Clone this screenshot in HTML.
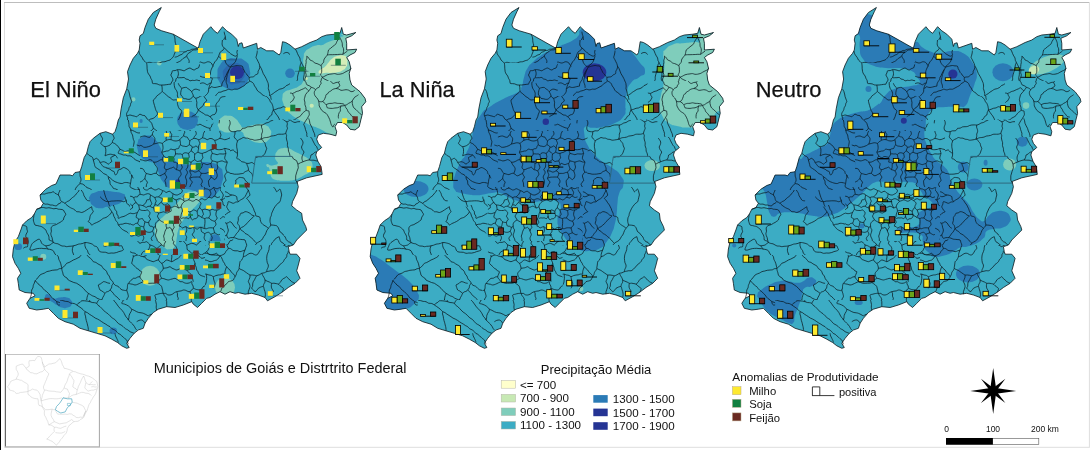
<!DOCTYPE html>
<html lang="pt">
<head>
<meta charset="utf-8">
<title>Anomalias de Produtividade - Goiás</title>
<style>
html,body{margin:0;padding:0;background:#fff;}
body{width:1092px;height:450px;overflow:hidden;position:relative;font-family:"Liberation Sans",sans-serif;}
svg{position:absolute;left:0;top:0;display:block;}
text{font-family:"Liberation Sans",sans-serif;fill:#111;}
</style>
</head>
<body>
<svg width="1092" height="450" viewBox="0 0 1092 450">
<defs>
<path id="st" d="M161.3,7.5 L159.2,11.7 L155.8,19.2 L154.2,25.0 L155.8,28.3 L161.7,30.8 L173.3,34.2 L198.3,48.3 L200.0,41.7 L203.3,34.2 L210.8,26.7 L214.2,30.8 L217.5,33.3 L222.5,26.7 L226.7,30.8 L231.7,34.2 L236.7,39.2 L238.3,46.5 L239.3,43.5 L242.0,42.8 L243.3,48.0 L256.7,43.3 L257.5,49.2 L260.8,47.5 L266.7,50.8 L273.3,50.8 L279.2,55.0 L280.8,52.5 L282.5,41.7 L285.8,42.5 L290.0,45.0 L295.0,49.2 L301.7,46.7 L310.0,42.5 L316.7,40.0 L321.7,36.7 L326.7,35.0 L335.0,34.2 L340.0,33.3 L341.7,27.5 L343.3,34.2 L346.7,35.0 L355.8,32.5 L351.7,35.8 L345.8,38.3 L346.7,43.3 L346.7,50.0 L356.7,49.2 L355.0,52.5 L350.0,55.0 L346.7,57.5 L349.2,61.7 L350.8,68.3 L349.2,73.3 L350.0,80.0 L351.7,85.0 L360.0,91.7 L365.0,98.3 L365.8,101.7 L361.7,106.7 L362.5,113.3 L360.8,120.0 L359.2,126.7 L355.0,130.0 L350.0,129.2 L346.7,125.0 L342.5,122.5 L337.5,122.5 L335.0,126.7 L336.7,131.7 L335.8,135.8 L330.0,134.2 L323.3,133.3 L318.3,135.0 L316.7,139.2 L318.3,143.3 L321.7,147.5 L316.7,151.7 L315.8,155.0 L317.8,161.1 L321.1,166.7 L322.2,174.4 L306.7,177.8 L297.0,181.5 L298.3,186.7 L296.7,193.3 L292.5,201.7 L291.7,205.8 L296.7,210.0 L301.7,213.3 L302.5,220.0 L305.8,226.7 L306.7,230.0 L301.7,235.0 L296.7,240.0 L293.3,245.0 L288.3,246.7 L289.2,251.7 L290.0,254.2 L296.7,254.2 L300.0,258.3 L298.3,265.0 L296.7,270.8 L300.0,278.3 L295.0,283.3 L288.3,287.5 L281.7,292.5 L275.0,296.7 L267.5,300.8 L265.0,297.5 L258.3,295.0 L251.7,293.3 L245.0,294.2 L238.3,292.5 L235.0,293.3 L230.0,291.7 L225.0,294.2 L220.0,291.7 L215.0,294.2 L210.0,297.5 L206.7,298.3 L201.7,303.3 L197.5,307.5 L193.3,304.2 L191.7,301.7 L183.3,305.0 L175.0,307.5 L166.7,306.7 L158.3,309.2 L153.3,312.5 L148.3,318.3 L145.0,323.3 L143.3,328.3 L138.3,330.0 L134.2,333.3 L130.0,338.3 L126.7,343.3 L129.2,347.5 L126.7,348.3 L121.7,345.8 L117.5,342.5 L111.7,339.2 L105.0,335.8 L96.7,333.3 L88.3,330.8 L80.0,328.3 L73.3,324.2 L65.0,321.7 L58.3,318.3 L53.3,313.3 L48.3,308.3 L43.3,309.2 L36.7,310.0 L29.2,308.3 L26.7,303.3 L30.0,298.3 L35.0,295.8 L33.3,293.3 L25.0,292.5 L19.2,290.0 L18.3,283.3 L17.5,278.3 L20.8,273.3 L18.3,268.3 L15.0,263.3 L12.5,256.7 L13.3,249.0 L15.0,241.7 L18.3,236.7 L20.8,230.0 L22.5,225.0 L26.7,220.8 L31.7,217.5 L34.2,214.2 L36.7,209.2 L40.8,207.5 L43.3,203.3 L40.8,200.0 L40.0,195.0 L45.8,189.2 L51.7,185.5 L56.0,184.0 L60.0,175.0 L70.0,175.0 L72.5,175.8 L75.0,172.5 L80.0,171.7 L81.7,166.7 L84.2,157.5 L86.7,153.3 L88.3,146.7 L90.0,141.7 L93.3,138.3 L100.0,133.3 L105.8,131.7 L112.5,134.2 L115.0,131.7 L116.7,126.7 L118.3,120.0 L120.0,117.0 L121.1,108.9 L123.3,97.8 L126.7,88.9 L128.5,79.0 L127.5,71.7 L130.0,65.0 L133.3,58.3 L137.5,53.3 L139.2,50.0 L140.0,43.3 L139.2,40.0 L140.0,35.8 L143.3,33.5 L145.0,27.5 L148.3,19.2 L153.3,12.5Z"/>
<clipPath id="cp"><use href="#st"/></clipPath>
<clipPath id="cA"><rect x="100" y="0" width="100" height="63"/><rect x="200" y="0" width="40" height="40"/></clipPath>
<clipPath id="cB"><rect x="100" y="63" width="100" height="57"/><rect x="200" y="96" width="40" height="24"/></clipPath>
<clipPath id="cC"><rect x="240" y="0" width="50" height="40"/><rect x="290" y="0" width="85" height="25"/></clipPath>
<clipPath id="cD"><rect x="240" y="96" width="50" height="24"/><rect x="300" y="137" width="70" height="18"/></clipPath>
<clipPath id="cE"><rect x="60" y="120" width="80" height="70"/><rect x="140" y="120" width="45" height="11"/></clipPath>
<clipPath id="cF"><rect x="185" y="120" width="115" height="11"/><rect x="230" y="131" width="70" height="56"/></clipPath>
<clipPath id="cG"><rect x="0" y="190" width="130" height="65"/></clipPath>
<clipPath id="cH"><rect x="130" y="241" width="95" height="14"/><rect x="220" y="187" width="5" height="54"/></clipPath>
<clipPath id="cI"><rect x="225" y="187" width="115" height="58"/><rect x="300" y="155" width="40" height="32"/></clipPath>
<clipPath id="cJ"><rect x="0" y="255" width="125" height="45"/><rect x="0" y="300" width="60" height="35"/></clipPath>
<clipPath id="cK"><rect x="125" y="255" width="80" height="45"/><rect x="180" y="300" width="25" height="30"/></clipPath>
<clipPath id="cL"><rect x="205" y="245" width="125" height="70"/></clipPath>
<clipPath id="cM"><rect x="60" y="300" width="120" height="55"/></clipPath>
<clipPath id="cN"><rect x="130" y="187" width="90" height="54"/></clipPath>
<clipPath id="cO"><rect x="140" y="131" width="90" height="56"/></clipPath>
<clipPath id="cP"><rect x="200" y="40" width="90" height="56"/></clipPath>
<clipPath id="cQ"><rect x="290" y="25" width="85" height="56"/></clipPath>
<clipPath id="cR"><rect x="290" y="81" width="85" height="39"/><rect x="300" y="120" width="75" height="17"/></clipPath>
<clipPath id="cS"><rect x="297" y="137" width="33" height="53"/></clipPath>
<g id="muni" fill="none" stroke="#0a161c" stroke-width="0.74" stroke-linejoin="round">
<g clip-path="url(#cA)">
<path d="M173.3,34.2 C173.5,34.6 174.2,35.7 174.5,36.6 C174.8,37.4 174.9,38.2 175.0,39.2 C175.1,40.1 175.0,41.2 175.2,42.1 C175.3,43.1 175.9,44.2 176.0,45.0 C176.1,45.8 175.5,46.5 175.5,47.2 C175.5,47.9 175.8,48.7 175.8,49.5 C175.8,50.2 175.6,50.9 175.3,51.7 C175.1,52.4 174.7,53.3 174.3,54.2 C174.0,55.0 173.8,56.0 173.3,56.7 C172.9,57.4 172.3,57.8 171.7,58.4 C171.1,58.9 170.7,59.6 170.0,60.0 C169.3,60.4 168.3,60.4 167.5,60.7 C166.6,61.0 165.8,61.5 165.0,61.7 C164.2,61.9 163.3,61.7 162.4,61.9 C161.6,62.1 160.8,62.4 160.0,62.7 C159.2,62.9 158.4,63.2 157.5,63.2 C156.7,63.3 155.8,63.0 155.0,63.0 C154.2,63.0 153.6,63.3 152.9,63.2 C152.2,63.1 151.5,62.6 150.8,62.5 C150.1,62.4 149.4,62.3 148.7,62.4 C148.0,62.5 147.3,63.1 146.7,63.0 C146.0,62.9 145.5,62.0 145.0,61.5 C144.4,61.0 143.8,60.6 143.3,60.0 C142.9,59.4 142.7,58.5 142.3,57.8 C141.9,57.1 141.3,56.5 140.8,55.8 C140.4,55.2 139.8,54.5 139.5,53.8 C139.3,53.0 139.2,51.7 139.2,51.3"/>
<path d="M174.7,57.2 C175.1,57.1 176.6,56.9 177.5,56.5 C178.4,56.1 179.2,55.4 180.0,55.0 C180.8,54.6 181.6,54.7 182.2,54.3 C182.8,53.8 183.1,52.8 183.7,52.4 C184.3,52.0 185.2,52.0 185.8,51.7 C186.5,51.4 187.0,50.7 187.6,50.5 C188.3,50.3 189.2,50.6 189.8,50.4 C190.5,50.2 191.0,49.6 191.7,49.3 C192.3,49.1 193.2,49.2 193.9,49.1 C194.7,49.0 195.4,48.8 196.1,48.6 C196.9,48.4 198.0,48.1 198.3,48.0"/>
<path d="M198.3,49.3 C197.9,49.4 196.7,49.8 195.9,49.9 C195.0,50.0 194.0,49.8 193.3,50.0 C192.6,50.2 192.2,50.7 191.6,51.1 C191.1,51.5 190.6,52.0 190.1,52.3 C189.5,52.7 188.8,53.0 188.3,53.3 C187.9,53.7 187.7,54.1 187.4,54.5 C187.1,54.9 186.7,55.3 186.7,55.8 C186.7,56.4 187.0,57.2 187.4,57.8 C187.7,58.4 188.4,58.9 188.7,59.6 C189.0,60.2 189.2,60.9 189.2,61.7 C189.1,62.5 188.8,63.6 188.4,64.4 C187.9,65.2 187.2,65.9 186.7,66.7 C186.1,67.4 185.5,68.2 185.1,69.0 C184.7,69.8 184.4,70.9 184.2,71.7 C184.0,72.4 184.1,72.8 184.0,73.4 C183.8,73.9 183.4,74.7 183.3,75.0"/>
<path d="M157.0,63.3 C157.3,63.6 158.2,64.1 158.7,64.6 C159.2,65.1 159.4,66.1 160.0,66.3 C160.6,66.5 161.5,65.8 162.2,65.8 C162.9,65.7 163.7,65.9 164.4,65.9 C165.2,65.9 165.9,65.9 166.7,65.8 C167.4,65.7 168.1,65.4 168.8,65.2 C169.6,65.0 170.3,64.9 171.1,64.8 C171.8,64.8 172.5,65.2 173.3,65.0 C174.1,64.8 174.9,63.9 175.8,63.4 C176.6,62.9 177.6,62.4 178.3,62.0 C179.1,61.6 179.7,61.5 180.2,61.1 C180.8,60.7 181.3,60.3 181.8,59.8 C182.4,59.3 182.8,58.8 183.3,58.3 C183.9,57.9 184.6,57.7 185.2,57.3 C185.7,56.9 186.4,56.1 186.7,55.8"/>
<path d="M224.2,31.7 C224.2,32.1 224.4,33.4 224.6,34.2 C224.8,35.0 225.4,35.9 225.3,36.7 C225.3,37.4 224.5,38.1 224.2,38.8 C223.8,39.5 223.5,40.2 223.2,41.0 C222.9,41.8 222.8,42.6 222.5,43.3 C222.2,44.1 221.5,44.9 221.2,45.7 C221.0,46.5 221.0,47.5 220.8,48.3 C220.7,49.2 220.3,50.0 220.2,50.8 C220.0,51.6 220.4,52.7 220.0,53.3 C219.6,54.0 218.6,54.1 218.0,54.7 C217.5,55.3 217.3,56.1 216.7,56.7 C216.0,57.2 215.1,57.7 214.3,57.9 C213.5,58.2 212.5,58.3 211.7,58.3 C210.8,58.3 210.0,58.1 209.2,58.0 C208.3,57.8 207.5,57.6 206.7,57.5 C205.8,57.4 204.9,57.3 204.1,57.5 C203.3,57.6 202.2,57.8 201.7,58.3 C201.1,58.9 201.0,60.0 200.7,60.8 C200.4,61.6 200.0,62.5 200.0,63.3 C200.0,64.2 200.2,65.1 200.5,66.0 C200.7,66.8 201.6,67.6 201.7,68.3 C201.7,69.0 201.2,69.7 200.9,70.2 C200.5,70.8 199.9,71.2 199.5,71.7 C199.0,72.2 198.9,72.9 198.3,73.3 C197.7,73.8 196.7,74.1 195.9,74.4 C195.1,74.7 193.8,74.9 193.3,75.0"/>
<path d="M225.3,36.7 C225.4,37.0 225.5,38.2 225.6,39.0 C225.7,39.7 225.9,40.5 226.1,41.2 C226.4,41.9 226.6,42.6 227.0,43.3 C227.4,44.1 228.0,45.0 228.5,45.8 C229.0,46.7 230.0,47.6 230.0,48.3 C230.0,49.1 229.1,49.6 228.5,50.2 C227.9,50.7 227.1,51.2 226.7,51.7 C226.2,52.1 226.1,52.6 225.7,52.9 C225.3,53.2 224.7,53.3 224.2,53.3 C223.6,53.4 223.0,53.3 222.5,53.3 C221.9,53.4 221.1,53.6 220.8,53.7"/>
<path d="M230.0,48.3 C230.4,48.4 231.5,48.6 232.3,48.7 C233.0,48.8 233.8,48.9 234.5,49.1 C235.3,49.3 236.0,50.0 236.7,50.0 C237.3,50.0 237.8,49.6 238.4,49.3 C239.0,49.0 239.7,48.5 240.0,48.3"/>
<path d="M226.7,51.7 C226.9,52.1 227.6,53.2 227.9,54.1 C228.3,54.9 228.8,55.8 228.7,56.7 C228.6,57.5 227.6,58.2 227.2,59.0 C226.9,59.8 226.5,61.0 226.7,61.7 C226.8,62.4 227.7,62.6 228.1,63.1 C228.4,63.7 228.4,64.5 228.7,65.1 C229.0,65.7 229.9,66.0 230.0,66.7 C230.1,67.4 229.8,68.5 229.6,69.3 C229.3,70.1 228.4,71.0 228.3,71.7 C228.3,72.3 229.1,72.7 229.4,73.2 C229.7,73.8 229.9,74.7 230.0,75.0"/>
<path d="M211.7,58.3 C211.8,58.7 212.1,59.8 212.3,60.5 C212.5,61.3 212.7,62.0 212.9,62.7 C213.1,63.5 213.4,64.3 213.3,65.0 C213.3,65.7 212.9,66.3 212.5,66.9 C212.1,67.4 211.2,67.6 210.8,68.1 C210.4,68.7 210.0,69.3 210.0,70.0 C210.0,70.7 210.8,71.6 210.9,72.4 C211.0,73.3 210.8,74.6 210.8,75.0"/>
</g>
<g clip-path="url(#cB)">
<path d="M146.7,63.0 C146.7,63.5 146.9,64.9 147.0,65.9 C147.0,66.9 147.0,67.8 147.1,68.8 C147.2,69.8 147.3,70.8 147.5,71.7 C147.7,72.5 148.0,73.2 148.5,74.0 C148.9,74.7 149.6,75.2 150.0,76.0 C150.4,76.7 150.5,77.5 150.8,78.3 C151.2,79.1 151.9,79.8 152.1,80.7 C152.4,81.5 152.1,82.8 152.5,83.3 C152.9,83.8 154.0,83.5 154.8,83.6 C155.6,83.7 156.4,83.7 157.1,83.9 C157.9,84.2 158.6,84.7 159.3,84.9 C160.1,85.1 160.9,85.0 161.7,85.0 C162.4,85.0 163.2,85.0 164.0,85.0 C164.7,84.9 165.5,84.8 166.3,84.7 C167.0,84.6 167.8,84.5 168.5,84.4 C169.3,84.3 170.5,84.2 170.8,84.2"/>
<path d="M170.8,84.2 C171.0,83.8 171.3,82.7 171.7,82.0 C172.1,81.3 172.9,80.8 173.0,80.0 C173.1,79.2 172.4,78.3 172.1,77.4 C171.7,76.6 170.9,75.7 170.8,75.0 C170.8,74.3 171.6,73.7 171.8,73.0 C172.1,72.3 172.0,71.2 172.5,70.8 C173.0,70.4 174.2,70.8 175.1,70.6 C175.9,70.4 176.7,69.8 177.5,69.7 C178.3,69.5 179.0,69.7 179.8,69.7 C180.5,69.8 181.3,70.0 182.0,70.2 C182.7,70.4 183.5,70.9 184.2,70.8 C184.8,70.7 185.3,69.9 186.0,69.6 C186.6,69.2 187.3,69.0 187.9,68.7 C188.6,68.4 189.3,67.9 190.0,68.0 C190.7,68.1 191.3,68.9 192.0,69.2 C192.7,69.5 193.5,70.1 194.2,70.0 C194.9,69.9 195.4,69.0 196.1,68.7 C196.8,68.3 197.8,68.4 198.3,68.0 C198.9,67.6 198.9,66.7 199.2,66.1 C199.5,65.5 199.5,64.6 200.0,64.2 C200.5,63.7 201.4,63.7 202.2,63.5 C202.9,63.3 203.7,63.3 204.4,63.2 C205.2,63.1 205.9,62.9 206.7,63.0 C207.5,63.1 208.4,63.6 209.2,63.9 C210.0,64.3 211.4,64.4 211.7,65.0 C211.9,65.6 210.8,66.6 210.5,67.4 C210.2,68.2 209.8,69.3 210.0,70.0 C210.2,70.7 211.1,71.2 211.8,71.7 C212.4,72.3 213.4,72.7 213.7,73.3 C213.9,74.0 213.6,74.9 213.3,75.6 C213.0,76.3 212.0,76.9 212.0,77.5 C212.0,78.1 212.9,78.8 213.3,79.5 C213.6,80.2 214.3,80.9 214.2,81.7 C214.0,82.4 213.0,83.3 212.3,84.0 C211.6,84.7 210.7,85.1 210.0,85.8 C209.3,86.5 208.8,87.3 208.4,88.2 C208.0,89.0 208.0,90.1 207.5,90.8 C207.0,91.6 205.9,92.0 205.2,92.7 C204.5,93.4 204.1,94.5 203.3,95.0 C202.6,95.5 201.5,95.6 200.7,96.0 C199.9,96.4 199.1,97.1 198.3,97.5 C197.5,97.9 196.2,98.2 195.8,98.3"/>
<path d="M177.5,69.7 C177.6,70.1 178.2,71.4 178.3,72.3 C178.4,73.2 178.5,74.1 178.3,75.0 C178.2,75.9 177.3,77.0 177.5,77.5 C177.7,78.0 179.0,77.7 179.7,77.7 C180.5,77.7 181.2,77.7 181.9,77.7 C182.7,77.6 183.5,77.3 184.2,77.5 C184.8,77.7 185.2,78.7 185.9,79.0 C186.6,79.3 187.5,79.2 188.2,79.5 C188.9,79.8 189.3,80.7 190.0,80.8 C190.7,81.0 191.4,80.4 192.2,80.3 C192.9,80.3 193.7,80.6 194.5,80.5 C195.2,80.5 195.9,80.0 196.7,80.0 C197.4,80.0 198.1,80.5 198.9,80.6 C199.6,80.7 200.4,80.6 201.1,80.7 C201.9,80.8 202.8,81.5 203.3,81.3 C203.9,81.1 204.2,80.1 204.5,79.5 C204.8,78.9 204.8,77.9 205.3,77.5 C205.9,77.1 206.9,77.1 207.6,77.0 C208.4,76.8 209.3,76.6 210.0,76.7 C210.7,76.8 211.7,77.4 212.0,77.5"/>
<path d="M177.5,77.5 C177.3,77.7 176.3,78.3 176.0,78.9 C175.7,79.5 176.0,80.5 175.7,81.1 C175.4,81.7 174.4,81.8 174.2,82.5 C173.9,83.2 174.2,84.5 174.3,85.5 C174.5,86.4 174.6,87.5 175.0,88.3 C175.4,89.2 176.1,89.8 176.6,90.7 C177.0,91.5 177.4,92.5 177.5,93.3 C177.6,94.2 177.3,95.1 177.4,95.9 C177.6,96.7 178.2,97.9 178.3,98.3"/>
<path d="M161.7,85.0 C161.7,85.4 162.0,86.5 162.1,87.2 C162.2,87.9 162.2,88.7 162.2,89.4 C162.3,90.2 162.1,91.0 162.5,91.7 C162.9,92.3 163.8,92.7 164.5,93.3 C165.2,93.8 165.8,94.4 166.4,95.0 C167.1,95.5 167.7,96.2 168.3,96.7 C168.9,97.1 169.5,97.3 170.1,97.7 C170.6,98.1 171.0,98.6 171.6,99.0 C172.1,99.4 172.7,99.9 173.3,100.0 C174.0,100.1 174.7,99.8 175.4,99.8 C176.1,99.8 177.2,100.0 177.5,100.0"/>
<path d="M162.0,91.7 C161.7,91.9 160.9,92.8 160.3,93.3 C159.6,93.8 158.9,94.3 158.3,94.8 C157.7,95.3 157.0,95.7 156.5,96.3 C156.0,97.0 155.7,97.9 155.2,98.5 C154.7,99.1 153.6,99.3 153.3,100.0 C153.1,100.7 153.6,101.9 153.7,102.8 C153.9,103.8 154.2,104.7 154.5,105.6 C154.7,106.5 155.1,107.5 155.3,108.3 C155.6,109.1 155.6,109.7 155.9,110.3 C156.2,111.0 156.9,111.4 157.1,112.1 C157.4,112.7 157.4,113.8 157.5,114.2"/>
<path d="M157.5,114.2 C157.2,114.6 156.3,115.8 155.6,116.5 C154.9,117.2 154.1,117.9 153.3,118.3 C152.5,118.8 151.6,118.7 150.8,119.0 C149.9,119.3 149.0,120.2 148.3,120.0 C147.6,119.8 147.1,118.7 146.5,118.0 C146.0,117.3 145.7,116.3 145.0,115.8 C144.3,115.4 143.2,115.6 142.4,115.3 C141.6,115.0 140.7,114.1 140.0,114.2 C139.3,114.2 138.9,115.0 138.3,115.4 C137.8,115.8 137.3,116.6 136.7,116.7 C136.0,116.8 135.2,116.3 134.4,116.1 C133.7,115.9 133.0,115.8 132.2,115.6 C131.5,115.4 130.6,115.0 130.0,115.0 C129.4,115.0 128.9,115.3 128.3,115.5 C127.8,115.6 126.9,115.8 126.7,115.8"/>
<path d="M148.3,120.0 C148.4,120.4 148.4,121.7 148.6,122.5 C148.7,123.4 149.1,124.6 149.2,125.0"/>
<path d="M178.3,83.3 C178.5,83.6 178.8,84.7 179.1,85.2 C179.5,85.8 180.0,86.3 180.4,86.8 C180.8,87.3 181.5,87.7 181.7,88.3 C181.8,89.0 181.3,89.8 181.1,90.5 C181.0,91.3 180.8,92.0 180.7,92.7 C180.7,93.5 180.6,94.4 180.8,95.0 C181.1,95.6 181.9,96.0 182.3,96.5 C182.7,97.1 182.8,98.0 183.3,98.3 C183.9,98.7 184.8,98.6 185.5,98.7 C186.3,98.9 187.0,99.2 187.7,99.3 C188.5,99.4 189.3,99.4 190.0,99.2 C190.7,98.9 191.4,98.3 191.9,97.8 C192.5,97.2 193.2,96.5 193.3,95.8 C193.4,95.2 192.8,94.4 192.6,93.7 C192.3,93.0 191.6,92.3 191.7,91.7 C191.8,91.1 192.6,90.6 193.1,90.2 C193.7,89.7 194.3,89.3 195.0,89.2 C195.7,89.0 196.5,89.2 197.2,89.4 C198.0,89.5 198.6,90.1 199.4,90.2 C200.1,90.3 201.1,89.7 201.7,90.0 C202.2,90.3 202.6,91.2 202.9,91.9 C203.1,92.6 203.3,93.8 203.3,94.2"/>
<path d="M181.7,88.3 C182.1,88.2 183.3,87.7 184.1,87.6 C184.9,87.4 186.0,87.3 186.7,87.5 C187.4,87.7 187.7,88.5 188.2,88.9 C188.8,89.3 189.4,89.5 190.0,90.0 C190.6,90.5 191.4,91.4 191.7,91.7"/>
<path d="M193.3,95.8 C193.5,96.1 193.8,97.0 194.3,97.4 C194.7,97.8 195.5,97.8 195.8,98.3 C196.2,98.9 196.3,99.8 196.5,100.5 C196.6,101.2 196.8,102.0 196.9,102.7 C196.9,103.5 196.6,104.2 196.7,105.0 C196.7,105.8 196.7,106.8 197.0,107.7 C197.3,108.5 198.3,109.3 198.3,110.0 C198.4,110.7 197.8,111.3 197.5,111.8 C197.2,112.4 196.8,113.0 196.4,113.5 C196.0,114.1 195.5,114.6 195.0,115.0 C194.5,115.4 193.8,115.4 193.3,115.7 C192.7,116.0 191.9,116.5 191.7,116.7"/>
<path d="M177.5,100.0 C177.5,100.4 177.3,101.5 177.4,102.3 C177.4,103.0 177.4,103.8 177.6,104.5 C177.8,105.2 178.1,106.0 178.3,106.7 C178.6,107.3 178.7,108.0 179.1,108.6 C179.5,109.1 180.5,109.2 180.9,109.8 C181.3,110.3 181.7,110.9 181.7,111.7 C181.6,112.4 181.0,113.3 180.7,114.1 C180.5,115.0 180.3,115.8 180.0,116.7 C179.7,117.5 179.2,118.4 178.8,119.2 C178.4,120.0 177.7,121.3 177.5,121.7"/>
<path d="M203.3,95.0 C203.5,95.3 203.9,96.2 204.3,96.8 C204.6,97.4 204.9,98.0 205.3,98.5 C205.7,99.1 206.6,99.4 206.7,100.0 C206.8,100.6 206.3,101.3 205.8,101.8 C205.4,102.4 204.4,102.5 204.0,103.1 C203.6,103.6 203.7,104.4 203.3,105.0 C203.0,105.6 202.5,106.3 201.9,106.9 C201.3,107.4 200.5,107.7 199.9,108.2 C199.3,108.7 198.6,109.7 198.3,110.0"/>
<path d="M214.2,81.7 C214.5,81.7 215.5,81.9 216.1,82.1 C216.8,82.4 217.3,83.0 217.9,83.2 C218.6,83.4 219.3,83.3 220.0,83.3 C220.7,83.4 221.5,83.5 222.3,83.4 C223.0,83.3 223.7,82.6 224.4,82.5 C225.1,82.3 225.9,82.3 226.7,82.5 C227.4,82.7 228.0,83.4 228.8,83.7 C229.5,84.0 230.3,84.1 231.1,84.3 C231.8,84.5 232.6,84.9 233.3,85.0 C234.1,85.1 234.9,84.7 235.6,84.8 C236.3,85.0 237.0,85.8 237.7,86.0 C238.5,86.2 239.6,85.9 240.0,85.8"/>
<path d="M207.5,90.8 C208.0,90.8 209.5,90.8 210.5,90.7 C211.4,90.5 212.5,90.1 213.3,90.0 C214.2,89.9 214.9,90.1 215.6,90.3 C216.4,90.4 217.1,90.6 217.8,90.8 C218.6,91.1 219.3,91.6 220.0,91.7 C220.7,91.7 221.5,91.5 222.2,91.2 C223.0,91.0 223.6,90.3 224.3,90.1 C225.1,89.9 225.9,90.0 226.7,90.0 C227.4,90.0 228.2,90.0 228.9,90.0 C229.7,89.9 230.4,89.8 231.1,89.7 C231.9,89.6 232.6,89.3 233.3,89.2 C234.1,89.0 234.9,88.9 235.6,89.0 C236.3,89.1 237.0,89.7 237.8,89.9 C238.5,90.1 239.6,90.0 240.0,90.0"/>
<path d="M198.3,110.0 C198.6,110.2 199.4,110.8 199.9,111.2 C200.5,111.6 201.0,112.0 201.6,112.4 C202.1,112.7 202.7,112.9 203.3,113.3 C204.0,113.7 204.6,114.5 205.4,114.9 C206.1,115.2 207.1,115.0 207.9,115.3 C208.7,115.6 209.3,116.7 210.0,116.7 C210.7,116.6 211.5,115.4 212.3,115.0 C213.1,114.6 214.4,114.6 215.0,114.2 C215.6,113.7 215.9,112.9 216.1,112.2 C216.4,111.5 216.7,110.8 216.7,110.0 C216.7,109.2 216.2,108.4 216.1,107.5 C215.9,106.7 215.7,105.8 215.8,105.0 C216.0,104.2 216.6,103.4 217.1,102.7 C217.6,102.0 218.4,101.5 218.9,100.7 C219.4,100.0 219.5,99.0 220.0,98.3 C220.5,97.7 221.3,97.2 222.1,96.9 C222.9,96.6 223.9,96.8 224.6,96.5 C225.4,96.2 226.0,95.3 226.7,95.0 C227.4,94.7 228.2,94.9 228.9,94.7 C229.6,94.5 230.3,94.1 231.1,94.0 C231.8,93.9 232.6,94.0 233.3,94.2 C234.1,94.3 234.8,94.8 235.5,94.9 C236.2,95.0 237.0,94.8 237.8,94.8 C238.5,94.8 239.6,95.0 240.0,95.0"/>
<path d="M210.0,116.7 C210.2,116.9 211.0,117.6 211.4,118.1 C211.9,118.6 212.2,119.2 212.5,119.8 C212.8,120.4 212.9,121.2 213.3,121.7 C213.7,122.2 214.4,122.5 214.9,122.9 C215.5,123.2 216.3,123.3 216.8,123.6 C217.4,124.0 218.1,124.8 218.3,125.0"/>
<path d="M216.7,50.0 C216.8,50.3 217.3,51.2 217.7,51.7 C218.1,52.2 218.6,52.7 219.0,53.2 C219.4,53.8 220.1,54.3 220.0,55.0 C219.9,55.7 218.9,56.5 218.4,57.3 C218.0,58.2 217.5,59.2 217.5,60.0 C217.5,60.8 218.3,61.2 218.5,61.9 C218.8,62.5 218.9,63.2 219.2,63.9 C219.4,64.6 219.9,65.2 220.0,65.8 C220.1,66.5 219.8,67.2 219.6,67.8 C219.4,68.5 219.2,69.1 219.0,69.7 C218.8,70.4 218.4,71.0 218.3,71.7 C218.2,72.4 218.2,73.3 218.4,74.0 C218.7,74.7 219.6,75.3 219.8,76.0 C220.1,76.7 219.7,77.7 220.0,78.3 C220.3,78.9 221.1,79.3 221.7,79.7 C222.3,80.1 223.0,80.4 223.5,80.9 C224.1,81.4 224.8,82.2 225.0,82.5"/>
<path d="M220.0,65.8 C220.4,65.7 221.5,65.3 222.2,65.0 C223.0,64.7 223.6,64.3 224.4,64.0 C225.1,63.7 226.0,63.6 226.7,63.3 C227.4,63.1 228.0,62.6 228.7,62.5 C229.4,62.3 230.2,62.3 230.8,62.5 C231.5,62.7 232.0,63.4 232.7,63.7 C233.4,64.1 234.2,64.1 234.9,64.5 C235.5,64.8 236.1,65.6 236.7,65.8 C237.3,66.1 237.8,65.9 238.4,66.0 C238.9,66.2 239.7,66.6 240.0,66.7"/>
<path d="M127.5,89.2 C127.7,89.6 128.5,90.7 128.8,91.5 C129.1,92.3 129.3,93.2 129.5,94.0 C129.7,94.9 129.8,95.8 130.0,96.7 C130.2,97.5 130.7,98.3 130.9,99.1 C131.2,100.0 131.7,100.9 131.7,101.7 C131.6,102.4 130.9,102.9 130.7,103.5 C130.4,104.2 130.6,105.0 130.3,105.7 C130.1,106.4 129.4,106.9 129.2,107.5 C128.9,108.1 128.9,108.9 128.7,109.6 C128.5,110.3 128.1,110.9 127.7,111.5 C127.4,112.1 126.8,112.7 126.7,113.3 C126.5,114.0 126.5,114.9 126.7,115.6 C126.8,116.3 127.4,117.0 127.6,117.7 C127.7,118.5 127.6,119.2 127.5,120.0 C127.4,120.8 127.0,121.6 126.8,122.5 C126.7,123.3 126.7,124.6 126.7,125.0"/>
</g>
<g clip-path="url(#cC)">
<path d="M256.7,43.3 C256.7,43.7 256.7,44.8 256.6,45.6 C256.6,46.3 256.6,47.0 256.6,47.8 C256.6,48.5 256.8,49.2 256.7,50.0 C256.6,50.8 256.2,51.8 256.0,52.7 C255.9,53.7 255.8,54.6 255.7,55.5 C255.7,56.4 255.7,57.4 255.8,58.3 C256.0,59.3 256.2,60.3 256.6,61.3 C257.0,62.2 257.8,62.9 258.2,63.8 C258.6,64.7 258.9,65.8 259.2,66.7 C259.4,67.5 259.4,68.3 259.8,69.0 C260.2,69.6 260.9,70.2 261.3,70.8 C261.8,71.4 262.1,72.1 262.5,72.8 C262.8,73.5 262.9,74.2 263.3,75.0 C263.7,75.8 264.5,76.7 264.8,77.6 C265.2,78.6 265.2,79.6 265.5,80.6 C265.9,81.5 266.3,82.5 266.7,83.3 C267.0,84.1 267.5,84.7 267.8,85.4 C268.1,86.2 268.3,86.9 268.5,87.7 C268.8,88.5 269.0,89.2 269.2,90.0 C269.3,90.8 269.3,91.7 269.5,92.5 C269.6,93.4 269.9,94.6 270.0,95.0"/>
<path d="M240.0,65.0 C240.3,65.3 241.1,66.1 241.6,66.7 C242.2,67.3 242.9,67.8 243.3,68.3 C243.8,68.9 243.9,69.6 244.2,70.1 C244.6,70.7 244.9,71.3 245.3,71.8 C245.8,72.3 246.2,72.7 246.7,73.3 C247.1,74.0 247.5,75.0 248.0,75.6 C248.6,76.3 249.4,77.3 250.0,77.5 C250.6,77.7 251.2,76.8 251.9,76.7 C252.6,76.6 253.4,77.0 254.0,76.8 C254.7,76.7 255.3,76.4 255.8,75.8 C256.3,75.3 256.6,74.2 257.0,73.4 C257.4,72.5 257.9,71.8 258.3,70.9 C258.6,70.1 259.0,68.8 259.2,68.3"/>
<path d="M250.0,77.5 C250.2,77.8 251.0,78.6 251.4,79.3 C251.7,79.9 251.8,80.8 252.1,81.5 C252.4,82.2 252.9,82.8 253.4,83.4 C253.9,84.0 254.5,84.4 255.0,85.0 C255.5,85.6 255.8,86.4 256.4,87.0 C256.9,87.6 257.5,88.0 258.1,88.5 C258.7,89.0 259.5,89.4 260.0,90.0 C260.5,90.6 260.8,91.4 261.4,91.9 C262.0,92.4 263.1,92.5 263.7,93.0 C264.3,93.5 264.8,94.7 265.0,95.0"/>
<path d="M295.0,49.2 C295.1,49.5 295.3,50.6 295.7,51.2 C296.0,51.8 296.7,52.3 297.0,52.9 C297.3,53.5 297.2,54.3 297.5,55.0 C297.8,55.7 298.4,56.5 298.8,57.3 C299.2,58.1 299.5,58.9 300.0,59.6 C300.5,60.4 301.3,60.9 301.7,61.7 C302.0,62.4 301.9,63.3 302.2,64.0 C302.5,64.7 303.0,65.4 303.3,66.1 C303.6,66.8 304.2,67.6 304.2,68.3 C304.1,69.1 303.5,69.8 303.2,70.5 C303.0,71.3 302.9,72.1 302.6,72.8 C302.4,73.6 301.7,74.2 301.7,75.0 C301.6,75.8 302.2,76.7 302.5,77.5 C302.8,78.3 303.5,79.3 303.3,80.0 C303.2,80.7 302.2,81.4 301.5,82.0 C300.8,82.5 299.9,83.1 299.2,83.3 C298.4,83.6 297.6,83.4 296.8,83.6 C296.1,83.7 295.3,83.9 294.6,84.1 C293.8,84.3 293.1,84.6 292.3,84.8 C291.6,85.0 290.7,84.8 290.0,85.0 C289.3,85.2 288.6,85.9 287.8,86.2 C287.1,86.6 286.2,86.7 285.4,87.0 C284.7,87.4 284.1,87.9 283.3,88.3 C282.6,88.7 281.9,89.2 281.1,89.5 C280.4,89.8 279.4,89.8 278.7,90.1 C277.9,90.5 277.4,91.4 276.7,91.7 C275.9,91.9 275.1,91.6 274.3,91.8 C273.6,91.9 272.9,92.2 272.1,92.4 C271.4,92.7 270.4,93.2 270.0,93.3"/>
<path d="M306.7,58.3 C306.9,58.5 307.7,59.0 308.3,59.3 C308.8,59.6 309.4,59.7 310.0,60.0 C310.6,60.3 311.2,60.7 311.7,61.1 C312.2,61.5 312.7,62.0 313.2,62.4 C313.8,62.8 314.3,63.1 315.0,63.3 C315.7,63.6 316.8,63.5 317.6,63.8 C318.5,64.0 319.3,64.9 320.0,65.0 C320.7,65.1 321.2,64.6 321.8,64.3 C322.3,64.1 323.0,63.9 323.3,63.3 C323.7,62.8 323.6,61.8 323.8,61.1 C324.0,60.3 324.3,59.7 324.5,58.9 C324.8,58.2 324.8,57.3 325.0,56.7 C325.2,56.0 325.5,55.4 325.8,54.8 C326.2,54.2 326.7,53.8 327.1,53.2 C327.5,52.7 328.0,52.3 328.3,51.7 C328.6,51.0 328.7,50.1 328.9,49.4 C329.2,48.6 329.5,47.9 329.8,47.2 C330.2,46.4 330.4,45.6 330.8,45.0 C331.3,44.4 331.9,44.0 332.4,43.5 C332.9,42.9 333.2,42.2 333.6,41.6 C334.0,41.1 334.4,40.6 335.0,40.0 C335.6,39.4 336.5,38.9 337.0,38.2 C337.6,37.5 338.1,36.2 338.3,35.8"/>
<path d="M306.7,58.3 C306.7,58.7 306.8,59.8 306.7,60.6 C306.6,61.3 306.4,62.1 306.2,62.8 C306.1,63.5 305.8,64.3 305.8,65.0 C305.9,65.7 306.3,66.4 306.4,67.2 C306.5,67.9 306.5,68.7 306.5,69.4 C306.5,70.2 306.8,70.9 306.7,71.7 C306.5,72.5 306.1,73.3 305.8,74.1 C305.5,75.0 305.0,75.8 305.0,76.7 C305.0,77.5 305.4,78.4 305.7,79.2 C306.0,80.0 306.3,81.0 306.7,81.7 C307.0,82.3 307.6,82.7 308.0,83.2 C308.4,83.7 308.7,84.3 309.0,84.9 C309.3,85.5 309.9,86.1 310.0,86.7 C310.1,87.3 309.7,87.9 309.5,88.5 C309.2,89.0 308.5,89.7 308.3,90.0"/>
<path d="M320.0,65.0 C320.1,65.4 320.5,66.5 320.6,67.2 C320.7,68.0 320.6,68.8 320.7,69.5 C320.9,70.3 321.5,70.8 321.7,71.7 C321.8,72.5 321.9,73.7 321.7,74.6 C321.6,75.6 321.0,76.5 320.8,77.5 C320.7,78.5 320.8,79.5 320.6,80.4 C320.5,81.4 320.0,82.5 320.0,83.3 C320.0,84.2 320.1,84.9 320.4,85.6 C320.7,86.3 321.8,87.0 321.7,87.5 C321.6,88.0 320.5,88.2 319.9,88.6 C319.3,89.0 318.9,89.9 318.3,90.0 C317.8,90.1 317.0,89.5 316.5,89.2 C315.9,88.8 315.4,88.3 314.9,87.9 C314.4,87.5 313.9,86.8 313.3,86.7 C312.8,86.5 312.1,86.9 311.5,87.2 C310.9,87.4 310.4,87.9 310.0,88.3 C309.6,88.8 309.2,89.4 308.9,90.0 C308.6,90.6 308.5,91.4 308.2,91.9 C307.8,92.5 307.2,93.0 306.7,93.3 C306.1,93.6 305.4,93.5 304.8,93.8 C304.3,94.1 303.6,94.8 303.3,95.0"/>
<path d="M328.3,51.7 C328.8,51.7 330.0,51.8 330.9,52.0 C331.7,52.1 332.6,52.5 333.3,52.5 C334.1,52.5 334.8,52.1 335.5,52.0 C336.3,51.8 337.0,51.7 337.7,51.6 C338.5,51.6 339.4,51.5 340.0,51.7 C340.6,51.8 341.0,52.3 341.6,52.5 C342.1,52.6 342.8,52.7 343.3,52.5 C343.9,52.3 344.5,51.7 345.0,51.3 C345.6,50.9 346.4,50.2 346.7,50.0"/>
<path d="M343.3,52.5 C343.3,52.1 343.2,50.8 342.9,50.0 C342.7,49.2 342.0,48.4 341.8,47.6 C341.6,46.8 341.8,45.8 341.7,45.0 C341.5,44.2 341.1,43.6 340.9,42.8 C340.7,42.1 340.4,41.4 340.3,40.6 C340.1,39.9 340.1,39.0 340.0,38.3 C339.9,37.7 340.0,37.2 339.8,36.6 C339.7,36.1 339.3,35.3 339.2,35.0"/>
<path d="M321.7,75.8 C322.1,75.9 323.5,76.0 324.3,76.2 C325.1,76.5 325.8,77.5 326.7,77.5 C327.5,77.5 328.4,76.8 329.3,76.4 C330.1,76.0 330.9,75.4 331.7,75.0 C332.4,74.6 333.1,74.3 333.8,74.1 C334.5,73.9 335.3,74.0 336.1,73.9 C336.9,73.7 337.7,73.6 338.3,73.3 C339.0,73.1 339.5,72.7 340.1,72.4 C340.7,72.0 341.3,71.7 341.8,71.4 C342.4,71.0 342.8,70.3 343.3,70.0 C343.9,69.7 344.6,69.6 345.3,69.4 C345.9,69.2 346.6,69.1 347.2,68.9 C347.9,68.7 348.8,68.4 349.2,68.3"/>
<path d="M326.7,77.5 C327.0,77.8 328.1,78.8 328.8,79.5 C329.5,80.2 330.2,81.0 330.8,81.7 C331.5,82.3 332.2,82.8 332.9,83.4 C333.6,83.9 334.2,84.8 335.0,85.0 C335.8,85.2 336.8,84.8 337.6,84.5 C338.4,84.2 339.2,83.7 340.0,83.3 C340.8,83.0 341.4,82.7 342.1,82.5 C342.9,82.2 343.6,82.1 344.4,82.0 C345.1,81.8 346.0,81.9 346.7,81.7 C347.3,81.4 347.6,80.7 348.1,80.4 C348.7,80.1 349.7,80.1 350.0,80.0"/>
<path d="M335.0,85.0 C334.9,85.4 334.7,86.7 334.4,87.6 C334.1,88.4 333.3,89.3 333.3,90.0 C333.3,90.7 334.0,91.1 334.5,91.7 C334.9,92.2 335.5,92.5 335.9,93.1 C336.3,93.7 336.5,94.7 336.7,95.0"/>
<path d="M321.7,87.5 C322.1,87.8 323.2,88.7 324.0,89.1 C324.8,89.5 325.8,90.0 326.7,90.0 C327.5,90.0 328.3,89.3 329.1,89.1 C330.0,88.8 330.8,88.6 331.7,88.3 C332.5,88.1 333.4,87.9 334.2,87.6 C335.0,87.3 336.3,86.8 336.7,86.7"/>
<path d="M291.7,91.7 C292.1,91.6 293.3,91.2 294.1,91.1 C295.0,91.0 295.9,90.9 296.7,90.8 C297.5,90.7 298.1,90.6 298.9,90.5 C299.6,90.4 300.4,90.3 301.1,90.2 C301.8,90.2 302.7,89.8 303.3,90.0 C304.0,90.2 304.6,91.0 305.1,91.6 C305.7,92.1 306.4,93.0 306.7,93.3"/>
</g>
<g clip-path="url(#cD)">
<path d="M250.0,80.0 C250.3,80.4 251.1,81.5 251.7,82.2 C252.3,82.9 253.0,83.6 253.5,84.3 C254.1,85.0 254.5,86.0 255.0,86.7 C255.5,87.4 256.0,87.9 256.6,88.4 C257.2,89.0 257.9,89.3 258.5,89.8 C259.1,90.4 259.5,91.1 260.0,91.6 C260.5,92.2 261.1,92.7 261.7,93.3 C262.3,94.0 262.8,94.9 263.6,95.4 C264.4,95.9 265.6,95.8 266.4,96.3 C267.1,96.8 267.8,97.7 268.3,98.3 C268.9,98.9 269.3,99.3 269.6,99.9 C269.9,100.5 270.1,101.2 270.4,101.8 C270.8,102.3 271.3,102.7 271.7,103.3 C272.0,103.9 272.4,104.7 272.6,105.5 C272.9,106.2 273.0,106.9 273.1,107.7 C273.2,108.5 273.5,109.2 273.3,110.0 C273.2,110.8 272.5,111.6 272.2,112.4 C271.9,113.2 272.1,114.3 271.7,115.0 C271.2,115.7 270.2,115.8 269.7,116.3 C269.1,116.9 269.0,117.8 268.5,118.5 C268.0,119.1 267.3,119.5 266.7,120.0 C266.0,120.5 265.4,121.1 264.6,121.4 C263.8,121.7 262.8,121.5 262.0,121.8 C261.2,122.1 260.7,123.0 260.0,123.3 C259.3,123.7 258.5,123.7 257.8,123.8 C257.1,123.9 256.3,123.7 255.5,123.8 C254.8,123.9 254.0,124.1 253.3,124.2 C252.7,124.3 252.2,124.3 251.6,124.5 C251.1,124.6 250.3,124.9 250.0,125.0"/>
<path d="M266.7,80.0 C266.8,80.4 267.5,81.4 267.7,82.1 C268.0,82.9 268.1,83.7 268.3,84.4 C268.6,85.2 268.9,85.9 269.2,86.7 C269.4,87.4 269.7,88.1 269.8,88.8 C269.8,89.6 269.4,90.4 269.4,91.2 C269.4,91.9 269.8,92.6 270.0,93.3 C270.2,94.0 270.6,94.7 270.7,95.4 C270.8,96.1 270.7,96.9 270.8,97.6 C270.9,98.3 271.3,99.3 271.3,99.7"/>
<path d="M270.0,93.3 C270.4,93.3 271.6,93.5 272.3,93.2 C273.1,93.0 273.6,92.1 274.3,91.8 C275.1,91.5 275.9,91.8 276.7,91.7 C277.4,91.5 278.2,91.3 279.0,91.0 C279.7,90.8 280.4,90.3 281.1,90.0 C281.8,89.7 282.5,89.4 283.3,89.2 C284.2,89.0 285.3,89.0 286.2,88.8 C287.2,88.5 288.0,87.8 288.9,87.4 C289.8,87.1 290.8,86.9 291.7,86.7 C292.5,86.4 293.4,86.4 294.1,85.9 C294.8,85.5 295.2,84.6 296.0,84.1 C296.7,83.7 297.6,83.7 298.3,83.3 C299.1,83.0 299.8,82.6 300.3,82.0 C300.9,81.5 301.4,80.3 301.7,80.0"/>
<path d="M273.3,110.0 C273.8,109.9 275.0,109.6 275.9,109.3 C276.7,109.0 277.5,108.6 278.3,108.3 C279.2,108.1 280.1,108.1 281.0,107.9 C281.8,107.6 282.5,106.7 283.3,106.7 C284.1,106.6 285.4,107.4 285.8,107.5"/>
<path d="M295.0,105.0 C294.8,104.7 294.5,103.6 294.1,103.1 C293.7,102.5 292.7,102.3 292.5,101.7 C292.3,101.0 292.7,99.9 293.0,99.1 C293.3,98.2 294.2,97.4 294.2,96.7 C294.2,95.9 293.4,95.2 293.0,94.6 C292.5,93.9 291.5,93.0 291.7,92.5 C291.8,92.0 293.1,91.9 293.9,91.7 C294.7,91.4 295.5,91.5 296.3,91.3 C297.0,91.0 297.6,90.3 298.3,90.0 C299.0,89.7 299.8,89.7 300.5,89.6 C301.3,89.5 302.0,89.5 302.8,89.4 C303.5,89.3 304.3,89.4 305.0,89.2 C305.7,88.9 306.2,88.4 306.7,88.0 C307.3,87.6 307.8,86.8 308.3,86.7 C308.9,86.6 309.5,87.1 310.1,87.4 C310.6,87.7 311.4,88.2 311.7,88.3"/>
<path d="M308.3,86.7 C308.3,87.1 308.2,88.5 307.9,89.3 C307.6,90.1 307.1,90.9 306.7,91.7 C306.3,92.5 305.7,93.2 305.4,94.0 C305.1,94.9 305.1,95.8 305.0,96.7 C304.9,97.5 305.1,98.4 304.9,99.2 C304.8,100.1 304.2,100.9 304.2,101.7 C304.1,102.5 304.6,103.2 304.8,104.0 C305.0,104.7 305.2,105.5 305.5,106.2 C305.8,107.0 306.7,107.6 306.7,108.3 C306.7,109.1 305.9,109.9 305.6,110.8 C305.3,111.6 305.4,112.5 305.0,113.3 C304.6,114.1 304.0,114.8 303.5,115.5 C302.9,116.2 302.2,116.9 301.7,117.5 C301.1,118.1 300.6,118.5 300.1,118.9 C299.5,119.3 298.9,119.7 298.3,120.0 C297.7,120.3 297.1,120.4 296.6,120.6 C296.0,120.9 295.6,121.4 295.0,121.7 C294.4,121.9 293.7,121.8 293.1,122.1 C292.6,122.4 292.1,123.4 291.7,123.3 C291.2,123.2 291.0,122.1 290.5,121.6 C290.1,121.0 289.6,120.1 289.2,120.0 C288.7,119.9 288.3,120.5 287.9,120.8 C287.5,121.1 287.2,121.6 286.7,121.7 C286.2,121.7 285.5,121.2 284.9,120.9 C284.4,120.7 283.9,120.1 283.3,120.0 C282.8,119.9 282.2,120.4 281.7,120.5 C281.1,120.6 280.5,121.2 280.0,120.8 C279.5,120.5 279.4,119.1 278.9,118.2 C278.5,117.4 278.0,116.5 277.5,115.8 C277.0,115.2 276.6,114.8 276.2,114.2 C275.8,113.7 275.3,113.0 275.0,112.5 C274.7,112.0 274.5,111.6 274.2,111.2 C273.9,110.8 273.5,110.2 273.3,110.0"/>
<path d="M311.7,88.3 C311.8,88.7 312.0,89.7 312.4,90.3 C312.8,90.8 313.4,91.2 313.8,91.7 C314.3,92.2 314.7,92.6 315.0,93.3 C315.3,94.0 315.6,95.0 315.9,95.8 C316.1,96.7 316.3,97.6 316.7,98.3 C317.1,99.0 317.8,99.5 318.3,100.0 C318.9,100.6 319.3,101.4 320.0,101.7 C320.7,101.9 321.7,101.7 322.5,101.5 C323.4,101.4 324.4,100.7 325.0,100.8 C325.6,101.0 325.8,102.1 326.4,102.5 C326.9,102.9 327.6,103.3 328.3,103.3 C329.1,103.4 330.0,103.0 330.8,102.8 C331.7,102.7 332.9,102.6 333.3,102.5"/>
<path d="M311.7,88.3 C312.1,88.1 313.2,87.3 314.0,87.1 C314.9,86.8 315.8,86.9 316.7,86.7 C317.5,86.5 318.4,86.2 319.2,85.9 C320.0,85.6 321.5,85.5 321.7,85.0 C321.9,84.5 320.7,83.5 320.4,82.7 C320.1,81.8 320.1,80.4 320.0,80.0"/>
<path d="M320.0,101.7 C320.1,102.0 320.2,103.2 320.5,103.9 C320.7,104.6 321.2,105.3 321.4,106.0 C321.6,106.8 321.4,107.7 321.7,108.3 C322.0,109.0 322.7,109.5 323.2,110.1 C323.7,110.7 324.1,111.4 324.7,112.0 C325.3,112.5 326.1,112.9 326.7,113.3 C327.2,113.8 327.8,114.2 328.2,114.7 C328.5,115.3 328.6,116.0 328.9,116.6 C329.2,117.2 329.7,117.6 330.0,118.3 C330.3,119.0 330.7,120.0 331.0,120.8 C331.3,121.6 331.4,122.5 331.7,123.3 C332.0,124.2 332.4,124.9 332.7,125.8 C333.0,126.6 333.2,127.5 333.3,128.3 C333.5,129.1 333.4,129.9 333.5,130.6 C333.6,131.4 333.7,132.2 334.0,132.9 C334.2,133.6 334.8,134.6 335.0,135.0"/>
<path d="M301.7,117.5 C301.8,117.2 302.1,116.2 302.5,115.7 C303.0,115.2 303.8,114.9 304.2,114.4 C304.7,113.9 304.6,112.9 305.0,112.5 C305.4,112.1 306.3,112.3 306.9,112.1 C307.4,111.8 307.9,110.7 308.3,110.8 C308.7,111.0 309.1,112.1 309.2,112.8 C309.4,113.5 309.4,114.2 309.2,115.0 C308.9,115.8 308.0,116.5 307.6,117.3 C307.2,118.2 307.1,119.2 306.7,120.0 C306.2,120.8 305.4,121.3 304.8,121.9 C304.3,122.6 303.5,123.5 303.3,124.2 C303.1,124.9 303.5,125.5 303.7,126.2 C304.0,126.8 304.7,127.3 304.9,127.9 C305.1,128.6 304.7,129.3 305.0,130.0 C305.3,130.7 305.9,131.3 306.4,131.9 C307.0,132.5 307.8,132.8 308.3,133.3 C308.9,133.8 309.2,134.3 309.5,134.9 C309.9,135.5 309.9,136.3 310.3,136.8 C310.7,137.4 311.2,137.7 311.7,138.3 C312.1,139.0 312.5,140.0 312.9,140.8 C313.3,141.7 313.8,142.6 314.2,143.3 C314.6,144.1 314.8,144.6 315.2,145.2 C315.6,145.7 316.3,146.1 316.7,146.7 C317.0,147.2 317.0,147.9 317.3,148.4 C317.6,149.0 318.2,149.7 318.3,150.0"/>
<path d="M289.2,124.2 C289.1,124.5 288.8,125.5 288.5,126.2 C288.2,126.8 287.7,127.4 287.4,128.0 C287.1,128.7 286.8,129.3 286.7,130.0 C286.5,130.7 286.8,131.5 286.6,132.3 C286.5,133.0 285.9,133.7 285.8,134.4 C285.7,135.1 285.7,135.9 285.8,136.7 C285.9,137.4 286.2,138.1 286.4,138.9 C286.6,139.6 286.9,140.3 287.1,141.1 C287.3,141.8 287.4,142.6 287.5,143.3 C287.6,144.1 287.5,144.9 287.7,145.7 C287.8,146.4 288.1,147.1 288.3,147.8 C288.6,148.6 289.0,149.2 289.2,150.0 C289.3,150.8 289.1,151.7 289.2,152.6 C289.4,153.4 289.9,154.6 290.0,155.0"/>
<path d="M285.8,130.0 C285.4,130.2 284.2,130.8 283.3,131.1 C282.5,131.5 281.6,131.8 280.8,132.2 C280.0,132.5 279.1,133.1 278.3,133.3 C277.5,133.6 276.8,133.4 276.0,133.6 C275.3,133.8 274.7,134.4 273.9,134.6 C273.2,134.9 272.3,134.7 271.7,135.0 C271.0,135.3 270.7,135.9 270.1,136.3 C269.5,136.6 268.8,136.7 268.2,137.1 C267.7,137.4 267.3,138.0 266.7,138.3 C266.0,138.6 265.0,138.6 264.2,138.8 C263.3,138.9 262.1,139.1 261.7,139.2"/>
<path d="M261.7,125.0 C261.6,125.4 261.4,126.5 261.5,127.3 C261.7,128.0 262.4,128.7 262.5,129.4 C262.7,130.1 262.7,130.9 262.5,131.7 C262.3,132.4 261.6,133.0 261.5,133.8 C261.3,134.5 261.8,135.4 261.6,136.2 C261.5,136.9 260.7,137.6 260.8,138.3 C260.9,139.1 261.8,139.8 262.3,140.5 C262.7,141.3 262.8,142.2 263.3,143.0 C263.7,143.7 264.6,144.3 265.0,145.0 C265.4,145.7 265.5,146.4 265.7,147.2 C265.9,147.9 265.9,148.7 266.1,149.4 C266.3,150.2 266.4,151.0 266.7,151.7 C266.9,152.3 267.3,152.7 267.4,153.3 C267.6,153.8 267.5,154.7 267.5,155.0"/>
<path d="M250.0,137.5 C250.4,137.6 251.5,137.9 252.2,138.0 C253.0,138.2 253.8,138.2 254.5,138.4 C255.2,138.6 255.9,139.0 256.7,139.2 C257.4,139.4 258.3,139.6 259.2,139.6 C260.0,139.6 261.2,139.2 261.7,139.2"/>
<path d="M325.0,100.8 C325.1,100.5 325.3,99.5 325.5,98.9 C325.7,98.2 326.0,97.6 326.2,97.0 C326.4,96.3 326.3,95.5 326.7,95.0 C327.0,94.5 327.7,94.1 328.3,93.8 C328.9,93.5 329.7,93.5 330.2,93.1 C330.8,92.8 331.0,92.1 331.7,91.7 C332.3,91.3 333.3,90.9 334.1,90.8 C334.9,90.6 335.9,91.1 336.7,90.8 C337.4,90.5 338.2,89.7 338.7,89.1 C339.3,88.4 340.0,87.4 340.0,86.7 C340.0,86.0 339.0,85.4 338.5,84.9 C337.9,84.3 337.2,83.9 336.7,83.3 C336.1,82.8 335.8,82.0 335.2,81.5 C334.7,80.9 333.6,80.2 333.3,80.0"/>
<path d="M333.3,102.5 C333.7,102.4 334.8,102.3 335.5,102.1 C336.3,102.0 337.0,101.8 337.8,101.7 C338.5,101.7 339.2,101.7 340.0,101.7 C340.8,101.6 341.6,101.6 342.3,101.4 C343.0,101.3 343.7,100.7 344.4,100.5 C345.2,100.3 346.0,100.3 346.7,100.0 C347.3,99.7 347.8,99.3 348.3,98.9 C348.9,98.5 349.5,98.2 350.0,97.8 C350.6,97.4 351.0,96.9 351.7,96.7 C352.4,96.4 353.3,96.5 354.2,96.5 C355.0,96.5 356.2,96.6 356.7,96.7"/>
<path d="M328.3,103.3 C328.3,103.8 328.5,105.1 328.3,105.9 C328.2,106.7 327.3,107.8 327.5,108.3 C327.7,108.9 328.8,109.1 329.5,109.4 C330.1,109.7 330.9,110.0 331.5,110.3 C332.2,110.7 332.7,111.4 333.3,111.7 C334.0,112.0 334.8,112.0 335.6,112.2 C336.3,112.3 337.1,112.3 337.8,112.5 C338.6,112.7 339.3,113.3 340.0,113.3 C340.7,113.3 341.3,112.9 341.9,112.5 C342.4,112.2 342.8,111.6 343.4,111.2 C343.9,110.7 344.6,110.6 345.0,110.0 C345.4,109.4 345.8,108.4 346.1,107.6 C346.3,106.7 346.2,105.7 346.7,105.0 C347.1,104.3 348.1,104.2 348.6,103.6 C349.2,103.1 349.8,102.0 350.0,101.7"/>
<path d="M340.0,86.7 C340.4,86.5 341.6,86.0 342.4,85.8 C343.3,85.7 344.2,85.7 345.0,85.8 C345.8,85.9 346.6,86.4 347.5,86.5 C348.3,86.7 349.6,86.6 350.0,86.7"/>
<path d="M336.7,90.8 C337.0,91.0 338.1,91.5 338.8,91.9 C339.5,92.2 340.2,92.7 341.0,92.9 C341.7,93.2 342.6,93.1 343.3,93.3 C344.1,93.5 344.8,93.9 345.5,94.1 C346.2,94.4 346.9,94.7 347.7,94.8 C348.4,95.0 349.2,94.9 350.0,95.0 C350.8,95.1 351.6,95.0 352.3,95.2 C353.1,95.4 353.7,95.9 354.4,96.2 C355.2,96.4 356.0,96.9 356.7,96.7 C357.4,96.5 358.0,95.5 358.7,94.9 C359.4,94.4 360.5,93.6 360.8,93.3"/>
<path d="M351.7,96.7 C351.7,97.0 351.8,98.2 352.0,98.9 C352.3,99.7 353.0,100.3 353.2,101.0 C353.4,101.7 353.1,102.7 353.3,103.3 C353.6,104.0 354.4,104.2 354.7,104.8 C355.1,105.4 355.1,106.1 355.5,106.7 C355.8,107.3 356.3,107.8 356.7,108.3 C357.1,108.9 357.6,109.3 357.9,109.9 C358.2,110.5 358.2,111.3 358.5,111.9 C358.9,112.5 359.3,113.1 360.0,113.3 C360.7,113.6 362.1,113.3 362.5,113.3"/>
<path d="M346.7,105.0 C346.8,105.3 347.0,106.4 347.4,106.9 C347.8,107.4 348.6,107.7 349.1,108.2 C349.5,108.7 349.6,109.4 350.0,110.0 C350.4,110.6 351.1,111.1 351.7,111.6 C352.3,112.2 353.0,112.5 353.6,113.1 C354.1,113.6 354.6,114.5 355.0,115.0 C355.4,115.5 355.6,116.0 356.0,116.2 C356.4,116.5 357.2,116.6 357.5,116.7"/>
<path d="M345.0,110.0 C345.2,110.4 345.7,111.6 346.0,112.4 C346.3,113.3 346.4,114.3 346.7,115.0 C346.9,115.7 347.2,116.2 347.7,116.7 C348.1,117.2 348.9,117.5 349.3,118.1 C349.7,118.6 350.1,119.3 350.0,120.0 C349.9,120.7 349.0,121.5 348.7,122.3 C348.4,123.2 348.4,124.6 348.3,125.0"/>
<path d="M340.0,113.3 C339.9,113.8 339.8,115.1 339.6,116.0 C339.3,116.8 338.6,117.6 338.3,118.3 C338.0,119.1 338.0,119.7 337.8,120.4 C337.7,121.1 337.6,122.1 337.5,122.5"/>
</g>
<g clip-path="url(#cE)">
<path d="M128.3,120.0 C128.4,120.4 128.6,121.5 128.7,122.2 C128.8,123.0 128.9,123.7 129.0,124.4 C129.0,125.2 128.9,125.9 129.2,126.7 C129.5,127.5 130.4,128.3 130.7,129.3 C131.0,130.2 130.8,131.4 131.1,132.3 C131.4,133.3 132.2,134.2 132.5,135.0 C132.8,135.8 132.7,136.5 132.9,137.3 C133.0,138.0 133.2,138.8 133.4,139.5 C133.7,140.2 134.1,140.9 134.2,141.7 C134.2,142.4 133.9,143.3 133.8,144.2 C133.6,145.0 133.4,146.3 133.3,146.7"/>
<path d="M112.5,134.2 C112.7,134.5 113.2,135.5 113.5,136.2 C113.7,136.9 114.3,137.7 114.2,138.3 C114.1,139.0 113.2,139.6 112.9,140.2 C112.6,140.9 112.2,142.0 112.5,142.5 C112.8,143.0 114.0,143.1 114.7,143.5 C115.4,143.9 116.0,144.4 116.7,145.0 C117.3,145.6 117.9,146.3 118.5,147.0 C119.0,147.7 119.3,148.6 120.0,149.2 C120.7,149.7 121.7,149.9 122.5,150.3 C123.4,150.8 124.3,151.6 125.0,151.7 C125.7,151.8 126.3,151.1 127.0,151.0 C127.7,150.9 128.8,150.9 129.2,150.8"/>
<path d="M120.0,149.2 C119.8,149.5 119.2,150.4 118.9,151.1 C118.6,151.8 118.0,152.9 118.3,153.3 C118.7,153.8 120.1,153.7 120.9,154.0 C121.7,154.3 122.6,154.8 123.3,155.0 C124.1,155.2 124.9,154.9 125.6,155.0 C126.3,155.2 127.0,155.7 127.7,155.9 C128.5,156.0 129.3,155.7 130.0,155.8 C130.7,156.0 131.5,156.4 132.2,156.9 C132.8,157.4 133.3,158.1 133.9,158.6 C134.5,159.1 135.2,159.6 135.8,160.0 C136.5,160.4 137.2,160.6 137.9,160.9 C138.6,161.2 139.6,161.5 140.0,161.7"/>
<path d="M100.0,133.3 C100.2,133.8 100.6,135.1 101.0,136.0 C101.4,136.8 102.3,137.5 102.5,138.3 C102.7,139.2 102.3,140.1 102.0,141.0 C101.8,141.8 100.7,142.6 100.8,143.3 C100.9,144.1 102.0,144.8 102.7,145.3 C103.3,145.9 104.2,146.5 105.0,146.7 C105.8,146.8 106.7,146.3 107.6,146.1 C108.4,145.8 109.4,145.4 110.0,145.0 C110.6,144.6 110.7,144.0 111.1,143.6 C111.5,143.2 112.3,142.7 112.5,142.5"/>
<path d="M105.0,146.7 C105.1,147.1 105.6,148.3 105.8,149.1 C105.9,149.9 105.9,150.9 105.8,151.7 C105.8,152.4 105.7,153.1 105.6,153.8 C105.4,154.5 104.8,155.6 105.0,155.8 C105.2,156.0 106.2,155.2 106.9,155.0 C107.5,154.7 108.2,154.6 108.8,154.5 C109.5,154.3 110.2,154.1 110.8,154.2 C111.5,154.2 112.2,154.6 112.9,154.8 C113.6,154.9 114.4,154.7 115.0,155.0 C115.6,155.3 116.1,155.9 116.5,156.5 C116.9,157.0 117.3,158.0 117.5,158.3"/>
<path d="M115.0,155.0 C114.7,155.2 113.7,156.0 113.0,156.4 C112.3,156.9 111.1,157.0 110.8,157.5 C110.5,158.0 111.1,158.9 111.2,159.6 C111.3,160.3 111.9,161.1 111.7,161.7 C111.4,162.2 110.4,162.3 109.9,162.8 C109.3,163.2 109.0,164.2 108.3,164.2 C107.7,164.1 106.9,162.9 106.0,162.5 C105.2,162.1 104.1,161.7 103.3,161.7 C102.6,161.6 102.3,162.1 101.7,162.2 C101.1,162.3 100.0,162.1 100.0,162.5 C100.0,162.9 101.1,163.9 101.6,164.6 C102.2,165.3 102.7,166.2 103.3,166.7 C104.0,167.1 104.9,167.1 105.6,167.4 C106.3,167.7 107.0,168.1 107.8,168.4 C108.5,168.7 109.3,168.8 110.0,169.2 C110.7,169.6 111.2,170.3 111.9,170.7 C112.6,171.1 113.7,171.2 114.2,171.7 C114.6,172.1 114.3,173.0 114.6,173.6 C114.8,174.1 115.3,175.1 115.8,175.0 C116.3,174.9 117.0,173.5 117.5,172.7 C117.9,171.9 117.7,170.6 118.3,170.0 C118.9,169.4 120.2,169.6 121.0,169.1 C121.9,168.7 122.5,167.6 123.3,167.5 C124.2,167.4 125.2,167.9 126.0,168.4 C126.9,168.8 127.7,169.5 128.3,170.0 C128.9,170.5 129.4,170.9 129.7,171.5 C130.0,172.1 129.8,173.0 130.2,173.6 C130.5,174.2 131.3,174.5 131.7,175.0 C132.0,175.5 132.2,176.1 132.4,176.7 C132.7,177.3 133.2,178.1 133.3,178.3"/>
<path d="M93.3,160.0 C93.4,160.4 93.7,161.5 93.9,162.2 C94.1,163.0 94.3,163.7 94.5,164.4 C94.7,165.2 94.6,166.0 95.0,166.7 C95.4,167.3 96.4,167.8 97.2,168.4 C97.9,168.9 98.8,169.4 99.5,169.9 C100.3,170.5 101.0,171.1 101.7,171.7 C102.4,172.3 102.9,173.1 103.7,173.6 C104.5,174.1 105.5,174.2 106.3,174.7 C107.1,175.2 107.6,176.1 108.3,176.7 C109.0,177.3 109.9,177.7 110.6,178.3 C111.3,178.9 111.9,179.6 112.6,180.2 C113.4,180.8 114.2,181.3 115.0,181.7 C115.8,182.1 116.6,182.3 117.5,182.6 C118.3,182.9 119.2,183.2 120.0,183.3 C120.8,183.5 121.5,183.6 122.3,183.5 C123.0,183.3 123.7,182.7 124.4,182.6 C125.2,182.4 126.0,182.5 126.7,182.5 C127.3,182.5 127.8,182.6 128.4,182.8 C128.9,182.9 129.7,183.2 130.0,183.3"/>
<path d="M131.7,175.0 C131.7,175.4 131.8,176.5 131.7,177.3 C131.7,178.0 131.3,178.7 131.1,179.4 C131.0,180.2 131.0,180.9 130.8,181.7 C130.7,182.5 130.6,183.3 130.4,184.2 C130.3,185.0 129.7,186.0 130.0,186.7 C130.3,187.3 131.3,187.8 132.0,188.2 C132.7,188.6 133.5,188.9 134.3,189.2 C135.1,189.5 135.8,190.0 136.7,190.0 C137.5,190.0 138.4,189.7 139.3,189.4 C140.1,189.2 141.1,188.2 141.7,188.3 C142.2,188.4 142.2,189.6 142.6,190.1 C143.0,190.6 143.8,190.9 144.2,191.5 C144.6,192.0 144.9,193.0 145.0,193.3"/>
<path d="M86.7,153.3 C86.9,153.5 87.8,154.0 88.3,154.4 C88.9,154.9 89.2,155.5 89.8,155.9 C90.4,156.2 91.2,156.3 91.7,156.7 C92.2,157.0 92.6,157.6 92.9,158.1 C93.1,158.7 93.0,159.8 93.3,160.0 C93.7,160.2 94.4,159.3 94.9,159.1 C95.5,158.8 96.0,158.2 96.7,158.3 C97.3,158.5 98.1,159.4 98.7,160.1 C99.2,160.8 99.8,162.1 100.0,162.5"/>
<path d="M80.0,171.7 C80.0,172.0 80.0,173.2 80.0,173.9 C80.1,174.7 80.0,175.4 80.1,176.2 C80.3,176.9 80.7,177.5 80.8,178.3 C81.0,179.1 81.0,180.1 80.9,180.9 C80.7,181.7 79.7,182.8 80.0,183.3 C80.3,183.9 81.9,183.7 82.7,184.1 C83.6,184.6 84.3,185.2 85.0,185.8 C85.7,186.4 86.2,187.2 87.0,187.6 C87.7,188.1 88.8,188.1 89.5,188.5 C90.3,188.9 91.1,189.5 91.7,190.0 C92.2,190.5 92.7,190.9 93.0,191.5 C93.4,192.1 93.6,192.7 93.9,193.3 C94.2,193.9 94.8,194.7 95.0,195.0"/>
<path d="M80.0,183.3 C79.8,183.6 79.1,184.7 78.5,185.2 C78.0,185.8 77.2,186.1 76.7,186.7 C76.2,187.3 75.8,188.1 75.5,188.8 C75.1,189.6 75.1,190.5 74.8,191.3 C74.4,192.0 73.6,193.0 73.3,193.3"/>
<path d="M108.3,176.7 C108.4,177.0 108.3,178.2 108.6,179.0 C108.9,179.7 109.7,180.3 109.9,181.0 C110.1,181.7 109.8,182.6 110.0,183.3 C110.2,184.0 110.4,184.6 110.8,185.2 C111.2,185.7 112.0,186.0 112.4,186.6 C112.8,187.1 112.8,187.9 113.3,188.3 C113.9,188.7 115.0,188.7 115.8,189.0 C116.5,189.3 117.3,189.7 118.0,190.2 C118.7,190.6 119.4,191.2 120.0,191.7 C120.6,192.1 121.1,192.4 121.7,192.8 C122.2,193.2 122.7,193.6 123.3,194.0 C123.8,194.4 124.7,194.8 125.0,195.0"/>
<path d="M140.0,161.7 C140.1,162.0 140.7,163.1 140.9,163.8 C141.1,164.5 141.3,165.3 141.4,166.0 C141.5,166.8 141.5,167.6 141.7,168.3 C141.8,169.0 142.1,169.6 142.5,170.2 C142.9,170.7 143.4,171.2 143.9,171.7 C144.3,172.2 144.9,172.6 145.0,173.3 C145.1,174.0 144.7,175.1 144.4,175.9 C144.1,176.7 143.3,177.5 143.3,178.3 C143.4,179.1 144.3,179.9 144.7,180.8 C145.1,181.6 145.9,182.5 145.8,183.3 C145.8,184.2 145.0,185.0 144.5,185.8 C144.1,186.6 143.5,187.9 143.3,188.3"/>
<path d="M136.7,145.0 C137.0,145.1 138.2,145.5 138.9,145.7 C139.7,146.0 140.5,146.1 141.2,146.4 C142.0,146.7 142.6,147.2 143.3,147.5 C144.0,147.8 144.8,148.1 145.5,148.2 C146.2,148.3 147.0,148.2 147.8,148.2 C148.5,148.2 149.3,148.5 150.0,148.3 C150.7,148.2 151.1,147.6 151.7,147.2 C152.3,146.9 152.9,146.6 153.4,146.3 C154.0,145.9 154.3,145.3 155.0,145.0 C155.7,144.7 156.8,144.8 157.6,144.5 C158.4,144.2 159.6,143.5 160.0,143.3"/>
<path d="M150.0,148.3 C150.0,148.7 150.1,149.9 149.9,150.7 C149.6,151.4 149.0,152.0 148.8,152.8 C148.5,153.5 148.3,154.2 148.3,155.0 C148.3,155.8 148.4,156.8 148.7,157.7 C149.0,158.5 149.8,159.6 150.0,160.0"/>
<path d="M129.2,150.8 C129.5,150.9 130.5,151.0 131.2,151.1 C131.9,151.2 132.5,151.3 133.2,151.6 C133.8,151.8 134.3,152.1 135.0,152.5 C135.7,152.9 136.4,153.5 137.1,154.0 C137.9,154.5 138.6,154.9 139.4,155.4 C140.2,155.8 141.0,156.2 141.7,156.7 C142.3,157.2 143.1,158.1 143.3,158.3"/>
<path d="M130.0,130.0 C130.4,130.1 131.6,130.2 132.4,130.4 C133.1,130.7 133.8,131.0 134.6,131.4 C135.3,131.7 135.9,132.2 136.7,132.5 C137.4,132.8 138.1,132.9 138.9,133.0 C139.6,133.0 140.4,132.7 141.2,132.7 C141.9,132.8 142.6,133.3 143.3,133.3 C144.1,133.4 144.9,133.3 145.7,133.2 C146.4,133.1 147.1,132.8 147.9,132.6 C148.6,132.3 149.3,132.1 150.0,131.7 C150.7,131.3 151.3,130.7 151.8,130.2 C152.4,129.6 153.2,129.1 153.3,128.3 C153.4,127.6 152.7,126.7 152.5,125.8 C152.2,125.0 152.0,124.1 151.7,123.3 C151.3,122.6 150.8,122.0 150.2,121.4 C149.7,120.9 148.6,120.2 148.3,120.0"/>
<path d="M153.3,128.3 C153.7,128.6 154.9,129.4 155.6,129.9 C156.3,130.5 157.0,131.2 157.7,131.7 C158.5,132.3 159.4,132.8 160.0,133.3 C160.6,133.9 161.1,134.5 161.6,135.0 C162.2,135.6 162.8,136.5 163.3,136.7 C163.9,136.8 164.5,136.2 165.0,135.9 C165.6,135.6 166.0,135.3 166.7,135.0 C167.3,134.7 168.2,134.5 169.0,134.2 C169.8,133.9 170.6,133.6 171.3,133.2 C172.0,132.8 172.6,131.9 173.3,131.7 C174.0,131.4 174.8,131.6 175.6,131.6 C176.3,131.5 177.1,131.5 177.8,131.4 C178.6,131.3 179.3,130.8 180.0,130.8 C180.7,130.9 181.5,131.5 182.2,131.7 C182.9,132.0 183.7,132.2 184.5,132.5 C185.2,132.7 186.0,133.2 186.7,133.3 C187.3,133.5 187.9,133.4 188.4,133.2 C189.0,133.1 189.7,132.6 190.0,132.5"/>
<path d="M163.3,136.7 C163.4,137.1 163.5,138.5 163.8,139.3 C164.1,140.1 164.9,140.9 165.0,141.7 C165.1,142.5 164.4,143.3 164.2,144.2 C163.9,145.0 163.7,146.0 163.3,146.7 C163.0,147.4 162.5,147.7 162.2,148.3 C161.8,148.9 161.6,149.5 161.2,150.1 C160.9,150.6 160.0,151.2 160.0,151.7 C160.0,152.2 161.0,152.6 161.4,153.1 C161.8,153.7 162.0,154.3 162.3,154.9 C162.7,155.5 163.0,156.1 163.3,156.7 C163.7,157.2 164.2,157.6 164.5,158.2 C164.7,158.7 164.9,159.7 165.0,160.0"/>
<path d="M163.3,146.7 C163.7,146.8 164.8,147.1 165.5,147.3 C166.3,147.4 167.1,147.2 167.9,147.4 C168.6,147.6 169.3,148.3 170.0,148.3 C170.7,148.4 171.4,147.8 172.2,147.6 C172.9,147.4 173.7,147.3 174.4,147.2 C175.2,147.0 175.9,146.7 176.7,146.7 C177.4,146.6 178.3,146.6 179.0,146.8 C179.7,146.9 180.4,147.5 181.1,147.8 C181.8,148.0 182.6,148.2 183.3,148.3 C184.1,148.5 184.9,148.6 185.6,148.5 C186.4,148.4 187.0,147.9 187.8,147.7 C188.5,147.5 189.6,147.5 190.0,147.5"/>
<path d="M170.0,148.3 C170.1,148.7 170.1,149.9 170.3,150.6 C170.5,151.4 170.9,152.1 171.1,152.8 C171.3,153.5 171.8,154.2 171.7,155.0 C171.5,155.8 170.6,156.5 170.4,157.3 C170.1,158.2 170.1,159.6 170.0,160.0"/>
<path d="M176.7,146.7 C176.8,147.0 177.2,148.1 177.3,148.9 C177.5,149.6 177.2,150.5 177.4,151.2 C177.5,152.0 178.3,152.6 178.3,153.3 C178.4,154.1 177.9,155.0 177.6,155.9 C177.3,156.7 176.8,157.9 176.7,158.3"/>
<path d="M165.0,160.0 C165.0,160.4 165.0,161.6 164.7,162.3 C164.5,163.0 163.8,163.6 163.6,164.4 C163.4,165.1 163.1,166.1 163.3,166.7 C163.6,167.2 164.5,167.3 165.1,167.7 C165.6,168.1 165.9,168.8 166.5,169.2 C167.0,169.6 167.6,169.7 168.3,170.0 C169.1,170.3 170.1,170.6 171.1,170.8 C172.0,171.0 172.9,171.0 173.9,171.2 C174.8,171.3 175.8,171.7 176.7,171.7 C177.5,171.7 178.2,171.4 178.9,171.2 C179.6,170.9 180.3,170.3 181.0,170.1 C181.7,169.9 182.6,169.9 183.3,170.0 C184.1,170.1 184.7,170.7 185.5,170.9 C186.2,171.2 186.9,171.3 187.7,171.4 C188.5,171.5 189.6,171.6 190.0,171.7"/>
<path d="M163.3,166.7 C163.1,167.0 162.3,167.9 161.8,168.4 C161.2,169.0 160.3,169.3 160.0,170.0 C159.7,170.7 160.0,171.7 160.1,172.6 C160.2,173.4 160.4,174.4 160.8,175.0 C161.3,175.6 162.2,175.7 162.9,176.0 C163.5,176.3 164.3,176.4 164.9,176.8 C165.6,177.2 166.1,177.8 166.7,178.3 C167.2,178.9 167.8,179.4 168.4,180.0 C168.9,180.5 169.7,181.4 170.0,181.7"/>
<path d="M183.3,148.3 C183.4,148.8 183.7,150.2 184.0,151.1 C184.2,152.0 184.6,152.9 184.7,153.8 C184.9,154.8 185.0,155.8 185.0,156.7 C185.0,157.5 184.9,158.2 184.8,159.0 C184.6,159.7 184.4,160.4 184.1,161.2 C183.9,161.9 183.5,162.6 183.3,163.3 C183.2,164.1 183.2,164.9 183.4,165.6 C183.5,166.3 184.0,167.0 184.1,167.7 C184.3,168.5 184.2,169.6 184.2,170.0"/>
<path d="M145.8,183.3 C146.3,183.4 147.6,183.4 148.4,183.5 C149.2,183.7 150.0,184.2 150.8,184.4 C151.7,184.6 152.6,184.8 153.3,185.0 C154.1,185.2 154.8,185.6 155.5,185.8 C156.2,186.0 157.0,186.2 157.7,186.3 C158.5,186.5 159.3,186.4 160.0,186.7 C160.7,186.9 161.4,187.6 162.1,188.0 C162.9,188.3 163.7,188.5 164.5,188.8 C165.2,189.2 166.2,189.5 166.7,190.0 C167.2,190.5 167.2,191.3 167.5,191.8 C167.9,192.4 168.4,192.8 168.9,193.4 C169.3,193.9 169.8,194.7 170.0,195.0"/>
<path d="M153.3,185.0 C153.4,185.4 153.6,186.5 153.8,187.2 C154.0,188.0 154.5,188.6 154.7,189.4 C154.9,190.1 155.2,191.0 155.0,191.7 C154.8,192.3 154.0,192.6 153.8,193.1 C153.5,193.7 153.4,194.7 153.3,195.0"/>
</g>
<g clip-path="url(#cF)">
<path d="M215.8,110.0 C215.8,110.4 215.7,111.7 215.8,112.6 C215.9,113.4 216.3,114.3 216.7,115.0 C217.0,115.7 217.5,116.4 218.1,116.9 C218.6,117.5 219.8,117.7 220.0,118.3 C220.2,119.0 219.5,120.0 219.4,120.8 C219.2,121.6 219.2,122.9 219.2,123.3"/>
<path d="M215.0,113.3 C214.8,113.6 213.9,114.2 213.6,114.8 C213.2,115.4 213.2,116.2 212.9,116.8 C212.6,117.3 212.3,118.0 211.7,118.3 C211.0,118.7 209.9,118.6 209.1,118.9 C208.2,119.2 207.5,120.0 206.7,120.0 C205.9,120.0 205.1,119.0 204.3,118.7 C203.5,118.5 202.5,118.5 201.7,118.3 C200.8,118.2 199.9,118.0 199.1,117.7 C198.3,117.4 197.1,116.8 196.7,116.7"/>
<path d="M228.3,115.8 C228.4,116.2 228.6,117.2 228.7,117.8 C228.8,118.5 228.8,119.2 229.1,119.8 C229.3,120.5 229.8,120.9 230.0,121.7 C230.2,122.4 230.2,123.4 230.1,124.2 C229.9,125.1 229.3,125.9 229.2,126.7 C229.0,127.4 229.0,128.1 229.1,128.8 C229.3,129.5 229.5,130.4 230.0,130.8 C230.5,131.3 231.6,131.4 232.4,131.6 C233.3,131.7 234.2,131.8 235.0,131.7 C235.8,131.5 236.6,131.0 237.4,130.8 C238.3,130.7 239.3,131.0 240.0,130.8 C240.7,130.7 241.0,130.2 241.5,129.8 C241.9,129.4 242.3,128.6 242.5,128.3"/>
<path d="M230.0,130.8 C229.7,131.1 229.1,132.0 228.5,132.4 C227.9,132.9 227.2,133.1 226.6,133.5 C226.0,134.0 225.5,134.5 225.0,135.0 C224.5,135.5 223.9,135.9 223.5,136.4 C223.1,136.9 223.0,137.6 222.6,138.2 C222.3,138.8 221.9,139.4 221.7,140.0 C221.4,140.6 221.4,141.1 221.3,141.7 C221.1,142.2 221.2,142.8 220.8,143.3 C220.4,143.8 219.5,144.3 218.8,144.7 C218.2,145.2 217.0,145.7 216.7,145.8"/>
<path d="M235.0,131.7 C235.0,132.1 235.1,133.4 234.9,134.2 C234.8,135.1 234.1,135.9 234.2,136.7 C234.3,137.5 235.0,138.3 235.6,138.9 C236.1,139.6 237.3,140.0 237.5,140.8 C237.7,141.6 236.8,142.7 236.7,143.7 C236.6,144.7 236.6,145.8 236.7,146.7 C236.7,147.5 236.9,148.1 237.1,148.9 C237.2,149.6 237.4,150.3 237.4,151.1 C237.5,151.8 237.5,152.5 237.5,153.3 C237.5,154.1 237.5,155.0 237.4,155.9 C237.2,156.7 236.5,157.8 236.7,158.3 C236.9,158.9 238.0,158.8 238.6,159.1 C239.1,159.4 239.6,159.9 240.2,160.3 C240.7,160.7 241.0,161.4 241.7,161.7 C242.4,162.0 243.4,161.9 244.3,162.2 C245.1,162.5 245.8,163.2 246.7,163.3 C247.5,163.5 248.4,163.4 249.2,163.3 C250.1,163.1 251.0,162.5 251.7,162.5 C252.4,162.5 253.0,163.1 253.5,163.5 C254.1,163.9 254.8,164.8 255.0,165.0"/>
<path d="M237.5,140.8 C237.8,140.6 238.7,139.9 239.3,139.5 C240.0,139.2 240.7,138.9 241.4,138.6 C242.0,138.2 242.6,137.6 243.3,137.5 C244.0,137.4 244.8,138.0 245.5,138.1 C246.3,138.2 247.1,138.0 247.9,138.2 C248.6,138.4 249.3,139.0 250.0,139.2 C250.7,139.4 251.5,139.3 252.2,139.4 C253.0,139.6 253.6,140.1 254.4,140.2 C255.1,140.3 255.9,140.1 256.7,140.0 C257.5,139.9 258.3,139.8 259.2,139.6 C260.0,139.5 261.0,138.9 261.7,139.2 C262.4,139.4 262.8,140.6 263.3,141.3 C263.9,142.0 264.6,142.6 265.0,143.3 C265.4,144.1 265.3,145.1 265.6,145.9 C265.8,146.8 266.6,147.5 266.7,148.3 C266.7,149.2 266.2,150.0 265.9,150.8 C265.6,151.7 265.4,152.6 265.0,153.3 C264.6,154.1 264.0,154.6 263.5,155.2 C262.9,155.7 262.5,156.4 261.7,156.7 C260.9,156.9 259.7,156.6 258.7,156.7 C257.7,156.9 256.3,157.4 255.8,157.5"/>
<path d="M261.7,125.0 C261.6,125.4 261.4,126.5 261.5,127.3 C261.6,128.0 262.2,128.7 262.3,129.4 C262.5,130.2 262.6,130.9 262.5,131.7 C262.4,132.4 261.8,133.3 261.6,134.1 C261.5,134.9 261.8,135.9 261.6,136.7 C261.5,137.6 261.0,138.8 260.8,139.2"/>
<path d="M242.5,128.3 C242.9,128.3 244.2,128.3 245.1,128.1 C245.9,127.9 246.6,127.2 247.4,126.9 C248.3,126.7 249.2,126.7 250.0,126.7 C250.8,126.6 251.6,126.7 252.3,126.5 C253.1,126.4 253.7,125.8 254.4,125.5 C255.2,125.3 255.9,125.1 256.7,125.0 C257.5,124.9 258.3,124.9 259.2,124.9 C260.0,124.9 260.9,125.1 261.7,125.0 C262.5,124.9 263.2,124.6 263.9,124.3 C264.7,123.9 265.3,123.3 266.0,123.0 C266.7,122.7 267.5,122.8 268.3,122.5 C269.1,122.2 269.9,121.4 270.7,121.0 C271.5,120.6 272.7,120.4 273.3,120.0 C273.9,119.6 274.0,118.9 274.4,118.3 C274.7,117.7 274.9,117.1 275.3,116.5 C275.7,116.0 276.5,115.7 276.7,115.0 C276.8,114.3 276.6,113.3 276.4,112.5 C276.3,111.6 275.9,110.4 275.8,110.0"/>
<path d="M276.7,115.0 C276.9,115.2 277.8,115.7 278.3,116.1 C278.9,116.5 279.4,117.0 279.9,117.4 C280.5,117.7 281.1,118.0 281.7,118.3 C282.2,118.7 282.7,119.1 283.3,119.5 C283.8,119.9 284.3,120.4 284.9,120.7 C285.5,121.1 286.1,121.6 286.7,121.7 C287.3,121.7 288.0,121.5 288.5,121.2 C289.1,120.9 289.4,120.0 290.0,120.0 C290.6,120.0 291.6,121.1 292.4,121.5 C293.2,121.9 294.2,122.5 295.0,122.5 C295.8,122.5 296.6,121.9 297.4,121.8 C298.3,121.6 299.6,121.7 300.0,121.7"/>
<path d="M286.7,121.7 C286.8,122.0 287.4,123.1 287.4,123.8 C287.4,124.6 286.8,125.4 286.9,126.2 C286.9,126.9 287.6,127.6 287.5,128.3 C287.4,129.1 286.7,129.9 286.5,130.8 C286.2,131.6 285.8,132.5 285.8,133.3 C285.9,134.1 286.5,134.8 286.6,135.5 C286.7,136.2 286.3,137.0 286.3,137.8 C286.4,138.5 286.5,139.2 286.7,140.0 C286.9,140.8 287.4,141.8 287.5,142.7 C287.6,143.7 287.3,144.7 287.4,145.6 C287.5,146.6 288.1,147.4 288.3,148.3 C288.5,149.3 288.3,150.3 288.5,151.2 C288.8,152.1 289.4,152.9 289.6,153.8 C289.9,154.8 289.9,156.2 290.0,156.7"/>
<path d="M260.8,139.2 C261.1,139.0 262.1,138.6 262.7,138.4 C263.3,138.1 264.0,137.8 264.6,137.7 C265.3,137.5 265.9,137.6 266.7,137.5 C267.4,137.4 268.2,137.3 268.9,137.1 C269.7,136.9 270.3,136.4 271.0,136.1 C271.8,135.9 272.6,136.0 273.3,135.8 C274.1,135.7 274.9,135.6 275.6,135.4 C276.3,135.2 277.0,134.6 277.7,134.4 C278.4,134.2 279.1,134.2 280.0,134.2 C280.9,134.1 282.0,134.4 283.0,134.2 C284.0,134.1 285.4,133.5 285.8,133.3"/>
<path d="M213.3,123.3 C213.1,123.6 212.2,124.2 211.9,124.8 C211.6,125.4 211.7,126.2 211.4,126.8 C211.0,127.4 210.2,127.7 210.0,128.3 C209.8,129.0 210.1,129.9 210.1,130.6 C210.1,131.4 210.0,132.1 209.8,132.8 C209.7,133.6 209.1,134.2 209.2,135.0 C209.2,135.8 209.8,136.8 210.2,137.6 C210.6,138.4 211.1,139.4 211.7,140.0 C212.2,140.6 212.9,140.9 213.6,141.2 C214.3,141.4 215.1,141.4 215.8,141.7 C216.6,142.0 217.3,142.7 218.2,143.0 C219.0,143.2 220.4,143.3 220.8,143.3"/>
<path d="M196.7,125.0 C197.0,125.0 197.9,125.0 198.4,124.9 C199.0,124.8 199.3,124.1 200.0,124.2 C200.7,124.3 201.6,125.1 202.5,125.5 C203.3,125.9 204.2,126.3 205.0,126.7 C205.8,127.0 206.6,127.4 207.4,127.7 C208.3,128.0 209.6,128.2 210.0,128.3"/>
<path d="M197.5,133.3 C198.0,133.2 199.4,132.8 200.4,132.7 C201.4,132.5 202.5,132.4 203.3,132.5 C204.2,132.6 204.8,132.8 205.4,133.0 C206.1,133.3 206.6,133.7 207.3,134.1 C207.9,134.4 208.8,134.8 209.2,135.0"/>
<path d="M197.5,133.3 C197.4,133.7 197.1,134.8 197.0,135.5 C197.0,136.3 197.3,137.1 197.3,137.8 C197.2,138.6 196.6,139.3 196.7,140.0 C196.7,140.7 197.4,141.4 197.6,142.1 C197.8,142.9 197.8,143.7 197.9,144.4 C198.0,145.2 198.0,146.0 198.3,146.7 C198.6,147.4 199.3,148.0 199.8,148.5 C200.4,149.1 201.1,149.9 201.7,150.0 C202.2,150.1 202.7,149.5 203.3,149.4 C203.8,149.3 204.7,149.2 205.0,149.2"/>
<path d="M205.0,149.2 C205.2,149.6 205.8,150.8 206.3,151.5 C206.9,152.2 207.8,152.6 208.3,153.3 C208.9,154.0 209.2,154.9 209.5,155.7 C209.7,156.6 209.7,157.7 210.0,158.3 C210.3,158.9 211.0,159.1 211.5,159.4 C212.1,159.7 212.9,160.2 213.3,160.0 C213.8,159.8 213.9,158.9 214.2,158.4 C214.5,157.8 214.5,156.8 215.0,156.7 C215.5,156.6 216.4,157.5 217.1,157.7 C217.8,157.9 218.7,157.7 219.4,157.8 C220.2,157.9 221.0,158.4 221.7,158.3 C222.3,158.3 222.7,157.7 223.3,157.4 C223.9,157.2 224.7,156.8 225.0,156.7"/>
<path d="M216.7,145.8 C216.4,146.2 215.5,147.2 215.0,147.9 C214.4,148.6 213.6,149.2 213.3,150.0 C213.0,150.8 213.4,151.7 213.2,152.6 C213.1,153.4 212.5,154.4 212.5,155.0 C212.5,155.6 213.1,155.9 213.5,156.2 C213.9,156.5 214.7,156.6 215.0,156.7"/>
<path d="M225.0,156.7 C225.1,156.2 225.2,154.9 225.4,154.0 C225.7,153.2 226.1,152.1 226.7,151.7 C227.2,151.2 228.2,151.4 228.9,151.2 C229.6,151.0 230.3,150.7 231.1,150.5 C231.8,150.3 232.7,149.7 233.3,150.0 C234.0,150.3 234.5,151.4 235.2,152.0 C235.9,152.5 237.1,153.1 237.5,153.3"/>
<path d="M225.0,156.7 C225.0,157.0 224.8,158.1 224.7,158.9 C224.6,159.6 224.4,160.4 224.3,161.1 C224.3,161.8 224.1,162.6 224.2,163.3 C224.2,164.1 224.6,164.8 224.6,165.5 C224.7,166.3 224.2,167.1 224.3,167.8 C224.4,168.6 224.6,169.4 225.0,170.0 C225.4,170.6 226.0,170.9 226.5,171.3 C227.1,171.7 227.6,172.1 228.2,172.4 C228.8,172.8 229.3,173.1 230.0,173.3 C230.7,173.5 231.5,173.4 232.2,173.6 C233.0,173.7 233.7,174.1 234.4,174.2 C235.1,174.3 235.9,174.2 236.7,174.2 C237.4,174.1 238.2,174.2 238.9,174.1 C239.7,174.0 240.4,173.8 241.1,173.7 C241.9,173.6 242.7,173.6 243.3,173.3 C243.9,173.0 244.2,172.3 244.8,171.9 C245.3,171.5 246.0,171.4 246.6,171.1 C247.2,170.8 248.1,170.6 248.3,170.0 C248.6,169.4 248.4,168.4 248.2,167.7 C248.1,166.9 247.5,166.3 247.3,165.5 C247.0,164.8 246.8,163.7 246.7,163.3"/>
<path d="M225.0,170.0 C224.9,170.3 224.5,171.4 224.1,171.9 C223.7,172.5 222.8,173.1 222.5,173.3"/>
<path d="M235.0,185.0 C235.1,184.6 235.7,183.4 235.9,182.6 C236.0,181.7 235.6,180.6 235.8,180.0 C236.1,179.4 237.0,179.2 237.5,178.8 C238.1,178.4 238.5,177.7 239.2,177.5 C239.9,177.3 240.9,177.5 241.7,177.6 C242.6,177.7 243.6,177.9 244.2,178.3 C244.7,178.8 244.6,179.7 245.0,180.3 C245.5,180.8 246.1,181.2 246.7,181.7 C247.2,182.2 247.8,182.7 248.4,183.3 C248.9,183.8 249.7,184.7 250.0,185.0"/>
<path d="M248.3,170.0 C248.6,170.3 249.2,171.4 249.7,171.9 C250.3,172.5 251.2,172.8 251.7,173.3 C252.1,173.8 252.2,174.4 252.4,174.9 C252.5,175.5 252.5,176.4 252.5,176.7"/>
<path d="M190.0,130.0 C190.1,130.4 190.3,131.5 190.5,132.2 C190.7,133.0 190.8,133.7 191.0,134.5 C191.2,135.2 191.6,135.9 191.7,136.7 C191.7,137.4 191.4,138.2 191.2,138.9 C190.9,139.6 190.6,140.3 190.4,141.1 C190.2,141.8 189.9,142.6 190.0,143.3 C190.1,144.1 190.6,144.8 190.9,145.5 C191.1,146.3 191.4,147.0 191.7,147.8 C192.0,148.5 192.4,149.2 192.5,150.0 C192.6,150.8 192.4,151.5 192.3,152.3 C192.2,153.1 192.0,153.8 191.7,154.5 C191.5,155.3 191.3,156.2 190.8,156.7 C190.3,157.1 189.4,157.1 188.7,157.4 C188.0,157.7 187.4,158.2 186.7,158.3 C185.9,158.5 184.9,158.5 184.1,158.3 C183.3,158.2 182.1,157.6 181.7,157.5"/>
<path d="M180.0,136.7 C180.4,136.5 181.5,135.7 182.4,135.4 C183.2,135.1 184.2,135.0 185.0,135.0 C185.8,135.0 186.5,135.5 187.2,135.7 C187.9,135.9 188.7,136.0 189.4,136.2 C190.2,136.3 191.3,136.6 191.7,136.7"/>
<path d="M180.0,145.0 C180.4,145.1 181.6,145.7 182.4,145.9 C183.3,146.0 184.2,146.1 185.0,145.8 C185.8,145.6 186.5,144.8 187.4,144.3 C188.2,143.9 189.6,143.5 190.0,143.3"/>
<path d="M192.5,150.0 C192.8,150.2 193.9,150.6 194.6,150.9 C195.2,151.2 195.9,151.6 196.7,151.7 C197.5,151.7 198.4,151.4 199.3,151.1 C200.1,150.8 201.3,150.2 201.7,150.0"/>
<path d="M190.8,156.7 C191.2,156.9 192.2,157.8 192.9,158.3 C193.6,158.9 194.2,159.6 195.0,160.0 C195.8,160.4 196.7,160.3 197.6,160.6 C198.4,160.9 199.6,161.5 200.0,161.7"/>
<path d="M180.0,151.7 C180.4,151.7 181.7,151.8 182.5,151.9 C183.4,152.0 184.3,152.1 185.0,152.5 C185.7,152.9 186.1,153.7 186.8,154.1 C187.5,154.5 188.5,154.5 189.1,154.9 C189.8,155.4 190.5,156.4 190.8,156.7"/>
<path d="M201.7,163.3 C201.8,163.7 202.1,164.8 202.3,165.5 C202.5,166.3 202.7,167.0 202.9,167.8 C203.0,168.5 203.5,169.3 203.3,170.0 C203.2,170.7 202.5,171.4 202.1,172.1 C201.8,172.8 201.5,173.5 201.3,174.3 C201.1,175.1 200.7,175.9 200.8,176.7 C201.0,177.5 201.8,178.2 202.3,179.1 C202.7,179.9 202.9,181.0 203.3,181.7 C203.8,182.3 204.3,182.6 204.8,183.1 C205.3,183.5 205.8,183.9 206.4,184.3 C207.0,184.6 208.0,184.9 208.3,185.0"/>
<path d="M190.0,163.3 C190.1,163.7 190.4,164.8 190.6,165.6 C190.7,166.3 190.9,167.0 191.1,167.8 C191.3,168.5 191.7,169.3 191.7,170.0 C191.6,170.7 191.1,171.4 190.9,172.2 C190.6,172.9 190.4,173.6 190.3,174.4 C190.1,175.1 189.8,176.1 190.0,176.7 C190.2,177.2 191.2,177.3 191.8,177.6 C192.3,178.0 192.8,178.5 193.3,178.9 C193.8,179.3 194.4,180.0 195.0,180.0 C195.6,180.0 196.3,179.3 197.0,179.0 C197.7,178.7 198.4,178.3 199.0,178.0 C199.6,177.6 200.5,176.9 200.8,176.7"/>
<path d="M180.0,173.3 C180.4,173.2 181.7,172.8 182.5,172.5 C183.3,172.2 184.3,171.6 185.0,171.7 C185.7,171.8 186.4,172.5 186.9,173.1 C187.4,173.7 187.5,174.8 188.0,175.3 C188.5,175.9 189.7,176.4 190.0,176.7"/>
<path d="M195.0,180.0 C194.8,180.4 194.3,181.6 194.0,182.4 C193.7,183.3 193.4,184.6 193.3,185.0"/>
</g>
<g clip-path="url(#cG)">
<path d="M56.7,185.0 C56.9,185.2 57.7,185.9 58.0,186.5 C58.4,187.0 58.6,187.7 58.9,188.3 C59.3,188.9 60.0,189.3 60.0,190.0 C60.0,190.7 59.3,191.6 59.0,192.4 C58.7,193.3 58.2,194.2 58.3,195.0 C58.5,195.8 59.4,196.3 59.7,197.1 C60.0,197.9 59.9,198.8 60.2,199.6 C60.6,200.4 61.1,201.2 61.7,201.7 C62.2,202.1 62.9,202.0 63.4,202.3 C64.0,202.6 64.5,203.4 65.0,203.3 C65.5,203.3 65.9,202.3 66.5,201.9 C67.0,201.5 67.7,201.4 68.3,201.1 C68.9,200.7 69.5,200.5 70.0,200.0 C70.5,199.5 71.0,198.8 71.6,198.2 C72.1,197.7 72.9,197.3 73.5,196.8 C74.1,196.3 74.8,195.9 75.3,195.3 C75.8,194.7 76.2,193.9 76.7,193.3 C77.1,192.8 77.8,192.5 78.2,191.9 C78.6,191.4 78.7,190.7 79.1,190.1 C79.4,189.5 80.0,188.9 80.0,188.3 C80.0,187.8 79.4,187.2 79.2,186.7 C78.9,186.1 78.5,185.3 78.3,185.0"/>
<path d="M40.0,195.0 C40.4,194.8 41.4,194.1 42.1,194.0 C42.8,193.8 43.7,194.2 44.5,194.1 C45.3,194.0 45.9,193.5 46.7,193.3 C47.4,193.1 48.1,192.9 48.9,192.8 C49.7,192.7 50.5,192.8 51.2,192.6 C51.9,192.4 52.7,191.6 53.3,191.7 C53.9,191.8 54.2,192.8 54.8,193.1 C55.3,193.5 56.0,193.7 56.6,194.0 C57.2,194.3 58.0,194.8 58.3,195.0"/>
<path d="M43.3,203.3 C43.7,203.5 44.7,204.0 45.5,204.2 C46.2,204.3 47.1,203.9 47.9,204.1 C48.6,204.2 49.3,204.8 50.0,205.0 C50.7,205.2 51.5,204.9 52.3,205.0 C53.0,205.1 53.7,205.5 54.4,205.6 C55.2,205.7 56.1,206.1 56.7,205.8 C57.3,205.6 57.5,204.5 58.0,204.1 C58.6,203.7 59.5,203.6 60.1,203.2 C60.7,202.8 61.4,201.9 61.7,201.7"/>
<path d="M36.7,209.2 C37.0,209.1 38.2,208.9 38.9,208.6 C39.6,208.4 40.3,207.8 41.0,207.6 C41.7,207.4 42.5,207.4 43.3,207.5 C44.2,207.6 45.2,208.0 46.1,208.1 C47.0,208.1 48.0,207.7 48.9,207.7 C49.9,207.8 50.8,208.2 51.7,208.3 C52.5,208.5 53.1,208.8 53.9,208.8 C54.6,208.8 55.4,208.3 56.2,208.4 C56.9,208.5 57.6,209.0 58.3,209.2 C59.1,209.3 60.0,209.2 60.9,209.4 C61.7,209.5 62.7,209.5 63.3,210.0 C63.9,210.5 64.1,211.4 64.5,212.1 C64.9,212.8 65.8,213.5 65.8,214.2 C65.9,214.8 65.2,215.4 64.8,216.0 C64.5,216.7 64.0,217.2 63.8,217.9 C63.5,218.6 63.7,219.5 63.3,220.0 C63.0,220.5 62.3,220.8 61.7,221.2 C61.2,221.6 60.7,222.1 60.1,222.4 C59.6,222.8 59.0,223.0 58.3,223.3 C57.7,223.7 56.9,224.2 56.2,224.6 C55.4,224.9 54.5,225.0 53.8,225.3 C53.0,225.7 52.1,226.1 51.7,226.7 C51.2,227.3 51.1,228.1 51.1,228.9 C51.0,229.6 51.5,230.4 51.4,231.2 C51.4,231.9 50.9,232.6 50.8,233.3 C50.8,234.1 51.0,234.9 51.2,235.6 C51.4,236.3 51.9,237.0 52.1,237.7 C52.3,238.5 52.3,239.2 52.5,240.0 C52.7,240.8 53.2,242.1 53.3,242.5"/>
<path d="M34.2,214.2 C34.1,214.7 33.8,216.1 33.7,217.1 C33.5,218.0 33.3,219.1 33.3,220.0 C33.4,220.9 33.7,221.7 34.0,222.6 C34.3,223.4 34.5,224.5 35.0,225.0 C35.5,225.5 36.5,225.4 37.2,225.5 C38.0,225.7 38.7,225.9 39.4,226.1 C40.2,226.3 40.9,226.3 41.7,226.7 C42.4,227.0 43.2,227.7 43.8,228.2 C44.5,228.8 45.3,229.3 45.8,230.0 C46.3,230.7 46.4,231.8 46.8,232.6 C47.2,233.5 48.0,234.2 48.3,235.0 C48.7,235.8 48.8,236.6 49.0,237.5 C49.1,238.3 48.8,239.4 49.2,240.0 C49.6,240.6 50.8,240.5 51.5,240.9 C52.2,241.3 53.0,242.2 53.3,242.5"/>
<path d="M65.0,203.3 C65.3,203.7 66.3,204.7 67.0,205.3 C67.7,205.9 68.5,206.4 69.2,206.9 C70.0,207.4 70.9,208.0 71.7,208.3 C72.4,208.7 73.0,208.7 73.6,209.1 C74.2,209.4 74.6,209.9 75.2,210.3 C75.7,210.8 76.0,211.4 76.7,211.7 C77.3,211.9 78.4,211.7 79.2,211.8 C80.0,212.0 80.8,212.6 81.7,212.5 C82.5,212.4 83.4,211.9 84.3,211.5 C85.1,211.0 86.0,210.4 86.7,210.0 C87.3,209.6 87.8,209.2 88.3,208.9 C88.9,208.5 89.5,208.2 90.0,207.8 C90.6,207.5 91.4,206.9 91.7,206.7"/>
<path d="M80.0,188.3 C80.2,188.6 80.8,189.4 81.2,190.0 C81.5,190.5 81.9,191.1 82.3,191.6 C82.6,192.2 83.0,192.6 83.3,193.3 C83.6,194.0 83.7,195.0 84.0,195.8 C84.4,196.5 84.9,197.2 85.4,197.9 C85.8,198.6 86.2,199.5 86.7,200.0 C87.2,200.5 87.7,200.6 88.3,200.7 C88.8,200.9 89.7,200.8 90.0,200.8"/>
<path d="M91.7,206.7 C91.7,207.1 91.9,208.5 92.1,209.3 C92.4,210.1 93.4,211.0 93.3,211.7 C93.3,212.3 92.4,212.6 92.0,213.2 C91.5,213.7 91.1,214.2 90.8,214.8 C90.4,215.4 90.2,215.9 90.0,216.7 C89.8,217.4 89.9,218.5 89.6,219.3 C89.4,220.2 88.2,221.1 88.3,221.7 C88.4,222.3 89.8,222.4 90.3,223.0 C90.9,223.6 91.0,224.9 91.7,225.0 C92.3,225.1 93.3,224.0 94.1,223.6 C94.9,223.2 95.8,222.9 96.7,222.5 C97.5,222.1 98.3,221.8 99.0,221.4 C99.8,220.9 100.5,220.4 101.2,219.9 C101.9,219.4 102.5,218.7 103.3,218.3 C104.1,217.9 105.2,217.9 106.0,217.5 C106.9,217.0 107.6,216.4 108.3,215.8 C109.0,215.3 109.8,214.7 110.3,214.0 C110.9,213.3 111.6,212.3 111.7,211.7 C111.7,211.0 110.9,210.6 110.5,210.0 C110.2,209.5 109.8,208.9 109.5,208.3 C109.1,207.8 108.5,206.9 108.3,206.7"/>
<path d="M111.7,211.7 C111.9,212.0 112.8,213.0 113.1,213.7 C113.5,214.5 113.5,215.4 113.8,216.2 C114.1,216.9 114.7,217.6 115.0,218.3 C115.3,219.1 115.4,220.0 115.9,220.7 C116.3,221.4 117.2,221.9 117.6,222.6 C118.0,223.3 117.9,224.3 118.3,225.0 C118.7,225.7 119.4,226.1 120.0,226.7 C120.5,227.3 120.8,228.1 121.4,228.6 C121.9,229.2 122.7,229.6 123.3,230.0 C123.9,230.4 124.5,230.7 125.1,231.0 C125.7,231.3 126.4,231.4 126.9,231.8 C127.5,232.2 128.1,233.1 128.3,233.3"/>
<path d="M53.3,242.5 C53.7,242.7 54.8,243.2 55.5,243.4 C56.3,243.7 57.2,243.6 57.9,243.8 C58.6,244.1 59.3,244.6 60.0,245.0 C60.7,245.4 61.4,245.8 62.1,246.0 C62.9,246.2 63.7,245.9 64.5,246.1 C65.2,246.2 65.9,246.6 66.7,246.7 C67.4,246.7 68.1,246.4 68.9,246.3 C69.6,246.3 70.4,246.3 71.1,246.2 C71.9,246.2 72.5,246.0 73.3,245.8 C74.1,245.7 75.1,245.5 75.9,245.2 C76.7,244.9 77.5,244.4 78.3,244.2 C79.1,243.9 79.9,244.0 80.6,243.9 C81.4,243.8 82.1,243.6 82.9,243.4 C83.6,243.2 84.2,242.6 85.0,242.5 C85.8,242.4 86.7,242.6 87.5,242.7 C88.4,242.9 89.6,243.2 90.0,243.3"/>
<path d="M22.5,225.0 C22.9,225.1 23.9,225.5 24.6,225.7 C25.3,226.0 26.3,226.1 26.7,226.7 C27.1,227.2 26.8,228.4 26.9,229.2 C27.1,230.0 27.6,230.9 27.5,231.7 C27.4,232.5 26.5,233.2 26.2,234.0 C25.9,234.9 25.6,235.8 25.8,236.7 C26.0,237.5 27.1,238.1 27.5,239.0 C27.9,239.8 28.3,240.8 28.3,241.7 C28.4,242.5 27.9,243.3 27.7,244.1 C27.6,245.0 27.9,246.2 27.5,246.7 C27.1,247.2 25.9,246.8 25.2,247.1 C24.5,247.3 23.7,248.1 23.3,248.3"/>
<path d="M30.8,246.7 C31.0,246.3 31.3,245.1 31.7,244.4 C32.1,243.7 32.8,243.0 33.3,242.5 C33.9,242.0 34.5,241.6 35.2,241.2 C35.8,240.8 36.4,240.3 37.0,240.0 C37.7,239.6 38.5,239.0 39.2,239.2 C39.8,239.3 40.4,240.3 40.8,241.0 C41.2,241.7 41.2,242.7 41.7,243.3 C42.1,244.0 42.9,244.4 43.6,244.8 C44.3,245.3 45.1,245.7 45.8,245.8 C46.6,245.9 47.2,245.6 47.9,245.5 C48.6,245.4 49.4,245.3 50.0,245.0 C50.6,244.7 51.1,244.1 51.6,243.7 C52.2,243.3 53.0,242.7 53.3,242.5"/>
<path d="M30.8,246.7 C30.7,246.9 30.2,247.7 30.1,248.3 C30.0,248.8 29.6,249.7 30.0,250.0 C30.4,250.3 31.7,250.1 32.6,250.0 C33.4,249.8 34.2,249.4 35.0,249.2 C35.8,248.9 36.4,248.7 37.2,248.6 C37.9,248.5 38.7,248.5 39.4,248.4 C40.2,248.4 40.9,248.3 41.7,248.3 C42.4,248.4 43.1,248.6 43.9,248.6 C44.6,248.6 45.4,248.5 46.2,248.6 C46.9,248.7 47.5,249.0 48.3,249.2 C49.1,249.3 50.1,249.3 51.0,249.6 C51.8,249.9 52.8,250.3 53.3,250.8 C53.9,251.4 54.0,252.3 54.4,253.0 C54.8,253.7 55.4,254.3 55.8,255.0 C56.3,255.7 56.8,256.6 57.2,257.4 C57.6,258.3 58.1,259.6 58.3,260.0"/>
<path d="M45.8,245.8 C46.0,246.1 46.5,247.1 46.9,247.6 C47.3,248.2 48.1,248.9 48.3,249.2"/>
<path d="M73.3,245.8 C73.2,246.3 72.6,247.7 72.4,248.7 C72.3,249.7 72.3,250.8 72.5,251.7 C72.7,252.6 73.2,253.3 73.4,254.1 C73.7,255.0 74.1,256.0 74.2,256.7 C74.3,257.4 74.2,257.9 74.1,258.4 C74.0,259.0 73.5,259.7 73.3,260.0"/>
<path d="M85.0,242.5 C85.0,243.0 84.8,244.5 84.9,245.5 C85.1,246.5 85.4,247.5 85.8,248.3 C86.3,249.2 87.0,249.8 87.5,250.6 C87.9,251.5 87.9,252.6 88.3,253.3 C88.8,254.0 89.6,254.3 90.2,254.8 C90.7,255.4 91.3,256.1 91.7,256.7 C92.0,257.3 91.9,257.9 92.2,258.5 C92.5,259.0 93.1,259.7 93.3,260.0"/>
<path d="M90.0,243.3 C90.4,243.5 91.6,243.7 92.4,244.2 C93.1,244.6 93.5,245.5 94.3,245.9 C95.0,246.3 96.1,246.3 96.7,246.7 C97.3,247.1 97.6,247.7 97.9,248.3 C98.2,248.9 98.3,249.6 98.6,250.2 C99.0,250.8 99.3,251.3 100.0,251.7 C100.7,252.0 101.8,252.1 102.8,252.2 C103.7,252.3 104.7,252.1 105.7,252.3 C106.6,252.5 107.4,253.2 108.3,253.3 C109.2,253.5 110.2,253.1 111.1,253.0 C112.0,253.0 113.0,253.1 113.9,253.1 C114.8,253.0 115.8,252.7 116.7,252.5 C117.5,252.3 118.1,251.9 118.9,251.6 C119.6,251.3 120.4,251.2 121.2,251.0 C121.9,250.7 123.1,250.5 123.3,250.0 C123.6,249.5 122.9,248.6 122.6,247.9 C122.3,247.2 122.2,246.2 121.7,245.8 C121.1,245.5 119.9,246.0 119.1,245.9 C118.3,245.7 117.4,245.1 116.7,245.0 C115.9,244.9 115.2,244.9 114.4,245.0 C113.7,245.1 113.0,245.5 112.2,245.6 C111.5,245.7 110.7,245.8 110.0,245.8 C109.3,245.8 108.5,245.5 107.8,245.5 C107.0,245.6 106.3,246.2 105.6,246.3 C104.8,246.3 103.7,245.9 103.3,245.8"/>
<path d="M103.3,188.3 C103.4,188.7 103.6,189.8 103.8,190.6 C104.0,191.3 104.2,192.0 104.4,192.8 C104.6,193.5 104.8,194.2 105.0,195.0 C105.2,195.8 105.5,196.6 105.8,197.4 C106.1,198.2 106.4,198.9 106.8,199.7 C107.2,200.4 108.0,200.9 108.3,201.7 C108.7,202.4 108.6,203.4 108.9,204.3 C109.2,205.1 109.8,206.3 110.0,206.7"/>
<path d="M100.0,196.7 C100.3,196.9 101.1,197.8 101.7,198.3 C102.2,198.9 102.7,199.5 103.3,200.0 C104.0,200.5 104.9,200.9 105.7,201.2 C106.5,201.5 107.4,201.7 108.3,201.7 C109.2,201.7 110.2,201.3 111.1,201.1 C112.0,201.0 112.9,201.0 113.9,201.0 C114.8,200.9 115.8,200.9 116.7,200.8 C117.5,200.8 118.2,200.8 118.9,200.8 C119.7,200.9 120.4,200.9 121.2,201.0 C121.9,201.2 122.7,201.6 123.3,201.7 C124.0,201.7 124.6,201.5 125.2,201.2 C125.7,200.9 126.4,200.2 126.7,200.0"/>
<path d="M125.0,196.7 C125.1,197.0 125.2,198.2 125.4,198.9 C125.7,199.6 126.2,200.3 126.4,201.0 C126.6,201.8 126.3,202.7 126.7,203.3 C127.0,203.9 128.1,204.1 128.7,204.7 C129.2,205.2 129.8,206.3 130.0,206.7"/>
<path d="M113.3,205.0 C113.5,205.4 114.0,206.5 114.3,207.3 C114.6,208.1 114.7,208.9 115.1,209.7 C115.5,210.4 116.4,210.9 116.7,211.7 C116.9,212.4 116.6,213.3 116.8,214.0 C117.1,214.7 117.9,215.3 118.2,216.0 C118.4,216.7 117.8,218.1 118.3,218.3 C118.8,218.5 120.1,217.5 121.1,217.1 C122.0,216.8 123.1,216.7 124.0,216.4 C124.9,216.0 126.0,215.4 126.7,215.0 C127.4,214.6 127.7,214.3 128.3,214.0 C128.8,213.7 129.7,213.4 130.0,213.3"/>
<path d="M118.3,225.0 C118.7,224.9 119.8,224.5 120.5,224.3 C121.3,224.2 122.1,224.2 122.8,224.1 C123.6,223.9 124.2,223.4 125.0,223.3 C125.8,223.2 126.7,223.4 127.5,223.5 C128.4,223.6 129.6,224.1 130.0,224.2"/>
</g>
<g clip-path="url(#cH)">
<path d="M130.0,196.7 C130.4,196.7 131.8,196.8 132.6,197.1 C133.5,197.4 134.3,198.3 135.0,198.3 C135.7,198.4 136.4,198.0 136.9,197.6 C137.4,197.1 137.7,196.3 138.2,195.9 C138.7,195.4 139.3,195.0 140.0,195.0 C140.7,195.0 141.8,195.6 142.6,196.0 C143.5,196.4 144.2,197.5 145.0,197.5 C145.8,197.5 146.7,196.7 147.5,196.2 C148.3,195.8 149.2,195.1 150.0,195.0 C150.8,194.9 151.6,195.7 152.5,195.9 C153.3,196.2 154.2,196.8 155.0,196.7 C155.8,196.6 156.5,195.9 157.0,195.3 C157.6,194.8 157.7,193.8 158.3,193.3 C159.0,192.8 159.9,192.6 160.8,192.3 C161.6,192.0 162.5,191.9 163.3,191.7 C164.2,191.4 165.0,191.1 165.8,190.8 C166.7,190.5 167.9,190.1 168.3,190.0"/>
<path d="M140.0,185.0 C140.1,185.4 140.5,186.7 140.8,187.5 C141.1,188.3 141.7,189.2 141.7,190.0 C141.7,190.8 141.2,191.7 140.9,192.5 C140.6,193.3 140.1,194.6 140.0,195.0"/>
<path d="M150.0,185.0 C150.2,185.4 150.9,186.5 151.2,187.4 C151.5,188.2 151.7,189.1 151.7,190.0 C151.6,190.9 151.3,191.7 151.0,192.6 C150.7,193.4 150.2,194.6 150.0,195.0"/>
<path d="M158.3,193.3 C158.5,193.7 159.3,194.8 159.6,195.7 C159.9,196.5 160.1,197.5 160.0,198.3 C159.9,199.2 159.0,199.9 158.7,200.7 C158.5,201.5 158.2,202.6 158.3,203.3 C158.5,204.1 159.2,204.7 159.7,205.3 C160.3,205.8 161.4,206.0 161.7,206.7 C161.9,207.3 161.5,208.5 161.2,209.3 C161.0,210.1 160.6,211.0 160.0,211.7 C159.4,212.3 158.5,212.7 157.6,213.2 C156.8,213.6 155.9,214.0 155.0,214.2 C154.1,214.3 153.3,214.2 152.4,214.1 C151.6,213.9 150.4,213.5 150.0,213.3"/>
<path d="M145.0,197.5 C145.1,197.8 145.7,198.7 145.9,199.4 C146.0,200.0 145.9,200.8 146.0,201.4 C146.1,202.1 146.7,202.6 146.7,203.3 C146.6,204.1 146.2,205.0 145.9,205.9 C145.6,206.7 144.9,207.7 145.0,208.3 C145.1,209.0 146.2,209.4 146.8,209.9 C147.4,210.4 148.1,210.8 148.7,211.3 C149.2,211.9 150.0,212.6 150.0,213.3 C150.0,214.1 149.2,214.9 148.9,215.8 C148.7,216.6 148.3,217.6 148.3,218.3 C148.4,219.1 148.7,219.7 149.1,220.2 C149.5,220.8 150.3,221.0 150.7,221.6 C151.2,222.1 151.7,222.6 151.7,223.3 C151.6,224.0 150.8,224.9 150.5,225.7 C150.3,226.6 150.1,227.9 150.0,228.3"/>
<path d="M130.0,208.3 C130.4,208.4 131.8,208.6 132.6,208.9 C133.4,209.2 134.2,210.0 135.0,210.0 C135.8,210.0 136.5,209.1 137.4,208.8 C138.2,208.5 139.1,208.4 140.0,208.3 C140.9,208.2 141.7,208.3 142.5,208.3 C143.3,208.3 144.6,208.3 145.0,208.3"/>
<path d="M135.0,198.3 C135.1,198.8 135.3,200.1 135.6,200.9 C135.9,201.7 136.6,202.6 136.7,203.3 C136.7,204.1 136.3,204.8 136.1,205.6 C135.9,206.3 135.9,207.1 135.7,207.8 C135.5,208.5 135.1,209.6 135.0,210.0"/>
<path d="M130.0,218.3 C130.4,218.4 131.5,218.4 132.3,218.7 C133.0,218.9 133.7,219.3 134.4,219.6 C135.1,219.8 135.9,220.0 136.7,220.0 C137.4,220.0 138.2,219.7 138.9,219.5 C139.6,219.3 140.3,218.7 141.0,218.5 C141.8,218.3 142.5,218.3 143.3,218.3 C144.1,218.4 145.0,218.6 145.8,218.6 C146.7,218.6 147.9,218.4 148.3,218.3"/>
<path d="M163.3,191.7 C163.5,192.0 163.9,192.9 164.2,193.5 C164.5,194.1 164.8,194.7 165.2,195.2 C165.6,195.8 166.1,196.3 166.7,196.7 C167.3,197.0 168.1,197.2 168.9,197.3 C169.6,197.5 170.4,197.4 171.2,197.6 C171.9,197.8 172.5,198.0 173.3,198.3 C174.1,198.6 175.1,198.9 175.9,199.4 C176.8,199.8 177.7,200.8 178.3,200.8 C179.0,200.8 179.3,199.8 179.9,199.4 C180.4,199.0 181.0,198.4 181.7,198.3 C182.3,198.3 183.0,198.9 183.6,199.3 C184.1,199.7 184.8,200.6 185.0,200.8"/>
<path d="M170.0,204.2 C170.4,204.4 171.5,205.3 172.4,205.7 C173.2,206.1 174.1,206.6 175.0,206.7 C175.9,206.7 176.7,206.2 177.5,205.9 C178.4,205.6 179.4,204.9 180.0,205.0 C180.6,205.1 180.8,206.2 181.4,206.6 C181.9,207.1 183.0,207.4 183.3,207.5"/>
<path d="M161.7,206.7 C162.1,206.8 163.4,207.1 164.2,207.4 C165.0,207.6 166.0,208.5 166.7,208.3 C167.3,208.1 167.6,206.8 168.1,206.1 C168.7,205.4 169.4,204.8 170.0,204.2 C170.6,203.6 171.0,203.0 171.4,202.4 C171.8,201.8 172.1,201.1 172.4,200.4 C172.8,199.7 173.2,198.7 173.3,198.3"/>
<path d="M170.0,211.7 C170.4,211.6 171.6,211.2 172.5,211.1 C173.3,210.9 174.2,210.7 175.0,210.8 C175.8,211.0 176.6,211.5 177.4,211.8 C178.3,212.1 179.3,212.6 180.0,212.5 C180.7,212.4 181.3,211.9 181.8,211.5 C182.4,211.1 183.1,210.2 183.3,210.0"/>
<path d="M165.0,225.0 C165.4,225.2 166.6,225.8 167.4,226.1 C168.2,226.4 169.2,226.7 170.0,226.7 C170.8,226.6 171.6,226.1 172.5,225.8 C173.3,225.5 174.1,225.1 175.0,225.0 C175.9,224.9 176.8,225.1 177.7,225.4 C178.5,225.7 179.6,226.5 180.0,226.7"/>
<path d="M165.8,226.7 C165.7,227.0 165.4,228.1 165.3,228.9 C165.2,229.7 165.4,230.5 165.2,231.2 C165.0,232.0 164.3,232.6 164.2,233.3 C164.1,234.1 164.5,234.8 164.7,235.6 C164.8,236.3 164.8,237.1 165.0,237.9 C165.2,238.6 165.8,239.3 165.8,240.0 C165.9,240.7 165.5,241.5 165.3,242.2 C165.0,242.9 164.4,243.6 164.2,244.3 C164.1,245.1 164.2,246.3 164.2,246.7"/>
<path d="M175.0,225.0 C175.0,225.4 175.3,226.5 175.2,227.3 C175.1,228.0 174.3,228.7 174.2,229.4 C174.0,230.1 174.0,230.9 174.2,231.7 C174.3,232.4 174.7,233.1 175.0,233.8 C175.2,234.5 175.5,235.3 175.7,236.0 C175.8,236.8 176.1,237.6 175.8,238.3 C175.6,239.1 174.6,239.8 174.2,240.7 C173.8,241.5 173.5,242.9 173.3,243.3"/>
<path d="M164.2,233.3 C164.5,233.5 165.3,234.2 166.0,234.3 C166.6,234.5 167.4,234.3 168.1,234.4 C168.7,234.6 169.3,235.2 170.0,235.0 C170.7,234.8 171.4,234.0 172.1,233.4 C172.8,232.8 173.8,232.0 174.2,231.7"/>
<path d="M165.8,240.0 C166.3,240.0 167.6,240.2 168.4,240.0 C169.2,239.9 170.0,239.3 170.8,239.2 C171.7,239.0 172.6,239.3 173.4,239.2 C174.2,239.1 175.4,238.5 175.8,238.3"/>
<path d="M180.0,226.7 C180.3,226.4 181.4,225.8 182.0,225.3 C182.5,224.7 183.0,224.0 183.3,223.3 C183.7,222.7 183.8,222.0 184.2,221.5 C184.6,221.0 185.4,220.7 185.8,220.2 C186.2,219.7 186.1,218.8 186.7,218.3 C187.2,217.8 188.2,217.4 189.0,217.1 C189.9,216.8 190.8,216.6 191.7,216.7 C192.5,216.7 193.3,217.2 194.2,217.5 C195.0,217.8 195.8,218.3 196.7,218.3 C197.5,218.3 198.3,217.7 199.1,217.4 C200.0,217.2 200.9,216.6 201.7,216.7 C202.4,216.8 203.1,217.5 203.7,218.0 C204.2,218.6 204.8,219.7 205.0,220.0"/>
<path d="M183.3,207.5 C183.8,207.5 185.1,207.4 185.9,207.6 C186.7,207.7 187.5,208.3 188.3,208.3 C189.2,208.3 190.1,207.9 190.9,207.7 C191.7,207.4 192.5,206.7 193.3,206.7 C194.2,206.7 195.0,207.3 195.8,207.6 C196.6,207.9 197.5,208.4 198.3,208.3 C199.2,208.3 199.9,207.4 200.7,207.1 C201.5,206.9 202.8,207.2 203.3,206.7 C203.9,206.2 203.9,205.0 204.2,204.2 C204.5,203.3 205.0,202.5 205.0,201.7 C205.0,200.8 204.2,200.1 203.9,199.2 C203.6,198.4 203.8,197.3 203.3,196.7 C202.9,196.0 201.9,195.9 201.3,195.3 C200.8,194.8 200.2,193.7 200.0,193.3"/>
<path d="M185.0,200.8 C185.4,200.7 186.7,200.4 187.5,200.1 C188.4,199.8 189.2,199.2 190.0,199.2 C190.8,199.1 191.8,199.3 192.6,199.6 C193.5,199.9 194.3,200.9 195.0,200.8 C195.7,200.8 196.0,199.9 196.6,199.5 C197.1,199.0 198.0,198.5 198.3,198.3"/>
<path d="M190.0,199.2 C190.1,199.5 190.3,200.5 190.5,201.2 C190.6,201.9 190.9,202.5 190.8,203.3 C190.7,204.1 190.2,205.1 189.8,206.0 C189.4,206.8 188.6,207.9 188.3,208.3"/>
<path d="M198.3,208.3 C198.5,208.7 199.3,209.9 199.5,210.7 C199.8,211.5 200.1,212.6 200.0,213.3 C199.9,214.0 199.0,214.3 198.7,214.9 C198.4,215.5 198.5,216.4 198.2,216.9 C197.9,217.5 196.9,218.1 196.7,218.3"/>
<path d="M205.0,220.0 C205.4,219.8 206.6,219.2 207.4,219.0 C208.3,218.7 209.3,218.2 210.0,218.3 C210.7,218.5 211.3,219.3 211.9,219.8 C212.4,220.4 212.6,221.4 213.3,221.7 C214.0,221.9 215.1,221.5 216.0,221.2 C216.8,221.0 217.6,220.4 218.3,220.0 C219.0,219.6 219.6,219.4 220.1,219.1 C220.7,218.7 221.0,218.0 221.6,217.6 C222.1,217.2 222.6,216.6 223.3,216.7 C224.0,216.7 224.9,217.5 225.7,217.8 C226.6,218.1 227.7,218.6 228.3,218.3 C229.0,218.0 229.3,216.8 229.5,216.0 C229.8,215.1 230.0,214.2 230.0,213.3 C230.0,212.5 229.9,211.5 229.6,210.7 C229.3,209.9 228.8,208.9 228.3,208.3 C227.9,207.7 227.2,207.6 226.7,207.1 C226.2,206.7 225.8,206.1 225.2,205.8 C224.7,205.4 223.7,205.6 223.3,205.0 C222.9,204.4 223.1,203.2 222.8,202.4 C222.5,201.6 221.9,200.4 221.7,200.0"/>
<path d="M205.0,201.7 C205.4,201.6 206.8,201.5 207.6,201.2 C208.5,200.9 209.2,200.0 210.0,200.0 C210.8,200.0 211.6,200.8 212.4,201.1 C213.2,201.4 214.5,201.9 215.0,201.7 C215.5,201.5 215.2,200.4 215.5,199.8 C215.8,199.3 216.0,198.5 216.7,198.3 C217.3,198.2 218.4,198.7 219.2,199.0 C220.1,199.3 221.0,200.0 221.7,200.0 C222.4,200.0 222.8,199.3 223.4,199.0 C223.9,198.6 224.4,198.1 225.0,197.8 C225.5,197.4 226.0,197.0 226.7,196.7 C227.4,196.3 228.3,196.0 229.1,195.7 C230.0,195.5 230.8,195.1 231.7,195.0 C232.5,194.9 233.5,195.1 234.3,195.4 C235.2,195.6 236.0,196.7 236.7,196.7 C237.3,196.6 237.8,195.6 238.4,195.1 C238.9,194.5 239.3,193.4 240.0,193.3 C240.7,193.2 241.5,194.3 242.4,194.6 C243.2,194.8 244.1,195.0 245.0,195.0 C245.9,195.0 246.8,194.8 247.6,194.5 C248.4,194.2 249.6,193.5 250.0,193.3"/>
<path d="M203.3,206.7 C203.6,206.9 204.6,207.7 205.1,208.2 C205.7,208.8 206.0,209.6 206.7,210.0 C207.3,210.4 208.4,210.5 209.2,210.8 C210.0,211.0 211.1,211.1 211.7,211.7 C212.2,212.2 212.2,213.3 212.5,214.2 C212.7,215.0 213.2,215.8 213.3,216.7 C213.5,217.5 213.4,218.3 213.4,219.2 C213.4,220.0 213.3,221.2 213.3,221.7"/>
<path d="M230.0,213.3 C230.4,213.4 231.5,213.6 232.3,213.7 C233.0,213.9 233.7,214.2 234.5,214.4 C235.2,214.6 236.0,215.2 236.7,215.0 C237.3,214.8 237.8,214.0 238.4,213.4 C239.0,212.8 239.3,211.8 240.0,211.7 C240.7,211.5 241.6,212.3 242.5,212.6 C243.3,212.9 244.2,213.4 245.0,213.3 C245.8,213.2 246.5,212.3 247.3,212.0 C248.2,211.8 249.6,211.7 250.0,211.7"/>
<path d="M228.3,218.3 C228.6,218.6 229.3,219.3 229.8,219.7 C230.4,220.1 230.9,220.5 231.5,220.8 C232.1,221.2 232.8,221.3 233.3,221.7 C233.9,222.1 234.4,222.6 234.7,223.2 C235.0,223.8 234.9,224.6 235.2,225.2 C235.5,225.8 236.0,226.3 236.7,226.7 C237.3,227.0 238.4,227.0 239.2,227.3 C240.1,227.5 240.8,228.3 241.7,228.3 C242.5,228.4 243.4,228.0 244.2,227.7 C245.1,227.4 246.0,226.7 246.7,226.7 C247.4,226.6 247.8,227.1 248.4,227.4 C248.9,227.7 249.7,228.2 250.0,228.3"/>
<path d="M236.7,215.0 C236.7,215.5 236.7,216.9 236.7,217.9 C236.6,218.9 236.4,219.9 236.4,220.8 C236.5,221.8 237.0,222.8 237.0,223.8 C237.1,224.7 236.7,226.2 236.7,226.7"/>
<path d="M205.0,220.0 C205.2,220.4 205.8,221.4 206.0,222.1 C206.1,222.9 205.8,223.7 205.9,224.5 C206.0,225.3 206.8,226.1 206.7,226.7 C206.6,227.3 205.6,227.5 205.2,228.1 C204.9,228.7 205.0,229.6 204.7,230.2 C204.4,230.8 203.4,231.0 203.3,231.7 C203.3,232.3 203.9,233.3 204.2,234.2 C204.5,235.0 204.6,235.9 205.0,236.7 C205.4,237.4 205.8,238.1 206.3,238.7 C206.9,239.2 208.0,239.8 208.3,240.0"/>
<path d="M213.3,221.7 C213.6,222.0 214.3,222.9 214.8,223.5 C215.3,224.1 215.9,224.7 216.5,225.2 C217.0,225.7 217.8,226.2 218.3,226.7 C218.9,227.1 219.2,227.7 219.8,228.1 C220.3,228.5 221.1,228.6 221.7,228.9 C222.2,229.2 222.8,229.6 223.3,230.0 C223.8,230.4 224.4,230.9 224.7,231.5 C225.1,232.0 225.3,232.7 225.6,233.3 C226.0,233.9 226.7,234.3 226.7,235.0 C226.7,235.7 226.0,236.6 225.7,237.5 C225.4,238.3 224.8,239.3 225.0,240.0 C225.2,240.7 226.1,241.1 226.7,241.7 C227.2,242.2 227.6,243.2 228.3,243.3 C229.0,243.5 230.0,242.9 230.9,242.6 C231.7,242.3 232.6,241.7 233.3,241.7 C234.1,241.6 234.8,242.3 235.5,242.3 C236.2,242.4 237.0,242.1 237.8,242.1 C238.5,242.2 239.2,242.7 240.0,242.5 C240.8,242.3 241.6,241.5 242.4,241.1 C243.3,240.7 244.4,239.9 245.0,240.0 C245.6,240.1 245.7,241.1 246.0,241.6 C246.2,242.2 246.7,242.6 246.7,243.3 C246.6,244.0 245.9,244.9 245.6,245.8 C245.3,246.6 245.5,247.8 245.0,248.3 C244.5,248.9 243.5,248.8 242.7,249.0 C242.0,249.3 241.2,249.4 240.4,249.7 C239.7,250.0 239.1,250.6 238.3,250.8 C237.6,251.1 236.8,251.1 236.1,251.0 C235.3,250.9 234.6,250.4 233.9,250.3 C233.2,250.1 232.3,250.4 231.7,250.0 C231.1,249.6 230.8,248.7 230.2,248.1 C229.7,247.6 228.6,246.9 228.3,246.7"/>
<path d="M180.0,226.7 C180.3,226.8 181.2,227.3 181.7,227.7 C182.3,228.0 182.9,228.3 183.4,228.7 C184.0,229.1 184.3,229.9 185.0,230.0 C185.7,230.1 186.7,229.4 187.5,229.1 C188.3,228.9 189.2,228.3 190.0,228.3 C190.8,228.4 191.5,229.3 192.4,229.6 C193.2,229.9 194.2,230.1 195.0,230.0 C195.8,229.9 196.6,229.3 197.4,229.0 C198.3,228.7 199.3,228.2 200.0,228.3 C200.7,228.5 201.2,229.4 201.7,229.9 C202.3,230.5 203.1,231.4 203.3,231.7"/>
<path d="M185.0,230.0 C185.1,230.4 185.5,231.7 185.8,232.5 C186.1,233.4 186.8,234.3 186.7,235.0 C186.6,235.7 185.6,235.9 185.2,236.5 C184.8,237.0 184.5,237.6 184.2,238.2 C183.9,238.8 183.4,239.4 183.3,240.0 C183.3,240.6 183.7,241.4 184.1,241.9 C184.4,242.5 185.1,242.9 185.5,243.4 C185.9,243.9 186.1,244.9 186.7,245.0 C187.3,245.1 188.3,244.5 189.2,244.2 C190.0,243.9 190.8,243.4 191.7,243.3 C192.5,243.3 193.4,243.6 194.3,243.9 C195.1,244.2 196.0,245.1 196.7,245.0 C197.3,244.9 197.6,243.8 198.2,243.2 C198.8,242.6 199.4,242.2 200.0,241.7 C200.6,241.2 201.4,240.8 202.0,240.3 C202.5,239.7 202.9,239.0 203.4,238.4 C203.9,237.8 204.7,236.9 205.0,236.7"/>
<path d="M195.0,230.0 C195.0,230.4 195.0,231.7 195.1,232.6 C195.2,233.4 195.3,234.5 195.8,235.0 C196.3,235.5 197.4,235.2 198.1,235.4 C198.8,235.7 199.6,236.0 200.0,236.7 C200.4,237.3 200.3,238.3 200.3,239.2 C200.3,240.0 200.1,241.2 200.0,241.7"/>
<path d="M186.7,245.0 C186.7,245.4 186.9,246.7 187.0,247.5 C187.1,248.3 187.0,249.4 187.5,250.0 C188.0,250.6 189.2,250.8 189.9,251.3 C190.6,251.9 191.0,253.2 191.7,253.3 C192.4,253.5 193.2,252.5 194.1,252.2 C194.9,251.9 196.0,251.5 196.7,251.7 C197.4,251.8 197.7,252.5 198.2,252.9 C198.8,253.3 199.2,253.8 199.8,254.2 C200.4,254.5 201.1,255.1 201.7,255.0 C202.2,254.9 202.7,254.2 203.3,253.8 C203.8,253.5 204.5,253.3 205.1,252.9 C205.6,252.5 206.1,251.6 206.7,251.7 C207.2,251.8 207.6,252.9 208.2,253.5 C208.7,254.0 209.3,254.8 210.0,255.0 C210.7,255.2 211.5,254.7 212.3,254.6 C213.0,254.4 213.8,254.3 214.5,254.1 C215.2,253.9 216.0,253.1 216.7,253.3 C217.3,253.5 217.8,254.7 218.5,255.3 C219.2,255.8 220.1,256.6 220.8,256.7 C221.5,256.8 222.1,256.0 222.7,255.9 C223.4,255.7 224.1,255.7 224.7,255.6 C225.4,255.5 226.1,254.8 226.7,255.0 C227.2,255.2 227.5,256.4 228.0,257.0 C228.6,257.5 229.3,258.2 230.0,258.3 C230.7,258.5 231.6,258.3 232.3,258.0 C233.0,257.8 233.6,257.1 234.4,256.9 C235.1,256.6 235.9,256.5 236.7,256.7 C237.4,256.8 238.0,257.5 238.8,257.6 C239.5,257.8 240.4,257.4 241.2,257.5 C241.9,257.6 242.6,258.4 243.3,258.3 C244.0,258.3 244.7,257.5 245.5,257.4 C246.2,257.3 247.1,257.7 247.9,257.6 C248.6,257.5 249.6,256.8 250.0,256.7"/>
<path d="M176.7,238.3 C176.9,238.6 177.7,239.6 178.2,240.1 C178.8,240.7 179.4,241.5 180.0,241.7 C180.6,241.8 181.2,241.3 181.8,241.0 C182.3,240.7 183.1,240.2 183.3,240.0"/>
<path d="M173.3,243.3 C173.5,243.6 174.0,244.5 174.4,245.0 C174.8,245.5 175.5,245.9 175.9,246.5 C176.2,247.0 176.6,247.6 176.7,248.3 C176.7,249.1 176.6,250.2 176.3,251.0 C176.0,251.8 175.0,252.7 175.0,253.3 C175.0,254.0 175.9,254.3 176.4,254.8 C176.8,255.3 177.2,255.9 177.5,256.5 C177.9,257.0 178.2,258.0 178.3,258.3"/>
<path d="M150.0,228.3 C150.3,228.6 151.5,229.1 152.0,229.7 C152.5,230.3 152.7,231.2 153.2,231.8 C153.7,232.4 154.5,232.7 155.0,233.3 C155.5,233.9 155.8,234.7 155.9,235.5 C156.1,236.2 155.8,237.1 155.9,237.8 C156.0,238.6 156.3,239.4 156.7,240.0 C157.1,240.6 157.7,241.1 158.3,241.7 C159.0,242.2 159.8,242.5 160.3,243.0 C160.9,243.6 161.2,244.6 161.7,245.0 C162.1,245.4 162.6,245.4 163.0,245.7 C163.4,245.9 164.0,246.5 164.2,246.7"/>
<path d="M130.0,235.0 C130.3,235.2 131.2,235.6 131.8,236.0 C132.3,236.3 132.9,236.7 133.4,237.1 C133.9,237.5 134.4,237.9 135.0,238.3 C135.6,238.8 136.3,239.3 136.8,239.8 C137.4,240.4 137.7,241.2 138.2,241.8 C138.7,242.4 139.3,243.3 140.0,243.3 C140.7,243.4 141.4,242.5 142.1,242.3 C142.9,242.2 143.7,242.5 144.5,242.4 C145.3,242.3 146.0,241.5 146.7,241.7 C147.3,241.8 147.9,242.7 148.4,243.2 C149.0,243.8 149.8,244.3 150.0,245.0 C150.2,245.7 149.7,246.7 149.4,247.6 C149.1,248.4 148.9,249.5 148.3,250.0 C147.7,250.5 146.6,250.5 145.8,250.8 C145.0,251.0 144.0,251.3 143.3,251.7 C142.7,252.1 142.4,252.6 142.0,253.2 C141.6,253.8 141.5,254.5 141.2,255.1 C140.9,255.6 140.1,256.1 140.0,256.7 C139.9,257.2 140.5,257.8 140.8,258.3 C141.1,258.9 141.5,259.7 141.7,260.0"/>
<path d="M150.0,245.0 C150.4,245.1 151.7,245.4 152.4,245.7 C153.2,246.0 153.9,246.5 154.6,247.0 C155.3,247.4 156.0,248.3 156.7,248.3 C157.3,248.4 157.9,247.8 158.4,247.4 C159.0,247.0 159.3,246.2 159.8,245.8 C160.3,245.4 161.4,245.1 161.7,245.0"/>
<path d="M156.7,248.3 C156.8,248.7 157.4,249.7 157.6,250.5 C157.9,251.2 157.8,252.0 157.9,252.7 C158.1,253.5 157.9,254.5 158.3,255.0 C158.7,255.5 159.7,255.4 160.3,255.7 C160.9,256.0 161.3,256.6 161.8,257.0 C162.3,257.5 162.7,258.2 163.3,258.3 C164.0,258.5 164.9,258.2 165.6,258.0 C166.4,257.9 167.1,257.6 167.8,257.4 C168.6,257.2 169.4,257.0 170.0,256.7 C170.6,256.4 171.1,255.9 171.6,255.5 C172.2,255.2 172.9,255.0 173.5,254.7 C174.0,254.3 174.7,253.6 175.0,253.3"/>
<path d="M130.0,251.7 C130.4,251.8 131.6,252.5 132.4,252.8 C133.2,253.0 134.3,253.0 135.0,253.3 C135.7,253.6 136.0,254.2 136.6,254.6 C137.2,254.9 137.8,255.1 138.4,255.5 C139.0,255.8 139.7,256.5 140.0,256.7"/>
<path d="M208.3,240.0 C208.5,240.4 209.2,241.4 209.3,242.1 C209.4,242.9 209.0,243.8 209.1,244.5 C209.2,245.3 210.1,246.0 210.0,246.7 C209.9,247.3 209.1,247.7 208.8,248.3 C208.5,248.9 208.4,249.6 208.0,250.2 C207.7,250.7 206.9,251.4 206.7,251.7"/>
<path d="M220.8,256.7 C220.9,256.9 221.2,257.8 221.4,258.3 C221.5,258.9 221.6,259.7 221.7,260.0"/>
<path d="M230.0,185.0 C230.1,185.4 230.6,186.6 230.9,187.5 C231.2,188.3 231.6,189.2 231.7,190.0 C231.8,190.8 231.4,191.7 231.4,192.5 C231.4,193.3 231.6,194.6 231.7,195.0"/>
<path d="M240.0,193.3 C240.2,193.8 240.8,195.1 241.0,196.0 C241.3,196.9 241.2,197.9 241.3,198.9 C241.4,199.8 241.5,200.9 241.7,201.7 C241.9,202.4 242.3,202.9 242.6,203.5 C242.9,204.1 243.2,204.7 243.6,205.2 C244.0,205.7 244.4,206.2 245.0,206.7 C245.6,207.1 246.5,207.6 247.4,207.9 C248.2,208.2 249.6,208.3 250.0,208.3"/>
<path d="M221.7,200.0 C221.8,199.6 222.2,198.3 222.5,197.5 C222.8,196.7 223.4,195.7 223.3,195.0 C223.3,194.3 222.7,193.8 222.4,193.2 C222.0,192.7 221.8,192.0 221.4,191.5 C221.0,190.9 220.1,190.7 220.0,190.0 C219.9,189.3 220.3,188.2 220.6,187.4 C220.8,186.6 221.5,185.4 221.7,185.0"/>
<path d="M210.0,185.0 C210.1,185.4 210.6,186.4 210.8,187.2 C210.9,187.9 210.7,188.8 210.8,189.5 C211.0,190.3 211.5,190.8 211.7,191.7 C211.8,192.5 211.8,193.6 211.5,194.5 C211.3,195.4 210.5,196.3 210.3,197.2 C210.0,198.1 210.0,199.5 210.0,200.0"/>
<path d="M168.3,190.0 C168.6,189.7 169.5,188.9 170.0,188.4 C170.6,187.8 171.0,186.9 171.7,186.7 C172.4,186.4 173.5,186.8 174.3,187.0 C175.2,187.3 175.9,188.3 176.7,188.3 C177.4,188.3 178.1,187.6 178.7,187.0 C179.2,186.4 179.8,185.3 180.0,185.0"/>
<path d="M151.7,223.3 C152.1,223.5 153.4,223.8 154.2,224.1 C155.0,224.3 156.4,224.6 156.7,225.0 C156.9,225.4 156.0,226.4 155.8,226.7"/>
</g>
<g clip-path="url(#cI)">
<path d="M251.7,182.5 C252.0,182.5 253.2,182.4 253.9,182.4 C254.7,182.5 255.4,182.6 256.1,182.8 C256.9,182.9 257.5,183.2 258.3,183.3 C259.1,183.5 260.2,183.4 261.0,183.7 C261.8,184.0 262.5,184.9 263.3,185.0 C264.1,185.1 265.0,184.6 265.8,184.5 C266.7,184.4 267.5,184.0 268.3,184.2 C269.2,184.3 270.0,185.0 270.8,185.4 C271.7,185.8 272.7,186.2 273.3,186.7 C274.0,187.1 274.2,187.7 274.6,188.2 C275.0,188.8 275.3,189.3 275.7,189.9 C276.0,190.5 276.2,191.6 276.7,191.7 C277.1,191.8 277.8,190.9 278.3,190.4 C278.9,190.0 279.6,189.1 280.0,189.2 C280.4,189.3 280.6,190.4 280.8,191.0 C281.0,191.7 281.1,192.3 281.3,193.0 C281.4,193.7 281.7,194.3 281.7,195.0 C281.6,195.7 281.2,196.5 281.1,197.2 C280.9,198.0 280.8,198.7 280.6,199.5 C280.4,200.2 280.4,201.1 280.0,201.7 C279.6,202.3 278.7,202.6 278.1,203.1 C277.5,203.6 277.0,204.2 276.5,204.8 C275.9,205.4 275.5,206.0 275.0,206.7 C274.5,207.3 274.1,208.1 273.7,208.8 C273.3,209.5 273.1,210.3 272.7,211.1 C272.4,211.8 271.9,212.6 271.7,213.3 C271.4,214.1 271.5,214.9 271.3,215.6 C271.1,216.3 270.5,217.0 270.3,217.7 C270.1,218.4 270.0,219.2 270.0,220.0 C270.0,220.8 270.0,221.7 270.2,222.5 C270.3,223.4 270.9,224.3 270.8,225.0 C270.8,225.7 270.1,226.2 269.7,226.8 C269.3,227.3 268.6,228.1 268.3,228.3"/>
<path d="M248.3,190.0 C248.5,190.4 248.9,191.7 249.2,192.5 C249.4,193.3 250.1,194.3 250.0,195.0 C249.9,195.7 249.0,196.2 248.4,196.8 C247.9,197.3 246.7,197.7 246.7,198.3 C246.7,198.9 247.9,199.7 248.5,200.4 C249.0,201.2 249.4,202.0 250.0,202.8 C250.5,203.6 251.2,204.3 251.7,205.0 C252.1,205.7 252.2,206.3 252.6,206.9 C252.9,207.6 253.3,208.1 253.6,208.8 C253.9,209.4 253.9,210.1 254.2,210.8 C254.5,211.6 255.2,212.4 255.4,213.2 C255.7,214.0 255.4,215.3 255.8,215.8 C256.3,216.4 257.3,216.1 258.0,216.4 C258.7,216.7 259.6,217.0 260.0,217.5 C260.4,218.0 260.0,218.9 260.2,219.6 C260.3,220.2 260.5,220.9 260.7,221.5 C261.0,222.1 261.2,222.7 261.7,223.3 C262.2,223.9 263.0,224.6 263.8,225.1 C264.5,225.7 265.5,226.0 266.2,226.5 C267.0,227.0 268.0,228.0 268.3,228.3"/>
<path d="M254.2,215.8 C253.8,215.7 252.5,215.4 251.8,215.0 C251.2,214.6 250.7,213.8 250.0,213.3 C249.3,212.9 248.5,212.4 247.6,212.1 C246.8,211.8 245.8,211.5 245.0,211.7 C244.2,211.8 243.8,212.6 243.1,212.9 C242.4,213.1 241.4,212.9 240.8,213.3 C240.3,213.8 240.2,214.8 239.8,215.5 C239.3,216.2 238.6,216.7 238.3,217.5 C238.1,218.3 238.5,219.5 238.3,220.5 C238.2,221.4 237.4,222.5 237.5,223.3 C237.6,224.2 238.7,224.8 239.2,225.6 C239.6,226.5 239.6,228.0 240.0,228.3 C240.4,228.6 241.1,227.7 241.6,227.4 C242.2,227.1 242.7,227.0 243.3,226.7 C243.9,226.3 244.5,225.6 245.1,225.1 C245.7,224.6 246.4,224.1 246.9,223.6 C247.4,223.0 247.8,222.2 248.3,221.7 C248.9,221.1 249.5,220.6 250.1,220.1 C250.6,219.5 251.2,218.8 251.7,218.3 C252.2,217.9 252.7,217.7 253.1,217.3 C253.6,216.9 254.0,216.1 254.2,215.8"/>
<path d="M268.3,228.3 C268.1,228.7 267.3,229.7 266.9,230.4 C266.5,231.1 266.3,231.9 266.0,232.7 C265.7,233.5 265.4,234.4 265.0,235.0 C264.6,235.6 264.1,236.0 263.7,236.6 C263.3,237.1 263.1,237.8 262.8,238.3 C262.5,238.9 262.1,239.5 261.7,240.0 C261.2,240.5 260.6,240.9 260.1,241.2 C259.5,241.6 258.9,241.8 258.3,242.2 C257.7,242.5 257.2,242.8 256.7,243.3 C256.1,243.8 255.7,244.6 255.2,245.2 C254.6,245.7 253.9,246.2 253.3,246.7 C252.8,247.2 252.3,247.6 251.9,248.1 C251.5,248.7 251.4,249.4 251.1,250.0 C250.8,250.6 250.4,251.1 250.0,251.7 C249.6,252.2 249.2,252.6 248.9,253.2 C248.6,253.7 248.4,254.7 248.3,255.0"/>
<path d="M240.0,228.3 C240.2,228.7 240.8,229.8 241.3,230.3 C241.9,230.8 242.9,231.0 243.5,231.5 C244.1,232.0 244.5,232.9 245.0,233.3 C245.5,233.8 246.2,233.9 246.8,234.2 C247.4,234.6 247.9,234.9 248.5,235.3 C249.0,235.8 249.4,236.2 250.0,236.7 C250.6,237.1 251.2,237.7 251.8,238.2 C252.4,238.7 253.0,239.3 253.5,239.8 C254.0,240.4 254.5,241.1 255.0,241.7 C255.5,242.2 256.4,243.1 256.7,243.3"/>
<path d="M270.8,225.0 C271.3,225.0 272.8,225.1 273.8,225.2 C274.8,225.4 275.9,225.4 276.7,225.8 C277.4,226.2 277.8,227.0 278.3,227.7 C278.7,228.4 278.8,229.3 279.2,230.0 C279.5,230.7 279.7,231.4 280.2,232.0 C280.7,232.5 281.5,232.7 282.1,233.2 C282.6,233.7 282.8,234.4 283.3,235.0 C283.9,235.6 284.7,236.3 285.2,237.0 C285.7,237.8 285.8,238.9 286.3,239.7 C286.9,240.5 287.7,241.2 288.3,241.7 C289.0,242.1 289.7,242.0 290.3,242.4 C290.8,242.8 291.0,243.7 291.5,244.1 C292.0,244.5 293.0,244.8 293.3,245.0"/>
<path d="M279.2,236.7 C278.8,236.8 277.7,237.3 277.0,237.7 C276.3,238.2 275.6,238.6 275.0,239.2 C274.4,239.8 274.0,240.7 273.5,241.3 C272.9,242.0 272.0,242.6 271.7,243.3 C271.3,244.1 271.5,245.1 271.3,246.0 C271.0,246.8 270.3,247.6 270.0,248.3 C269.7,249.1 269.4,249.7 269.2,250.5 C269.1,251.3 269.4,252.1 269.3,252.9 C269.1,253.6 268.5,254.6 268.3,255.0"/>
<path d="M279.2,236.7 C279.3,237.1 279.5,238.4 279.8,239.2 C280.0,240.1 280.3,241.0 280.8,241.7 C281.4,242.3 282.4,242.6 283.1,243.1 C283.8,243.7 284.4,244.6 285.0,245.0 C285.6,245.4 286.2,245.3 286.8,245.6 C287.3,245.9 288.1,246.5 288.3,246.7"/>
<path d="M240.0,228.3 C239.9,228.6 239.4,229.5 239.1,230.1 C238.8,230.7 238.5,231.4 238.1,231.9 C237.7,232.4 237.2,232.7 236.7,233.3 C236.2,233.9 235.7,234.9 235.2,235.6 C234.6,236.2 234.1,237.2 233.3,237.5 C232.6,237.8 231.6,237.5 230.8,237.6 C229.9,237.7 228.9,238.5 228.3,238.3 C227.7,238.2 227.5,237.3 227.3,236.8 C227.0,236.2 226.6,235.7 226.7,235.0 C226.7,234.3 227.5,233.4 227.7,232.6 C228.0,231.7 228.4,230.8 228.3,230.0 C228.3,229.2 227.8,228.6 227.6,227.8 C227.4,227.1 227.3,226.3 227.2,225.6 C227.0,224.8 226.5,223.8 226.7,223.3 C226.9,222.9 227.9,223.0 228.4,222.7 C229.0,222.4 229.4,221.6 230.0,221.7 C230.6,221.7 231.4,222.5 232.0,223.0 C232.5,223.6 232.9,224.4 233.3,225.0 C233.8,225.6 234.2,226.4 234.7,226.9 C235.3,227.5 236.3,228.1 236.7,228.3"/>
<path d="M220.0,213.3 C220.4,213.5 221.6,214.2 222.4,214.4 C223.2,214.7 224.3,215.1 225.0,215.0 C225.7,214.9 226.0,214.1 226.5,213.7 C227.1,213.3 227.6,213.0 228.2,212.6 C228.8,212.3 230.0,212.1 230.0,211.7 C230.0,211.3 228.9,210.8 228.5,210.3 C228.1,209.7 227.9,209.1 227.5,208.5 C227.2,207.9 226.6,207.4 226.7,206.7 C226.7,206.0 227.5,205.1 227.7,204.2 C228.0,203.4 227.8,202.0 228.3,201.7 C228.9,201.4 230.0,202.2 230.9,202.4 C231.7,202.7 232.5,203.4 233.3,203.3 C234.1,203.3 234.9,202.4 235.7,202.1 C236.5,201.8 238.1,202.1 238.3,201.7 C238.6,201.2 237.3,200.2 237.0,199.3 C236.8,198.5 237.1,197.3 236.7,196.7 C236.2,196.0 235.1,195.7 234.3,195.4 C233.5,195.1 232.5,194.9 231.7,195.0 C230.8,195.1 230.1,196.0 229.3,196.2 C228.5,196.5 227.5,196.7 226.7,196.7 C225.8,196.6 225.0,196.1 224.2,195.8 C223.3,195.6 222.1,195.1 221.7,195.0"/>
<path d="M233.3,237.5 C233.8,237.6 235.1,237.9 235.9,238.2 C236.7,238.5 237.6,239.0 238.3,239.2 C239.1,239.4 239.8,239.3 240.6,239.4 C241.3,239.5 242.1,239.5 242.8,239.6 C243.5,239.7 244.5,239.5 245.0,240.0 C245.5,240.5 245.5,241.7 245.8,242.5 C246.1,243.3 246.7,244.2 246.7,245.0 C246.7,245.8 246.1,246.7 245.8,247.5 C245.6,248.3 245.6,249.4 245.0,250.0 C244.4,250.6 243.3,250.7 242.4,251.1 C241.6,251.5 240.8,252.4 240.0,252.5 C239.2,252.6 238.6,252.0 237.8,251.9 C237.1,251.9 236.3,252.0 235.6,251.9 C234.8,251.9 234.1,251.9 233.3,251.7 C232.6,251.5 231.7,251.0 230.9,250.7 C230.1,250.4 228.8,250.5 228.3,250.0 C227.9,249.5 228.3,248.3 228.2,247.5 C228.1,246.6 227.4,245.7 227.5,245.0 C227.6,244.3 228.4,243.7 228.9,243.0 C229.3,242.3 229.5,241.3 230.0,240.8 C230.5,240.4 231.3,240.7 231.9,240.4 C232.4,240.1 233.1,239.4 233.3,239.2"/>
<path d="M253.3,246.7 C253.8,246.7 255.1,246.8 256.0,247.1 C256.8,247.4 257.7,247.9 258.3,248.3 C259.0,248.8 259.3,249.3 259.7,249.8 C260.1,250.3 260.6,250.8 260.9,251.4 C261.2,252.0 261.8,252.7 261.7,253.3 C261.5,253.9 260.3,254.7 260.0,255.0"/>
<path d="M220.0,190.0 C220.4,190.2 221.6,190.7 222.4,191.0 C223.3,191.3 224.2,191.4 225.0,191.7 C225.8,191.9 226.6,192.1 227.3,192.5 C228.1,192.9 228.6,193.7 229.3,194.1 C230.1,194.5 231.3,194.8 231.7,195.0"/>
<path d="M238.3,201.7 C238.7,201.4 239.8,200.5 240.5,200.0 C241.3,199.5 242.2,199.2 243.0,198.6 C243.7,198.1 244.5,197.4 245.0,196.7 C245.5,196.0 245.8,195.2 246.2,194.5 C246.5,193.7 246.9,193.0 247.3,192.3 C247.7,191.5 248.4,190.6 248.3,190.0 C248.3,189.4 247.2,189.1 246.8,188.6 C246.5,188.0 246.3,187.3 246.0,186.7 C245.7,186.1 245.4,185.5 245.0,185.0 C244.6,184.5 244.1,183.9 243.6,183.5 C243.0,183.2 242.2,183.2 241.6,182.9 C241.0,182.6 240.5,182.1 240.0,181.7 C239.5,181.3 239.1,180.7 238.5,180.4 C238.0,180.1 237.0,180.1 236.7,180.0"/>
<path d="M226.7,235.0 C226.4,235.2 225.6,235.6 225.0,235.9 C224.5,236.2 223.9,236.7 223.3,236.7 C222.8,236.6 222.4,235.8 221.8,235.6 C221.3,235.3 220.3,235.1 220.0,235.0"/>
<path d="M227.5,245.0 C227.1,245.1 226.0,245.2 225.3,245.4 C224.6,245.7 223.9,246.6 223.3,246.7 C222.7,246.8 222.3,246.2 221.7,246.1 C221.2,245.9 220.3,245.9 220.0,245.8"/>
<path d="M258.3,183.3 C258.5,183.1 258.9,182.2 259.2,181.7 C259.5,181.1 259.9,180.3 260.0,180.0"/>
<path d="M220.0,221.7 C220.3,221.8 221.1,222.1 221.6,222.3 C222.2,222.4 222.8,222.4 223.3,222.5 C223.9,222.6 224.5,222.6 225.0,222.7 C225.6,222.9 226.4,223.2 226.7,223.3"/>
</g>
<g clip-path="url(#cJ)">
<path d="M35.0,280.8 C35.3,280.5 36.2,279.6 36.8,279.0 C37.4,278.4 37.9,277.7 38.4,277.0 C39.0,276.4 39.4,275.5 40.0,275.0 C40.6,274.5 41.5,274.2 42.2,273.9 C43.0,273.6 43.8,273.4 44.6,273.0 C45.3,272.7 45.9,272.0 46.7,271.7 C47.5,271.3 48.5,271.3 49.4,271.1 C50.4,270.9 51.2,270.4 52.2,270.3 C53.1,270.1 54.1,270.1 55.0,270.0 C55.9,269.9 56.6,270.0 57.3,269.8 C58.0,269.5 58.7,268.9 59.4,268.7 C60.1,268.4 61.3,268.8 61.7,268.3 C62.0,267.9 61.4,266.8 61.3,266.1 C61.1,265.3 61.0,264.6 60.8,263.8 C60.5,263.1 60.3,262.4 60.0,261.7 C59.7,260.9 59.0,260.1 58.8,259.3 C58.5,258.5 58.7,257.4 58.3,256.7 C58.0,255.9 57.3,255.4 56.8,254.9 C56.2,254.3 55.4,253.9 55.0,253.3 C54.6,252.8 54.9,252.0 54.6,251.5 C54.3,250.9 53.5,250.2 53.3,250.0"/>
<path d="M35.0,280.8 C35.4,281.1 36.6,282.0 37.3,282.7 C38.0,283.4 38.5,284.3 39.2,285.0 C39.9,285.7 41.0,286.1 41.7,286.7 C42.3,287.3 42.6,288.0 43.1,288.6 C43.6,289.2 44.1,289.8 44.7,290.3 C45.3,290.8 46.1,291.2 46.7,291.7 C47.3,292.2 47.8,292.8 48.3,293.3 C48.9,293.9 49.5,294.4 50.0,295.0 C50.5,295.6 50.9,296.3 51.4,297.0 C51.9,297.6 52.4,298.1 53.0,298.7 C53.6,299.2 54.4,299.5 55.0,300.0 C55.6,300.5 56.1,301.3 56.8,301.7 C57.6,302.0 58.5,302.0 59.2,302.4 C60.0,302.7 60.6,303.3 61.3,303.7 C61.9,304.2 62.7,304.5 63.3,305.0 C64.0,305.5 64.5,306.2 65.2,306.6 C65.9,307.0 66.9,307.0 67.6,307.3 C68.4,307.6 69.0,308.2 69.6,308.7 C70.3,309.1 71.0,309.5 71.7,310.0 C72.3,310.5 73.0,311.0 73.7,311.4 C74.4,311.8 75.2,312.0 75.9,312.4 C76.6,312.8 77.3,313.2 78.0,313.7 C78.7,314.1 79.3,314.6 80.0,315.0 C80.7,315.4 81.5,315.7 82.2,316.1 C82.9,316.4 83.6,316.9 84.3,317.3 C85.0,317.7 85.8,317.9 86.5,318.3 C87.2,318.8 87.7,319.5 88.3,320.0 C89.0,320.5 89.8,320.8 90.5,321.1 C91.2,321.5 92.0,321.7 92.7,322.2 C93.4,322.6 93.8,323.4 94.5,323.9 C95.1,324.4 96.3,324.8 96.7,325.0"/>
<path d="M35.0,280.8 C34.9,281.2 34.6,282.4 34.3,283.2 C34.0,283.9 33.5,284.6 33.3,285.4 C33.1,286.2 33.2,287.1 32.9,287.9 C32.7,288.6 31.9,289.2 31.7,290.0 C31.4,290.8 31.6,291.9 31.5,292.9 C31.4,293.8 31.3,294.7 31.0,295.6 C30.8,296.6 30.2,297.9 30.0,298.3"/>
<path d="M61.7,268.3 C61.7,268.7 61.9,269.9 62.1,270.6 C62.2,271.3 62.6,272.0 62.8,272.8 C63.0,273.5 63.0,274.3 63.3,275.0 C63.7,275.7 64.2,276.3 64.8,276.8 C65.4,277.3 66.4,277.5 67.0,278.0 C67.5,278.6 67.7,279.5 68.3,280.0 C69.0,280.5 70.1,280.9 71.0,281.3 C71.9,281.7 72.9,282.1 73.8,282.5 C74.7,282.8 75.8,282.9 76.7,283.3 C77.5,283.7 78.2,284.3 79.0,284.8 C79.8,285.4 80.6,285.8 81.3,286.4 C82.0,287.0 82.7,287.7 83.3,288.3 C83.9,289.0 84.3,289.5 84.9,290.1 C85.4,290.7 85.9,291.3 86.5,291.9 C87.0,292.4 88.2,292.7 88.3,293.3 C88.5,293.9 87.8,294.8 87.6,295.5 C87.3,296.2 87.1,297.0 87.0,297.7 C86.8,298.5 87.0,299.4 86.7,300.0 C86.3,300.6 85.6,300.8 85.1,301.2 C84.6,301.7 84.1,302.2 83.5,302.5 C83.0,302.9 82.4,303.0 81.7,303.3 C81.0,303.7 80.1,304.2 79.3,304.4 C78.4,304.7 77.5,304.9 76.7,305.0 C75.8,305.1 74.9,305.1 74.1,304.9 C73.3,304.8 72.1,304.3 71.7,304.2"/>
<path d="M88.3,293.3 C88.7,293.5 89.8,294.1 90.5,294.6 C91.2,295.0 91.8,295.6 92.6,295.9 C93.3,296.3 94.3,296.3 95.0,296.7 C95.7,297.0 96.3,297.8 97.0,298.2 C97.7,298.6 98.5,298.9 99.3,299.2 C100.1,299.5 101.3,299.9 101.7,300.0"/>
<path d="M76.7,305.0 C77.0,305.2 78.0,306.1 78.8,306.4 C79.5,306.7 80.5,306.5 81.3,306.9 C82.1,307.2 82.6,307.8 83.3,308.3 C84.0,308.9 84.6,309.7 85.4,310.2 C86.2,310.7 87.3,310.8 88.0,311.3 C88.8,311.8 89.2,312.9 90.0,313.3 C90.8,313.8 91.8,313.5 92.6,313.8 C93.4,314.2 94.1,315.1 94.9,315.3 C95.7,315.6 96.8,315.3 97.6,315.5 C98.5,315.7 99.2,316.3 100.0,316.7 C100.8,317.1 101.7,317.5 102.5,317.9 C103.3,318.4 104.1,318.9 105.0,319.2 C105.8,319.6 106.9,319.6 107.7,320.0 C108.5,320.4 109.2,321.3 110.0,321.7 C110.8,322.1 111.6,322.1 112.4,322.5 C113.1,322.8 113.8,323.3 114.5,323.7 C115.3,324.1 116.3,324.8 116.7,325.0"/>
<path d="M85.0,250.0 C85.2,250.3 86.1,251.3 86.5,252.1 C86.8,252.8 86.6,253.8 86.9,254.6 C87.2,255.4 87.8,256.1 88.3,256.7 C88.9,257.2 89.6,257.6 90.2,258.1 C90.8,258.6 91.4,259.1 91.9,259.7 C92.5,260.3 92.7,261.2 93.3,261.7 C94.0,262.1 95.0,262.0 95.8,262.4 C96.5,262.7 97.1,263.3 97.8,263.8 C98.5,264.2 99.3,264.6 100.0,265.0 C100.7,265.4 101.5,265.7 102.0,266.3 C102.5,266.9 102.6,267.9 103.2,268.5 C103.7,269.1 104.6,269.3 105.2,269.8 C105.8,270.4 106.3,271.0 106.7,271.7 C107.1,272.4 107.1,273.3 107.5,274.0 C107.9,274.8 108.8,275.2 109.2,276.0 C109.6,276.7 109.7,277.7 110.0,278.3 C110.3,279.0 110.6,279.5 111.1,280.0 C111.5,280.5 112.2,280.9 112.6,281.4 C113.0,282.0 113.5,282.7 113.3,283.3 C113.2,284.0 112.2,284.6 111.9,285.4 C111.6,286.2 111.8,287.2 111.5,287.9 C111.1,288.7 110.5,289.4 110.0,290.0 C109.5,290.6 109.1,291.0 108.5,291.3 C107.9,291.7 107.1,291.6 106.5,291.9 C105.9,292.3 105.4,292.7 105.0,293.3 C104.6,293.9 104.3,294.8 103.9,295.6 C103.5,296.3 103.1,297.0 102.7,297.7 C102.3,298.5 102.2,299.4 101.7,300.0 C101.2,300.6 100.3,300.8 99.7,301.3 C99.0,301.8 98.5,302.4 98.0,303.0 C97.5,303.6 97.2,304.3 96.7,305.0 C96.1,305.7 95.4,306.4 94.8,307.1 C94.2,307.8 93.6,308.5 93.1,309.3 C92.6,310.1 91.9,311.3 91.7,311.7"/>
<path d="M113.3,283.3 C113.7,283.7 114.6,284.8 115.3,285.3 C116.1,285.8 117.3,285.8 118.0,286.3 C118.8,286.8 119.3,287.7 120.0,288.3 C120.7,288.9 121.3,289.5 122.0,289.9 C122.8,290.2 123.8,290.1 124.5,290.4 C125.3,290.7 126.0,291.4 126.7,291.7 C127.3,292.0 127.7,292.1 128.3,292.2 C128.9,292.3 129.7,292.4 130.0,292.5"/>
<path d="M105.0,293.3 C104.7,293.1 104.0,292.5 103.4,292.1 C102.9,291.7 102.4,291.2 101.8,290.9 C101.2,290.6 100.5,290.6 100.0,290.0 C99.5,289.4 99.3,288.4 99.0,287.5 C98.8,286.7 98.2,285.6 98.3,285.0 C98.5,284.4 99.5,284.4 100.1,284.1 C100.7,283.7 101.2,283.4 101.8,283.0 C102.3,282.6 102.7,281.8 103.3,281.7 C104.0,281.5 104.9,281.8 105.6,282.0 C106.4,282.2 107.0,282.7 107.7,282.9 C108.5,283.2 109.6,283.3 110.0,283.3"/>
<path d="M110.0,290.0 C110.3,290.3 111.2,291.0 111.8,291.6 C112.3,292.1 112.9,292.7 113.3,293.3 C113.8,294.0 114.1,294.8 114.7,295.3 C115.2,295.9 116.1,296.2 116.7,296.7 C117.3,297.2 117.7,297.9 118.2,298.4 C118.8,299.0 119.5,299.4 120.0,300.0 C120.5,300.6 120.9,301.3 121.5,301.9 C122.0,302.4 122.6,302.9 123.3,303.3 C124.1,303.8 125.1,304.1 125.9,304.6 C126.6,305.1 127.2,305.8 127.9,306.5 C128.6,307.1 129.7,308.0 130.0,308.3"/>
<path d="M101.7,300.0 C102.0,300.3 102.8,301.5 103.5,302.0 C104.1,302.6 105.1,302.9 105.8,303.4 C106.6,303.8 107.3,304.4 108.0,304.9 C108.7,305.5 109.3,306.1 110.0,306.7 C110.7,307.2 111.4,307.8 112.1,308.3 C112.8,308.8 113.6,309.3 114.3,309.8 C115.0,310.4 115.7,310.9 116.4,311.5 C117.1,312.1 117.6,312.8 118.3,313.3 C119.1,313.9 120.0,314.1 120.7,314.6 C121.4,315.2 121.9,316.0 122.6,316.6 C123.2,317.2 124.0,317.6 124.7,318.2 C125.4,318.8 126.1,319.4 126.7,320.0 C127.3,320.6 127.7,321.2 128.2,321.8 C128.8,322.3 129.7,323.1 130.0,323.3"/>
<path d="M56.7,301.7 C56.7,302.0 56.8,303.0 57.1,303.5 C57.4,304.1 57.7,304.8 58.3,305.0 C59.0,305.2 60.2,304.9 61.2,304.7 C62.1,304.6 63.0,304.3 63.9,304.1 C64.8,303.8 65.8,303.4 66.7,303.3 C67.5,303.3 68.4,303.5 69.2,303.6 C70.0,303.8 71.3,304.1 71.7,304.2"/>
<path d="M85.0,320.0 C85.1,319.6 85.2,318.2 85.5,317.4 C85.8,316.5 86.2,315.5 86.7,315.0 C87.1,314.5 87.8,314.4 88.3,314.1 C88.9,313.9 89.7,313.5 90.0,313.3"/>
<path d="M100.0,250.0 C100.3,250.2 101.3,251.1 102.0,251.5 C102.8,251.9 103.7,251.9 104.4,252.2 C105.2,252.5 105.8,253.1 106.7,253.3 C107.5,253.6 108.5,253.8 109.4,253.8 C110.4,253.9 111.3,253.4 112.3,253.5 C113.2,253.5 114.2,254.2 115.0,254.2 C115.8,254.1 116.5,253.5 117.2,253.3 C117.9,253.0 118.7,252.8 119.5,252.6 C120.2,252.3 121.0,252.1 121.7,251.7 C122.3,251.2 123.1,250.3 123.3,250.0"/>
<path d="M126.7,300.0 C126.4,300.1 125.6,300.6 125.0,300.9 C124.5,301.1 123.4,301.3 123.3,301.7 C123.3,302.0 124.3,302.6 124.6,303.1 C124.9,303.7 124.5,304.5 125.0,305.0 C125.5,305.5 126.6,305.9 127.4,306.2 C128.2,306.5 129.6,306.6 130.0,306.7"/>
<path d="M61.7,268.3 C62.0,268.1 63.0,267.4 63.6,266.9 C64.2,266.4 64.6,265.8 65.2,265.2 C65.7,264.6 66.0,263.8 66.7,263.3 C67.3,262.9 68.3,262.8 69.0,262.5 C69.8,262.2 70.5,261.7 71.2,261.3 C71.9,260.9 72.6,260.4 73.3,260.0 C74.1,259.6 74.9,259.4 75.6,259.1 C76.4,258.7 77.1,258.3 77.9,257.9 C78.6,257.5 79.4,257.3 80.0,256.7 C80.6,256.1 80.9,255.0 81.5,254.3 C82.1,253.6 83.0,253.2 83.6,252.4 C84.2,251.7 84.8,250.4 85.0,250.0"/>
</g>
<g clip-path="url(#cK)">
<path d="M131.7,250.0 C131.8,250.4 132.1,251.5 132.3,252.2 C132.5,252.9 132.7,253.7 132.9,254.4 C133.1,255.2 133.4,255.9 133.3,256.7 C133.3,257.4 132.9,258.1 132.7,258.9 C132.5,259.6 132.4,260.4 132.3,261.1 C132.1,261.9 131.5,262.7 131.7,263.3 C131.9,264.0 132.8,264.4 133.4,264.9 C134.0,265.5 134.5,266.1 135.0,266.7 C135.6,267.2 136.1,267.9 136.7,268.3 C137.2,268.8 137.9,268.8 138.5,269.2 C139.0,269.7 139.2,270.5 139.8,270.9 C140.3,271.3 141.5,271.1 141.7,271.7 C141.9,272.2 141.2,273.4 140.9,274.2 C140.6,275.0 140.0,275.9 140.0,276.7 C140.0,277.4 140.3,278.0 140.7,278.6 C141.1,279.2 141.8,279.5 142.2,280.0 C142.6,280.5 142.8,281.3 143.3,281.7 C143.9,282.1 144.8,282.2 145.5,282.5 C146.2,282.7 146.9,283.1 147.7,283.3 C148.4,283.4 149.2,283.4 150.0,283.3 C150.8,283.3 151.5,283.2 152.2,283.2 C153.0,283.1 153.8,283.3 154.5,283.2 C155.2,283.1 156.0,282.9 156.7,282.5 C157.3,282.1 157.8,281.6 158.3,281.1 C158.8,280.6 159.2,279.9 159.8,279.5 C160.3,279.0 161.6,278.9 161.7,278.3 C161.8,277.8 160.6,276.8 160.4,276.0 C160.1,275.2 159.9,274.1 160.0,273.3 C160.1,272.6 160.7,272.2 161.1,271.7 C161.5,271.1 162.1,270.7 162.5,270.2 C162.8,269.6 163.3,269.1 163.3,268.3 C163.4,267.6 163.1,266.6 162.8,265.7 C162.6,264.9 162.2,264.0 161.7,263.3 C161.2,262.7 160.3,262.4 159.8,261.9 C159.2,261.3 159.0,260.2 158.3,260.0 C157.7,259.8 156.6,260.5 155.8,260.7 C155.0,261.0 154.2,261.6 153.3,261.7 C152.5,261.7 151.6,261.2 150.8,260.9 C150.0,260.6 149.1,260.3 148.3,260.0 C147.6,259.7 147.0,259.6 146.5,259.2 C146.0,258.7 145.8,257.8 145.3,257.4 C144.7,257.0 144.1,256.9 143.3,256.7 C142.6,256.5 141.6,256.4 140.7,256.1 C139.9,255.8 139.2,255.1 138.3,255.0 C137.5,254.9 136.6,255.3 135.7,255.5 C134.9,255.8 133.7,256.5 133.3,256.7"/>
<path d="M140.0,276.7 C139.6,276.7 138.4,276.7 137.7,277.0 C137.0,277.2 136.4,278.0 135.7,278.2 C134.9,278.5 134.0,278.1 133.3,278.3 C132.6,278.6 132.1,279.3 131.5,279.9 C131.0,280.4 130.5,281.1 130.0,281.6 C129.4,282.2 128.7,282.7 128.3,283.3 C127.9,284.0 127.6,284.7 127.5,285.5 C127.3,286.2 127.5,287.1 127.4,287.8 C127.2,288.6 127.2,289.5 126.7,290.0 C126.1,290.5 125.0,290.6 124.2,290.9 C123.3,291.2 122.4,291.7 121.7,291.7 C121.0,291.7 120.3,291.0 120.0,290.8"/>
<path d="M128.3,283.3 C128.7,283.4 129.8,283.8 130.5,283.9 C131.3,284.1 132.1,284.2 132.8,284.3 C133.5,284.5 134.1,285.0 135.0,285.0 C135.9,285.0 137.0,284.6 137.9,284.2 C138.8,283.9 139.7,283.3 140.6,282.9 C141.5,282.5 142.9,281.9 143.3,281.7"/>
<path d="M126.7,290.0 C126.8,290.4 127.1,291.5 127.3,292.2 C127.6,292.9 127.9,293.6 128.0,294.4 C128.2,295.1 128.5,295.9 128.3,296.7 C128.2,297.4 127.4,298.1 127.1,298.8 C126.7,299.6 126.7,300.5 126.4,301.2 C126.0,302.0 125.1,302.6 125.0,303.3 C124.9,304.1 125.6,304.9 125.9,305.7 C126.3,306.4 126.6,307.1 127.0,307.9 C127.4,308.6 127.7,309.5 128.3,310.0 C128.9,310.5 129.9,310.6 130.6,311.0 C131.4,311.3 132.1,311.8 132.8,312.2 C133.5,312.6 134.3,313.3 135.0,313.3 C135.7,313.3 136.5,312.7 137.3,312.3 C138.0,311.9 138.6,311.2 139.3,310.8 C140.0,310.4 141.0,310.4 141.7,310.0 C142.3,309.6 142.6,308.9 143.1,308.5 C143.6,308.1 144.2,307.7 144.8,307.4 C145.4,307.1 146.0,306.4 146.7,306.7 C147.3,306.9 147.9,308.2 148.7,308.9 C149.4,309.6 150.1,310.2 150.9,310.8 C151.7,311.4 152.9,312.2 153.3,312.5"/>
<path d="M128.3,310.0 C128.5,310.4 129.2,311.4 129.3,312.1 C129.5,312.9 129.2,313.7 129.3,314.5 C129.4,315.2 129.6,315.9 130.0,316.7 C130.4,317.4 130.8,318.4 131.4,319.1 C132.0,319.8 133.1,320.1 133.7,320.8 C134.3,321.6 134.3,323.0 135.0,323.3 C135.7,323.7 136.8,323.2 137.7,323.0 C138.5,322.7 139.2,321.7 140.0,321.7 C140.8,321.6 141.6,322.3 142.5,322.6 C143.3,322.9 144.6,323.2 145.0,323.3"/>
<path d="M120.0,310.0 C120.3,310.4 121.1,311.5 121.7,312.2 C122.2,312.9 122.8,313.7 123.4,314.4 C123.9,315.1 124.4,315.9 125.0,316.7 C125.6,317.4 126.1,318.1 126.8,318.8 C127.4,319.5 128.2,320.1 128.7,320.8 C129.2,321.6 129.5,322.7 130.0,323.3 C130.5,323.9 131.0,324.1 131.5,324.4 C132.1,324.7 133.0,324.9 133.3,325.0"/>
<path d="M156.7,282.5 C157.0,282.7 157.9,283.3 158.5,283.7 C159.0,284.2 159.7,284.5 160.3,285.0 C160.8,285.5 161.3,286.0 161.7,286.7 C162.0,287.3 162.0,288.2 162.2,288.9 C162.4,289.6 162.6,290.4 162.8,291.1 C162.9,291.9 162.8,293.0 163.3,293.3 C163.8,293.7 164.9,293.2 165.7,293.4 C166.4,293.7 167.0,294.5 167.7,294.8 C168.4,295.0 169.2,295.1 170.0,295.0 C170.8,294.9 171.6,294.6 172.4,294.2 C173.1,293.8 173.7,293.2 174.4,292.7 C175.1,292.3 175.9,291.9 176.7,291.7 C177.4,291.4 178.2,291.4 178.9,291.2 C179.7,291.1 180.5,291.1 181.2,290.9 C181.9,290.7 182.6,290.1 183.3,290.0 C184.1,289.9 184.9,290.1 185.6,290.3 C186.4,290.5 187.0,291.1 187.7,291.3 C188.5,291.6 189.3,291.9 190.0,291.7 C190.7,291.4 191.1,290.5 191.7,290.0 C192.2,289.4 192.7,288.5 193.3,288.3 C194.0,288.2 194.7,289.0 195.5,289.2 C196.2,289.5 197.0,289.6 197.7,289.7 C198.5,289.8 199.3,290.1 200.0,290.0 C200.7,289.9 201.4,289.4 201.9,288.9 C202.4,288.3 202.5,287.4 203.0,286.9 C203.6,286.4 204.2,286.1 205.0,285.8 C205.8,285.5 206.9,285.4 207.7,285.0 C208.5,284.6 209.4,283.9 210.0,283.3 C210.6,282.7 210.9,282.0 211.4,281.4 C212.0,280.9 213.0,280.2 213.3,280.0"/>
<path d="M163.3,293.3 C163.5,293.7 163.9,294.9 164.3,295.6 C164.7,296.3 165.5,296.9 165.9,297.6 C166.3,298.3 166.6,299.2 166.7,300.0 C166.7,300.8 166.2,301.5 166.2,302.2 C166.2,303.0 166.7,303.7 166.7,304.4 C166.8,305.2 166.7,306.3 166.7,306.7"/>
<path d="M158.3,309.2 C158.1,309.2 157.2,309.6 156.7,309.6 C156.1,309.6 155.2,309.7 155.0,309.2 C154.8,308.7 155.2,307.5 155.3,306.7 C155.4,305.8 155.4,305.0 155.5,304.2 C155.6,303.3 155.8,302.5 155.8,301.7 C155.9,300.9 156.0,300.1 156.0,299.4 C155.9,298.6 155.6,297.9 155.4,297.2 C155.3,296.5 154.6,295.5 155.0,295.0 C155.4,294.5 156.8,294.4 157.7,294.2 C158.6,293.9 159.5,293.6 160.5,293.5 C161.4,293.3 162.9,293.4 163.3,293.3"/>
<path d="M176.7,291.7 C176.8,292.0 177.4,293.1 177.5,293.8 C177.6,294.6 177.2,295.5 177.4,296.2 C177.5,297.0 178.3,297.6 178.3,298.3 C178.3,299.1 177.7,300.0 177.4,300.8 C177.2,301.6 176.9,302.6 176.7,303.3 C176.4,304.1 176.1,304.7 175.8,305.4 C175.6,306.1 175.1,307.2 175.0,307.5"/>
<path d="M190.0,291.7 C190.1,292.1 190.6,293.3 190.9,294.1 C191.2,295.0 191.6,295.8 191.7,296.7 C191.7,297.5 191.2,298.3 191.2,299.2 C191.2,300.0 191.6,301.2 191.7,301.7"/>
<path d="M161.7,278.3 C162.0,278.4 163.2,278.5 163.9,278.7 C164.7,278.9 165.4,279.3 166.1,279.5 C166.8,279.7 167.6,280.0 168.3,280.0 C169.1,280.0 169.8,279.6 170.5,279.4 C171.3,279.2 172.0,278.9 172.7,278.8 C173.5,278.6 174.3,278.2 175.0,278.3 C175.7,278.4 176.2,279.0 176.8,279.3 C177.3,279.6 177.9,279.9 178.5,280.3 C179.0,280.7 179.4,281.4 180.0,281.7 C180.6,281.9 181.6,281.5 182.3,281.7 C183.1,281.9 183.7,282.6 184.4,282.8 C185.1,283.1 185.9,283.3 186.7,283.3 C187.5,283.3 188.5,283.2 189.3,282.9 C190.1,282.6 191.2,281.5 191.7,281.7 C192.1,281.8 191.7,283.2 191.9,284.0 C192.2,284.7 192.9,285.3 193.1,286.0 C193.3,286.8 193.3,287.9 193.3,288.3"/>
<path d="M163.3,268.3 C163.7,268.3 164.9,268.1 165.6,268.0 C166.4,267.9 167.1,267.8 167.9,267.5 C168.6,267.3 169.3,266.6 170.0,266.7 C170.7,266.8 171.3,267.8 172.0,268.2 C172.7,268.6 173.5,268.9 174.3,269.2 C175.0,269.5 175.9,270.0 176.7,270.0 C177.5,270.0 178.3,269.4 179.1,269.1 C180.0,268.8 180.8,268.3 181.7,268.3 C182.5,268.4 183.3,269.0 184.1,269.3 C185.0,269.5 185.9,269.9 186.7,270.0 C187.5,270.1 188.2,269.9 189.0,269.7 C189.7,269.6 190.4,269.3 191.2,269.1 C191.9,268.9 192.9,268.9 193.3,268.3 C193.8,267.8 193.5,266.6 193.8,265.7 C194.1,264.9 195.0,264.1 195.0,263.3 C195.0,262.5 194.4,261.7 194.1,260.9 C193.8,260.0 193.2,259.0 193.3,258.3 C193.4,257.7 194.3,257.4 194.6,256.8 C194.9,256.2 194.8,255.3 195.1,254.7 C195.5,254.1 196.3,253.8 196.7,253.3 C197.1,252.8 197.2,252.2 197.5,251.7 C197.8,251.1 198.2,250.3 198.3,250.0"/>
<path d="M186.7,270.0 C186.9,270.3 187.7,271.2 188.2,271.8 C188.8,272.3 189.3,272.9 189.9,273.5 C190.4,274.0 191.3,274.4 191.7,275.0 C192.0,275.6 192.0,276.5 192.2,277.2 C192.4,278.0 192.6,278.7 192.8,279.4 C193.0,280.2 193.2,281.3 193.3,281.7"/>
<path d="M161.7,263.3 C162.0,263.2 163.0,262.9 163.5,262.5 C164.1,262.1 164.5,261.5 165.0,261.1 C165.5,260.7 166.0,260.1 166.7,260.0 C167.4,259.9 168.4,260.4 169.2,260.7 C170.1,260.9 170.9,261.7 171.7,261.7 C172.4,261.7 173.2,261.0 173.9,260.6 C174.6,260.2 175.3,259.7 176.0,259.3 C176.8,258.9 177.7,258.7 178.3,258.3 C178.9,257.9 179.2,257.3 179.6,256.8 C180.1,256.3 180.6,255.9 181.0,255.3 C181.3,254.7 181.7,253.9 181.7,253.3 C181.6,252.7 180.9,252.3 180.6,251.8 C180.4,251.2 180.1,250.3 180.0,250.0"/>
<path d="M196.7,253.3 C196.9,253.7 197.5,254.8 198.0,255.3 C198.6,255.9 199.4,256.2 200.0,256.7 C200.6,257.2 201.0,258.2 201.7,258.3 C202.4,258.5 203.4,257.9 204.2,257.7 C205.1,257.4 205.9,256.9 206.7,256.7 C207.4,256.4 208.1,256.3 208.9,256.1 C209.6,255.8 210.3,255.4 211.0,255.3 C211.8,255.1 212.6,254.9 213.3,255.0 C214.1,255.1 214.9,255.4 215.6,255.7 C216.3,256.0 217.0,256.5 217.7,256.8 C218.5,257.0 219.4,257.1 220.0,257.5 C220.6,257.9 221.2,258.5 221.5,259.2 C221.8,259.9 221.5,260.9 221.8,261.6 C222.1,262.3 222.9,262.7 223.3,263.3 C223.8,264.0 224.3,264.9 224.6,265.7 C224.8,266.5 225.1,267.5 225.0,268.3 C224.9,269.2 224.2,269.9 223.9,270.7 C223.6,271.6 223.6,272.6 223.3,273.3 C223.1,274.0 222.5,274.4 222.2,275.0 C221.9,275.6 221.9,276.4 221.5,276.9 C221.1,277.5 220.6,278.0 220.0,278.3 C219.4,278.6 218.5,278.6 217.8,278.8 C217.0,279.0 216.3,279.4 215.6,279.6 C214.9,279.8 214.1,280.0 213.3,280.0 C212.6,280.0 211.8,279.9 211.0,279.7 C210.3,279.6 209.5,279.5 208.8,279.3 C208.1,279.0 207.4,278.7 206.7,278.3 C206.0,277.9 205.4,277.2 204.6,276.8 C203.9,276.4 203.1,276.3 202.3,276.0 C201.5,275.7 200.6,275.4 200.0,275.0 C199.4,274.6 199.0,274.1 198.6,273.5 C198.3,273.0 198.2,272.2 197.9,271.6 C197.5,271.0 196.9,270.6 196.7,270.0 C196.4,269.4 196.4,268.5 196.3,267.7 C196.1,267.0 195.7,266.3 195.5,265.6 C195.3,264.8 195.1,263.7 195.0,263.3"/>
<path d="M220.0,257.5 C220.4,257.3 221.4,256.7 222.1,256.4 C222.9,256.1 223.7,256.0 224.4,255.8 C225.2,255.6 225.9,255.0 226.7,255.0 C227.4,255.0 228.2,255.7 229.0,256.0 C229.7,256.3 230.6,256.5 231.3,256.9 C232.0,257.3 232.7,258.4 233.3,258.3 C234.0,258.3 234.5,257.3 235.0,256.7 C235.6,256.1 236.1,255.2 236.7,255.0 C237.3,254.8 238.0,255.1 238.5,255.4 C239.1,255.7 239.8,256.5 240.0,256.7"/>
<path d="M225.0,268.3 C225.3,268.6 226.0,269.3 226.5,269.7 C227.1,270.0 227.7,270.2 228.3,270.6 C228.9,270.9 229.4,271.3 230.0,271.7 C230.6,272.0 231.2,272.2 231.8,272.6 C232.3,273.0 232.6,273.7 233.2,274.1 C233.7,274.5 234.8,274.5 235.0,275.0 C235.2,275.5 234.3,276.4 234.1,277.1 C233.9,277.9 233.8,278.6 233.7,279.4 C233.5,280.1 233.7,281.0 233.3,281.7 C233.0,282.3 232.1,282.6 231.5,283.1 C230.9,283.6 230.3,284.2 229.8,284.8 C229.2,285.4 228.8,286.1 228.3,286.7 C227.8,287.2 227.4,287.6 226.8,288.0 C226.2,288.3 225.4,288.2 224.8,288.6 C224.2,288.9 224.0,289.6 223.3,290.0 C222.7,290.4 221.6,290.6 220.7,291.1 C219.9,291.5 218.7,292.3 218.3,292.5"/>
<path d="M235.0,275.0 C235.4,275.1 236.8,275.1 237.6,275.4 C238.5,275.7 239.6,276.5 240.0,276.7"/>
<path d="M145.0,250.0 C145.1,250.4 145.2,251.8 145.5,252.6 C145.8,253.4 146.7,254.4 146.7,255.0 C146.6,255.6 145.6,255.7 145.1,256.0 C144.5,256.2 143.6,256.5 143.3,256.7"/>
<path d="M158.3,260.0 C158.5,259.6 158.9,258.3 159.2,257.5 C159.4,256.7 160.0,255.8 160.0,255.0 C160.0,254.2 159.3,253.4 159.0,252.5 C158.8,251.7 158.4,250.4 158.3,250.0"/>
<path d="M170.0,250.0 C170.1,250.4 170.1,251.8 170.4,252.7 C170.7,253.5 171.4,254.2 171.7,255.0 C171.9,255.8 171.8,256.5 171.8,257.2 C171.8,258.0 171.5,258.7 171.5,259.4 C171.5,260.2 171.6,261.3 171.7,261.7"/>
<path d="M213.3,280.0 C213.5,280.4 214.2,281.6 214.5,282.4 C214.7,283.2 214.7,284.1 215.0,285.0 C215.3,285.9 215.6,286.7 216.0,287.6 C216.4,288.4 217.1,289.1 217.5,289.9 C217.9,290.7 218.2,292.1 218.3,292.5"/>
</g>
<g clip-path="url(#cL)">
<path d="M200.0,255.0 C200.4,254.9 201.5,254.6 202.2,254.3 C202.9,254.1 203.6,253.8 204.4,253.6 C205.1,253.4 205.9,253.2 206.7,253.3 C207.4,253.4 208.1,253.9 208.8,254.1 C209.5,254.4 210.3,254.7 211.0,254.9 C211.8,255.0 212.6,255.0 213.3,255.0 C214.1,255.0 214.8,255.0 215.6,255.1 C216.3,255.2 217.1,255.2 217.8,255.3 C218.5,255.5 219.2,255.9 220.0,255.8 C220.8,255.7 221.8,255.2 222.6,254.8 C223.5,254.4 224.5,253.9 225.0,253.3 C225.5,252.8 225.4,252.0 225.8,251.5 C226.2,250.9 226.8,250.5 227.2,250.0 C227.6,249.5 228.3,249.0 228.3,248.3 C228.3,247.7 227.5,246.8 227.2,245.9 C226.9,245.1 226.5,244.1 226.7,243.3 C226.8,242.6 227.7,242.1 228.2,241.6 C228.8,241.0 229.4,240.4 230.0,240.0 C230.6,239.6 231.4,239.1 232.1,239.0 C232.9,238.8 233.7,239.2 234.5,239.1 C235.3,239.0 235.9,238.5 236.7,238.3 C237.4,238.2 238.2,238.2 238.9,238.3 C239.7,238.4 240.4,238.7 241.1,238.8 C241.9,239.0 242.7,238.7 243.3,239.2 C243.9,239.6 244.2,240.8 244.7,241.5 C245.3,242.2 246.4,242.6 246.7,243.3 C247.0,244.0 246.7,244.9 246.6,245.7 C246.4,246.4 245.9,247.1 245.7,247.8 C245.4,248.5 245.5,249.5 245.0,250.0 C244.5,250.5 243.4,250.6 242.5,250.9 C241.7,251.2 240.8,251.7 240.0,251.7 C239.2,251.7 238.4,250.9 237.6,250.8 C236.7,250.7 235.8,250.9 235.0,250.8 C234.2,250.7 233.4,250.6 232.7,250.2 C232.0,249.9 231.4,249.0 230.7,248.7 C230.0,248.4 228.7,248.4 228.3,248.3"/>
<path d="M245.0,250.0 C244.8,250.4 244.3,251.4 244.1,252.1 C243.8,252.8 243.6,253.6 243.5,254.3 C243.4,255.1 243.5,256.0 243.3,256.7 C243.2,257.4 242.8,257.9 242.5,258.5 C242.2,259.1 241.9,259.7 241.5,260.3 C241.1,260.8 240.3,261.1 240.0,261.7 C239.7,262.3 239.9,263.2 239.7,263.9 C239.6,264.6 239.5,265.4 239.4,266.1 C239.3,266.8 238.9,267.8 239.2,268.3 C239.4,268.9 240.4,269.2 241.1,269.5 C241.7,269.9 242.5,270.0 243.2,270.4 C243.8,270.7 244.4,271.3 245.0,271.7 C245.6,272.1 246.1,272.5 246.6,272.8 C247.2,273.2 247.7,273.6 248.3,274.0 C248.9,274.3 249.3,274.8 250.0,275.0 C250.7,275.2 251.5,274.9 252.3,275.0 C253.0,275.0 253.7,275.2 254.5,275.3 C255.2,275.4 255.9,275.9 256.7,275.8 C257.5,275.7 258.4,275.2 259.3,274.8 C260.1,274.4 260.8,273.7 261.7,273.3 C262.5,273.0 263.4,273.1 264.3,272.8 C265.1,272.5 265.9,271.9 266.7,271.7 C267.4,271.4 268.1,271.4 268.9,271.2 C269.6,271.0 270.3,270.8 271.1,270.7 C271.8,270.6 272.6,271.0 273.3,270.8 C274.0,270.7 274.7,270.2 275.2,269.7 C275.8,269.2 276.1,268.5 276.6,268.0 C277.2,267.5 277.8,267.2 278.3,266.7 C278.8,266.1 279.2,265.3 279.7,264.7 C280.3,264.2 281.0,263.8 281.6,263.3 C282.2,262.8 282.9,262.2 283.3,261.7 C283.8,261.1 283.8,260.4 284.2,259.8 C284.5,259.3 285.1,258.9 285.6,258.3 C286.0,257.8 286.4,257.3 286.7,256.7 C286.9,256.1 286.7,255.3 286.9,254.6 C287.1,254.0 287.7,253.5 288.0,252.8 C288.2,252.2 288.3,251.2 288.3,250.8"/>
<path d="M243.3,256.7 C243.7,256.5 245.0,256.3 245.7,255.9 C246.5,255.5 247.1,254.9 247.8,254.4 C248.5,254.0 249.2,253.5 250.0,253.3 C250.8,253.2 251.6,253.2 252.3,253.4 C253.1,253.7 253.7,254.3 254.4,254.6 C255.1,254.8 256.0,255.3 256.7,255.0 C257.3,254.7 257.9,253.6 258.5,252.9 C259.0,252.1 259.4,251.2 259.9,250.5 C260.4,249.7 261.5,249.1 261.7,248.3 C261.9,247.6 261.3,246.9 261.1,246.1 C260.8,245.4 260.5,244.7 260.3,244.0 C260.1,243.2 260.3,242.3 260.0,241.7 C259.7,241.0 258.8,240.7 258.2,240.1 C257.7,239.5 257.3,238.5 256.7,238.3 C256.0,238.2 255.0,239.0 254.2,239.3 C253.4,239.6 252.4,240.1 251.7,240.0 C251.0,239.9 250.5,239.0 249.9,238.4 C249.4,237.9 248.9,237.2 248.3,236.7 C247.8,236.1 246.9,235.3 246.7,235.0"/>
<path d="M266.7,271.7 C266.7,271.3 266.9,270.2 267.1,269.4 C267.4,268.7 267.9,268.0 268.1,267.3 C268.3,266.6 268.5,265.7 268.3,265.0 C268.2,264.3 267.6,263.6 267.3,262.9 C267.1,262.2 267.0,261.4 266.9,260.6 C266.8,259.9 266.7,259.1 266.7,258.3 C266.7,257.6 266.8,256.8 266.9,256.0 C267.0,255.3 267.1,254.5 267.4,253.8 C267.6,253.1 268.1,252.4 268.3,251.7 C268.6,250.9 268.8,250.2 269.0,249.5 C269.1,248.7 269.0,247.9 269.2,247.2 C269.3,246.4 269.6,245.6 270.0,245.0 C270.4,244.4 271.1,244.1 271.5,243.6 C271.9,243.1 272.2,242.4 272.5,241.8 C272.8,241.2 272.8,240.4 273.3,240.0 C273.9,239.6 275.1,239.6 275.9,239.4 C276.7,239.1 277.8,238.8 278.3,238.3 C278.9,237.9 278.8,237.2 279.1,236.6 C279.4,236.1 279.8,235.3 280.0,235.0"/>
<path d="M278.3,238.3 C278.5,238.6 279.3,239.3 279.6,239.9 C280.0,240.5 280.1,241.2 280.4,241.8 C280.8,242.3 281.2,242.8 281.7,243.3 C282.1,243.8 282.6,244.4 283.1,244.8 C283.7,245.2 284.3,245.3 284.9,245.7 C285.5,246.0 286.1,246.7 286.7,246.7 C287.2,246.7 287.7,245.9 288.2,245.6 C288.8,245.3 289.7,245.1 290.0,245.0"/>
<path d="M220.0,255.8 C220.3,256.1 221.1,256.9 221.5,257.5 C221.9,258.2 222.1,258.9 222.4,259.6 C222.7,260.3 223.0,261.0 223.3,261.7 C223.7,262.3 224.2,262.7 224.5,263.3 C224.8,263.9 224.8,264.7 225.2,265.3 C225.5,265.8 226.2,266.1 226.7,266.7 C227.2,267.2 227.6,268.0 228.1,268.5 C228.7,269.1 229.4,269.4 230.0,270.0 C230.6,270.6 230.8,271.7 231.5,272.4 C232.1,273.1 233.1,273.5 233.7,274.2 C234.3,274.9 234.9,276.0 235.0,276.7 C235.1,277.4 234.4,277.8 234.1,278.3 C233.8,278.9 233.9,279.5 233.3,280.0 C232.8,280.5 231.7,280.8 230.9,281.0 C230.1,281.3 229.0,281.2 228.3,281.7 C227.7,282.1 227.5,283.0 226.9,283.6 C226.4,284.1 225.5,284.4 225.0,285.0 C224.5,285.6 224.2,286.4 223.6,287.0 C223.1,287.5 222.1,287.8 221.7,288.3 C221.3,288.9 221.5,289.7 221.3,290.2 C221.0,290.8 220.2,291.4 220.0,291.7"/>
<path d="M226.7,266.7 C226.5,267.1 225.9,268.3 225.7,269.1 C225.4,269.9 225.1,270.8 225.0,271.7 C224.9,272.5 225.0,273.8 225.0,274.2"/>
<path d="M235.0,276.7 C235.2,276.3 235.9,275.4 236.2,274.7 C236.5,274.0 236.4,273.0 236.8,272.3 C237.1,271.6 237.7,271.1 238.2,270.4 C238.6,269.8 239.0,268.7 239.2,268.3"/>
<path d="M250.0,275.0 C250.0,275.4 250.0,276.6 249.9,277.3 C249.7,278.1 249.4,278.8 249.1,279.5 C248.8,280.2 248.3,280.9 248.3,281.7 C248.4,282.4 249.3,283.2 249.5,284.0 C249.8,284.9 250.1,285.8 250.0,286.7 C249.9,287.5 249.5,288.3 249.2,289.2 C248.9,290.0 248.5,290.8 248.3,291.7 C248.2,292.5 248.3,293.8 248.3,294.2"/>
<path d="M256.7,275.8 C256.5,276.2 255.8,277.1 255.5,277.7 C255.1,278.4 254.9,279.1 254.5,279.8 C254.2,280.4 253.6,281.0 253.3,281.7 C253.0,282.3 252.8,283.1 252.7,283.9 C252.6,284.6 252.8,285.5 252.6,286.2 C252.4,287.0 251.5,287.7 251.7,288.3 C251.8,288.9 252.9,289.3 253.4,289.9 C254.0,290.4 254.4,291.6 255.0,291.7 C255.6,291.7 256.4,290.8 256.9,290.3 C257.5,289.7 257.7,288.9 258.3,288.3 C259.0,287.8 259.9,287.4 260.7,287.1 C261.5,286.8 262.8,286.3 263.3,286.7 C263.9,287.0 263.9,288.3 264.2,289.2 C264.5,290.0 264.8,290.8 265.0,291.7 C265.2,292.6 265.4,293.6 265.4,294.6 C265.4,295.6 265.1,297.0 265.0,297.5"/>
<path d="M261.7,273.3 C261.9,273.7 262.4,274.8 262.8,275.6 C263.2,276.3 263.7,277.0 264.1,277.7 C264.4,278.4 264.9,279.2 265.0,280.0 C265.1,280.8 265.1,281.6 264.9,282.3 C264.6,283.1 263.9,283.7 263.7,284.4 C263.4,285.1 263.4,286.3 263.3,286.7"/>
<path d="M265.0,280.0 C265.4,280.2 266.4,280.8 267.2,281.2 C268.0,281.5 268.8,281.7 269.5,282.1 C270.3,282.4 270.9,283.1 271.7,283.3 C272.4,283.5 273.2,283.2 273.9,283.2 C274.7,283.3 275.4,283.4 276.2,283.6 C276.9,283.7 277.7,283.8 278.3,284.2 C279.0,284.5 279.4,285.2 279.9,285.6 C280.5,286.1 281.1,286.5 281.7,287.0 C282.2,287.4 283.1,287.7 283.3,288.3 C283.5,288.9 283.2,289.9 282.9,290.6 C282.7,291.3 281.9,292.2 281.7,292.5"/>
<path d="M278.3,284.2 C278.7,283.9 279.8,283.0 280.3,282.4 C280.9,281.7 281.2,280.6 281.7,280.0 C282.1,279.4 282.7,279.1 283.2,278.7 C283.8,278.3 284.4,278.1 285.0,277.8 C285.6,277.4 286.1,276.5 286.7,276.7 C287.2,276.8 287.6,277.9 288.2,278.5 C288.7,279.1 289.4,279.5 290.0,280.0 C290.6,280.5 291.1,281.2 291.7,281.7 C292.2,282.1 292.8,282.2 293.3,282.5 C293.9,282.8 294.7,283.2 295.0,283.3"/>
<path d="M271.7,283.3 C271.6,283.8 271.3,285.0 271.3,285.8 C271.3,286.7 271.4,287.7 271.7,288.3 C271.9,289.0 272.4,289.3 272.7,289.9 C273.0,290.5 273.5,291.3 273.3,291.7 C273.1,292.1 272.1,292.1 271.6,292.3 C271.0,292.6 270.3,293.2 270.0,293.3"/>
<path d="M200.0,275.0 C200.4,275.0 201.5,274.9 202.2,274.8 C203.0,274.6 203.7,274.4 204.4,274.3 C205.2,274.2 205.9,274.0 206.7,274.2 C207.4,274.3 208.1,274.8 208.9,275.0 C209.7,275.2 210.5,275.1 211.3,275.4 C212.0,275.6 212.6,276.6 213.3,276.7 C214.1,276.7 214.9,275.9 215.8,275.6 C216.6,275.3 217.5,275.1 218.3,275.0 C219.1,274.9 219.8,275.0 220.6,274.8 C221.3,274.6 222.0,274.2 222.7,274.1 C223.5,274.0 224.6,274.1 225.0,274.2"/>
<path d="M200.0,290.0 C200.3,289.7 201.2,289.0 201.8,288.4 C202.4,287.9 203.0,287.4 203.5,286.8 C204.0,286.3 204.6,285.7 205.0,285.0 C205.4,284.3 205.8,283.6 206.0,282.9 C206.3,282.2 206.3,281.4 206.4,280.6 C206.5,279.9 206.6,279.1 206.7,278.3 C206.7,277.6 206.6,276.9 206.6,276.2 C206.6,275.6 206.6,274.5 206.7,274.2"/>
<path d="M213.3,276.7 C213.4,277.0 213.5,278.2 213.6,279.0 C213.8,279.7 214.0,280.4 214.2,281.2 C214.4,281.9 214.9,282.5 215.0,283.3 C215.1,284.1 214.8,285.1 214.5,285.9 C214.2,286.8 213.5,287.9 213.3,288.3"/>
<path d="M200.0,243.3 C200.4,243.5 201.7,243.9 202.5,244.1 C203.3,244.4 204.2,245.1 205.0,245.0 C205.8,244.9 206.5,244.1 207.4,243.8 C208.2,243.5 209.6,243.4 210.0,243.3"/>
<path d="M220.0,255.8 C219.8,256.2 219.1,257.4 218.6,258.1 C218.0,258.8 217.4,259.6 216.7,260.0 C216.0,260.4 215.2,260.3 214.4,260.6 C213.7,260.8 213.0,261.2 212.3,261.4 C211.6,261.6 210.8,261.8 210.0,261.7 C209.2,261.5 208.4,260.9 207.6,260.6 C206.7,260.3 205.8,260.0 205.0,260.0 C204.2,260.0 203.4,260.6 202.5,260.9 C201.7,261.2 200.4,261.5 200.0,261.7"/>
</g>
<g clip-path="url(#cM)">
<path d="M60.0,300.0 C60.5,300.1 61.9,300.4 62.8,300.6 C63.7,300.8 64.6,301.2 65.5,301.4 C66.4,301.5 67.4,301.4 68.3,301.7 C69.2,302.0 70.0,302.9 70.9,303.2 C71.9,303.5 73.1,303.2 74.1,303.5 C75.0,303.8 75.9,304.5 76.7,305.0 C77.5,305.5 78.1,306.0 78.9,306.5 C79.6,307.0 80.4,307.5 81.1,308.0 C81.8,308.6 82.5,309.1 83.1,309.7 C83.8,310.3 84.3,311.2 85.0,311.7 C85.7,312.1 86.5,312.2 87.3,312.6 C88.0,313.0 88.6,313.6 89.2,314.1 C89.9,314.5 90.6,314.9 91.3,315.4 C92.0,315.8 92.7,316.2 93.3,316.7 C94.0,317.1 94.6,317.7 95.3,318.1 C96.0,318.5 96.8,318.7 97.6,319.1 C98.3,319.4 99.0,319.8 99.7,320.3 C100.4,320.7 101.0,321.2 101.7,321.7 C102.3,322.1 103.0,322.5 103.7,323.0 C104.4,323.4 105.1,323.8 105.8,324.2 C106.5,324.7 107.1,325.2 107.8,325.6 C108.5,326.0 109.3,326.2 110.0,326.7 C110.7,327.2 111.2,328.2 111.9,328.7 C112.7,329.3 113.7,329.4 114.5,329.9 C115.3,330.4 116.1,331.1 116.7,331.7 C117.3,332.2 117.5,332.9 118.1,333.4 C118.7,333.8 119.5,333.9 120.1,334.3 C120.7,334.7 121.1,335.4 121.7,335.8 C122.2,336.3 122.8,336.7 123.4,337.2 C123.9,337.6 124.3,338.3 124.9,338.7 C125.4,339.2 126.2,339.4 126.7,340.0 C127.1,340.6 127.2,341.4 127.5,342.1 C127.7,342.8 128.2,343.8 128.3,344.2"/>
<path d="M76.7,305.0 C76.9,304.7 77.6,303.8 78.1,303.4 C78.7,302.9 79.5,302.8 80.1,302.3 C80.7,301.9 80.9,301.1 81.7,300.8 C82.4,300.6 83.5,300.8 84.5,300.8 C85.4,300.8 86.3,300.9 87.3,301.1 C88.2,301.2 89.2,301.4 90.0,301.7 C90.8,301.9 91.4,302.3 92.2,302.5 C92.9,302.6 93.7,302.6 94.5,302.7 C95.2,302.9 96.1,302.9 96.7,303.3 C97.3,303.8 97.5,304.7 98.1,305.3 C98.6,305.8 99.4,306.1 100.0,306.6 C100.6,307.2 101.1,307.8 101.7,308.3 C102.2,308.9 102.7,309.4 103.3,310.0 C104.0,310.6 104.6,311.5 105.4,312.1 C106.2,312.7 107.2,313.1 107.9,313.7 C108.7,314.3 109.3,315.1 110.0,315.8 C110.7,316.5 111.4,317.2 112.2,317.9 C112.9,318.5 113.9,318.8 114.7,319.4 C115.4,320.1 116.0,321.0 116.7,321.7 C117.3,322.4 117.9,323.1 118.6,323.7 C119.4,324.3 120.3,324.5 121.1,325.0 C121.9,325.5 122.6,326.1 123.3,326.7 C124.0,327.3 124.6,328.1 125.3,328.6 C126.1,329.2 127.0,329.4 127.8,329.9 C128.6,330.4 129.3,331.2 130.0,331.7 C130.7,332.1 131.4,332.2 132.1,332.5 C132.8,332.8 133.8,333.2 134.2,333.3"/>
<path d="M96.7,303.3 C96.9,303.0 97.4,301.9 97.8,301.2 C98.2,300.5 99.0,300.0 99.4,299.3 C99.7,298.6 99.6,297.5 100.0,296.8 C100.4,296.1 101.1,295.5 101.7,295.0 C102.3,294.5 103.1,294.2 103.6,293.6 C104.2,293.1 104.5,291.8 105.0,291.7 C105.5,291.6 106.0,292.6 106.5,293.0 C107.1,293.4 107.7,293.7 108.2,294.0 C108.8,294.4 109.4,294.5 110.0,295.0 C110.6,295.5 111.1,296.5 111.6,297.3 C112.1,298.1 112.4,299.0 113.0,299.7 C113.5,300.4 114.4,301.0 115.0,301.7 C115.6,302.4 116.1,303.2 116.6,303.9 C117.1,304.7 117.7,305.5 118.2,306.2 C118.8,306.9 119.4,307.7 120.0,308.3 C120.6,309.0 121.4,309.6 122.0,310.3 C122.6,311.0 123.2,311.7 123.7,312.5 C124.2,313.3 124.6,314.3 125.0,315.0 C125.4,315.7 125.5,316.3 125.9,316.8 C126.3,317.3 127.0,317.7 127.4,318.2 C127.8,318.8 127.9,319.4 128.3,320.0 C128.8,320.6 129.5,321.0 130.1,321.6 C130.7,322.1 131.2,322.7 131.7,323.3 C132.3,323.8 132.9,324.4 133.3,325.0 C133.8,325.6 134.2,326.0 134.5,326.6 C134.9,327.2 135.1,327.9 135.4,328.4 C135.8,329.0 136.5,329.7 136.7,330.0"/>
<path d="M110.0,295.0 C110.4,294.9 111.5,294.7 112.2,294.5 C113.0,294.3 113.7,293.9 114.4,293.7 C115.1,293.5 115.9,293.6 116.7,293.3 C117.4,293.1 118.0,292.5 118.8,292.3 C119.5,292.1 120.3,292.2 121.1,292.1 C121.8,292.0 122.6,291.5 123.3,291.7 C124.1,291.8 124.9,292.5 125.7,292.8 C126.6,293.1 127.7,293.0 128.3,293.3 C128.9,293.7 129.0,294.4 129.2,295.0 C129.5,295.5 130.2,296.2 130.0,296.7 C129.8,297.1 128.5,297.3 127.7,297.7 C127.0,298.1 126.4,298.8 125.7,299.2 C125.0,299.6 123.9,299.6 123.3,300.0 C122.8,300.4 122.8,301.1 122.6,301.7 C122.3,302.3 121.4,302.9 121.7,303.3 C121.9,303.7 123.4,303.8 124.2,304.0 C125.0,304.3 125.9,304.7 126.7,305.0 C127.4,305.3 128.0,305.7 128.6,306.1 C129.1,306.5 129.6,307.1 130.2,307.6 C130.7,308.1 131.5,308.5 131.7,309.2 C131.8,309.8 131.5,310.7 131.2,311.4 C130.9,312.1 130.4,312.7 130.0,313.3 C129.6,314.0 129.3,314.7 129.1,315.5 C128.9,316.2 129.0,317.0 128.9,317.8 C128.8,318.5 128.4,319.6 128.3,320.0"/>
<path d="M131.7,309.2 C132.1,309.4 133.4,309.9 134.2,310.3 C135.0,310.7 135.9,311.3 136.7,311.7 C137.4,312.0 138.1,312.3 138.8,312.5 C139.6,312.7 140.4,312.6 141.1,312.8 C141.9,312.9 142.5,313.0 143.3,313.3 C144.1,313.6 145.0,314.1 145.9,314.5 C146.7,315.0 147.7,315.8 148.3,315.8 C149.0,315.9 149.3,315.0 149.9,314.8 C150.4,314.5 151.4,314.3 151.7,314.2"/>
<path d="M85.0,311.7 C85.0,312.0 84.7,313.2 84.8,313.9 C84.9,314.7 85.3,315.4 85.5,316.1 C85.7,316.8 85.7,317.6 85.8,318.3 C86.0,319.1 86.1,319.8 86.3,320.6 C86.5,321.3 86.8,322.0 87.0,322.8 C87.2,323.5 87.3,324.1 87.5,325.0 C87.7,325.9 88.1,326.9 88.2,327.9 C88.4,328.8 88.3,330.3 88.3,330.8"/>
<path d="M70.0,280.0 C70.3,280.2 71.5,280.7 72.0,281.3 C72.5,281.9 72.5,283.1 73.0,283.7 C73.5,284.3 74.3,284.6 75.0,285.0 C75.7,285.4 76.7,285.4 77.4,285.8 C78.1,286.3 78.5,287.2 79.2,287.7 C79.9,288.1 81.0,287.9 81.7,288.3 C82.3,288.8 82.4,289.8 83.0,290.3 C83.6,290.8 84.6,291.0 85.2,291.5 C85.8,292.0 86.2,292.6 86.7,293.3 C87.1,294.1 87.4,295.2 87.8,296.1 C88.1,297.0 88.6,297.9 89.0,298.9 C89.4,299.8 89.8,301.2 90.0,301.7"/>
<path d="M101.7,295.0 C101.5,294.7 100.8,294.1 100.5,293.5 C100.2,292.9 100.2,292.4 100.0,291.7 C99.8,290.9 99.4,290.0 99.1,289.2 C98.8,288.4 98.0,287.2 98.3,286.7 C98.6,286.2 100.1,286.4 100.9,286.2 C101.8,285.9 102.7,285.4 103.3,285.0 C104.0,284.6 104.4,284.3 105.0,283.8 C105.5,283.4 106.0,282.9 106.5,282.6 C107.1,282.2 107.8,281.7 108.3,281.7 C108.9,281.7 109.4,282.4 109.9,282.7 C110.5,282.9 111.2,282.8 111.7,283.3 C112.1,283.9 112.4,284.9 112.7,285.8 C113.0,286.6 113.4,287.5 113.3,288.3 C113.2,289.1 112.5,289.8 112.1,290.5 C111.8,291.3 111.7,292.2 111.4,292.9 C111.0,293.6 110.2,294.6 110.0,295.0"/>
<path d="M128.3,293.3 C128.4,292.9 128.6,291.6 128.9,290.7 C129.1,289.9 129.5,289.0 130.0,288.3 C130.5,287.7 131.2,287.3 131.7,286.7 C132.3,286.2 132.7,285.3 133.3,285.0 C134.0,284.7 134.8,285.2 135.6,285.1 C136.3,285.1 137.0,284.8 137.8,284.8 C138.5,284.8 139.3,284.7 140.0,285.0 C140.7,285.3 141.3,285.9 141.9,286.4 C142.5,287.0 142.7,288.1 143.3,288.3 C144.0,288.6 145.1,288.0 145.9,287.8 C146.8,287.5 147.5,286.7 148.3,286.7 C149.1,286.6 150.0,287.3 150.8,287.6 C151.6,287.9 152.6,288.4 153.3,288.3 C154.1,288.2 154.7,287.3 155.4,286.9 C156.2,286.6 157.0,286.5 157.8,286.2 C158.6,285.8 159.5,285.6 160.0,285.0 C160.5,284.4 160.7,283.4 161.0,282.6 C161.3,281.7 161.6,280.4 161.7,280.0"/>
<path d="M153.3,288.3 C153.4,288.7 153.8,289.8 154.0,290.5 C154.1,291.3 154.2,292.0 154.4,292.8 C154.6,293.5 154.8,294.3 155.0,295.0 C155.2,295.7 155.5,296.4 155.6,297.2 C155.6,297.9 155.3,298.7 155.3,299.5 C155.3,300.2 155.6,300.8 155.8,301.7 C156.0,302.5 156.3,303.5 156.4,304.4 C156.5,305.3 156.1,306.3 156.2,307.2 C156.2,308.2 156.6,309.5 156.7,310.0"/>
<path d="M155.0,295.0 C155.4,295.0 156.5,295.0 157.2,294.9 C158.0,294.7 158.7,294.4 159.4,294.2 C160.2,294.1 161.0,293.9 161.7,294.2 C162.3,294.4 162.7,295.2 163.2,295.6 C163.8,296.0 164.6,296.1 165.0,296.7 C165.4,297.3 165.5,298.3 165.8,299.2 C166.1,300.0 166.5,300.8 166.7,301.7 C166.8,302.5 166.7,303.3 166.7,304.2 C166.7,305.0 166.7,306.2 166.7,306.7"/>
<path d="M160.0,285.0 C160.2,285.2 161.1,285.9 161.4,286.5 C161.7,287.1 161.5,288.0 161.8,288.6 C162.2,289.2 163.0,289.4 163.3,290.0 C163.7,290.6 163.9,291.4 164.0,292.2 C164.2,292.9 164.0,293.8 164.2,294.5 C164.3,295.3 164.9,296.3 165.0,296.7"/>
<path d="M136.7,321.7 C137.1,321.5 138.2,320.7 139.0,320.4 C139.9,320.1 140.9,319.9 141.7,320.0 C142.4,320.1 143.1,320.8 143.7,321.3 C144.2,321.9 144.8,323.0 145.0,323.3"/>
<path d="M163.3,290.0 C163.7,290.1 164.8,290.5 165.5,290.6 C166.3,290.7 167.1,290.6 167.9,290.8 C168.6,291.0 169.3,291.7 170.0,291.7 C170.7,291.6 171.4,290.7 172.1,290.3 C172.8,289.9 173.6,289.6 174.3,289.3 C175.1,288.9 176.0,288.6 176.7,288.3 C177.3,288.1 177.8,287.9 178.4,287.6 C178.9,287.3 179.7,286.8 180.0,286.7"/>
<path d="M115.0,333.3 C115.1,333.8 115.3,335.1 115.5,335.9 C115.8,336.8 116.3,337.6 116.7,338.3 C117.0,339.1 117.4,339.6 117.7,340.3 C118.0,341.0 118.2,342.1 118.3,342.5"/>
</g>
<g clip-path="url(#cN)">
<path d="M130.0,196.2 C130.3,196.3 131.3,196.3 132.0,196.5 C132.6,196.8 133.1,197.4 133.7,197.5 C134.3,197.5 134.9,196.9 135.5,196.8 C136.2,196.7 137.0,197.1 137.5,196.8 C137.9,196.6 138.0,195.6 138.4,195.2 C138.8,194.8 139.7,194.9 140.0,194.3 C140.2,193.8 139.9,192.9 139.8,192.1 C139.7,191.4 139.6,190.6 139.3,190.0 C139.1,189.3 138.5,188.9 138.2,188.2 C137.9,187.6 137.8,186.8 137.5,186.2 C137.1,185.7 136.4,185.2 136.2,185.0"/>
<path d="M140.0,194.3 C140.3,194.4 141.2,194.5 141.8,194.6 C142.5,194.7 143.1,195.0 143.7,195.0 C144.3,194.9 144.9,194.5 145.5,194.3 C146.2,194.1 146.8,193.8 147.4,193.7 C148.0,193.7 148.7,193.7 149.2,193.9 C149.7,194.1 150.4,194.5 150.5,195.0 C150.7,195.5 150.3,196.2 150.2,196.8 C150.0,197.4 150.2,198.2 149.9,198.7 C149.7,199.2 149.1,199.5 148.5,199.7 C148.0,199.9 147.2,199.6 146.8,199.9 C146.4,200.3 146.5,201.3 146.2,202.0 C145.9,202.6 145.3,203.2 144.9,203.7 C144.6,204.2 144.3,204.5 143.8,204.8 C143.4,205.1 143.0,205.5 142.5,205.5 C141.9,205.6 141.2,205.2 140.6,205.1 C140.0,205.0 139.3,205.1 138.7,204.9 C138.1,204.7 137.6,204.4 137.2,204.0 C136.8,203.6 136.7,203.1 136.2,202.4 C135.8,201.8 135.0,201.0 134.6,200.2 C134.1,199.3 133.9,197.9 133.7,197.5"/>
<path d="M142.5,185.0 C142.6,185.3 143.3,186.1 143.5,186.7 C143.7,187.3 143.4,188.2 143.7,188.7 C144.0,189.2 144.8,189.6 145.4,189.8 C146.0,190.0 146.8,190.2 147.4,190.0 C148.0,189.8 148.5,188.9 149.1,188.6 C149.7,188.3 150.9,188.4 151.2,188.1 C151.4,187.8 150.8,187.1 150.7,186.6 C150.6,186.1 150.6,185.3 150.5,185.0"/>
<path d="M151.2,188.1 C151.5,188.3 152.4,188.7 153.1,189.0 C153.7,189.3 154.3,189.9 154.9,190.0 C155.5,190.1 156.2,189.8 156.8,189.6 C157.5,189.3 158.0,188.7 158.6,188.7 C159.3,188.7 159.9,189.3 160.6,189.6 C161.2,189.9 162.1,190.1 162.4,190.6 C162.6,191.1 162.2,191.9 162.0,192.6 C161.8,193.2 161.5,193.8 161.1,194.3 C160.8,194.8 160.3,195.1 159.8,195.5 C159.4,196.0 159.2,196.6 158.6,196.8 C158.1,197.1 157.4,196.8 156.7,196.9 C156.1,197.0 155.6,197.6 154.9,197.5 C154.2,197.3 153.4,196.7 152.7,196.3 C152.0,195.8 150.9,195.2 150.5,195.0"/>
<path d="M130.0,203.7 C130.2,203.9 130.7,204.5 131.1,204.8 C131.5,205.1 132.0,205.7 132.5,205.5 C133.0,205.4 133.4,204.2 134.1,203.6 C134.7,203.1 135.9,202.6 136.2,202.4"/>
<path d="M130.0,209.9 C130.2,209.7 130.6,209.0 131.1,208.7 C131.5,208.4 132.3,208.6 132.5,208.0 C132.7,207.5 132.5,206.0 132.5,205.5"/>
<path d="M138.7,204.9 C138.8,205.3 139.0,206.4 139.1,207.1 C139.2,207.8 139.5,208.7 139.3,209.3 C139.2,209.9 138.6,210.3 138.3,210.8 C138.0,211.3 137.9,212.0 137.5,212.4 C137.0,212.8 136.2,212.9 135.6,213.1 C135.0,213.3 134.4,213.6 133.7,213.6 C133.1,213.7 132.5,213.6 131.8,213.5 C131.2,213.4 130.3,213.1 130.0,213.0"/>
<path d="M142.5,205.5 C142.8,205.7 143.8,206.0 144.4,206.3 C145.0,206.6 145.6,207.4 146.2,207.4 C146.8,207.4 147.3,206.6 147.9,206.4 C148.6,206.2 149.4,206.4 149.9,206.2 C150.4,205.9 150.6,205.4 150.9,205.0 C151.2,204.5 151.8,204.3 151.8,203.7 C151.8,203.1 151.1,202.0 150.8,201.2 C150.5,200.4 150.1,199.1 149.9,198.7"/>
<path d="M139.3,209.3 C139.7,209.4 140.7,210.1 141.4,210.3 C142.1,210.5 143.0,210.5 143.7,210.5 C144.4,210.6 145.0,210.6 145.6,210.5 C146.2,210.4 146.9,209.8 147.4,209.9 C148.0,210.0 148.3,210.7 148.7,211.1 C149.2,211.5 149.8,211.8 149.9,212.4 C150.1,212.9 149.9,213.8 149.7,214.4 C149.5,215.0 148.7,215.5 148.7,216.1 C148.7,216.7 149.5,217.3 149.8,217.9 C150.1,218.5 150.6,219.4 150.5,219.9 C150.5,220.4 149.5,220.4 149.2,220.8 C148.9,221.2 149.1,222.1 148.7,222.4 C148.3,222.6 147.4,222.5 146.8,222.4 C146.1,222.3 145.5,222.1 144.9,221.7 C144.4,221.4 143.9,220.9 143.5,220.4 C143.0,219.9 142.9,218.9 142.5,218.6 C142.0,218.4 141.2,218.8 140.6,218.9 C140.0,219.0 139.2,219.4 138.7,219.2 C138.2,219.1 138.1,218.4 137.7,218.1 C137.2,217.8 136.4,217.9 136.2,217.4 C136.0,216.8 136.4,215.7 136.6,214.8 C136.8,214.0 137.3,212.8 137.5,212.4"/>
<path d="M149.9,206.2 C150.2,206.4 151.1,207.0 151.7,207.3 C152.3,207.6 153.3,207.6 153.7,208.0 C154.1,208.5 153.9,209.4 154.1,210.0 C154.3,210.6 154.4,211.4 154.9,211.8 C155.4,212.1 156.3,211.8 156.9,212.1 C157.5,212.3 158.4,212.6 158.6,213.0 C158.9,213.5 158.4,214.1 158.2,214.6 C158.0,215.2 157.4,215.6 157.4,216.1 C157.4,216.7 158.0,217.4 158.3,218.0 C158.6,218.6 159.4,219.4 159.3,219.9 C159.2,220.4 158.1,220.6 157.6,221.0 C157.1,221.4 156.5,221.8 156.2,222.4 C155.8,222.9 155.6,223.5 155.4,224.2 C155.3,224.8 155.5,225.4 155.5,226.1 C155.6,226.8 155.5,227.5 155.7,228.1 C155.9,228.7 156.7,229.1 156.8,229.8 C156.9,230.5 156.5,231.5 156.3,232.4 C156.1,233.2 155.6,234.0 155.5,234.8 C155.5,235.6 155.6,236.3 155.9,237.0 C156.1,237.7 156.6,238.3 156.9,238.9 C157.1,239.6 157.3,240.7 157.4,241.0"/>
<path d="M154.9,197.5 C155.0,197.8 155.2,198.7 155.4,199.3 C155.7,200.0 156.2,200.6 156.2,201.2 C156.1,201.8 155.5,202.4 155.3,203.0 C155.1,203.6 155.2,204.4 154.9,204.9 C154.7,205.5 154.1,205.8 153.9,206.3 C153.6,206.8 153.7,207.8 153.7,208.0"/>
<path d="M158.6,196.8 C159.0,197.0 159.9,197.5 160.5,197.8 C161.1,198.1 162.1,198.2 162.4,198.7 C162.6,199.2 162.3,200.1 162.1,200.7 C161.9,201.3 161.0,202.0 161.1,202.4 C161.2,202.9 162.2,203.0 162.6,203.4 C163.1,203.8 163.1,204.7 163.6,204.9 C164.1,205.1 165.0,204.9 165.6,204.7 C166.2,204.5 166.9,203.7 167.4,203.7 C167.8,203.7 168.1,204.4 168.5,204.7 C168.9,205.1 169.6,205.4 169.9,205.5"/>
<path d="M162.4,190.6 C162.7,190.7 163.8,190.9 164.4,191.2 C165.0,191.5 165.5,192.4 166.1,192.5 C166.7,192.6 167.3,191.9 167.9,191.7 C168.5,191.5 169.3,191.1 169.9,191.2 C170.4,191.4 170.7,192.3 171.2,192.7 C171.7,193.1 172.7,193.2 173.0,193.7 C173.2,194.2 172.8,195.0 172.7,195.6 C172.6,196.2 172.7,197.0 172.3,197.5 C172.0,197.9 171.2,198.0 170.8,198.4 C170.4,198.8 170.3,199.7 169.9,199.9 C169.4,200.2 168.5,199.9 167.9,199.7 C167.2,199.5 166.7,198.8 166.1,198.7 C165.5,198.6 164.9,198.9 164.2,198.9 C163.6,198.9 162.7,198.7 162.4,198.7"/>
<path d="M161.1,202.4 C160.8,202.7 159.8,203.2 159.3,203.7 C158.8,204.3 158.5,205.4 158.0,205.5 C157.6,205.7 157.0,205.0 156.5,204.9 C156.0,204.8 155.2,204.9 154.9,204.9"/>
<path d="M158.6,213.0 C159.1,212.9 160.3,212.7 161.2,212.5 C162.0,212.3 162.9,211.8 163.6,211.8 C164.3,211.8 164.8,212.4 165.4,212.6 C166.0,212.8 166.7,213.1 167.4,213.0 C168.0,212.9 168.6,212.4 169.2,212.1 C169.8,211.7 170.8,211.6 171.1,211.2 C171.4,210.7 171.1,209.9 171.0,209.2 C170.9,208.6 170.7,208.0 170.5,207.4 C170.3,206.8 170.0,205.9 169.9,205.5"/>
<path d="M170.5,207.4 C170.9,207.4 172.0,207.3 172.7,207.1 C173.5,206.9 174.2,206.2 174.8,206.2 C175.5,206.1 176.2,206.6 176.8,206.9 C177.4,207.2 177.9,208.1 178.6,208.0 C179.3,208.0 180.6,207.3 181.1,206.8 C181.6,206.3 181.3,205.7 181.5,205.2 C181.7,204.7 182.0,204.1 182.3,203.7 C182.6,203.2 183.1,202.8 183.5,202.4 C183.9,201.9 184.6,201.4 184.8,201.2"/>
<path d="M173.0,193.7 C173.3,193.9 174.3,194.6 175.0,194.8 C175.7,195.0 176.6,195.1 177.3,195.0 C178.0,194.9 178.6,194.4 179.2,194.1 C179.9,193.8 180.6,193.5 181.1,193.1 C181.5,192.7 181.9,192.2 182.1,191.7 C182.3,191.2 182.5,190.5 182.3,190.0 C182.1,189.5 181.4,189.2 181.0,188.8 C180.6,188.4 179.8,188.1 179.8,187.5 C179.8,186.9 180.9,185.4 181.1,185.0"/>
<path d="M172.3,197.5 C172.6,197.7 173.4,198.6 174.0,199.0 C174.6,199.4 175.4,199.9 176.1,199.9 C176.7,200.0 177.3,199.4 177.9,199.2 C178.5,198.9 179.2,198.7 179.8,198.7 C180.5,198.7 181.2,199.0 181.8,199.3 C182.5,199.6 183.1,200.3 183.5,200.6 C184.0,200.9 184.6,201.1 184.8,201.2"/>
<path d="M176.1,199.9 C176.2,200.2 176.5,201.1 176.6,201.8 C176.7,202.4 176.5,203.0 176.7,203.7 C176.9,204.4 177.3,205.1 177.6,205.9 C177.9,206.6 178.4,207.7 178.6,208.0"/>
<path d="M184.8,201.2 C185.1,201.1 186.1,200.8 186.7,200.6 C187.3,200.4 187.9,200.0 188.5,199.9 C189.2,199.9 189.8,200.2 190.4,200.4 C191.1,200.6 191.6,201.1 192.3,201.2 C192.9,201.2 193.7,201.0 194.4,200.7 C195.0,200.4 195.3,199.3 196.0,199.3 C196.7,199.3 198.1,200.4 198.5,200.6"/>
<path d="M183.5,200.6 C183.6,200.2 183.8,199.3 183.7,198.6 C183.6,198.0 182.9,197.3 182.9,196.8 C183.0,196.3 183.6,196.0 183.9,195.6 C184.2,195.2 184.4,194.4 184.8,194.3 C185.2,194.3 185.9,195.1 186.5,195.3 C187.2,195.5 187.9,195.7 188.5,195.6 C189.2,195.5 189.8,195.1 190.4,194.9 C191.0,194.7 191.6,194.3 192.3,194.3 C192.9,194.3 193.6,194.6 194.2,194.8 C194.8,195.0 195.5,195.6 196.0,195.6 C196.5,195.5 196.7,194.8 197.2,194.5 C197.6,194.2 198.3,193.9 198.5,193.7"/>
<path d="M188.5,199.9 C188.7,199.5 189.8,198.2 189.8,197.5 C189.8,196.7 188.7,195.9 188.5,195.6"/>
<path d="M198.5,200.6 C198.8,200.8 199.7,201.3 200.1,201.8 C200.5,202.3 201.0,203.1 201.0,203.7 C201.0,204.3 200.3,204.8 200.1,205.5 C199.9,206.1 199.6,206.8 199.7,207.4 C199.8,208.0 200.3,208.5 200.7,209.0 C201.1,209.4 201.7,209.9 202.2,209.9 C202.8,210.0 203.4,209.3 204.0,209.2 C204.7,209.1 205.3,209.2 206.0,209.3 C206.6,209.4 207.3,209.6 207.9,209.8 C208.5,210.0 209.0,210.6 209.7,210.5 C210.4,210.4 211.4,209.4 212.2,209.3 C213.0,209.2 213.8,210.0 214.6,210.1 C215.5,210.2 216.5,210.0 217.2,209.9 C217.9,209.8 218.3,209.8 218.8,209.6 C219.2,209.4 219.8,208.8 220.0,208.7"/>
<path d="M198.5,200.6 C198.8,200.4 199.6,199.7 200.2,199.4 C200.9,199.1 201.5,198.6 202.2,198.7 C203.0,198.8 204.0,199.9 204.7,199.9 C205.5,200.0 206.2,199.4 206.8,199.0 C207.4,198.6 207.9,197.7 208.5,197.5 C209.1,197.2 209.7,197.5 210.3,197.6 C211.0,197.7 211.7,198.2 212.2,198.1 C212.7,197.9 212.7,197.1 213.1,196.8 C213.6,196.4 214.0,196.1 214.7,196.2 C215.4,196.3 216.3,197.3 217.2,197.5 C218.1,197.6 219.6,196.9 220.0,196.8"/>
<path d="M198.5,193.7 C198.8,193.6 199.6,192.9 200.2,192.7 C200.9,192.5 201.7,192.8 202.2,192.5 C202.7,192.1 202.9,191.1 203.3,190.5 C203.7,189.9 204.6,189.3 204.7,188.7 C204.9,188.1 204.3,187.5 204.1,186.9 C203.9,186.2 203.6,185.3 203.5,185.0"/>
<path d="M204.7,188.7 C205.1,188.8 206.5,188.8 207.3,189.0 C208.1,189.2 208.9,190.0 209.7,190.0 C210.5,190.0 211.2,189.5 211.8,189.1 C212.5,188.7 212.9,187.6 213.4,187.5 C214.0,187.3 214.6,188.0 215.3,188.2 C215.9,188.5 216.6,188.8 217.2,188.7 C217.7,188.7 218.1,188.3 218.6,188.1 C219.1,187.9 219.8,187.6 220.0,187.5"/>
<path d="M209.7,190.0 C209.8,190.3 210.2,191.2 210.4,191.8 C210.6,192.4 211.0,193.1 210.9,193.7 C210.9,194.4 210.5,195.2 210.0,195.8 C209.6,196.4 208.7,197.2 208.5,197.5"/>
<path d="M214.7,196.2 C214.8,195.9 215.2,195.0 215.4,194.4 C215.6,193.7 216.0,193.2 215.9,192.5 C215.8,191.7 215.2,190.8 214.7,190.0 C214.3,189.1 213.7,187.9 213.4,187.5"/>
<path d="M181.1,206.8 C181.2,207.1 181.8,208.1 182.0,208.9 C182.3,209.6 182.4,210.5 182.3,211.2 C182.2,211.8 181.8,212.4 181.6,213.0 C181.4,213.6 181.2,214.2 181.1,214.9 C180.9,215.5 181.1,216.3 180.8,216.9 C180.6,217.5 179.9,218.0 179.8,218.6 C179.7,219.2 180.2,219.9 180.5,220.5 C180.7,221.1 181.2,221.8 181.1,222.4 C181.0,223.0 180.2,223.5 179.9,224.1 C179.6,224.7 179.3,225.8 179.2,226.1"/>
<path d="M182.3,211.2 C182.6,211.0 183.5,210.6 184.1,210.5 C184.7,210.4 185.4,210.4 186.0,210.5 C186.7,210.7 187.2,211.2 187.8,211.4 C188.4,211.6 189.1,211.8 189.8,211.8 C190.4,211.7 191.2,211.5 191.8,211.2 C192.5,210.9 192.9,210.0 193.5,209.9 C194.1,209.8 194.8,210.3 195.4,210.5 C196.0,210.7 196.8,211.4 197.2,211.2 C197.7,210.9 197.7,209.7 198.2,209.1 C198.6,208.4 199.5,207.7 199.7,207.4"/>
<path d="M189.8,211.8 C189.8,212.1 190.1,213.2 190.2,213.9 C190.3,214.7 190.5,215.5 190.4,216.1 C190.3,216.7 190.1,217.2 189.8,217.6 C189.5,218.0 189.0,218.6 188.5,218.6 C188.0,218.7 187.3,218.0 186.7,217.9 C186.1,217.8 185.4,218.0 184.8,218.0 C184.2,218.0 183.5,217.8 182.9,217.9 C182.2,218.0 181.4,218.5 181.1,218.6"/>
<path d="M197.2,211.2 C197.3,211.5 197.2,212.6 197.3,213.4 C197.4,214.1 197.9,214.9 197.9,215.5 C197.9,216.2 197.7,216.8 197.4,217.3 C197.0,217.8 196.6,218.4 196.0,218.6 C195.4,218.9 194.6,218.6 194.0,218.8 C193.4,219.0 192.8,220.0 192.3,219.9 C191.8,219.8 191.3,218.8 191.0,218.2 C190.7,217.6 190.5,216.5 190.4,216.1"/>
<path d="M202.2,209.9 C202.3,210.3 202.6,211.4 202.8,212.1 C203.0,212.8 203.5,213.7 203.5,214.3 C203.4,214.9 202.8,215.2 202.4,215.8 C202.1,216.3 202.0,217.3 201.6,217.4 C201.2,217.4 200.6,216.4 199.9,216.1 C199.3,215.7 198.2,215.6 197.9,215.5"/>
<path d="M209.7,210.5 C209.8,210.9 210.1,212.0 210.2,212.7 C210.3,213.4 210.4,214.3 210.3,214.9 C210.2,215.5 209.7,215.9 209.4,216.5 C209.1,217.0 208.9,217.8 208.5,218.0 C208.0,218.2 207.1,217.8 206.5,217.9 C205.9,218.0 205.3,218.6 204.7,218.6 C204.2,218.6 203.7,218.2 203.2,218.0 C202.6,217.8 201.9,217.5 201.6,217.4"/>
<path d="M217.2,209.9 C217.0,210.3 216.4,211.3 216.2,212.0 C216.0,212.7 215.9,213.6 215.9,214.3 C215.9,215.0 216.1,215.6 216.3,216.2 C216.5,216.8 217.2,217.4 217.2,218.0 C217.2,218.6 216.6,219.2 216.2,219.8 C215.8,220.3 215.3,221.0 214.7,221.1 C214.1,221.3 213.4,220.9 212.7,220.7 C212.1,220.5 211.4,220.2 210.9,219.9 C210.5,219.5 210.3,219.0 209.9,218.7 C209.5,218.3 208.7,218.1 208.5,218.0"/>
<path d="M179.8,218.6 C179.6,218.9 179.1,219.9 178.6,220.5 C178.2,221.2 177.9,221.9 177.3,222.4 C176.8,222.8 176.1,222.8 175.5,223.1 C174.9,223.3 174.2,223.7 173.6,223.6 C173.0,223.6 172.4,223.0 171.8,222.7 C171.2,222.5 170.5,222.3 169.9,222.4 C169.2,222.4 168.6,222.9 168.0,223.2 C167.3,223.5 166.6,224.2 166.1,224.2 C165.6,224.2 165.4,223.5 164.9,223.2 C164.5,222.9 164.2,222.7 163.6,222.4 C163.0,222.0 162.1,221.7 161.4,221.3 C160.6,220.8 159.6,220.1 159.3,219.9"/>
<path d="M173.6,223.6 C173.6,223.9 173.4,224.9 173.5,225.5 C173.6,226.2 174.3,226.8 174.2,227.3 C174.1,227.9 173.3,228.5 173.0,229.1 C172.7,229.7 172.3,230.4 172.3,231.1 C172.3,231.7 172.8,232.3 173.1,232.9 C173.3,233.5 173.6,234.2 173.6,234.8 C173.5,235.4 173.0,236.0 172.8,236.6 C172.6,237.2 172.3,237.8 172.3,238.5 C172.4,239.3 172.9,240.6 173.0,241.0"/>
<path d="M166.1,224.2 C166.1,224.5 166.0,225.5 166.1,226.2 C166.2,226.8 166.8,227.4 166.7,228.0 C166.7,228.6 166.0,229.2 165.7,229.8 C165.4,230.4 165.1,231.0 164.9,231.7 C164.6,232.4 164.6,233.2 164.4,233.9 C164.2,234.7 163.7,235.3 163.6,236.1 C163.6,236.8 164.1,237.7 164.2,238.5 C164.3,239.4 164.2,240.6 164.2,241.0"/>
<path d="M166.7,228.0 C167.0,228.0 167.9,228.1 168.4,228.0 C168.9,227.9 169.3,227.2 169.9,227.3 C170.4,227.5 171.0,228.4 171.4,229.0 C171.8,229.6 172.2,230.7 172.3,231.1"/>
<path d="M179.2,226.1 C179.5,226.2 180.4,226.4 181.0,226.7 C181.5,227.0 181.8,227.9 182.3,228.0 C182.8,228.1 183.5,227.4 184.1,227.2 C184.8,227.0 185.4,226.6 186.0,226.7 C186.7,226.8 187.2,227.5 187.8,227.9 C188.4,228.2 189.1,228.6 189.8,228.6 C190.4,228.6 191.1,228.3 191.7,228.1 C192.3,227.8 192.9,227.3 193.5,227.3 C194.1,227.4 194.8,227.9 195.4,228.2 C196.0,228.5 196.7,229.3 197.2,229.2 C197.8,229.2 198.3,228.2 198.9,227.9 C199.6,227.6 200.3,227.3 201.0,227.3 C201.6,227.4 202.2,227.8 202.8,228.0 C203.5,228.2 204.4,228.9 204.7,228.6 C205.0,228.3 204.6,226.9 204.6,226.1 C204.6,225.3 204.8,224.4 204.9,223.6 C205.0,222.8 205.0,221.9 205.0,221.1 C205.0,220.3 204.8,219.0 204.7,218.6"/>
<path d="M186.0,226.7 C186.1,227.0 186.5,227.9 186.6,228.5 C186.7,229.2 186.8,229.8 186.7,230.5 C186.6,231.1 186.4,231.9 186.1,232.5 C185.8,233.1 184.8,233.7 184.8,234.2 C184.8,234.7 185.8,235.0 186.1,235.5 C186.4,236.1 186.7,236.7 186.7,237.3 C186.7,237.9 186.2,238.5 186.1,239.1 C186.0,239.8 186.0,240.7 186.0,241.0"/>
<path d="M193.5,227.3 C193.6,227.7 194.1,228.7 194.2,229.5 C194.3,230.2 194.3,231.1 194.1,231.7 C194.0,232.3 193.4,232.7 193.1,233.2 C192.8,233.7 192.2,234.2 192.3,234.8 C192.4,235.4 193.2,236.0 193.6,236.6 C194.1,237.2 194.8,237.8 194.8,238.5 C194.7,239.3 193.7,240.6 193.5,241.0"/>
<path d="M201.0,227.3 C201.0,227.7 201.0,228.8 201.1,229.5 C201.3,230.3 201.3,231.2 201.6,231.7 C201.9,232.2 202.7,232.3 203.2,232.6 C203.7,232.9 204.2,233.6 204.7,233.6 C205.3,233.6 205.9,232.9 206.5,232.7 C207.1,232.5 207.9,232.2 208.5,232.3 C209.0,232.4 209.3,232.9 209.7,233.2 C210.2,233.5 210.4,234.1 210.9,234.2 C211.5,234.2 212.2,233.7 212.8,233.5 C213.4,233.3 214.1,232.9 214.7,232.9 C215.3,233.0 215.9,233.6 216.5,233.9 C217.1,234.2 217.8,234.8 218.4,234.8 C219.0,234.9 219.8,234.3 220.0,234.2"/>
<path d="M204.7,233.6 C204.7,233.9 204.8,234.9 204.7,235.5 C204.6,236.1 204.1,236.7 204.1,237.3 C204.1,238.0 204.3,238.7 204.6,239.4 C205.0,240.0 205.7,240.8 206.0,241.0"/>
<path d="M210.9,234.2 C211.0,234.5 211.1,235.3 211.3,235.8 C211.5,236.4 212.1,236.7 212.2,237.3 C212.3,237.9 212.0,238.6 211.8,239.3 C211.6,239.9 211.1,240.7 210.9,241.0"/>
<path d="M214.7,221.1 C214.9,221.4 215.5,222.2 215.7,222.9 C215.9,223.5 216.1,224.3 215.9,224.9 C215.8,225.4 215.1,225.9 214.7,226.4 C214.3,226.9 213.6,227.3 213.4,228.0 C213.3,228.6 213.8,229.6 214.0,230.5 C214.2,231.3 214.6,232.5 214.7,232.9"/>
<path d="M204.7,228.6 C205.0,228.6 206.0,228.8 206.7,228.7 C207.3,228.6 207.7,228.1 208.5,228.0 C209.2,227.8 210.1,227.8 210.9,227.8 C211.8,227.8 213.0,227.9 213.4,228.0"/>
<path d="M130.0,223.6 C130.3,223.8 131.1,224.4 131.7,224.6 C132.4,224.8 133.1,225.0 133.7,224.9 C134.4,224.7 134.8,223.9 135.4,223.6 C136.1,223.3 137.0,223.4 137.5,223.0 C138.0,222.6 138.1,221.8 138.4,221.2 C138.6,220.6 138.7,219.6 138.7,219.2"/>
<path d="M137.5,223.0 C137.6,223.3 138.1,224.2 138.5,224.7 C138.9,225.2 139.4,225.8 140.0,226.1 C140.5,226.4 141.2,226.3 141.8,226.4 C142.4,226.5 143.3,227.1 143.7,226.7 C144.1,226.4 144.2,225.1 144.4,224.3 C144.6,223.4 144.9,222.2 144.9,221.7"/>
<path d="M143.7,226.7 C143.8,227.1 143.8,228.2 144.1,229.0 C144.3,229.7 145.0,230.4 144.9,231.1 C144.8,231.7 143.8,232.1 143.4,232.8 C143.0,233.4 142.9,234.4 142.5,234.8 C142.0,235.3 141.2,235.2 140.6,235.4 C140.0,235.6 139.3,236.0 138.7,236.1 C138.1,236.1 137.4,235.8 136.8,235.6 C136.2,235.4 135.6,234.8 135.0,234.8 C134.4,234.8 133.9,235.6 133.2,235.8 C132.6,236.0 131.8,236.1 131.2,236.1 C130.7,236.0 130.2,235.5 130.0,235.4"/>
<path d="M148.7,222.4 C148.7,222.7 148.8,223.7 149.0,224.3 C149.2,224.9 149.4,225.8 149.9,226.1 C150.4,226.4 151.3,226.1 151.9,226.3 C152.5,226.5 153.1,227.4 153.7,227.3 C154.3,227.3 155.2,226.3 155.5,226.1"/>
<path d="M144.9,231.1 C145.2,231.2 146.1,231.7 146.8,231.9 C147.4,232.1 148.0,232.3 148.7,232.3 C149.3,232.4 150.1,232.3 150.7,232.1 C151.3,231.9 152.0,231.5 152.4,231.1 C152.9,230.6 153.1,229.9 153.3,229.3 C153.5,228.7 153.6,227.7 153.7,227.3"/>
<path d="M152.4,231.1 C152.6,231.4 153.2,232.2 153.4,232.8 C153.7,233.4 153.9,234.2 153.7,234.8 C153.5,235.4 152.6,235.9 152.2,236.6 C151.8,237.2 151.1,237.8 151.2,238.5 C151.2,239.3 152.2,240.6 152.4,241.0"/>
<path d="M142.5,234.8 C142.6,235.1 143.3,235.9 143.5,236.5 C143.7,237.2 143.9,237.8 143.7,238.5 C143.5,239.3 142.7,240.6 142.5,241.0"/>
</g>
<g clip-path="url(#cO)">
<path d="M140.0,145.3 C140.3,145.4 141.4,145.6 142.0,145.9 C142.7,146.2 143.0,147.0 143.7,147.2 C144.4,147.4 145.4,147.3 146.3,147.2 C147.1,147.1 147.9,146.8 148.7,146.6 C149.6,146.3 150.5,146.0 151.3,145.6 C152.2,145.1 152.9,144.4 153.7,144.1 C154.5,143.7 155.4,143.7 156.2,143.5 C157.0,143.3 158.0,142.9 158.7,142.8 C159.4,142.7 160.0,142.8 160.6,142.9 C161.2,143.0 162.1,143.4 162.4,143.5"/>
<path d="M162.4,143.5 C162.5,143.9 162.8,145.1 162.9,145.9 C163.0,146.8 163.1,147.7 163.0,148.4 C163.0,149.2 162.7,149.7 162.5,150.3 C162.3,151.0 161.8,151.5 161.8,152.2 C161.8,152.8 162.3,153.5 162.6,154.1 C162.9,154.7 163.7,155.3 163.7,155.9 C163.7,156.5 162.8,157.0 162.6,157.6 C162.4,158.2 162.3,159.0 162.4,159.6 C162.5,160.3 162.8,161.2 163.3,161.8 C163.7,162.4 164.7,162.8 164.9,163.4 C165.2,164.0 164.9,164.7 164.8,165.3 C164.7,165.9 164.3,166.6 164.3,167.1 C164.3,167.7 164.5,168.2 164.8,168.7 C165.1,169.1 165.9,169.4 166.2,169.6"/>
<path d="M166.2,131.0 C166.3,131.4 166.7,132.6 166.8,133.4 C166.9,134.3 166.9,135.2 166.8,136.0 C166.6,136.8 166.1,137.4 166.0,138.1 C165.9,138.8 166.5,139.7 166.2,140.3 C165.8,140.9 164.7,141.2 164.1,141.7 C163.5,142.2 162.7,143.2 162.4,143.5"/>
<path d="M166.2,140.3 C166.6,140.2 167.8,139.7 168.6,139.6 C169.4,139.5 170.3,139.5 171.1,139.7 C172.0,139.9 172.7,140.5 173.5,140.7 C174.4,140.9 175.4,141.0 176.1,141.0 C176.9,140.9 177.4,140.8 178.1,140.6 C178.7,140.4 179.3,140.2 179.9,139.7 C180.4,139.2 180.8,138.2 181.4,137.6 C182.1,137.0 183.2,136.6 183.6,136.0 C184.0,135.4 183.7,134.6 183.9,134.0 C184.1,133.4 184.8,132.7 184.8,132.2 C184.9,131.7 184.3,131.2 184.2,131.0"/>
<path d="M179.9,139.7 C179.9,140.1 180.2,141.4 180.3,142.2 C180.4,143.0 180.6,144.0 180.5,144.7 C180.3,145.4 179.7,145.8 179.3,146.5 C179.0,147.1 179.1,148.0 178.6,148.4 C178.2,148.8 177.3,148.6 176.6,148.8 C176.0,149.0 175.5,149.5 174.9,149.7 C174.3,149.8 173.6,149.8 172.9,149.7 C172.3,149.6 171.7,149.1 171.1,149.1 C170.6,149.1 170.1,149.4 169.7,149.7 C169.2,150.0 169.1,150.7 168.6,150.9 C168.2,151.1 167.4,150.9 166.7,151.0 C166.1,151.1 165.5,151.4 164.9,151.5 C164.3,151.7 163.9,151.7 163.3,151.9 C162.8,152.0 162.1,152.1 161.8,152.2"/>
<path d="M174.9,149.7 C175.0,150.0 175.3,151.1 175.4,151.8 C175.5,152.5 175.6,153.4 175.5,154.0 C175.4,154.7 175.1,155.2 174.8,155.7 C174.5,156.2 174.1,157.0 173.6,157.2 C173.1,157.3 172.4,157.0 171.7,156.9 C171.1,156.8 170.5,156.5 169.9,156.5 C169.3,156.5 168.7,156.7 168.2,156.9 C167.7,157.1 167.3,157.8 166.8,157.8 C166.3,157.8 165.6,157.4 165.1,157.0 C164.6,156.7 163.9,156.1 163.7,155.9"/>
<path d="M183.6,136.0 C183.9,136.1 184.8,136.6 185.4,136.8 C186.0,137.0 186.8,136.8 187.3,137.2 C187.8,137.6 188.0,138.6 188.4,139.2 C188.8,139.8 189.6,140.4 189.8,141.0 C190.0,141.6 189.6,142.2 189.5,142.8 C189.4,143.5 189.5,144.2 189.2,144.7 C188.9,145.2 188.3,145.6 187.8,145.9 C187.3,146.2 186.7,146.5 186.1,146.6 C185.5,146.6 184.8,146.3 184.2,146.2 C183.6,146.1 183.0,146.2 182.3,145.9 C181.7,145.7 180.8,144.9 180.5,144.7"/>
<path d="M189.8,141.0 C190.1,140.7 190.9,139.9 191.5,139.5 C192.2,139.1 193.1,139.0 193.5,138.5 C194.0,138.0 194.0,137.0 194.5,136.4 C194.9,135.8 195.8,135.3 196.0,134.7 C196.3,134.1 196.3,133.4 196.2,132.8 C196.1,132.2 195.5,131.3 195.4,131.0"/>
<path d="M193.5,138.5 C194.0,138.5 195.3,138.4 196.2,138.6 C197.0,138.8 197.8,139.7 198.5,139.7 C199.3,139.8 199.9,139.3 200.5,139.0 C201.1,138.7 201.8,138.4 202.3,137.8 C202.7,137.3 202.9,136.5 203.1,135.7 C203.3,135.0 203.2,134.3 203.5,133.5 C203.8,132.7 204.5,131.4 204.8,131.0"/>
<path d="M189.2,144.7 C189.5,144.8 190.5,145.2 191.0,145.6 C191.6,146.0 192.2,146.6 192.3,147.2 C192.4,147.8 191.9,148.4 191.6,149.0 C191.4,149.7 191.4,150.4 191.1,150.9 C190.7,151.4 190.0,151.6 189.6,152.0 C189.2,152.4 189.0,153.3 188.6,153.4 C188.1,153.6 187.4,153.0 186.7,152.9 C186.1,152.8 185.4,152.7 184.8,152.8 C184.3,152.9 183.8,153.1 183.3,153.4 C182.9,153.7 182.8,154.6 182.3,154.7 C181.9,154.7 181.2,154.0 180.5,153.9 C179.9,153.8 179.2,154.1 178.6,154.0 C178.0,154.0 177.6,153.8 177.0,153.8 C176.5,153.8 175.8,154.0 175.5,154.0"/>
<path d="M192.3,147.2 C192.6,147.2 193.7,147.2 194.3,147.0 C194.9,146.8 195.5,145.9 196.0,145.9 C196.6,146.0 197.0,146.7 197.4,147.1 C197.8,147.5 198.4,147.9 198.5,148.4 C198.7,149.0 198.3,149.7 198.2,150.3 C198.1,150.9 198.2,151.7 197.9,152.2 C197.6,152.6 196.8,152.8 196.3,153.1 C195.8,153.4 195.3,154.2 194.8,154.0 C194.3,153.9 193.8,152.7 193.1,152.2 C192.5,151.7 191.4,151.1 191.1,150.9"/>
<path d="M198.5,139.7 C198.6,140.0 199.0,141.0 199.2,141.6 C199.4,142.2 199.9,142.7 199.8,143.5 C199.7,144.2 198.9,145.0 198.7,145.8 C198.5,146.7 198.6,148.0 198.5,148.4"/>
<path d="M202.3,137.8 C202.7,137.9 204.1,138.1 204.9,138.4 C205.7,138.7 206.6,139.7 207.2,139.7 C207.9,139.8 208.4,139.0 209.0,138.8 C209.6,138.5 210.3,138.4 211.0,138.5 C211.6,138.5 212.4,138.8 213.0,139.2 C213.6,139.5 214.0,140.3 214.7,140.3 C215.4,140.4 216.5,140.0 217.3,139.7 C218.1,139.3 218.9,138.6 219.7,138.5 C220.5,138.4 221.4,138.7 222.2,138.9 C223.1,139.1 223.8,139.7 224.7,139.7 C225.6,139.7 226.6,139.4 227.4,139.0 C228.3,138.7 229.6,138.0 230.0,137.8"/>
<path d="M214.7,140.3 C214.8,140.7 215.1,141.8 215.3,142.5 C215.5,143.3 216.0,144.0 216.0,144.7 C216.0,145.4 215.5,145.9 215.3,146.6 C215.1,147.2 215.1,148.0 214.7,148.4 C214.3,148.9 213.6,149.2 213.0,149.4 C212.3,149.6 211.2,149.3 211.0,149.7 C210.8,150.0 211.4,150.9 211.6,151.5 C211.8,152.2 212.3,152.8 212.2,153.4 C212.2,154.0 211.5,154.6 211.3,155.2 C211.1,155.8 211.0,156.5 211.0,157.2 C210.9,157.8 210.9,158.6 211.1,159.2 C211.3,159.8 212.3,160.2 212.2,160.9 C212.2,161.6 211.2,163.0 211.0,163.4"/>
<path d="M219.7,138.5 C219.8,138.2 220.3,137.3 220.5,136.6 C220.7,136.0 221.0,135.4 220.9,134.7 C220.9,134.1 220.4,133.5 220.2,132.9 C220.0,132.3 219.8,131.3 219.7,131.0"/>
<path d="M214.7,148.4 C215.1,148.6 216.3,149.3 217.1,149.5 C217.9,149.7 218.8,149.7 219.7,149.7 C220.6,149.7 221.4,149.6 222.3,149.4 C223.1,149.2 223.8,148.5 224.7,148.4 C225.5,148.4 226.5,148.7 227.4,149.0 C228.3,149.2 229.6,149.6 230.0,149.7"/>
<path d="M224.7,148.4 C224.8,148.9 225.0,150.1 225.2,151.0 C225.4,151.8 225.9,152.6 225.9,153.4 C225.9,154.2 225.3,155.0 225.1,155.9 C224.9,156.7 224.6,157.7 224.7,158.4 C224.8,159.1 225.5,159.7 225.9,160.3 C226.3,160.9 227.1,161.4 227.2,162.1 C227.3,162.9 226.8,163.8 226.6,164.6 C226.4,165.5 226.0,166.3 225.9,167.1 C225.8,168.0 225.9,168.9 226.1,169.7 C226.3,170.6 226.7,171.7 227.2,172.1 C227.6,172.5 228.3,172.1 228.8,172.3 C229.3,172.5 229.8,173.2 230.0,173.3"/>
<path d="M212.2,153.4 C212.6,153.5 213.9,153.8 214.7,154.0 C215.6,154.2 216.4,154.7 217.2,154.7 C218.0,154.6 218.8,154.0 219.6,153.9 C220.5,153.8 221.4,154.0 222.2,154.0 C222.9,154.1 223.5,154.1 224.1,154.0 C224.7,153.9 225.6,153.5 225.9,153.4"/>
<path d="M197.9,152.2 C198.3,152.3 199.3,152.9 200.0,153.1 C200.7,153.3 201.6,153.5 202.3,153.4 C202.9,153.3 203.5,152.9 204.1,152.7 C204.7,152.5 205.3,152.5 206.0,152.2 C206.7,151.9 207.6,151.2 208.4,150.8 C209.3,150.4 210.6,149.9 211.0,149.7"/>
<path d="M202.3,153.4 C202.3,153.8 202.3,154.9 202.4,155.6 C202.5,156.3 203.0,157.2 202.9,157.8 C202.8,158.4 202.1,158.7 201.8,159.3 C201.5,159.8 201.5,160.6 201.0,160.9 C200.6,161.2 199.8,161.0 199.1,161.1 C198.5,161.2 197.8,161.6 197.3,161.5 C196.8,161.4 196.4,161.0 196.0,160.6 C195.6,160.3 195.0,160.3 194.8,159.6 C194.5,159.0 194.5,157.8 194.5,156.8 C194.5,155.9 194.7,154.5 194.8,154.0"/>
<path d="M182.3,154.7 C182.4,155.0 182.5,155.9 182.6,156.5 C182.7,157.2 183.0,157.7 183.0,158.4 C182.9,159.0 182.7,159.8 182.4,160.4 C182.1,161.1 181.6,161.8 181.1,162.1 C180.6,162.5 179.8,162.5 179.2,162.7 C178.6,163.0 178.0,163.5 177.4,163.4 C176.8,163.3 176.3,162.5 175.6,162.3 C175.0,162.1 173.9,162.6 173.6,162.1 C173.4,161.7 174.1,160.5 174.1,159.6 C174.1,158.8 173.7,157.6 173.6,157.2"/>
<path d="M188.6,153.4 C188.6,153.7 188.8,154.7 188.9,155.3 C189.0,155.9 189.4,156.6 189.2,157.2 C189.0,157.7 188.2,158.2 187.8,158.8 C187.5,159.4 187.8,160.8 187.3,160.9 C186.9,161.0 185.9,159.9 185.2,159.5 C184.5,159.1 183.3,158.6 183.0,158.4"/>
<path d="M194.8,159.6 C194.5,159.8 193.5,160.4 192.9,160.8 C192.2,161.2 191.7,162.0 191.1,162.1 C190.4,162.3 189.8,161.8 189.2,161.6 C188.6,161.3 187.6,161.0 187.3,160.9"/>
<path d="M187.3,160.9 C187.4,161.3 187.7,162.5 187.8,163.4 C187.9,164.2 188.0,165.1 187.9,165.9 C187.9,166.6 187.6,167.3 187.3,167.9 C187.0,168.5 186.1,169.0 186.1,169.6 C186.1,170.2 187.0,170.7 187.2,171.3 C187.4,171.9 187.5,172.7 187.3,173.3 C187.2,174.0 186.5,174.5 186.2,175.1 C185.9,175.7 185.5,176.4 185.5,177.1 C185.4,177.7 185.9,178.3 186.1,178.9 C186.3,179.6 186.6,180.1 186.7,180.8 C186.8,181.5 186.7,182.3 186.6,183.0 C186.5,183.7 186.3,184.3 186.1,185.0 C185.9,185.7 185.6,186.7 185.5,187.0"/>
<path d="M181.1,162.1 C181.1,162.6 181.0,163.9 181.3,164.7 C181.5,165.6 182.3,166.4 182.3,167.1 C182.4,167.8 181.7,168.5 181.3,169.1 C180.9,169.7 180.4,170.7 179.9,170.9 C179.3,171.0 178.7,170.2 178.0,170.0 C177.4,169.8 176.6,169.9 176.1,169.6 C175.6,169.3 175.3,168.8 174.9,168.4 C174.5,167.9 174.1,167.2 173.6,167.1 C173.1,167.0 172.4,167.7 171.8,167.9 C171.2,168.1 170.5,168.1 169.9,168.4 C169.3,168.6 168.7,169.1 168.1,169.3 C167.5,169.5 166.5,169.6 166.2,169.6"/>
<path d="M177.4,163.4 C177.3,163.7 177.1,164.8 177.1,165.5 C177.0,166.2 177.2,166.9 177.0,167.6 C176.8,168.3 176.3,169.3 176.1,169.6"/>
<path d="M166.2,169.6 C166.1,169.9 166.2,171.0 166.0,171.6 C165.7,172.2 164.9,172.7 164.9,173.3 C164.9,174.0 165.4,174.7 165.7,175.3 C166.0,175.9 166.8,176.5 166.8,177.1 C166.8,177.7 166.1,178.3 165.8,178.9 C165.5,179.5 164.9,180.2 164.9,180.8 C164.9,181.5 165.5,182.1 165.7,182.8 C165.8,183.5 165.7,184.2 165.8,184.9 C165.9,185.7 166.1,186.7 166.2,187.0"/>
<path d="M179.9,170.9 C180.0,171.1 180.6,172.0 180.8,172.6 C181.0,173.2 181.2,173.9 181.1,174.6 C180.9,175.2 180.4,175.9 179.9,176.5 C179.5,177.1 178.8,177.6 178.6,178.3 C178.4,179.1 178.7,180.1 179.0,180.9 C179.2,181.7 179.8,182.5 179.9,183.3 C179.9,184.1 179.4,184.8 179.0,185.4 C178.6,186.1 177.6,186.8 177.4,187.0"/>
<path d="M191.1,162.1 C191.0,162.6 190.8,163.8 190.9,164.7 C191.0,165.5 191.7,166.4 191.7,167.1 C191.7,167.8 191.1,168.4 190.8,169.0 C190.5,169.6 189.9,170.2 189.8,170.9 C189.7,171.5 190.1,172.1 190.3,172.8 C190.5,173.4 191.0,174.0 191.1,174.6 C191.1,175.2 190.8,175.9 190.6,176.5 C190.3,177.1 189.8,177.7 189.8,178.3 C189.9,179.0 190.5,179.7 190.9,180.3 C191.3,180.9 192.3,181.4 192.3,182.1 C192.3,182.8 191.3,183.7 190.9,184.5 C190.5,185.3 190.0,186.6 189.8,187.0"/>
<path d="M189.8,170.9 C190.2,170.9 191.6,170.8 192.4,171.0 C193.2,171.2 194.1,172.0 194.8,172.1 C195.5,172.2 196.1,171.9 196.7,171.7 C197.4,171.5 198.0,170.8 198.5,170.9 C199.1,170.9 199.7,171.3 200.1,171.8 C200.5,172.2 200.9,172.8 201.0,173.3 C201.1,173.9 200.9,174.7 200.7,175.3 C200.4,175.9 199.7,176.5 199.8,177.1 C199.9,177.7 200.9,178.1 201.3,178.8 C201.7,179.4 202.1,180.1 202.3,180.8 C202.4,181.5 202.2,182.2 202.0,182.8 C201.8,183.4 201.0,183.8 201.0,184.5 C201.1,185.3 202.1,186.6 202.3,187.0"/>
<path d="M201.0,160.9 C201.2,161.2 201.6,162.1 201.8,162.7 C202.0,163.3 202.3,164.0 202.3,164.6 C202.3,165.3 202.1,165.9 201.9,166.6 C201.7,167.2 201.4,167.9 201.0,168.4 C200.6,168.8 200.0,169.0 199.6,169.4 C199.1,169.8 198.7,170.6 198.5,170.9"/>
<path d="M211.0,163.4 C210.7,163.5 209.7,163.8 209.1,164.0 C208.5,164.2 207.9,164.6 207.2,164.6 C206.6,164.6 206.0,164.3 205.4,164.1 C204.7,163.9 204.0,163.3 203.5,163.4 C203.0,163.5 202.5,164.4 202.3,164.6"/>
<path d="M211.0,163.4 C211.0,163.8 211.1,165.1 211.3,165.9 C211.5,166.8 212.2,167.6 212.2,168.4 C212.2,169.1 211.7,169.8 211.3,170.5 C210.9,171.1 210.3,171.7 209.7,172.1 C209.2,172.5 208.4,172.4 207.8,172.6 C207.2,172.8 206.7,173.2 206.0,173.3 C205.3,173.5 204.3,173.4 203.5,173.4 C202.7,173.4 201.4,173.4 201.0,173.3"/>
<path d="M209.7,172.1 C209.9,172.5 210.4,173.7 210.6,174.5 C210.8,175.4 211.1,176.3 211.0,177.1 C210.9,177.8 210.3,178.4 209.9,179.0 C209.5,179.7 208.7,180.2 208.5,180.8 C208.3,181.5 208.6,182.2 208.6,182.9 C208.7,183.6 208.7,184.4 208.9,185.0 C209.1,185.7 209.6,186.7 209.7,187.0"/>
<path d="M189.8,178.3 C190.2,178.2 191.4,177.5 192.2,177.3 C193.0,177.1 193.9,177.1 194.8,177.1 C195.6,177.0 196.5,177.0 197.3,177.0 C198.1,177.0 199.4,177.1 199.8,177.1"/>
<path d="M140.0,168.4 C140.3,168.4 141.4,168.3 142.0,168.5 C142.6,168.8 143.3,169.1 143.7,169.6 C144.2,170.1 144.2,171.1 144.6,171.7 C145.0,172.4 146.1,172.7 146.2,173.3 C146.4,174.0 145.6,174.9 145.4,175.8 C145.2,176.6 144.9,177.6 145.0,178.3 C145.1,179.1 145.5,179.8 145.9,180.4 C146.4,181.0 147.4,181.4 147.5,182.1 C147.6,182.7 146.7,183.6 146.5,184.5 C146.3,185.3 146.3,186.6 146.2,187.0"/>
<path d="M140.0,182.1 C140.4,181.9 141.9,181.2 142.5,180.8 C143.1,180.4 143.3,179.9 143.7,179.5 C144.1,179.1 144.8,178.5 145.0,178.3"/>
<path d="M146.2,173.3 C146.6,173.5 147.8,173.9 148.7,174.1 C149.5,174.3 150.4,174.7 151.2,174.6 C152.0,174.5 152.8,173.8 153.6,173.6 C154.4,173.4 155.5,173.1 156.2,173.3 C156.9,173.6 157.3,174.4 157.9,174.9 C158.5,175.3 159.2,175.9 159.9,175.8 C160.7,175.8 161.6,175.0 162.4,174.6 C163.3,174.2 164.5,173.6 164.9,173.3"/>
<path d="M227.2,172.1 C226.9,172.4 226.1,173.2 225.7,173.8 C225.3,174.4 224.7,175.1 224.7,175.8 C224.6,176.6 225.2,177.5 225.4,178.3 C225.6,179.1 226.1,180.1 225.9,180.8 C225.8,181.5 224.7,181.8 224.3,182.4 C223.9,183.1 223.4,183.8 223.4,184.5 C223.5,185.3 224.5,186.6 224.7,187.0"/>
<path d="M153.7,144.1 C153.9,143.6 154.4,142.3 154.6,141.3 C154.8,140.4 155.1,139.3 154.9,138.5 C154.8,137.7 154.2,137.2 153.7,136.6 C153.3,136.0 152.6,135.4 152.5,134.7 C152.3,134.1 152.5,133.4 152.7,132.8 C153.0,132.1 153.5,131.3 153.7,131.0"/>
<path d="M140.0,137.2 C140.4,137.1 141.6,136.5 142.4,136.3 C143.2,136.1 144.2,135.9 145.0,136.0 C145.8,136.1 146.5,136.8 147.4,137.0 C148.2,137.3 149.4,137.5 150.0,137.2 C150.5,137.0 150.5,136.1 150.9,135.6 C151.3,135.2 152.2,134.9 152.5,134.7"/>
<path d="M171.1,139.7 C171.1,139.3 171.1,138.0 171.2,137.2 C171.3,136.4 171.8,135.4 171.8,134.7 C171.7,134.0 171.0,133.6 170.7,132.9 C170.4,132.3 170.0,131.3 169.9,131.0"/>
<path d="M140.0,159.6 C140.4,159.7 141.7,159.9 142.5,160.1 C143.4,160.3 144.2,160.8 145.0,160.9 C145.8,161.0 146.7,160.7 147.5,160.5 C148.4,160.3 149.2,159.6 150.0,159.6 C150.7,159.7 151.5,160.1 152.1,160.5 C152.7,160.9 153.0,161.9 153.7,162.1 C154.4,162.4 155.5,162.2 156.3,162.0 C157.1,161.8 158.0,161.2 158.7,160.9 C159.4,160.5 159.8,160.1 160.4,159.9 C161.0,159.7 162.1,159.7 162.4,159.6"/>
<path d="M156.2,173.3 C156.3,172.9 156.9,171.8 157.1,170.9 C157.3,170.1 157.6,169.1 157.4,168.4 C157.3,167.6 156.7,167.0 156.3,166.4 C155.9,165.8 155.4,165.3 154.9,164.6 C154.5,163.9 153.9,162.5 153.7,162.1"/>
<path d="M212.2,160.9 C212.6,161.0 213.9,161.2 214.7,161.4 C215.6,161.6 216.4,162.1 217.2,162.1 C218.0,162.1 218.8,161.6 219.7,161.4 C220.5,161.2 221.4,160.8 222.2,160.9 C223.0,161.0 223.7,161.7 224.6,161.9 C225.4,162.1 226.7,162.1 227.2,162.1"/>
<path d="M217.2,162.1 C217.2,162.6 217.1,163.8 217.2,164.7 C217.4,165.5 217.9,166.4 217.8,167.1 C217.8,167.9 217.4,168.5 217.1,169.1 C216.8,169.7 216.5,170.7 216.0,170.9 C215.4,171.0 214.6,170.2 214.0,169.8 C213.4,169.4 212.5,168.6 212.2,168.4"/>
<path d="M216.0,170.9 C216.1,171.3 216.6,172.5 216.8,173.3 C217.0,174.1 217.3,175.0 217.2,175.8 C217.1,176.6 216.8,177.4 216.4,178.0 C216.0,178.6 215.3,179.5 214.7,179.6 C214.1,179.6 213.5,178.7 212.9,178.3 C212.3,177.8 211.3,177.3 211.0,177.1"/>
</g>
<g clip-path="url(#cP)">
<path d="M222.4,40.0 C222.4,40.4 222.2,41.7 222.2,42.5 C222.1,43.3 222.0,44.3 222.2,45.0 C222.3,45.7 222.7,46.1 223.0,46.7 C223.4,47.2 223.8,47.7 224.3,48.1 C224.7,48.5 225.4,48.7 225.8,49.1 C226.2,49.5 226.3,50.1 226.8,50.6 C227.3,51.1 228.2,51.5 228.8,52.0 C229.4,52.5 229.8,53.2 230.5,53.7 C231.2,54.2 232.1,54.7 232.9,55.1 C233.7,55.6 234.7,56.2 235.5,56.2 C236.2,56.2 237.1,55.6 237.4,54.9 C237.6,54.3 236.9,53.3 236.9,52.5 C236.9,51.6 237.3,50.4 237.4,50.0"/>
<path d="M224.3,48.1 C224.0,48.5 223.4,49.7 222.8,50.3 C222.1,50.9 221.1,51.2 220.5,51.8 C220.0,52.4 219.7,53.2 219.4,53.9 C219.0,54.6 219.0,55.5 218.7,56.2 C218.4,56.9 218.0,57.5 217.6,58.2 C217.3,58.8 217.0,59.5 216.5,60.1 C216.1,60.8 215.4,61.1 214.9,61.8 C214.4,62.5 214.0,63.4 213.6,64.2 C213.1,65.0 212.8,65.9 212.5,66.8 C212.1,67.6 211.7,68.4 211.4,69.2 C211.1,70.0 210.7,70.9 210.6,71.8 C210.4,72.6 210.6,73.3 210.4,74.1 C210.2,74.8 209.5,75.8 209.3,76.1"/>
<path d="M218.7,56.2 C218.9,56.4 219.4,57.1 219.8,57.5 C220.2,58.0 220.6,58.4 221.2,58.7 C221.7,59.0 222.4,59.2 223.0,59.4 C223.6,59.6 224.5,59.5 224.9,59.9 C225.3,60.4 225.2,61.5 225.5,62.2 C225.8,63.0 226.4,63.7 226.8,64.3 C227.2,64.8 227.6,65.1 228.0,65.5 C228.4,65.9 228.6,66.6 229.3,66.8 C229.9,67.0 231.3,66.8 231.8,66.8"/>
<path d="M237.4,55.6 C237.3,55.9 237.1,57.1 236.8,57.8 C236.6,58.5 236.4,59.2 236.1,59.9 C235.8,60.7 235.5,61.7 235.0,62.4 C234.4,63.1 233.6,63.7 233.0,64.3 C232.4,64.8 231.8,65.1 231.4,65.7 C230.9,66.2 230.8,66.9 230.4,67.5 C230.1,68.1 229.7,68.6 229.3,69.3 C228.8,69.9 228.3,70.7 227.9,71.4 C227.5,72.1 227.1,72.9 226.8,73.6 C226.5,74.3 226.3,75.0 226.0,75.6 C225.7,76.2 225.2,76.7 224.9,77.4 C224.6,78.1 224.7,79.0 224.4,79.7 C224.1,80.4 223.4,81.0 223.0,81.7 C222.6,82.4 222.2,83.1 222.0,83.8 C221.8,84.5 221.8,85.7 221.8,86.1"/>
<path d="M231.8,66.8 C232.2,66.6 233.6,66.2 234.5,66.0 C235.5,65.8 236.5,65.5 237.4,65.5 C238.2,65.5 239.0,65.8 239.8,65.9 C240.7,66.0 241.8,65.7 242.3,66.2 C242.9,66.6 242.7,67.7 243.0,68.4 C243.3,69.2 243.9,69.8 244.2,70.5 C244.6,71.2 244.7,72.0 245.1,72.6 C245.5,73.2 246.3,73.7 246.7,74.2 C247.1,74.8 247.4,75.4 247.8,75.9 C248.2,76.5 249.0,76.8 249.2,77.4 C249.4,77.9 249.0,78.7 249.1,79.3 C249.2,79.9 249.7,80.8 249.8,81.1"/>
<path d="M229.3,69.3 C229.1,69.7 228.7,71.1 228.4,71.9 C228.1,72.8 227.6,73.7 227.3,74.6 C227.0,75.5 227.0,76.5 226.8,77.4 C226.6,78.2 226.4,79.0 226.2,79.8 C226.1,80.7 226.0,81.5 226.2,82.3 C226.3,83.2 227.0,84.1 227.2,85.0 C227.4,86.0 227.4,87.5 227.4,87.9"/>
<path d="M249.2,77.4 C249.6,77.3 250.6,77.1 251.4,77.0 C252.1,76.9 252.9,77.1 253.5,76.7 C254.2,76.4 254.8,75.4 255.5,74.9 C256.3,74.4 257.5,74.2 257.9,73.6 C258.3,73.0 257.9,72.0 258.1,71.3 C258.3,70.6 258.9,69.9 259.2,69.3 C259.4,68.7 259.6,68.3 259.7,67.8 C259.8,67.2 259.9,66.8 259.8,66.2 C259.7,65.5 259.4,64.4 259.1,63.6 C258.7,62.7 258.2,61.9 257.9,61.2 C257.6,60.5 257.3,59.9 257.0,59.3 C256.7,58.7 256.1,58.1 256.0,57.4 C256.0,56.7 256.4,55.9 256.6,55.2 C256.7,54.4 257.0,53.7 257.1,52.9 C257.2,52.1 257.3,51.0 257.3,50.6"/>
<path d="M259.8,66.2 C260.0,66.5 260.9,67.7 261.3,68.5 C261.7,69.3 261.9,70.3 262.3,71.1 C262.6,72.0 262.9,72.9 263.3,73.7 C263.7,74.6 264.3,75.3 264.8,76.1 C265.2,76.9 265.7,77.7 266.1,78.5 C266.6,79.4 266.9,80.3 267.2,81.1 C267.6,81.9 268.0,82.7 268.2,83.5 C268.4,84.3 268.5,85.2 268.5,86.1 C268.5,86.9 268.2,87.8 268.3,88.6 C268.5,89.5 268.9,90.2 269.1,91.1 C269.3,91.9 269.5,92.7 269.6,93.5 C269.7,94.4 269.7,95.6 269.7,96.0"/>
<path d="M249.8,81.1 C250.2,81.3 251.2,81.6 251.9,82.1 C252.5,82.5 253.1,82.9 253.5,83.6 C254.0,84.2 254.1,85.2 254.5,85.9 C254.9,86.6 255.6,87.3 256.0,87.9 C256.5,88.6 256.6,89.4 257.0,90.0 C257.4,90.6 257.9,91.2 258.5,91.7 C259.1,92.2 260.1,92.4 260.7,92.9 C261.3,93.4 261.6,94.3 262.3,94.8 C262.9,95.3 264.3,95.8 264.8,96.0"/>
<path d="M249.8,81.1 C249.5,81.3 248.7,82.1 248.1,82.5 C247.5,83.0 246.7,83.1 246.1,83.6 C245.5,84.1 245.1,85.0 244.5,85.5 C243.9,86.0 243.1,86.3 242.3,86.7 C241.6,87.1 240.7,87.6 239.9,88.0 C239.0,88.4 238.2,89.0 237.4,89.2 C236.5,89.4 235.7,89.0 234.8,89.1 C234.0,89.2 233.1,89.7 232.4,89.8 C231.7,89.9 231.1,89.9 230.5,89.7 C229.8,89.6 229.4,89.1 228.6,89.2 C227.9,89.3 226.9,90.0 225.9,90.4 C225.0,90.7 223.9,90.8 223.0,91.1 C222.2,91.3 221.7,91.9 221.0,92.1 C220.2,92.3 219.3,92.1 218.7,92.3 C218.1,92.6 217.9,93.2 217.5,93.6 C217.0,94.0 216.5,94.4 216.2,94.8 C215.9,95.2 215.7,95.8 215.6,96.0"/>
<path d="M221.8,86.1 C221.3,86.2 219.9,86.4 219.0,86.6 C218.0,86.8 217.1,87.2 216.2,87.3 C215.3,87.5 214.5,87.5 213.7,87.4 C212.8,87.3 211.8,86.6 211.2,86.7 C210.6,86.8 210.7,87.7 210.3,88.0 C209.8,88.3 209.0,88.0 208.7,88.6 C208.4,89.1 208.8,90.3 208.6,91.2 C208.4,92.0 207.9,92.9 207.5,93.5 C207.1,94.2 206.7,94.4 206.2,94.8 C205.8,95.2 205.2,95.8 205.0,96.0"/>
<path d="M209.3,76.1 C209.0,76.3 207.9,76.7 207.2,77.0 C206.5,77.2 205.8,77.3 205.0,77.4 C204.2,77.4 203.2,77.3 202.4,77.1 C201.6,76.9 200.4,76.3 200.0,76.1"/>
<path d="M209.3,76.1 C209.6,76.4 210.1,77.3 210.6,77.7 C211.1,78.1 212.3,78.1 212.5,78.6 C212.6,79.1 211.8,80.0 211.6,80.7 C211.4,81.4 211.5,82.3 211.2,83.0 C210.9,83.6 210.3,84.1 210.0,84.7 C209.7,85.3 209.5,85.9 209.3,86.6 C209.1,87.2 208.8,88.2 208.7,88.6"/>
<path d="M200.0,61.8 C200.3,61.9 201.2,62.3 201.8,62.5 C202.5,62.7 203.1,63.0 203.7,63.0 C204.4,63.1 205.0,62.8 205.7,62.6 C206.3,62.4 206.8,61.9 207.5,61.8 C208.1,61.7 208.9,61.8 209.5,62.0 C210.1,62.2 210.8,62.6 211.2,63.0 C211.7,63.5 211.8,64.3 212.2,64.8 C212.6,65.3 213.5,65.9 213.7,66.2"/>
<path d="M200.0,83.6 C200.3,83.5 201.2,83.1 201.8,83.0 C202.4,82.9 203.1,82.8 203.7,83.0 C204.4,83.1 205.0,83.6 205.6,83.9 C206.2,84.2 206.9,84.9 207.5,84.8 C208.1,84.8 208.5,83.8 209.1,83.5 C209.8,83.2 210.9,83.1 211.2,83.0"/>
<path d="M269.7,96.0 C270.0,95.8 270.8,95.1 271.3,94.7 C271.9,94.3 272.5,94.0 273.1,93.6 C273.6,93.2 274.0,92.8 274.7,92.3 C275.4,91.8 276.3,91.2 277.2,90.7 C278.0,90.1 278.8,89.5 279.7,89.2 C280.6,88.8 281.5,88.9 282.3,88.6 C283.1,88.2 284.0,87.8 284.7,87.3 C285.3,86.8 285.6,86.1 286.2,85.7 C286.8,85.3 287.6,85.1 288.2,84.8 C288.9,84.4 289.7,83.8 290.0,83.6"/>
<path d="M290.0,54.9 C289.9,54.7 289.4,53.7 288.9,53.3 C288.4,52.9 287.8,52.6 287.2,52.5 C286.6,52.4 285.8,52.5 285.2,52.7 C284.6,52.9 283.7,53.5 283.4,53.7"/>
</g>
<g clip-path="url(#cQ)">
<path d="M295.0,48.7 C295.2,49.1 296.1,50.2 296.5,51.0 C296.9,51.9 297.1,52.8 297.5,53.6 C297.8,54.4 298.2,55.1 298.6,55.9 C299.0,56.6 299.7,57.3 299.9,58.0 C300.2,58.7 300.0,59.6 300.2,60.3 C300.4,61.0 301.2,61.6 301.2,62.4 C301.2,63.1 300.5,64.0 300.3,64.8 C300.1,65.6 300.1,66.5 299.9,67.3 C299.8,68.2 299.7,69.1 299.5,69.9 C299.3,70.7 299.0,71.5 298.7,72.3 C298.4,73.1 298.2,74.0 298.0,74.8 C297.8,75.6 297.5,76.6 297.5,77.3 C297.4,78.0 297.7,78.6 297.6,79.2 C297.5,79.9 297.0,80.7 296.8,81.0"/>
<path d="M301.2,62.4 C301.4,62.8 302.1,64.0 302.5,64.8 C302.9,65.6 303.4,66.5 303.7,67.3 C304.0,68.2 304.1,69.0 304.2,69.8 C304.3,70.6 304.3,71.5 304.3,72.3 C304.3,73.2 304.3,74.0 304.2,74.8 C304.1,75.7 303.8,76.6 303.7,77.3 C303.6,78.0 303.5,78.6 303.6,79.2 C303.7,79.9 304.2,80.7 304.3,81.0"/>
<path d="M306.8,56.1 C307.1,56.4 308.1,57.1 308.6,57.8 C309.2,58.4 309.2,59.3 309.9,59.9 C310.6,60.4 311.8,60.6 312.6,61.1 C313.4,61.6 314.2,62.6 314.9,63.0 C315.6,63.4 316.3,63.4 317.0,63.6 C317.7,63.9 318.4,64.1 319.1,64.5 C319.8,64.8 320.6,65.6 321.1,65.5 C321.6,65.4 321.7,64.3 322.1,63.7 C322.5,63.2 323.3,63.0 323.6,62.4 C323.9,61.7 323.6,60.8 323.8,60.1 C324.0,59.3 324.5,58.6 324.9,58.0 C325.2,57.4 325.7,57.0 326.1,56.5 C326.6,56.0 327.0,55.6 327.3,54.9 C327.7,54.2 327.8,53.2 328.0,52.4 C328.2,51.6 328.2,50.6 328.6,49.9 C329.0,49.2 329.9,49.0 330.5,48.4 C331.1,47.9 331.7,47.3 332.3,46.8 C332.9,46.3 333.7,45.9 334.3,45.3 C334.9,44.8 335.6,44.3 336.1,43.7 C336.5,43.1 336.4,42.3 336.8,41.7 C337.1,41.1 337.6,40.5 337.9,39.9 C338.3,39.4 338.5,39.1 338.8,38.6 C339.1,38.2 339.6,37.7 339.8,37.5"/>
<path d="M306.8,56.1 C306.8,56.5 307.0,57.6 306.9,58.2 C306.8,58.9 306.2,59.6 306.1,60.3 C306.0,60.9 306.2,61.7 306.2,62.4 C306.1,63.1 305.9,63.7 305.8,64.4 C305.7,65.1 305.7,65.8 305.6,66.5 C305.6,67.2 305.5,67.9 305.5,68.6 C305.6,69.3 305.8,70.0 305.8,70.7 C305.8,71.4 305.6,72.1 305.6,72.8 C305.7,73.5 306.1,74.1 306.2,74.8 C306.2,75.5 306.0,76.2 305.8,76.9 C305.6,77.6 305.1,78.2 304.9,78.9 C304.8,79.6 304.9,80.7 304.9,81.0"/>
<path d="M327.3,54.9 C327.8,54.9 329.0,54.7 329.8,54.7 C330.7,54.6 331.5,54.7 332.3,54.7 C333.2,54.7 333.9,54.7 334.8,54.6 C335.7,54.6 336.6,54.5 337.5,54.5 C338.4,54.4 339.3,54.3 340.2,54.3 C341.1,54.3 342.1,54.5 342.9,54.3 C343.7,54.0 344.3,53.2 345.1,52.7 C345.8,52.2 346.9,51.4 347.3,51.2"/>
<path d="M342.9,54.3 C343.0,53.8 343.4,52.4 343.5,51.5 C343.6,50.6 343.7,49.5 343.5,48.7 C343.4,47.8 342.7,47.1 342.4,46.3 C342.2,45.5 342.4,44.4 342.3,43.7 C342.2,42.9 342.0,42.4 341.8,41.8 C341.6,41.1 341.4,40.7 341.0,39.9 C340.7,39.2 340.0,37.9 339.8,37.5"/>
<path d="M321.1,65.5 C321.2,65.8 321.5,66.9 321.6,67.6 C321.7,68.4 321.7,69.0 321.7,69.8 C321.7,70.6 321.8,71.6 321.6,72.4 C321.4,73.3 320.5,74.2 320.5,74.8 C320.5,75.4 321.1,75.6 321.4,76.0 C321.7,76.5 322.4,76.8 322.4,77.3 C322.4,77.8 321.6,78.4 321.4,79.1 C321.2,79.7 321.2,80.7 321.1,81.0"/>
<path d="M322.4,77.3 C322.8,77.1 324.0,76.5 324.9,76.1 C325.7,75.7 326.5,75.1 327.3,74.8 C328.2,74.5 329.0,74.3 329.8,74.2 C330.6,74.0 331.5,74.0 332.3,73.9 C333.1,73.8 334.0,73.5 334.8,73.6 C335.6,73.6 336.4,74.2 337.2,74.3 C338.1,74.4 338.9,74.3 339.8,74.2 C340.7,74.1 341.6,73.9 342.4,73.6 C343.3,73.3 344.0,72.8 344.8,72.3 C345.6,71.9 346.4,71.4 347.2,71.0 C348.1,70.6 349.1,70.3 349.8,69.8 C350.4,69.3 350.8,68.3 351.0,68.0"/>
<path d="M322.4,77.3 C322.6,77.6 323.4,78.4 324.1,78.8 C324.7,79.2 325.3,79.4 326.1,79.8 C326.8,80.2 328.2,80.8 328.6,81.0"/>
</g>
<g clip-path="url(#cR)">
<path d="M304.9,81.0 C305.1,81.3 305.8,82.1 306.1,82.7 C306.4,83.4 306.3,84.2 306.8,84.7 C307.3,85.2 308.4,85.3 309.1,85.7 C309.9,86.1 311.0,86.7 311.2,87.2 C311.3,87.8 310.4,88.5 310.0,89.2 C309.6,89.8 309.2,90.4 308.7,91.0 C308.2,91.6 307.5,92.1 307.0,92.7 C306.5,93.3 305.9,94.0 305.5,94.7 C305.2,95.4 305.1,96.3 304.8,97.2 C304.6,98.0 304.3,98.9 304.3,99.7 C304.3,100.5 304.8,101.3 304.9,102.1 C305.0,103.0 304.8,103.8 304.9,104.7 C305.1,105.5 305.7,106.4 305.9,107.4 C306.1,108.3 305.7,109.7 306.2,110.3 C306.6,110.9 308.2,110.5 308.7,110.9 C309.2,111.3 309.0,112.1 309.1,112.7 C309.2,113.4 309.4,114.0 309.3,114.6 C309.2,115.3 308.7,115.9 308.4,116.5 C308.1,117.1 307.8,117.8 307.4,118.4 C307.0,119.0 306.5,119.5 306.1,120.2 C305.7,120.8 305.3,121.4 304.9,122.1 C304.5,122.8 303.9,124.2 303.7,124.6"/>
<path d="M311.2,87.2 C311.5,87.4 312.8,87.7 313.5,88.1 C314.3,88.5 315.4,89.2 315.5,89.7 C315.7,90.3 314.7,90.8 314.5,91.4 C314.3,92.1 314.2,92.8 314.3,93.5 C314.3,94.1 314.6,94.9 314.9,95.5 C315.2,96.1 315.7,96.6 316.1,97.2 C316.6,97.8 317.3,98.2 317.7,98.9 C318.1,99.5 318.2,100.5 318.6,100.9 C319.1,101.4 319.8,101.6 320.4,101.7 C321.0,101.8 321.8,101.8 322.4,101.5 C323.0,101.3 323.6,100.8 324.0,100.3 C324.4,99.8 324.6,99.1 324.9,98.4 C325.1,97.8 325.4,97.2 325.6,96.6 C325.8,96.0 325.7,95.2 326.1,94.7 C326.4,94.2 327.3,94.2 327.7,93.8 C328.1,93.4 328.1,92.7 328.6,92.2 C329.1,91.8 329.9,91.5 330.6,91.1 C331.2,90.7 331.7,90.1 332.3,89.7 C332.9,89.3 333.5,89.1 334.1,88.9 C334.7,88.6 335.4,88.7 336.1,88.5 C336.7,88.2 337.4,87.8 338.0,87.4 C338.7,87.0 339.6,86.5 339.8,86.0 C340.0,85.4 339.5,84.7 339.3,84.1 C339.0,83.5 338.5,82.8 338.5,82.2 C338.6,81.7 339.6,81.2 339.8,81.0"/>
<path d="M315.5,89.7 C315.8,89.4 316.5,88.5 317.1,88.1 C317.7,87.7 318.8,87.7 319.2,87.2 C319.7,86.7 319.5,85.8 319.8,85.2 C320.2,84.6 321.0,84.2 321.1,83.5 C321.2,82.8 320.6,81.4 320.5,81.0"/>
<path d="M318.6,100.9 C318.7,101.3 319.0,102.6 319.1,103.4 C319.2,104.2 319.0,105.1 319.2,105.9 C319.5,106.7 319.9,107.4 320.4,108.2 C320.8,108.9 321.2,109.6 321.7,110.3 C322.3,110.9 323.0,111.5 323.8,112.0 C324.5,112.5 325.5,112.9 326.1,113.4 C326.7,113.9 327.1,114.5 327.5,115.2 C327.9,115.8 328.2,116.4 328.6,117.1 C329.0,117.8 329.4,118.7 329.7,119.5 C330.0,120.4 330.2,121.2 330.5,122.1 C330.7,123.0 330.9,123.9 331.3,124.8 C331.7,125.6 332.6,127.0 332.9,127.1 C333.3,127.2 333.3,125.9 333.6,125.4 C333.9,124.8 334.6,124.2 334.8,124.0"/>
<path d="M322.4,101.5 C322.7,101.8 323.8,102.4 324.4,102.9 C325.0,103.4 325.7,104.1 326.1,104.7 C326.5,105.2 326.5,105.7 326.7,106.2 C326.9,106.7 326.8,107.4 327.3,107.8 C327.9,108.1 329.0,108.1 329.8,108.3 C330.6,108.4 331.5,108.4 332.3,108.4 C333.2,108.4 334.0,108.1 334.8,108.0 C335.6,107.9 336.6,107.9 337.3,107.8 C338.0,107.6 338.6,107.3 339.3,107.0 C339.9,106.7 340.4,106.1 341.0,105.9 C341.7,105.7 342.3,106.0 343.0,105.9 C343.6,105.8 344.5,105.4 344.8,105.3"/>
<path d="M326.1,104.7 C326.4,104.5 327.3,104.1 327.9,103.9 C328.5,103.6 329.1,103.5 329.8,103.4 C330.6,103.3 331.5,103.5 332.4,103.3 C333.2,103.2 334.0,102.8 334.8,102.8 C335.6,102.8 336.5,103.2 337.3,103.3 C338.1,103.4 339.1,103.4 339.8,103.4 C340.5,103.5 341.1,103.5 341.7,103.6 C342.3,103.7 343.0,103.8 343.5,104.0 C344.0,104.3 344.6,105.1 344.8,105.3"/>
<path d="M344.8,105.3 C345.1,105.2 346.2,105.0 346.8,104.7 C347.4,104.4 347.9,103.8 348.5,103.4 C349.1,103.0 349.9,102.8 350.5,102.4 C351.1,101.9 351.8,101.5 352.2,100.9 C352.7,100.4 353.0,99.6 353.4,99.0 C353.8,98.4 354.2,97.7 354.7,97.2 C355.3,96.7 356.0,96.4 356.6,96.0 C357.3,95.6 358.2,94.9 358.5,94.7"/>
<path d="M352.2,100.9 C352.3,101.3 352.2,102.6 352.3,103.4 C352.4,104.3 352.6,105.1 352.9,105.9 C353.2,106.7 353.5,107.5 354.1,108.1 C354.6,108.7 355.3,109.1 356.0,109.6 C356.6,110.2 357.3,110.8 357.9,111.5 C358.5,112.1 359.1,112.9 359.7,113.4 C360.3,113.9 361.3,114.4 361.6,114.6"/>
<path d="M344.8,105.3 C344.9,105.7 345.4,106.9 345.8,107.6 C346.2,108.3 346.9,108.9 347.3,109.6 C347.6,110.3 347.7,111.2 348.1,111.8 C348.5,112.4 349.3,112.8 349.8,113.4 C350.2,113.9 350.5,114.4 351.0,115.0 C351.4,115.5 351.6,116.1 352.2,116.5 C352.9,116.8 354.3,117.0 354.7,117.1"/>
<path d="M336.1,88.5 C336.5,88.6 337.9,88.7 338.7,89.0 C339.5,89.3 340.2,90.2 341.0,90.3 C341.8,90.5 342.7,90.2 343.5,90.1 C344.4,90.0 345.2,89.7 346.0,89.7 C346.9,89.7 347.8,89.9 348.7,90.2 C349.5,90.6 350.3,91.4 351.0,91.6 C351.7,91.8 352.4,91.6 353.0,91.4 C353.6,91.2 354.5,90.5 354.7,90.3"/>
<path d="M341.0,105.9 C340.9,106.3 340.4,107.5 340.3,108.3 C340.2,109.2 340.6,110.2 340.4,110.9 C340.2,111.6 339.6,112.0 339.2,112.6 C338.9,113.3 338.7,114.0 338.5,114.6 C338.4,115.3 338.3,115.9 338.3,116.5 C338.3,117.1 338.5,118.0 338.5,118.4"/>
<path d="M285.0,93.5 C285.3,93.3 286.2,92.8 286.8,92.6 C287.4,92.4 288.1,92.1 288.7,92.2 C289.4,92.3 289.9,92.9 290.5,93.1 C291.1,93.3 292.0,93.1 292.5,93.5 C292.9,93.8 292.9,94.8 293.2,95.4 C293.5,96.1 294.3,96.6 294.3,97.2 C294.4,97.8 293.8,98.5 293.5,99.1 C293.2,99.7 292.9,100.5 292.5,100.9 C292.1,101.4 291.5,101.3 291.1,101.7 C290.7,102.0 290.2,102.6 290.0,102.8"/>
<path d="M292.5,93.5 C292.8,93.3 293.8,93.0 294.4,92.7 C295.1,92.4 295.5,91.9 296.2,91.6 C296.9,91.3 298.0,91.2 298.8,90.9 C299.6,90.6 300.4,90.1 301.2,89.7 C302.0,89.4 302.7,89.2 303.4,88.8 C304.1,88.5 304.9,87.7 305.5,87.8 C306.2,87.9 306.6,88.9 307.1,89.4 C307.6,90.0 308.4,90.7 308.7,91.0"/>
<path d="M306.2,110.3 C305.8,110.5 304.9,111.2 304.2,111.8 C303.6,112.3 303.0,112.7 302.4,113.4 C301.9,114.0 301.5,114.9 300.9,115.5 C300.2,116.2 299.4,116.7 298.7,117.1 C298.0,117.5 297.3,117.7 296.7,118.1 C296.0,118.5 295.6,119.2 295.0,119.6 C294.4,120.0 293.8,120.1 293.1,120.3 C292.5,120.5 291.8,121.0 291.2,120.9 C290.6,120.7 290.2,119.8 289.6,119.5 C288.9,119.2 288.3,119.0 287.5,119.0 C286.7,119.0 285.4,119.5 285.0,119.6"/>
<path d="M303.7,124.6 C303.9,125.0 304.6,126.1 304.9,127.0 C305.2,127.8 305.3,128.8 305.5,129.6 C305.8,130.3 306.0,130.8 306.2,131.4 C306.4,132.0 306.7,132.7 306.8,133.3 C306.9,133.9 306.6,134.6 306.7,135.2 C306.8,135.9 307.3,136.7 307.4,137.0"/>
<path d="M308.7,118.4 C308.8,118.8 309.3,120.0 309.5,120.8 C309.7,121.6 309.6,122.5 309.9,123.3 C310.2,124.2 310.7,125.0 311.1,125.9 C311.5,126.7 312.0,127.5 312.4,128.3 C312.7,129.2 312.9,130.0 313.2,130.9 C313.5,131.7 314.0,132.6 314.3,133.3 C314.5,134.0 314.7,134.5 314.8,135.1 C314.9,135.8 314.9,136.7 314.9,137.0"/>
<path d="M291.2,120.9 C291.2,121.3 291.1,122.6 290.9,123.4 C290.7,124.2 290.3,125.0 290.0,125.8 C289.7,126.7 289.4,127.6 289.0,128.4 C288.6,129.3 288.0,130.3 287.5,130.8 C287.0,131.4 286.4,131.4 286.0,131.8 C285.6,132.2 285.2,133.1 285.0,133.3"/>
<path d="M330.5,81.0 C330.7,81.3 331.2,82.1 331.8,82.6 C332.3,83.0 332.9,83.5 333.6,83.5 C334.3,83.5 335.1,82.7 336.0,82.5 C336.8,82.3 338.1,82.3 338.5,82.2"/>
</g>
<g clip-path="url(#cS)">
<path d="M297.9,164.2 C298.3,164.0 299.5,163.2 300.4,162.8 C301.2,162.4 302.2,162.1 303.0,161.8 C303.8,161.5 304.3,161.2 304.9,161.0 C305.6,160.8 306.3,160.5 306.9,160.4 C307.6,160.2 308.2,160.0 309.0,160.0 C309.8,160.0 310.7,160.2 311.5,160.2 C312.3,160.3 313.3,160.1 314.0,160.2 C314.7,160.3 315.2,160.6 315.9,160.8 C316.5,160.9 317.5,161.0 317.8,161.1"/>
<path d="M303.0,161.8 C302.8,161.4 302.2,160.3 302.1,159.5 C301.9,158.7 301.9,157.8 302.0,157.0 C302.1,156.2 302.5,155.3 302.9,154.4 C303.2,153.6 304.1,152.8 304.0,152.0 C303.9,151.2 302.8,150.5 302.4,149.7 C302.0,148.8 301.5,147.8 301.5,147.0 C301.5,146.2 302.4,145.4 302.6,144.6 C302.9,143.8 303.1,142.8 303.0,142.0 C302.9,141.2 302.3,140.6 301.9,139.9 C301.5,139.3 300.7,138.3 300.5,138.0"/>
<path d="M309.0,160.0 C309.2,159.6 310.1,158.5 310.4,157.7 C310.8,156.8 310.6,155.6 311.0,155.0 C311.4,154.4 312.4,154.5 313.0,154.1 C313.6,153.7 313.9,152.9 314.5,152.5 C315.1,152.1 316.3,151.8 316.7,151.7"/>
</g>
<path d="M292.1,156.4 H255.7 L254.8,161.6 L253.9,167.8 L253,174.9 L251.7,183.1 H297.4" stroke="#2c667c" stroke-width="0.95"/><path d="M292.1,156.4 L293.4,158.9 L296.6,160.7 L297.9,164.2 L298.3,167.8 L297,171.3 L295.7,175.8 L295.7,180.2 L297.4,182.9"/>
</g>
</defs>
<rect x="0" y="0" width="1092" height="450" fill="#fff"/>
<rect x="0" y="0" width="1" height="450" fill="#000"/><rect x="4.5" y="2.5" width="1084.9" height="444.8" fill="none" stroke="#dedede" stroke-width="1"/><line x1="4" y1="2.5" x2="1089" y2="2.5" stroke="#bdbdbd" stroke-width="1"/>
<!-- map 1 : El Nino -->
<g transform="translate(0,0)">
<use href="#st" fill="#3cacc4"/>
<g clip-path="url(#cp)"><path d="M303.7,57.0 C304.2,54.1 303.1,54.7 305.0,52.0 C306.9,49.3 306.7,50.0 310.0,48.0 C313.3,46.0 312.4,46.4 316.1,45.5 C319.8,44.6 319.4,45.6 322.4,44.9 C325.4,44.1 323.1,44.3 326.1,43.0 C329.1,41.7 328.6,41.9 332.3,40.6 C336.0,39.3 335.9,39.8 338.5,38.7 C341.1,37.6 339.5,37.6 341.0,36.8 C342.5,36.0 342.0,37.1 343.5,36.0 C345.0,34.9 335.1,36.3 346.0,33.0 C356.9,29.7 369.8,-7.1 380.0,25.0 C390.2,57.1 392.9,105.5 380.0,140.0 C367.1,174.5 352.0,141.7 337.0,140.0 C322.0,138.3 333.6,137.0 330.0,134.5 C326.4,132.0 328.5,133.6 325.0,131.7 C321.5,129.8 322.3,130.1 318.3,128.3 C314.3,126.5 315.7,127.5 311.7,125.8 C307.7,124.1 309.0,124.5 305.0,122.5 C301.0,120.5 302.3,121.5 298.3,119.2 C294.3,117.0 295.2,117.8 291.7,115.0 C288.2,112.2 289.2,113.5 286.7,110.0 C284.2,106.5 284.6,107.3 283.3,103.3 C282.0,99.3 282.0,100.2 282.5,96.7 C283.0,93.2 282.2,94.0 285.0,91.7 C287.8,89.5 287.7,90.8 291.7,89.2 C295.7,87.6 294.9,88.8 298.3,86.5 C301.7,84.2 301.2,85.2 303.0,81.7 C304.8,78.2 303.8,79.0 304.2,75.0 C304.6,71.0 304.5,72.3 304.2,68.3 C303.9,64.3 303.3,65.1 303.2,61.7 C303.1,58.3 303.2,59.9 303.7,57.0Z" fill="#7fcdbb"/>
<path d="M318.6,71.7 C318.8,70.2 319.0,70.9 321.1,69.2 C323.2,67.5 322.4,69.0 324.9,66.7 C327.4,64.4 326.1,65.1 328.6,62.4 C331.1,59.7 329.4,60.7 332.3,58.6 C335.2,56.5 333.6,57.1 337.3,56.1 C341.0,55.1 340.4,54.9 343.5,55.5 C346.6,56.1 345.3,55.7 346.6,58.0 C347.9,60.3 347.5,59.3 347.3,62.4 C347.1,65.5 347.7,64.6 346.0,67.3 C344.3,70.0 345.2,68.8 342.3,70.5 C339.4,72.2 341.0,71.5 337.3,72.3 C333.6,73.1 335.2,72.7 331.1,72.9 C327.0,73.1 328.4,72.7 324.9,72.9 C321.4,73.1 322.6,74.0 320.5,73.6 C318.4,73.2 318.4,73.2 318.6,71.7Z" fill="#d3edb8"/>
<ellipse cx="311.7" cy="105.8" rx="2.1" ry="2" fill="#c7e9b4"/>
<ellipse cx="306.3" cy="78.5" rx="1.5" ry="1.5" fill="#c7e9b4"/>
<ellipse cx="290" cy="73.3" rx="4.8" ry="4.8" fill="#2b7bb6"/>
<path d="M217.5,74.0 C217.7,68.3 216.8,69.8 220.0,65.0 C223.2,60.2 221.7,61.7 227.0,59.5 C232.3,57.3 230.0,58.0 236.0,58.5 C242.0,59.0 240.5,57.5 245.0,61.0 C249.5,64.5 248.3,63.0 249.5,69.0 C250.7,75.0 250.7,73.2 248.5,79.0 C246.3,84.8 247.8,83.0 243.0,86.5 C238.2,90.0 240.0,89.2 234.0,89.5 C228.0,89.8 229.8,90.0 225.0,87.5 C220.2,85.0 222.0,86.5 219.5,82.0 C217.0,77.5 217.3,79.7 217.5,74.0Z" fill="#2b7bb6"/>
<path d="M223.0,75.0 C222.5,70.0 222.7,70.8 226.0,67.0 C229.3,63.2 228.0,64.2 233.0,63.5 C238.0,62.8 237.2,62.2 241.0,65.0 C244.8,67.8 244.2,67.0 244.5,72.0 C244.8,77.0 245.2,76.0 242.0,80.0 C238.8,84.0 239.8,83.3 235.0,84.0 C230.2,84.7 231.5,85.0 227.5,82.0 C223.5,79.0 223.5,80.0 223.0,75.0Z" fill="#2a68ad"/>
<ellipse cx="237" cy="72.5" rx="7" ry="6.6" fill="#253494"/>
<path d="M218.3,123.3 C219.3,120.0 218.4,120.0 221.7,117.5 C225.0,115.0 223.9,115.5 228.3,115.8 C232.7,116.1 231.1,115.5 235.0,118.3 C238.9,121.1 237.2,121.1 240.0,124.2 C242.8,127.3 240.0,127.0 243.3,127.5 C246.6,128.0 245.0,126.9 250.0,125.8 C255.0,124.7 253.3,124.5 258.3,124.2 C263.3,123.9 261.1,123.3 265.0,125.0 C268.9,126.7 268.1,125.9 270.0,129.2 C271.9,132.5 271.4,131.4 270.8,135.0 C270.2,138.6 270.8,137.5 268.3,140.0 C265.8,142.5 267.2,141.7 263.3,142.5 C259.4,143.3 261.1,143.3 256.7,142.5 C252.3,141.7 253.9,141.9 250.0,140.0 C246.1,138.1 247.8,139.5 245.0,136.7 C242.2,133.9 245.0,133.7 241.7,131.7 C238.4,129.7 239.5,130.5 235.0,130.8 C230.5,131.1 232.7,132.5 228.3,132.5 C223.9,132.5 224.9,132.5 221.7,130.8 C218.5,129.1 219.8,130.0 218.7,127.5 C217.6,125.0 217.3,126.6 218.3,123.3Z" fill="#7fcdbb"/>
<path d="M276.7,151.7 C278.4,149.5 278.6,149.2 281.7,148.3 C284.8,147.4 284.8,147.4 288.3,148.3 C291.8,149.2 291.3,149.9 295.0,151.7 C298.7,153.5 298.3,152.9 302.0,155.0 C305.7,157.1 306.2,156.8 309.0,159.5 C311.8,162.2 312.2,161.8 312.5,165.0 C312.8,168.2 312.3,168.7 310.0,171.5 C307.7,174.3 306.3,173.9 303.7,175.5 C301.1,177.1 302.5,176.5 300.1,177.6 C297.7,178.7 297.7,179.0 294.8,179.8 C291.9,180.6 293.2,180.5 289.4,180.7 C285.6,180.9 284.4,180.9 280.6,180.7 C276.8,180.5 277.6,180.6 275.2,179.8 C272.8,179.0 273.0,179.4 271.7,177.6 C270.4,175.8 271.0,175.7 270.3,173.1 C269.6,170.5 269.8,169.5 269.0,167.8 C268.2,166.1 267.9,167.7 267.2,166.9 C266.5,166.1 266.1,165.4 266.3,164.7 C266.5,164.0 266.9,164.0 268.1,164.2 C269.3,164.4 269.1,165.4 270.8,165.6 C272.5,165.8 272.4,165.7 274.3,165.1 C276.2,164.5 277.5,164.7 277.9,163.3 C278.3,161.9 276.4,161.6 275.7,159.8 C275.0,158.0 274.9,158.6 275.2,156.4 C275.5,154.2 275.0,153.9 276.7,151.7Z" fill="#7fcdbb"/>
<path d="M137.8,142.2 C138.9,138.1 137.8,140.0 141.1,137.8 C144.4,135.6 143.4,135.2 147.8,135.6 C152.2,136.0 150.3,135.2 154.4,138.9 C158.5,142.6 157.4,141.9 160.0,146.7 C162.6,151.5 160.3,149.2 162.2,153.3 C164.1,157.4 161.5,156.3 165.6,158.9 C169.7,161.5 167.7,159.3 174.4,161.1 C181.1,162.9 178.2,163.8 185.6,164.4 C193.0,165.0 188.6,163.6 196.7,163.0 C204.8,162.4 202.6,161.3 210.0,162.5 C217.4,163.7 214.6,163.1 218.9,166.7 C223.2,170.3 221.9,167.4 222.8,173.3 C223.7,179.2 223.5,177.7 221.5,184.4 C219.5,191.1 220.5,188.8 216.7,193.3 C212.9,197.8 215.2,197.0 210.0,197.8 C204.8,198.6 206.3,197.8 201.1,195.6 C195.9,193.4 200.3,193.3 194.4,191.1 C188.5,188.9 190.7,189.6 183.3,188.9 C175.9,188.2 178.9,191.1 172.2,188.9 C165.5,186.7 167.7,187.4 163.3,182.2 C158.9,177.0 161.5,179.2 158.9,173.3 C156.3,167.4 159.3,168.5 155.6,164.4 C151.9,160.3 152.6,163.7 147.8,161.1 C143.0,158.5 144.4,160.4 141.1,156.7 C137.8,153.0 138.9,154.8 137.8,150.0 C136.7,145.2 136.7,146.3 137.8,142.2Z" fill="#2b7bb6"/>
<ellipse cx="187.5" cy="120.5" rx="10.5" ry="9.5" fill="#2b7bb6"/>
<ellipse cx="141.1" cy="121.1" rx="1.6" ry="2" fill="#2b7bb6"/>
<ellipse cx="177.7" cy="181" rx="2.2" ry="1.8" fill="#253494"/>
<path d="M90.0,195.8 C91.7,193.0 90.6,194.2 95.0,192.5 C99.4,190.8 97.2,191.1 103.3,190.8 C109.4,190.5 107.2,190.9 113.3,191.7 C119.4,192.5 117.8,191.6 121.7,193.3 C125.6,195.0 125.0,193.9 125.0,196.7 C125.0,199.5 125.0,198.9 121.7,201.7 C118.4,204.5 120.0,203.3 115.0,205.0 C110.0,206.7 111.7,205.6 106.7,206.7 C101.7,207.8 104.5,208.6 100.0,208.3 C95.5,208.0 96.6,208.3 93.3,205.8 C90.0,203.3 91.1,204.1 90.0,200.8 C88.9,197.5 88.3,198.6 90.0,195.8Z" fill="#2b7bb6"/>
<path d="M185.0,194.2 C189.5,190.9 187.3,192.0 191.7,191.7 C196.1,191.4 195.5,190.8 198.3,193.3 C201.1,195.8 200.5,195.3 200.0,199.2 C199.5,203.1 199.5,201.4 196.7,205.0 C193.9,208.6 195.0,206.4 191.7,210.0 C188.4,213.6 190.0,211.6 186.7,215.8 C183.4,220.0 184.5,217.8 181.7,222.5 C178.9,227.2 180.0,224.7 178.3,230.0 C176.6,235.3 177.8,233.0 176.7,238.3 C175.6,243.6 177.2,242.2 175.0,245.8 C172.8,249.4 173.9,248.9 170.0,249.2 C166.1,249.5 167.5,249.8 163.3,246.7 C159.1,243.6 160.3,244.5 157.5,240.0 C154.7,235.5 155.6,237.7 155.0,233.3 C154.4,228.9 154.4,230.9 155.8,226.7 C157.2,222.5 156.1,224.7 159.2,220.8 C162.3,216.9 160.8,219.2 165.0,215.0 C169.2,210.8 167.3,212.7 171.7,208.3 C176.1,203.9 173.9,206.4 178.3,201.7 C182.7,197.0 180.5,197.5 185.0,194.2Z" fill="#7fcdbb"/>
<ellipse cx="150" cy="275.8" rx="10" ry="10" fill="#7fcdbb"/>
<ellipse cx="225" cy="287.5" rx="10" ry="10" fill="#7fcdbb"/>
<path d="M209.2,241 A5.8,6.8 0 0 1 220.8,241 Z" fill="#2b7bb6"/>
<path d="M45.0,296.7 C45.5,294.8 45.5,293.7 48.3,294.2 C51.1,294.7 49.4,297.2 53.3,298.3 C57.2,299.4 55.5,297.8 60.0,297.5 C64.5,297.2 63.1,296.7 66.7,297.5 C70.3,298.3 69.1,297.8 70.8,300.0 C72.5,302.2 72.8,301.7 71.7,304.2 C70.6,306.7 70.8,306.4 67.5,307.5 C64.2,308.6 65.3,308.3 61.7,307.5 C58.1,306.7 60.0,306.9 56.7,305.0 C53.4,303.1 55.0,303.4 51.7,301.7 C48.4,300.0 48.9,301.7 46.7,300.0 C44.5,298.3 44.5,298.6 45.0,296.7Z" fill="#2b7bb6"/>
<ellipse cx="113.3" cy="330.8" rx="3.8" ry="3.4" fill="#2b7bb6"/>
<ellipse cx="18.3" cy="246.7" rx="3.8" ry="3.4" fill="#2b7bb6"/>
<ellipse cx="43.3" cy="256.7" rx="3" ry="3" fill="#7fcdbb"/>
<ellipse cx="159.3" cy="63.2" rx="2.3" ry="2.3" fill="#7fcdbb"/>
<ellipse cx="133.4" cy="99.4" rx="2.1" ry="2.1" fill="#7fcdbb"/></g>
<use href="#muni"/>
<use href="#st" fill="none" stroke="#0a161c" stroke-width="0.8"/>
<line x1="149.0" y1="44.8" x2="164.0" y2="44.8" stroke="#1d3d4a" stroke-width="0.6" stroke-opacity="0.75"/>
<line x1="174.5" y1="51.6" x2="187.0" y2="51.6" stroke="#1d3d4a" stroke-width="0.6" stroke-opacity="0.75"/>
<line x1="198.0" y1="52.8" x2="213.0" y2="52.8" stroke="#1d3d4a" stroke-width="0.6" stroke-opacity="0.75"/>
<line x1="221.0" y1="59.8" x2="236.0" y2="59.8" stroke="#1d3d4a" stroke-width="0.6" stroke-opacity="0.75"/>
<line x1="205.0" y1="77.8" x2="220.0" y2="77.8" stroke="#1d3d4a" stroke-width="0.6" stroke-opacity="0.75"/>
<line x1="230.0" y1="81.8" x2="245.0" y2="81.8" stroke="#1d3d4a" stroke-width="0.6" stroke-opacity="0.75"/>
<line x1="177.0" y1="101.5" x2="192.0" y2="101.5" stroke="#1d3d4a" stroke-width="0.6" stroke-opacity="0.75"/>
<line x1="205.0" y1="106.2" x2="220.0" y2="106.2" stroke="#1d3d4a" stroke-width="0.6" stroke-opacity="0.75"/>
<line x1="184.0" y1="116.8" x2="199.0" y2="116.8" stroke="#1d3d4a" stroke-width="0.6" stroke-opacity="0.75"/>
<line x1="158.0" y1="117.6" x2="173.0" y2="117.6" stroke="#1d3d4a" stroke-width="0.6" stroke-opacity="0.75"/>
<line x1="133.0" y1="127.3" x2="148.0" y2="127.3" stroke="#1d3d4a" stroke-width="0.6" stroke-opacity="0.75"/>
<line x1="330.8" y1="65.3" x2="345.8" y2="65.3" stroke="#1d3d4a" stroke-width="0.6" stroke-opacity="0.75"/>
<line x1="295.0" y1="71.3" x2="308.5" y2="71.3" stroke="#1d3d4a" stroke-width="0.6" stroke-opacity="0.75"/>
<line x1="305.0" y1="76.3" x2="320.0" y2="76.3" stroke="#1d3d4a" stroke-width="0.6" stroke-opacity="0.75"/>
<line x1="164.0" y1="136.5" x2="179.0" y2="136.5" stroke="#1d3d4a" stroke-width="0.6" stroke-opacity="0.75"/>
<line x1="143.0" y1="156.8" x2="158.0" y2="156.8" stroke="#1d3d4a" stroke-width="0.6" stroke-opacity="0.75"/>
<line x1="105.8" y1="168.0" x2="120.0" y2="168.0" stroke="#1d3d4a" stroke-width="0.6" stroke-opacity="0.75"/>
<line x1="85.0" y1="180.0" x2="100.0" y2="180.0" stroke="#1d3d4a" stroke-width="0.6" stroke-opacity="0.75"/>
<line x1="40.8" y1="223.6" x2="56.0" y2="223.6" stroke="#1d3d4a" stroke-width="0.6" stroke-opacity="0.75"/>
<line x1="189.0" y1="227.2" x2="204.0" y2="227.2" stroke="#1d3d4a" stroke-width="0.6" stroke-opacity="0.75"/>
<line x1="98.0" y1="333.0" x2="112.0" y2="333.0" stroke="#1d3d4a" stroke-width="0.6" stroke-opacity="0.75"/>
<line x1="55.0" y1="290.3" x2="70.0" y2="290.3" stroke="#1d3d4a" stroke-width="0.6" stroke-opacity="0.75"/>
<line x1="62.5" y1="318.0" x2="78.0" y2="318.0" stroke="#1d3d4a" stroke-width="0.6" stroke-opacity="0.75"/>
<line x1="267.8" y1="295.8" x2="283.0" y2="295.8" stroke="#1d3d4a" stroke-width="0.6" stroke-opacity="0.75"/>
<rect x="149.2" y="41.7" width="5.0" height="3.3" fill="#fde92f"/>
<rect x="174.5" y="45.0" width="4.7" height="6.7" fill="#fde92f"/>
<rect x="198.0" y="48.0" width="5.0" height="5.0" fill="#fde92f"/>
<rect x="221.2" y="53.3" width="5.0" height="6.7" fill="#fde92f"/>
<rect x="205.0" y="73.0" width="5.0" height="5.0" fill="#fde92f"/>
<rect x="230.3" y="75.8" width="4.7" height="6.2" fill="#fde92f"/>
<rect x="177.0" y="98.3" width="5.0" height="3.4" fill="#fde92f"/>
<rect x="205.0" y="103.0" width="5.0" height="3.3" fill="#fde92f"/>
<rect x="184.2" y="108.7" width="5.0" height="8.3" fill="#fde92f"/>
<rect x="158.0" y="112.8" width="5.0" height="5.0" fill="#fde92f"/>
<rect x="133.0" y="122.5" width="5.0" height="5.0" fill="#fde92f"/>
<rect x="238.0" y="107.0" width="5.3" height="3.0" fill="#fde92f"/>
<rect x="243.3" y="107.8" width="4.5" height="2.2" fill="#128040"/>
<rect x="247.8" y="106.7" width="5.5" height="3.3" fill="#6a2a21"/>
<rect x="334.2" y="32.0" width="5.5" height="8.0" fill="#128040"/>
<rect x="335.3" y="58.7" width="5.5" height="6.6" fill="#128040"/>
<rect x="299.2" y="66.7" width="5.5" height="4.6" fill="#128040"/>
<rect x="310.0" y="73.0" width="5.3" height="3.3" fill="#128040"/>
<rect x="285.3" y="107.5" width="5.0" height="3.8" fill="#fde92f"/>
<rect x="290.3" y="104.7" width="5.0" height="6.6" fill="#128040"/>
<rect x="295.3" y="108.0" width="5.2" height="3.3" fill="#6a2a21"/>
<rect x="342.2" y="118.3" width="5.0" height="5.0" fill="#fde92f"/>
<rect x="347.2" y="120.0" width="5.3" height="3.3" fill="#128040"/>
<rect x="352.5" y="116.3" width="5.3" height="7.0" fill="#6a2a21"/>
<rect x="164.2" y="133.0" width="5.0" height="3.7" fill="#fde92f"/>
<rect x="123.8" y="151.7" width="5.0" height="1.6" fill="#fde92f"/>
<rect x="128.8" y="148.3" width="5.0" height="5.0" fill="#128040"/>
<rect x="143.0" y="150.3" width="5.0" height="6.7" fill="#fde92f"/>
<rect x="115.0" y="161.7" width="5.0" height="6.3" fill="#6a2a21"/>
<rect x="85.0" y="175.0" width="5.0" height="5.0" fill="#fde92f"/>
<rect x="90.0" y="173.3" width="5.0" height="6.7" fill="#128040"/>
<rect x="163.7" y="158.0" width="4.6" height="3.7" fill="#fde92f"/>
<rect x="168.3" y="156.3" width="5.4" height="5.4" fill="#128040"/>
<rect x="178.0" y="158.8" width="5.3" height="5.4" fill="#fde92f"/>
<rect x="183.3" y="157.5" width="5.4" height="6.7" fill="#128040"/>
<rect x="169.7" y="180.3" width="5.3" height="8.4" fill="#fde92f"/>
<rect x="175.0" y="182.0" width="5.0" height="6.7" fill="#128040"/>
<rect x="180.0" y="184.2" width="5.0" height="4.5" fill="#6a2a21"/>
<rect x="183.7" y="110.0" width="5.5" height="6.7" fill="#fde92f"/>
<rect x="200.8" y="142.8" width="5.4" height="6.4" fill="#fde92f"/>
<rect x="211.7" y="144.2" width="5.0" height="5.0" fill="#6a2a21"/>
<rect x="190.8" y="164.7" width="5.0" height="5.0" fill="#fde92f"/>
<rect x="195.8" y="163.0" width="5.0" height="6.7" fill="#128040"/>
<rect x="208.7" y="168.3" width="5.3" height="6.7" fill="#fde92f"/>
<rect x="267.2" y="171.2" width="5.0" height="3.0" fill="#fde92f"/>
<rect x="272.2" y="169.2" width="5.3" height="5.0" fill="#128040"/>
<rect x="277.5" y="166.2" width="5.3" height="8.0" fill="#6a2a21"/>
<rect x="234.2" y="184.5" width="5.0" height="3.0" fill="#fde92f"/>
<rect x="239.2" y="184.5" width="5.3" height="3.0" fill="#128040"/>
<rect x="244.5" y="182.8" width="5.2" height="4.7" fill="#6a2a21"/>
<rect x="306.7" y="166.2" width="4.4" height="6.0" fill="#fde92f"/>
<rect x="311.1" y="167.8" width="5.1" height="4.4" fill="#128040"/>
<rect x="316.2" y="166.0" width="4.9" height="6.2" fill="#6a2a21"/>
<rect x="40.8" y="215.5" width="5.0" height="8.2" fill="#fde92f"/>
<rect x="73.8" y="229.7" width="4.5" height="2.3" fill="#fde92f"/>
<rect x="78.3" y="226.7" width="5.5" height="5.3" fill="#128040"/>
<rect x="83.8" y="228.7" width="4.9" height="3.3" fill="#6a2a21"/>
<rect x="13.3" y="239.2" width="5.0" height="5.0" fill="#fde92f"/>
<rect x="23.0" y="237.5" width="5.3" height="6.7" fill="#6a2a21"/>
<rect x="103.7" y="242.5" width="5.0" height="3.3" fill="#fde92f"/>
<rect x="108.7" y="242.5" width="5.5" height="3.3" fill="#128040"/>
<rect x="114.2" y="242.8" width="5.0" height="3.0" fill="#6a2a21"/>
<rect x="27.8" y="257.5" width="5.0" height="3.3" fill="#fde92f"/>
<rect x="32.8" y="256.2" width="5.0" height="4.6" fill="#128040"/>
<rect x="37.8" y="257.8" width="5.0" height="3.0" fill="#6a2a21"/>
<rect x="198.7" y="189.7" width="5.0" height="6.6" fill="#fde92f"/>
<rect x="184.5" y="193.3" width="5.0" height="4.7" fill="#fde92f"/>
<rect x="189.5" y="193.0" width="5.0" height="5.0" fill="#128040"/>
<rect x="162.8" y="197.5" width="5.0" height="4.7" fill="#fde92f"/>
<rect x="167.8" y="197.5" width="5.0" height="4.7" fill="#128040"/>
<rect x="154.7" y="206.7" width="5.0" height="5.0" fill="#fde92f"/>
<rect x="165.0" y="205.3" width="5.0" height="6.4" fill="#6a2a21"/>
<rect x="183.0" y="207.8" width="5.0" height="8.0" fill="#fde92f"/>
<rect x="188.3" y="214.2" width="4.7" height="1.6" fill="#128040"/>
<rect x="206.2" y="205.5" width="5.0" height="3.3" fill="#fde92f"/>
<rect x="216.3" y="202.2" width="5.0" height="6.6" fill="#6a2a21"/>
<rect x="163.8" y="220.5" width="5.0" height="3.3" fill="#fde92f"/>
<rect x="168.8" y="220.5" width="5.0" height="3.3" fill="#128040"/>
<rect x="173.8" y="215.8" width="5.5" height="8.0" fill="#6a2a21"/>
<rect x="189.2" y="225.5" width="4.6" height="1.7" fill="#fde92f"/>
<rect x="179.7" y="230.3" width="5.0" height="4.7" fill="#fde92f"/>
<rect x="192.0" y="238.7" width="5.0" height="3.3" fill="#fde92f"/>
<rect x="130.0" y="232.0" width="5.3" height="3.0" fill="#fde92f"/>
<rect x="135.3" y="227.0" width="5.4" height="8.0" fill="#128040"/>
<rect x="140.7" y="230.3" width="5.1" height="4.7" fill="#6a2a21"/>
<rect x="209.7" y="243.3" width="5.0" height="4.7" fill="#fde92f"/>
<rect x="214.7" y="241.7" width="5.3" height="6.3" fill="#128040"/>
<rect x="220.0" y="243.3" width="5.0" height="4.7" fill="#6a2a21"/>
<rect x="145.3" y="250.0" width="5.0" height="3.0" fill="#fde92f"/>
<rect x="150.3" y="248.3" width="5.0" height="4.7" fill="#128040"/>
<rect x="155.3" y="248.3" width="5.5" height="4.7" fill="#6a2a21"/>
<rect x="162.8" y="253.7" width="5.0" height="1.3" fill="#fde92f"/>
<rect x="173.0" y="248.8" width="5.0" height="6.2" fill="#6a2a21"/>
<rect x="183.3" y="253.8" width="5.0" height="5.0" fill="#fde92f"/>
<rect x="188.3" y="253.8" width="5.0" height="5.0" fill="#128040"/>
<rect x="193.3" y="250.5" width="5.4" height="8.3" fill="#6a2a21"/>
<rect x="179.7" y="265.0" width="5.0" height="4.7" fill="#fde92f"/>
<rect x="184.7" y="265.0" width="5.0" height="4.7" fill="#128040"/>
<rect x="189.7" y="265.0" width="5.3" height="4.7" fill="#6a2a21"/>
<rect x="203.0" y="265.5" width="5.0" height="2.8" fill="#fde92f"/>
<rect x="208.0" y="263.8" width="5.0" height="4.5" fill="#128040"/>
<rect x="213.0" y="263.8" width="5.7" height="4.5" fill="#6a2a21"/>
<rect x="177.5" y="274.5" width="5.0" height="4.7" fill="#fde92f"/>
<rect x="182.5" y="274.5" width="5.0" height="4.7" fill="#128040"/>
<rect x="187.5" y="274.5" width="5.3" height="4.7" fill="#6a2a21"/>
<rect x="223.8" y="274.2" width="5.4" height="4.6" fill="#fde92f"/>
<rect x="219.2" y="278.3" width="5.0" height="9.2" fill="#6a2a21"/>
<rect x="209.2" y="284.7" width="5.0" height="3.3" fill="#fde92f"/>
<rect x="154.2" y="274.2" width="5.0" height="9.1" fill="#6a2a21"/>
<rect x="143.3" y="280.3" width="5.0" height="3.5" fill="#fde92f"/>
<rect x="188.8" y="293.8" width="5.4" height="5.0" fill="#fde92f"/>
<rect x="194.2" y="292.5" width="5.0" height="6.3" fill="#128040"/>
<rect x="199.2" y="289.2" width="5.3" height="9.6" fill="#6a2a21"/>
<rect x="135.8" y="295.0" width="5.0" height="5.8" fill="#fde92f"/>
<rect x="140.8" y="296.2" width="5.0" height="4.6" fill="#128040"/>
<rect x="145.8" y="296.2" width="5.0" height="4.6" fill="#6a2a21"/>
<rect x="110.8" y="263.0" width="5.0" height="5.0" fill="#fde92f"/>
<rect x="115.8" y="261.3" width="5.4" height="6.7" fill="#128040"/>
<rect x="121.2" y="266.2" width="5.1" height="1.8" fill="#6a2a21"/>
<rect x="77.8" y="270.3" width="5.0" height="4.7" fill="#fde92f"/>
<rect x="82.8" y="272.0" width="5.0" height="3.0" fill="#128040"/>
<rect x="87.8" y="273.7" width="5.0" height="1.3" fill="#6a2a21"/>
<rect x="54.5" y="285.5" width="5.0" height="4.8" fill="#fde92f"/>
<rect x="64.7" y="288.7" width="5.0" height="1.6" fill="#6a2a21"/>
<rect x="34.5" y="298.0" width="5.0" height="2.8" fill="#fde92f"/>
<rect x="39.5" y="299.2" width="5.0" height="1.6" fill="#128040"/>
<rect x="44.5" y="297.8" width="5.2" height="3.0" fill="#6a2a21"/>
<rect x="62.5" y="310.0" width="5.0" height="8.0" fill="#fde92f"/>
<rect x="73.0" y="311.7" width="5.0" height="6.3" fill="#6a2a21"/>
<rect x="97.5" y="327.0" width="5.0" height="6.0" fill="#fde92f"/>
<rect x="267.8" y="291.2" width="5.0" height="4.6" fill="#fde92f"/>
</g>
<!-- map 2 : La Nina -->
<g transform="translate(357.7,0)">
<use href="#st" fill="#3cacc4"/>
<g clip-path="url(#cp)"><path d="M225.3,28.0 C218.1,32.6 223.8,31.8 220.6,35.8 C217.4,39.8 219.5,37.5 215.6,40.0 C211.7,42.5 214.0,41.1 209.0,43.3 C204.0,45.5 206.2,44.2 200.6,46.7 C195.0,49.2 197.8,48.0 192.3,50.8 C186.8,53.6 189.6,51.4 184.0,55.0 C178.4,58.6 180.3,57.3 175.6,61.7 C170.9,66.1 172.8,63.3 169.8,68.3 C166.8,73.3 168.4,70.6 166.5,76.7 C164.6,82.8 166.1,81.6 164.0,86.7 C161.9,91.8 166.4,87.9 160.3,92.0 C154.2,96.1 154.9,94.0 145.6,98.9 C136.3,103.8 139.7,101.5 132.3,106.7 C124.9,111.9 128.6,107.4 123.4,114.4 C118.2,121.4 120.0,118.9 116.7,127.8 C113.4,136.7 116.3,132.2 113.4,141.1 C110.5,150.0 111.0,148.1 107.9,154.4 C104.8,160.7 106.4,155.9 104.0,160.0 C101.6,164.1 102.8,161.7 100.6,166.7 C98.4,171.7 99.0,169.5 97.3,175.0 C95.6,180.5 95.6,178.3 95.6,183.3 C95.6,188.3 95.1,186.8 97.3,190.0 C99.5,193.2 97.9,191.3 102.3,192.8 C106.7,194.3 105.0,193.7 110.6,194.5 C116.2,195.3 114.0,195.3 119.0,195.3 C124.0,195.3 120.6,195.3 125.6,194.5 C130.6,193.7 128.4,193.5 134.0,193.0 C139.6,192.5 137.1,191.8 142.3,193.0 C147.5,194.2 144.1,194.2 149.5,196.7 C154.9,199.2 152.5,198.6 158.4,200.5 C164.3,202.4 162.1,201.8 167.3,202.5 C172.5,203.2 167.9,203.1 174.0,202.5 C180.1,201.9 178.4,201.6 185.6,200.8 C192.8,200.0 190.6,199.7 195.6,200.0 C200.6,200.3 198.1,199.5 200.6,201.7 C203.1,203.9 202.8,202.8 203.1,206.7 C203.4,210.6 202.6,208.9 201.5,213.3 C200.4,217.7 199.8,215.0 199.8,220.0 C199.8,225.0 199.6,223.3 201.5,228.3 C203.4,233.3 203.1,231.1 205.6,235.0 C208.1,238.9 206.2,236.7 209.0,240.0 C211.8,243.3 209.6,241.7 214.0,245.0 C218.4,248.3 216.2,248.1 222.3,250.0 C228.4,251.9 225.6,251.4 232.3,250.8 C239.0,250.2 236.7,251.3 242.3,248.3 C247.9,245.3 245.1,246.7 249.0,241.7 C252.9,236.7 251.2,239.4 254.0,233.3 C256.8,227.2 255.6,230.0 257.3,223.3 C259.0,216.6 258.2,220.0 259.0,213.3 C259.8,206.6 259.0,210.0 259.8,203.3 C260.6,196.6 259.6,199.4 261.5,193.3 C263.4,187.2 265.0,190.8 265.6,185.0 C266.2,179.2 267.0,181.7 263.3,176.0 C259.6,170.3 260.4,172.4 254.5,167.8 C248.6,163.2 251.5,166.7 245.6,162.2 C239.7,157.7 241.9,159.9 236.7,154.4 C231.5,148.9 233.4,152.3 230.1,145.6 C226.8,138.9 227.4,140.8 226.7,134.4 C226.0,128.0 225.3,128.7 227.9,126.5 C230.5,124.3 228.6,127.7 234.5,127.8 C240.4,127.9 238.2,128.2 245.6,126.7 C253.0,125.2 250.0,126.6 256.7,123.3 C263.4,120.0 261.9,121.1 265.6,116.7 C269.3,112.3 267.2,113.7 267.9,110.0 C268.6,106.3 267.4,111.1 267.7,105.5 C268.0,99.9 266.9,101.0 268.9,93.3 C270.9,85.6 269.7,87.6 273.8,82.3 C277.9,77.0 276.7,81.1 281.2,77.4 C285.7,73.7 287.3,76.6 287.3,71.3 C287.3,66.0 285.7,68.0 281.2,61.5 C276.7,55.0 278.1,57.3 273.8,51.8 C269.5,46.3 273.5,50.3 268.3,45.0 C263.1,39.7 267.0,43.7 258.3,36.0 C249.6,28.3 253.3,24.7 242.3,22.0 C231.3,19.3 232.5,23.4 225.3,28.0Z" fill="#2b7bb6"/>
<ellipse cx="58.30000000000001" cy="189" rx="12.5" ry="8" fill="#2b7bb6"/>
<ellipse cx="236.8" cy="72.3" rx="11.8" ry="9" fill="#253494"/>
<ellipse cx="188.09999999999997" cy="121.8" rx="3.2" ry="3.2" fill="#253494"/>
<path d="M306.8,64.0 C306.8,56.7 305.2,59.1 305.6,54.2 C306.0,49.3 304.8,52.6 308.0,49.3 C311.2,46.0 309.6,46.4 315.3,44.4 C321.0,42.4 317.8,44.0 325.1,43.2 C332.4,42.4 331.6,42.7 337.3,42.0 C343.0,41.3 339.3,45.0 342.3,41.0 C345.3,37.0 333.0,37.0 346.3,30.0 C359.6,23.0 370.3,-15.0 382.3,20.0 C394.3,55.0 391.6,101.0 382.3,135.0 C373.0,169.0 368.5,124.9 354.3,122.0 C340.1,119.1 347.9,124.5 339.8,126.3 C331.7,128.1 336.5,127.5 330.0,127.5 C323.5,127.5 326.8,127.9 320.3,126.3 C313.8,124.7 315.8,126.3 310.5,122.6 C305.2,118.9 307.2,121.0 304.3,115.3 C301.4,109.6 302.3,112.0 301.9,105.5 C301.5,99.0 302.0,102.2 303.2,95.7 C304.4,89.2 304.8,92.5 305.6,86.0 C306.4,79.5 305.2,83.5 305.6,76.2 C306.0,68.9 306.8,71.3 306.8,64.0Z" fill="#7fcdbb"/>
<ellipse cx="361.8" cy="118" rx="5.5" ry="7" fill="#3cacc4"/>
<ellipse cx="294.50000000000006" cy="165.6" rx="7.8" ry="5.5" fill="#7fcdbb"/>
<ellipse cx="223.09999999999997" cy="288.8" rx="2.5" ry="2.5" fill="#7fcdbb"/>
<path d="M6.3,252.0 C9.6,247.0 9.0,252.7 14.3,255.0 C19.6,257.3 16.6,255.5 22.3,259.0 C28.0,262.5 25.9,261.5 31.3,265.5 C36.7,269.5 33.4,267.1 38.6,271.0 C43.8,274.9 41.4,272.5 47.0,277.3 C52.6,282.1 51.1,280.5 55.3,285.3 C59.5,290.1 57.6,287.6 59.5,291.7 C61.4,295.8 61.4,294.2 61.1,297.5 C60.8,300.8 60.5,299.0 58.6,301.5 C56.7,304.0 58.1,302.7 55.3,305.0 C52.5,307.3 54.2,306.8 50.3,308.3 C46.4,309.8 48.9,308.3 43.6,309.5 C38.3,310.7 41.4,313.5 34.3,312.0 C27.2,310.5 29.6,312.3 22.3,305.0 C15.0,297.7 18.3,301.7 12.3,290.0 C6.3,278.3 6.3,282.7 4.3,270.0 C2.3,257.3 3.0,257.0 6.3,252.0Z" fill="#2b7bb6"/></g>
<use href="#muni"/>
<use href="#st" fill="none" stroke="#0a161c" stroke-width="0.8"/>
<line x1="148.6" y1="47.0" x2="164.0" y2="47.0" stroke="#000" stroke-width="0.9" stroke-opacity="1"/>
<line x1="174.3" y1="50.0" x2="188.1" y2="50.0" stroke="#000" stroke-width="0.9" stroke-opacity="1"/>
<line x1="198.1" y1="53.3" x2="213.1" y2="53.3" stroke="#000" stroke-width="0.9" stroke-opacity="1"/>
<line x1="221.0" y1="59.5" x2="236.5" y2="59.5" stroke="#000" stroke-width="0.9" stroke-opacity="1"/>
<line x1="205.1" y1="78.3" x2="219.8" y2="78.3" stroke="#000" stroke-width="0.9" stroke-opacity="1"/>
<line x1="229.8" y1="81.2" x2="244.3" y2="81.2" stroke="#000" stroke-width="0.9" stroke-opacity="1"/>
<line x1="294.6" y1="72.0" x2="305.6" y2="72.0" stroke="#000" stroke-width="0.9" stroke-opacity="1"/>
<line x1="304.4" y1="76.2" x2="320.3" y2="76.2" stroke="#000" stroke-width="0.9" stroke-opacity="1"/>
<line x1="329.3" y1="37.6" x2="345.3" y2="37.6" stroke="#000" stroke-width="0.9" stroke-opacity="1"/>
<line x1="330.8" y1="62.8" x2="346.3" y2="62.8" stroke="#000" stroke-width="0.9" stroke-opacity="1"/>
<line x1="176.7" y1="102.7" x2="192.3" y2="102.7" stroke="#000" stroke-width="0.9" stroke-opacity="1"/>
<line x1="205.0" y1="108.2" x2="220.5" y2="108.2" stroke="#000" stroke-width="0.9" stroke-opacity="1"/>
<line x1="184.1" y1="113.8" x2="199.0" y2="113.8" stroke="#000" stroke-width="0.9" stroke-opacity="1"/>
<line x1="157.9" y1="118.4" x2="173.4" y2="118.4" stroke="#000" stroke-width="0.9" stroke-opacity="1"/>
<line x1="132.7" y1="126.0" x2="147.9" y2="126.0" stroke="#000" stroke-width="0.9" stroke-opacity="1"/>
<line x1="164.1" y1="137.3" x2="179.0" y2="137.3" stroke="#000" stroke-width="0.9" stroke-opacity="1"/>
<line x1="123.9" y1="153.8" x2="139.0" y2="153.8" stroke="#000" stroke-width="0.9" stroke-opacity="1"/>
<line x1="143.0" y1="154.4" x2="158.3" y2="154.4" stroke="#000" stroke-width="0.9" stroke-opacity="1"/>
<line x1="104.5" y1="167.1" x2="119.6" y2="167.1" stroke="#000" stroke-width="0.9" stroke-opacity="1"/>
<line x1="84.5" y1="180.4" x2="100.1" y2="180.4" stroke="#000" stroke-width="0.9" stroke-opacity="1"/>
<line x1="201.2" y1="150.4" x2="216.7" y2="150.4" stroke="#000" stroke-width="0.9" stroke-opacity="1"/>
<line x1="163.4" y1="161.8" x2="178.3" y2="161.8" stroke="#000" stroke-width="0.9" stroke-opacity="1"/>
<line x1="178.5" y1="162.2" x2="194.1" y2="162.2" stroke="#000" stroke-width="0.9" stroke-opacity="1"/>
<line x1="191.2" y1="167.1" x2="205.6" y2="167.1" stroke="#000" stroke-width="0.9" stroke-opacity="1"/>
<line x1="12.9" y1="244.2" x2="28.3" y2="244.2" stroke="#000" stroke-width="0.9" stroke-opacity="1"/>
<line x1="199.0" y1="194.7" x2="214.0" y2="194.7" stroke="#000" stroke-width="0.9" stroke-opacity="1"/>
<line x1="163.1" y1="202.2" x2="177.3" y2="202.2" stroke="#000" stroke-width="0.9" stroke-opacity="1"/>
<line x1="183.1" y1="213.3" x2="197.3" y2="213.3" stroke="#000" stroke-width="0.9" stroke-opacity="1"/>
<line x1="189.0" y1="229.5" x2="204.0" y2="229.5" stroke="#000" stroke-width="0.9" stroke-opacity="1"/>
<line x1="179.8" y1="235.0" x2="194.3" y2="235.0" stroke="#000" stroke-width="0.9" stroke-opacity="1"/>
<line x1="192.3" y1="241.3" x2="207.3" y2="241.3" stroke="#000" stroke-width="0.9" stroke-opacity="1"/>
<line x1="154.8" y1="212.5" x2="170.1" y2="212.5" stroke="#000" stroke-width="0.9" stroke-opacity="1"/>
<line x1="206.1" y1="207.8" x2="221.5" y2="207.8" stroke="#000" stroke-width="0.9" stroke-opacity="1"/>
<line x1="162.8" y1="257.0" x2="178.1" y2="257.0" stroke="#000" stroke-width="0.9" stroke-opacity="1"/>
<line x1="203.1" y1="270.3" x2="218.6" y2="270.3" stroke="#000" stroke-width="0.9" stroke-opacity="1"/>
<line x1="144.0" y1="282.2" x2="159.0" y2="282.2" stroke="#000" stroke-width="0.9" stroke-opacity="1"/>
<line x1="209.0" y1="285.8" x2="224.5" y2="285.8" stroke="#000" stroke-width="0.9" stroke-opacity="1"/>
<line x1="224.5" y1="277.0" x2="239.3" y2="277.0" stroke="#000" stroke-width="0.9" stroke-opacity="1"/>
<line x1="54.5" y1="290.8" x2="70.0" y2="290.8" stroke="#000" stroke-width="0.9" stroke-opacity="1"/>
<line x1="62.8" y1="316.2" x2="78.1" y2="316.2" stroke="#000" stroke-width="0.9" stroke-opacity="1"/>
<line x1="97.8" y1="334.5" x2="112.0" y2="334.5" stroke="#000" stroke-width="0.9" stroke-opacity="1"/>
<line x1="267.8" y1="295.8" x2="283.1" y2="295.8" stroke="#000" stroke-width="0.9" stroke-opacity="1"/>
<line x1="184.8" y1="199.2" x2="199.3" y2="199.2" stroke="#000" stroke-width="0.9" stroke-opacity="1"/>
<rect x="148.6" y="39.2" width="5.7" height="7.8" fill="#fde92f" stroke="#000" stroke-width="0.8"/>
<rect x="174.3" y="46.7" width="5.5" height="3.3" fill="#fde92f" stroke="#000" stroke-width="0.8"/>
<rect x="198.1" y="47.5" width="5.5" height="5.8" fill="#fde92f" stroke="#000" stroke-width="0.8"/>
<rect x="221.0" y="53.8" width="5.5" height="5.7" fill="#fde92f" stroke="#000" stroke-width="0.8"/>
<rect x="205.1" y="72.8" width="5.5" height="5.5" fill="#fde92f" stroke="#000" stroke-width="0.8"/>
<rect x="229.8" y="76.7" width="5.5" height="4.5" fill="#fde92f" stroke="#000" stroke-width="0.8"/>
<rect x="238.4" y="108.4" width="4.9" height="4.4" fill="#fde92f" stroke="#000" stroke-width="0.8"/>
<rect x="243.3" y="106.7" width="4.9" height="6.1" fill="#6aa519" stroke="#000" stroke-width="0.8"/>
<rect x="248.2" y="104.3" width="5.6" height="8.5" fill="#6a2a21" stroke="#000" stroke-width="0.8"/>
<rect x="285.6" y="105.0" width="5.3" height="7.4" fill="#fde92f" stroke="#000" stroke-width="0.8"/>
<rect x="290.9" y="104.3" width="4.9" height="8.1" fill="#6aa519" stroke="#000" stroke-width="0.8"/>
<rect x="295.8" y="103.1" width="5.4" height="9.3" fill="#6a2a21" stroke="#000" stroke-width="0.8"/>
<rect x="299.5" y="66.4" width="5.4" height="5.6" fill="#6aa519" stroke="#000" stroke-width="0.8"/>
<rect x="310.5" y="73.3" width="4.9" height="2.9" fill="#6aa519" stroke="#000" stroke-width="0.8"/>
<rect x="334.9" y="35.1" width="4.9" height="2.5" fill="#6aa519" stroke="#000" stroke-width="0.8"/>
<rect x="336.1" y="61.0" width="4.9" height="1.8" fill="#6aa519" stroke="#000" stroke-width="0.8"/>
<rect x="342.7" y="120.7" width="4.9" height="2.4" fill="#fde92f" stroke="#000" stroke-width="0.8"/>
<rect x="347.6" y="119.0" width="4.9" height="4.1" fill="#6aa519" stroke="#000" stroke-width="0.8"/>
<rect x="352.5" y="116.0" width="5.6" height="7.1" fill="#6a2a21" stroke="#000" stroke-width="0.8"/>
<rect x="176.7" y="97.1" width="5.2" height="5.6" fill="#fde92f" stroke="#000" stroke-width="0.8"/>
<rect x="205.0" y="105.1" width="5.1" height="3.1" fill="#fde92f" stroke="#000" stroke-width="0.8"/>
<rect x="215.2" y="100.4" width="5.3" height="7.8" fill="#6a2a21" stroke="#000" stroke-width="0.8"/>
<rect x="184.1" y="111.1" width="5.3" height="2.7" fill="#fde92f" stroke="#000" stroke-width="0.8"/>
<rect x="157.9" y="112.2" width="5.1" height="6.2" fill="#fde92f" stroke="#000" stroke-width="0.8"/>
<rect x="132.7" y="123.3" width="5.2" height="2.7" fill="#fde92f" stroke="#000" stroke-width="0.8"/>
<rect x="164.1" y="131.8" width="5.3" height="5.5" fill="#fde92f" stroke="#000" stroke-width="0.8"/>
<rect x="123.9" y="147.8" width="5.1" height="6.0" fill="#fde92f" stroke="#000" stroke-width="0.8"/>
<rect x="129.0" y="149.3" width="4.9" height="4.5" fill="#6aa519" stroke="#000" stroke-width="0.8"/>
<rect x="143.0" y="152.7" width="5.3" height="1.7" fill="#fde92f" stroke="#000" stroke-width="0.8"/>
<rect x="114.5" y="162.2" width="5.1" height="4.9" fill="#6a2a21" stroke="#000" stroke-width="0.8"/>
<rect x="84.5" y="175.6" width="5.1" height="4.8" fill="#fde92f" stroke="#000" stroke-width="0.8"/>
<rect x="89.6" y="172.9" width="5.4" height="7.5" fill="#6aa519" stroke="#000" stroke-width="0.8"/>
<rect x="201.2" y="147.3" width="5.1" height="3.1" fill="#fde92f" stroke="#000" stroke-width="0.8"/>
<rect x="211.6" y="141.6" width="5.1" height="8.8" fill="#6a2a21" stroke="#000" stroke-width="0.8"/>
<rect x="163.4" y="156.2" width="5.1" height="5.6" fill="#fde92f" stroke="#000" stroke-width="0.8"/>
<rect x="168.5" y="156.2" width="5.4" height="5.6" fill="#6aa519" stroke="#000" stroke-width="0.8"/>
<rect x="178.5" y="159.6" width="4.9" height="2.6" fill="#fde92f" stroke="#000" stroke-width="0.8"/>
<rect x="183.4" y="158.4" width="5.1" height="3.8" fill="#6aa519" stroke="#000" stroke-width="0.8"/>
<rect x="191.2" y="165.6" width="4.4" height="1.5" fill="#fde92f" stroke="#000" stroke-width="0.8"/>
<rect x="196.3" y="165.6" width="4.4" height="1.5" fill="#6aa519" stroke="#000" stroke-width="0.8"/>
<rect x="170.1" y="181.6" width="5.1" height="5.7" fill="#fde92f" stroke="#000" stroke-width="0.8"/>
<rect x="175.2" y="181.6" width="5.3" height="5.7" fill="#6aa519" stroke="#000" stroke-width="0.8"/>
<rect x="180.5" y="181.6" width="5.1" height="5.7" fill="#6a2a21" stroke="#000" stroke-width="0.8"/>
<rect x="267.2" y="168.2" width="5.1" height="5.6" fill="#fde92f" stroke="#000" stroke-width="0.8"/>
<rect x="272.3" y="166.7" width="5.6" height="7.1" fill="#6aa519" stroke="#000" stroke-width="0.8"/>
<rect x="277.9" y="166.7" width="5.1" height="7.1" fill="#6a2a21" stroke="#000" stroke-width="0.8"/>
<rect x="306.1" y="166.7" width="5.1" height="5.5" fill="#fde92f" stroke="#000" stroke-width="0.8"/>
<rect x="311.2" y="166.7" width="5.1" height="5.5" fill="#6aa519" stroke="#000" stroke-width="0.8"/>
<rect x="316.3" y="166.7" width="5.6" height="5.5" fill="#6a2a21" stroke="#000" stroke-width="0.8"/>
<rect x="234.5" y="185.6" width="4.9" height="2.6" fill="#fde92f" stroke="#000" stroke-width="0.8"/>
<rect x="239.4" y="185.6" width="5.1" height="2.6" fill="#6aa519" stroke="#000" stroke-width="0.8"/>
<rect x="244.5" y="182.2" width="5.6" height="6.0" fill="#6a2a21" stroke="#000" stroke-width="0.8"/>
<rect x="12.9" y="237.3" width="5.1" height="6.7" fill="#fde92f" stroke="#000" stroke-width="0.8"/>
<rect x="24.0" y="243.0" width="4.3" height="1.4" fill="#6a2a21" stroke="#000" stroke-width="0.8"/>
<rect x="74.0" y="230.7" width="4.9" height="2.6" fill="#fde92f" stroke="#000" stroke-width="0.8"/>
<rect x="78.9" y="225.1" width="5.1" height="8.2" fill="#6aa519" stroke="#000" stroke-width="0.8"/>
<rect x="84.0" y="226.7" width="5.1" height="6.6" fill="#6a2a21" stroke="#000" stroke-width="0.8"/>
<rect x="104.4" y="245.1" width="4.7" height="4.2" fill="#fde92f" stroke="#000" stroke-width="0.8"/>
<rect x="109.1" y="241.1" width="4.9" height="8.2" fill="#6aa519" stroke="#000" stroke-width="0.8"/>
<rect x="114.0" y="238.9" width="5.1" height="10.4" fill="#6a2a21" stroke="#000" stroke-width="0.8"/>
<rect x="130.6" y="227.8" width="5.1" height="6.6" fill="#fde92f" stroke="#000" stroke-width="0.8"/>
<rect x="135.7" y="232.7" width="4.9" height="1.7" fill="#6aa519" stroke="#000" stroke-width="0.8"/>
<rect x="140.6" y="227.8" width="5.1" height="6.6" fill="#6a2a21" stroke="#000" stroke-width="0.8"/>
<rect x="28.4" y="258.9" width="4.9" height="2.9" fill="#fde92f" stroke="#000" stroke-width="0.8"/>
<rect x="33.3" y="260.4" width="4.7" height="1.4" fill="#6aa519" stroke="#000" stroke-width="0.8"/>
<rect x="38.0" y="254.9" width="5.3" height="6.9" fill="#6a2a21" stroke="#000" stroke-width="0.8"/>
<rect x="78.0" y="274.4" width="4.9" height="2.7" fill="#fde92f" stroke="#000" stroke-width="0.8"/>
<rect x="82.9" y="270.0" width="4.8" height="7.1" fill="#6aa519" stroke="#000" stroke-width="0.8"/>
<rect x="87.7" y="268.4" width="5.2" height="8.7" fill="#6a2a21" stroke="#000" stroke-width="0.8"/>
<rect x="111.3" y="266.7" width="4.9" height="3.3" fill="#fde92f" stroke="#000" stroke-width="0.8"/>
<rect x="116.2" y="264.9" width="5.1" height="5.1" fill="#6aa519" stroke="#000" stroke-width="0.8"/>
<rect x="121.3" y="258.4" width="5.3" height="11.6" fill="#6a2a21" stroke="#000" stroke-width="0.8"/>
<rect x="184.8" y="192.0" width="5.0" height="7.2" fill="#fde92f" stroke="#000" stroke-width="0.8"/>
<rect x="189.8" y="193.7" width="5.0" height="5.5" fill="#6aa519" stroke="#000" stroke-width="0.8"/>
<rect x="199.0" y="191.7" width="4.6" height="3.0" fill="#fde92f" stroke="#000" stroke-width="0.8"/>
<rect x="163.1" y="197.8" width="4.7" height="4.4" fill="#fde92f" stroke="#000" stroke-width="0.8"/>
<rect x="167.8" y="199.7" width="5.0" height="2.5" fill="#6aa519" stroke="#000" stroke-width="0.8"/>
<rect x="154.8" y="207.8" width="5.0" height="4.7" fill="#fde92f" stroke="#000" stroke-width="0.8"/>
<rect x="164.8" y="205.0" width="5.3" height="7.5" fill="#6a2a21" stroke="#000" stroke-width="0.8"/>
<rect x="206.1" y="204.7" width="5.0" height="3.1" fill="#fde92f" stroke="#000" stroke-width="0.8"/>
<rect x="216.5" y="203.3" width="5.0" height="4.5" fill="#6a2a21" stroke="#000" stroke-width="0.8"/>
<rect x="183.1" y="209.5" width="4.7" height="3.8" fill="#fde92f" stroke="#000" stroke-width="0.8"/>
<rect x="187.8" y="210.8" width="5.3" height="2.5" fill="#6aa519" stroke="#000" stroke-width="0.8"/>
<rect x="164.0" y="217.0" width="5.0" height="7.2" fill="#fde92f" stroke="#000" stroke-width="0.8"/>
<rect x="169.0" y="218.7" width="5.0" height="5.5" fill="#6aa519" stroke="#000" stroke-width="0.8"/>
<rect x="174.0" y="215.5" width="5.0" height="8.7" fill="#6a2a21" stroke="#000" stroke-width="0.8"/>
<rect x="189.0" y="223.7" width="5.0" height="5.8" fill="#fde92f" stroke="#000" stroke-width="0.8"/>
<rect x="179.8" y="230.5" width="5.0" height="4.5" fill="#fde92f" stroke="#000" stroke-width="0.8"/>
<rect x="192.3" y="239.7" width="4.2" height="1.6" fill="#fde92f" stroke="#000" stroke-width="0.8"/>
<rect x="209.8" y="240.8" width="5.0" height="8.4" fill="#fde92f" stroke="#000" stroke-width="0.8"/>
<rect x="214.8" y="246.7" width="5.0" height="2.5" fill="#6aa519" stroke="#000" stroke-width="0.8"/>
<rect x="219.8" y="242.2" width="5.3" height="7.0" fill="#6a2a21" stroke="#000" stroke-width="0.8"/>
<rect x="145.6" y="250.0" width="5.0" height="5.8" fill="#fde92f" stroke="#000" stroke-width="0.8"/>
<rect x="150.6" y="253.3" width="5.0" height="2.5" fill="#6aa519" stroke="#000" stroke-width="0.8"/>
<rect x="155.6" y="245.5" width="5.4" height="10.3" fill="#6a2a21" stroke="#000" stroke-width="0.8"/>
<rect x="162.8" y="248.3" width="5.0" height="8.7" fill="#fde92f" stroke="#000" stroke-width="0.8"/>
<rect x="173.1" y="246.7" width="5.0" height="10.3" fill="#6a2a21" stroke="#000" stroke-width="0.8"/>
<rect x="183.6" y="249.5" width="5.0" height="10.0" fill="#fde92f" stroke="#000" stroke-width="0.8"/>
<rect x="188.6" y="256.7" width="5.0" height="2.8" fill="#6aa519" stroke="#000" stroke-width="0.8"/>
<rect x="193.6" y="252.2" width="5.4" height="7.3" fill="#6a2a21" stroke="#000" stroke-width="0.8"/>
<rect x="179.8" y="262.8" width="5.0" height="8.4" fill="#fde92f" stroke="#000" stroke-width="0.8"/>
<rect x="184.8" y="270.0" width="5.0" height="1.2" fill="#6aa519" stroke="#000" stroke-width="0.8"/>
<rect x="189.8" y="265.3" width="5.3" height="5.9" fill="#6a2a21" stroke="#000" stroke-width="0.8"/>
<rect x="203.1" y="261.7" width="5.0" height="8.6" fill="#fde92f" stroke="#000" stroke-width="0.8"/>
<rect x="213.5" y="264.5" width="5.1" height="5.8" fill="#6a2a21" stroke="#000" stroke-width="0.8"/>
<rect x="144.0" y="275.0" width="4.6" height="7.2" fill="#fde92f" stroke="#000" stroke-width="0.8"/>
<rect x="154.0" y="276.3" width="5.0" height="5.9" fill="#6a2a21" stroke="#000" stroke-width="0.8"/>
<rect x="177.8" y="274.7" width="5.0" height="5.6" fill="#fde92f" stroke="#000" stroke-width="0.8"/>
<rect x="182.8" y="276.7" width="5.0" height="3.6" fill="#6aa519" stroke="#000" stroke-width="0.8"/>
<rect x="187.8" y="273.0" width="5.3" height="7.3" fill="#6a2a21" stroke="#000" stroke-width="0.8"/>
<rect x="209.0" y="280.3" width="5.0" height="5.5" fill="#fde92f" stroke="#000" stroke-width="0.8"/>
<rect x="219.5" y="280.0" width="5.0" height="5.8" fill="#6a2a21" stroke="#000" stroke-width="0.8"/>
<rect x="224.5" y="275.3" width="4.5" height="1.7" fill="#fde92f" stroke="#000" stroke-width="0.8"/>
<rect x="189.0" y="289.7" width="5.0" height="8.3" fill="#fde92f" stroke="#000" stroke-width="0.8"/>
<rect x="194.0" y="294.2" width="5.3" height="3.8" fill="#6aa519" stroke="#000" stroke-width="0.8"/>
<rect x="199.3" y="294.2" width="5.5" height="3.8" fill="#6a2a21" stroke="#000" stroke-width="0.8"/>
<rect x="135.6" y="295.5" width="5.0" height="5.3" fill="#fde92f" stroke="#000" stroke-width="0.8"/>
<rect x="140.6" y="297.2" width="5.0" height="3.6" fill="#6aa519" stroke="#000" stroke-width="0.8"/>
<rect x="145.6" y="295.5" width="5.4" height="5.3" fill="#6a2a21" stroke="#000" stroke-width="0.8"/>
<rect x="54.5" y="286.2" width="5.3" height="4.6" fill="#fde92f" stroke="#000" stroke-width="0.8"/>
<rect x="64.8" y="285.0" width="5.2" height="5.8" fill="#6a2a21" stroke="#000" stroke-width="0.8"/>
<rect x="34.1" y="297.2" width="5.4" height="5.8" fill="#fde92f" stroke="#000" stroke-width="0.8"/>
<rect x="39.5" y="295.5" width="5.3" height="7.5" fill="#6aa519" stroke="#000" stroke-width="0.8"/>
<rect x="44.8" y="298.8" width="5.2" height="4.2" fill="#6a2a21" stroke="#000" stroke-width="0.8"/>
<rect x="62.8" y="314.5" width="5.0" height="1.7" fill="#fde92f" stroke="#000" stroke-width="0.8"/>
<rect x="72.8" y="312.0" width="5.3" height="4.2" fill="#6a2a21" stroke="#000" stroke-width="0.8"/>
<rect x="97.8" y="325.5" width="5.0" height="9.0" fill="#fde92f" stroke="#000" stroke-width="0.8"/>
<rect x="267.8" y="291.3" width="5.3" height="4.5" fill="#fde92f" stroke="#000" stroke-width="0.8"/>
</g>
<!-- map 3 : Neutro -->
<g transform="translate(715.1,0)">
<use href="#st" fill="#3cacc4"/>
<g clip-path="url(#cp)"><path d="M156.9,15.2 C160.9,16.1 159.6,15.6 163.9,19.0 C168.2,22.4 168.1,22.9 172.9,28.0 C177.7,33.1 175.7,33.3 181.9,38.0 C188.1,42.7 190.7,44.8 196.0,45.8 C201.3,46.8 198.6,41.3 201.6,41.7 C204.6,42.1 203.4,44.6 207.1,47.2 C210.8,49.8 211.0,49.8 215.5,51.4 C220.0,53.0 218.0,53.4 223.8,53.3 C229.6,53.2 230.6,51.1 237.1,51.1 C243.6,51.1 242.9,50.3 248.2,53.3 C253.5,56.3 253.5,56.9 257.1,62.2 C260.7,67.5 261.0,67.4 261.6,73.3 C262.2,79.2 261.1,78.5 259.3,84.4 C257.5,90.3 257.2,89.9 254.9,95.6 C252.6,101.3 253.5,102.6 250.5,105.6 C247.5,108.6 249.2,106.3 243.8,106.7 C238.4,107.1 236.7,106.4 230.2,107.0 C223.7,107.6 224.2,106.4 219.4,108.8 C214.6,111.2 214.6,111.2 212.2,116.0 C209.8,120.8 211.2,121.5 210.4,126.7 C209.6,131.9 209.0,130.9 209.3,135.6 C209.6,140.3 209.8,139.7 211.6,144.4 C213.4,149.1 213.6,149.1 216.0,153.3 C218.4,157.5 217.0,156.4 220.5,160.0 C224.0,163.6 225.8,163.2 229.3,166.7 C232.8,170.2 232.0,169.5 233.8,173.3 C235.6,177.1 234.2,176.9 236.0,181.1 C237.8,185.3 237.5,184.7 240.5,188.9 C243.5,193.1 243.6,192.6 247.1,196.7 C250.6,200.8 250.8,200.3 253.8,204.4 C256.8,208.5 255.5,208.3 258.2,212.2 C260.9,216.1 260.8,216.5 263.8,218.9 C266.8,221.3 266.6,222.0 269.3,221.1 C272.0,220.2 270.8,218.1 273.8,215.6 C276.8,213.1 276.4,212.7 280.5,211.6 C284.6,210.5 285.5,210.2 289.3,211.6 C293.1,213.0 293.7,213.6 294.9,216.7 C296.1,219.8 295.9,220.3 293.8,223.3 C291.7,226.3 291.3,226.3 287.1,227.8 C282.9,229.3 282.3,228.0 278.2,228.9 C274.1,229.8 273.8,229.2 271.6,231.1 C269.4,233.0 270.8,234.1 269.9,236.0 C269.0,237.9 270.4,236.4 268.2,238.3 C266.0,240.2 266.0,241.1 261.6,243.3 C257.2,245.5 256.1,245.6 251.6,246.7 C247.1,247.8 248.5,246.2 244.9,247.5 C241.3,248.8 242.7,249.5 238.2,251.7 C233.7,253.9 233.5,254.5 228.2,255.8 C222.9,257.1 221.9,257.4 218.2,256.7 C214.5,256.0 216.6,255.3 214.2,253.0 C211.8,250.7 211.0,251.1 209.2,248.0 C207.4,244.9 208.5,244.8 207.6,241.3 C206.7,237.8 209.3,237.0 205.9,234.7 C202.5,232.4 200.8,233.0 194.9,232.5 C189.0,232.0 187.6,233.5 183.9,233.0 C180.2,232.5 180.8,231.8 180.9,230.5 C181.0,229.2 181.5,228.9 184.2,228.0 C186.9,227.1 186.4,227.7 190.9,227.2 C195.4,226.7 197.4,227.9 200.9,226.3 C204.4,224.7 203.7,224.2 204.2,221.3 C204.7,218.4 202.1,218.2 202.6,215.5 C203.1,212.8 203.2,213.1 205.9,211.3 C208.6,209.5 209.5,210.6 212.6,208.8 C215.7,207.0 217.2,207.1 217.6,204.7 C218.0,202.3 216.4,201.9 214.2,199.7 C212.0,197.5 211.4,198.5 209.2,196.3 C207.0,194.1 207.7,194.0 205.9,191.3 C204.1,188.6 204.4,188.5 202.6,186.3 C200.8,184.1 201.9,184.1 199.2,183.0 C196.5,181.9 196.6,182.5 192.6,182.2 C188.6,181.9 188.7,181.9 184.2,181.7 C179.7,181.5 180.3,181.3 175.9,181.3 C171.5,181.3 171.8,181.5 167.6,181.7 C163.4,181.9 163.9,180.9 160.2,182.2 C156.5,183.5 157.7,183.1 153.6,186.7 C149.5,190.3 149.4,191.2 144.7,195.6 C140.0,200.0 140.5,199.5 135.8,203.3 C131.1,207.1 131.6,207.0 126.9,210.0 C122.2,213.0 123.3,212.6 118.0,214.4 C112.7,216.2 112.8,216.4 106.9,216.7 C101.0,217.0 101.7,216.5 95.8,215.6 C89.9,214.7 90.6,214.2 84.7,213.3 C78.8,212.4 78.9,212.2 73.6,212.2 C68.3,212.2 68.6,212.1 64.7,213.3 C60.8,214.5 61.8,216.7 59.1,216.7 C56.4,216.7 56.5,216.6 54.7,213.3 C52.9,210.0 53.7,209.7 52.5,204.4 C51.3,199.1 51.7,198.7 50.2,193.3 C48.7,187.9 45.1,190.2 46.9,184.0 C48.7,177.8 50.0,174.8 56.9,170.0 C63.8,165.2 66.2,169.2 72.9,166.0 C79.6,162.8 78.4,159.9 81.9,158.0 C85.4,156.1 84.0,159.5 86.0,158.9 C88.0,158.3 86.6,157.4 89.3,155.6 C92.0,153.8 91.8,154.3 96.0,152.2 C100.2,150.1 100.4,150.2 104.9,147.8 C109.4,145.4 110.0,146.6 112.7,143.3 C115.4,140.0 113.7,140.0 114.9,135.6 C116.1,131.2 115.0,130.9 117.1,126.7 C119.2,122.5 118.8,123.0 122.7,120.0 C126.6,117.0 126.3,117.7 131.6,115.6 C136.9,113.5 136.8,113.7 142.7,112.2 C148.6,110.7 148.5,112.1 153.8,110.0 C159.1,107.9 159.6,106.3 162.7,104.4 C165.8,102.5 163.3,105.5 165.5,102.8 C167.7,100.1 167.3,98.1 171.0,94.4 C174.7,90.7 172.6,91.1 179.3,88.9 C186.0,86.7 189.3,87.6 196.0,86.1 C202.7,84.6 202.8,85.9 204.3,83.3 C205.8,80.7 203.8,79.7 201.6,76.4 C199.4,73.1 200.5,73.0 196.0,70.8 C191.5,68.6 191.6,68.8 184.9,68.1 C178.2,67.4 178.4,68.8 171.0,68.1 C163.6,67.4 163.4,67.9 157.1,65.3 C150.8,62.7 150.7,63.1 147.4,58.3 C144.1,53.5 145.3,53.1 144.6,47.2 C143.9,41.3 145.9,39.6 144.6,36.1 C143.3,32.6 140.9,37.8 139.9,34.0 C138.9,30.2 138.5,26.9 140.9,22.0 C143.3,17.1 144.6,17.3 148.9,15.5 C153.2,13.7 152.9,14.3 156.9,15.2Z" fill="#2b7bb6"/>
<ellipse cx="237.79999999999995" cy="74" rx="4.6" ry="4.6" fill="#253494"/>
<ellipse cx="188.69999999999993" cy="120.7" rx="3" ry="3" fill="#253494"/>
<ellipse cx="287.79999999999995" cy="72.2" rx="10.5" ry="9" fill="#2b7bb6"/>
<ellipse cx="153.39999999999998" cy="89" rx="3" ry="3" fill="#2b7bb6"/>
<ellipse cx="307.1" cy="141.8" rx="5.5" ry="5" fill="#2b7bb6"/>
<ellipse cx="310.9" cy="105.6" rx="3.3" ry="3.3" fill="#7fcdbb"/>
<ellipse cx="331.6" cy="64.4" rx="19" ry="7.8" fill="#7fcdbb" transform="rotate(-22 331.6 64.4)"/>
<ellipse cx="318.9" cy="70" rx="5.5" ry="4" fill="#c7e9b4" transform="rotate(-22 318.9 70)"/>
<ellipse cx="294.5" cy="164.4" rx="6.5" ry="6" fill="#7fcdbb"/>
<ellipse cx="248.19999999999993" cy="167.1" rx="5.5" ry="5.5" fill="#2b7bb6"/>
<ellipse cx="259.29999999999995" cy="184.4" rx="8" ry="6" fill="#2b7bb6"/>
<ellipse cx="270.5" cy="162.7" rx="2" ry="3" fill="#2b7bb6"/>
<ellipse cx="252.89999999999998" cy="274" rx="12" ry="8.5" fill="#2b7bb6"/>
<ellipse cx="143.60000000000002" cy="302.5" rx="4" ry="2.6" fill="#2b7bb6"/>
<ellipse cx="146.89999999999998" cy="226" rx="2.5" ry="2.5" fill="#2b7bb6"/>
<ellipse cx="19.100000000000023" cy="245.6" rx="2" ry="2" fill="#2b7bb6"/>
<path d="M42.4,294.5 C43.2,291.2 42.4,292.8 46.6,289.5 C50.8,286.2 48.8,287.3 54.9,284.5 C61.0,281.7 58.8,282.3 64.9,281.2 C71.0,280.1 67.6,280.7 73.2,281.2 C78.8,281.7 76.6,282.8 81.6,282.8 C86.6,282.8 84.3,282.9 88.2,281.2 C92.1,279.5 89.6,278.6 93.2,277.8 C96.8,277.0 96.6,277.0 99.1,278.7 C101.6,280.4 101.5,280.3 100.7,282.8 C99.9,285.3 100.2,284.5 96.6,286.2 C93.0,287.9 93.0,285.6 89.9,287.8 C86.8,290.0 88.8,288.9 87.4,292.8 C86.0,296.7 87.1,294.8 85.7,299.5 C84.3,304.2 85.1,301.7 83.2,307.0 C81.3,312.3 81.6,310.0 79.9,315.3 C78.2,320.6 80.4,320.3 78.2,322.8 C76.0,325.3 77.1,323.9 73.2,322.8 C69.3,321.7 71.0,321.7 66.6,319.5 C62.2,317.3 64.4,318.7 59.9,316.2 C55.4,313.7 57.4,315.6 53.2,312.0 C49.0,308.4 50.4,309.5 47.4,305.3 C44.4,301.1 45.8,303.1 44.1,299.5 C42.4,295.9 41.6,297.8 42.4,294.5Z" fill="#2b7bb6"/></g>
<use href="#muni"/>
<use href="#st" fill="none" stroke="#0a161c" stroke-width="0.8"/>
<line x1="148.8" y1="45.8" x2="164.1" y2="45.8" stroke="#000" stroke-width="0.9" stroke-opacity="1"/>
<line x1="173.8" y1="52.2" x2="189.9" y2="52.2" stroke="#000" stroke-width="0.9" stroke-opacity="1"/>
<line x1="198.2" y1="52.2" x2="214.1" y2="52.2" stroke="#000" stroke-width="0.9" stroke-opacity="1"/>
<line x1="221.0" y1="59.2" x2="237.1" y2="59.2" stroke="#000" stroke-width="0.9" stroke-opacity="1"/>
<line x1="205.2" y1="77.8" x2="220.5" y2="77.8" stroke="#000" stroke-width="0.9" stroke-opacity="1"/>
<line x1="230.2" y1="80.6" x2="245.5" y2="80.6" stroke="#000" stroke-width="0.9" stroke-opacity="1"/>
<line x1="176.6" y1="102.8" x2="191.8" y2="102.8" stroke="#000" stroke-width="0.9" stroke-opacity="1"/>
<line x1="204.9" y1="108.3" x2="220.5" y2="108.3" stroke="#000" stroke-width="0.9" stroke-opacity="1"/>
<line x1="157.7" y1="116.7" x2="173.2" y2="116.7" stroke="#000" stroke-width="0.9" stroke-opacity="1"/>
<line x1="184.1" y1="114.4" x2="199.3" y2="114.4" stroke="#000" stroke-width="0.9" stroke-opacity="1"/>
<line x1="132.7" y1="129.3" x2="148.2" y2="129.3" stroke="#000" stroke-width="0.9" stroke-opacity="1"/>
<line x1="164.5" y1="136.7" x2="179.3" y2="136.7" stroke="#000" stroke-width="0.9" stroke-opacity="1"/>
<line x1="201.1" y1="148.4" x2="216.7" y2="148.4" stroke="#000" stroke-width="0.9" stroke-opacity="1"/>
<line x1="123.8" y1="153.8" x2="138.7" y2="153.8" stroke="#000" stroke-width="0.9" stroke-opacity="1"/>
<line x1="143.1" y1="155.1" x2="158.2" y2="155.1" stroke="#000" stroke-width="0.9" stroke-opacity="1"/>
<line x1="104.9" y1="167.3" x2="120.0" y2="167.3" stroke="#000" stroke-width="0.9" stroke-opacity="1"/>
<line x1="84.9" y1="179.3" x2="100.5" y2="179.3" stroke="#000" stroke-width="0.9" stroke-opacity="1"/>
<line x1="178.2" y1="162.2" x2="192.9" y2="162.2" stroke="#000" stroke-width="0.9" stroke-opacity="1"/>
<line x1="190.9" y1="170.4" x2="206.0" y2="170.4" stroke="#000" stroke-width="0.9" stroke-opacity="1"/>
<line x1="208.7" y1="174.4" x2="223.8" y2="174.4" stroke="#000" stroke-width="0.9" stroke-opacity="1"/>
<line x1="198.7" y1="196.3" x2="214.2" y2="196.3" stroke="#000" stroke-width="0.9" stroke-opacity="1"/>
<line x1="184.2" y1="198.0" x2="198.9" y2="198.0" stroke="#000" stroke-width="0.9" stroke-opacity="1"/>
<line x1="329.3" y1="37.3" x2="344.9" y2="37.3" stroke="#000" stroke-width="0.9" stroke-opacity="1"/>
<line x1="330.5" y1="64.4" x2="345.6" y2="64.4" stroke="#000" stroke-width="0.9" stroke-opacity="1"/>
<line x1="294.5" y1="70.0" x2="309.3" y2="70.0" stroke="#000" stroke-width="0.9" stroke-opacity="1"/>
<line x1="305.6" y1="77.3" x2="320.5" y2="77.3" stroke="#000" stroke-width="0.9" stroke-opacity="1"/>
<line x1="40.7" y1="224.0" x2="55.8" y2="224.0" stroke="#000" stroke-width="0.9" stroke-opacity="1"/>
<line x1="13.6" y1="242.7" x2="28.7" y2="242.7" stroke="#000" stroke-width="0.9" stroke-opacity="1"/>
<line x1="162.6" y1="201.7" x2="176.7" y2="201.7" stroke="#000" stroke-width="0.9" stroke-opacity="1"/>
<line x1="154.6" y1="211.0" x2="170.4" y2="211.0" stroke="#000" stroke-width="0.9" stroke-opacity="1"/>
<line x1="206.2" y1="209.2" x2="221.4" y2="209.2" stroke="#000" stroke-width="0.9" stroke-opacity="1"/>
<line x1="183.4" y1="214.3" x2="198.4" y2="214.3" stroke="#000" stroke-width="0.9" stroke-opacity="1"/>
<line x1="189.2" y1="229.7" x2="204.2" y2="229.7" stroke="#000" stroke-width="0.9" stroke-opacity="1"/>
<line x1="180.1" y1="234.7" x2="194.2" y2="234.7" stroke="#000" stroke-width="0.9" stroke-opacity="1"/>
<line x1="192.2" y1="245.2" x2="207.6" y2="245.2" stroke="#000" stroke-width="0.9" stroke-opacity="1"/>
<line x1="162.9" y1="255.0" x2="178.6" y2="255.0" stroke="#000" stroke-width="0.9" stroke-opacity="1"/>
<line x1="143.6" y1="281.7" x2="159.1" y2="281.7" stroke="#000" stroke-width="0.9" stroke-opacity="1"/>
<line x1="224.4" y1="279.5" x2="239.9" y2="279.5" stroke="#000" stroke-width="0.9" stroke-opacity="1"/>
<line x1="208.7" y1="287.2" x2="224.4" y2="287.2" stroke="#000" stroke-width="0.9" stroke-opacity="1"/>
<line x1="54.1" y1="290.8" x2="69.9" y2="290.8" stroke="#000" stroke-width="0.9" stroke-opacity="1"/>
<line x1="34.4" y1="303.7" x2="49.6" y2="303.7" stroke="#000" stroke-width="0.9" stroke-opacity="1"/>
<line x1="62.4" y1="318.2" x2="77.9" y2="318.2" stroke="#000" stroke-width="0.9" stroke-opacity="1"/>
<line x1="97.4" y1="335.3" x2="112.4" y2="335.3" stroke="#000" stroke-width="0.9" stroke-opacity="1"/>
<line x1="267.9" y1="295.8" x2="283.2" y2="295.8" stroke="#000" stroke-width="0.9" stroke-opacity="1"/><line x1="162.7" y1="158.7" x2="173.8" y2="158.7" stroke="#000" stroke-width="1.3"/>
<rect x="148.8" y="40.8" width="5.5" height="5.0" fill="#fde92f" stroke="#000" stroke-width="0.8"/>
<rect x="173.8" y="43.9" width="6.1" height="8.3" fill="#fde92f" stroke="#000" stroke-width="0.8"/>
<rect x="198.2" y="48.6" width="5.6" height="3.6" fill="#fde92f" stroke="#000" stroke-width="0.8"/>
<rect x="221.0" y="54.2" width="5.6" height="5.0" fill="#fde92f" stroke="#000" stroke-width="0.8"/>
<rect x="205.2" y="73.1" width="5.5" height="4.7" fill="#fde92f" stroke="#000" stroke-width="0.8"/>
<rect x="230.2" y="77.8" width="5.5" height="2.8" fill="#fde92f" stroke="#000" stroke-width="0.8"/>
<rect x="176.6" y="96.7" width="5.5" height="6.1" fill="#fde92f" stroke="#000" stroke-width="0.8"/>
<rect x="204.9" y="100.6" width="5.6" height="7.7" fill="#fde92f" stroke="#000" stroke-width="0.8"/>
<rect x="214.9" y="102.2" width="5.6" height="6.1" fill="#6a2a21" stroke="#000" stroke-width="0.8"/>
<rect x="238.2" y="104.7" width="5.6" height="7.2" fill="#fde92f" stroke="#000" stroke-width="0.8"/>
<rect x="243.8" y="108.9" width="5.0" height="3.0" fill="#6aa519" stroke="#000" stroke-width="0.8"/>
<rect x="248.8" y="108.9" width="5.0" height="3.0" fill="#6a2a21" stroke="#000" stroke-width="0.8"/>
<rect x="157.7" y="113.3" width="5.5" height="3.4" fill="#fde92f" stroke="#000" stroke-width="0.8"/>
<rect x="184.1" y="110.6" width="5.5" height="3.8" fill="#fde92f" stroke="#000" stroke-width="0.8"/>
<rect x="132.7" y="121.1" width="5.1" height="8.2" fill="#fde92f" stroke="#000" stroke-width="0.8"/>
<rect x="164.5" y="132.7" width="4.8" height="4.0" fill="#fde92f" stroke="#000" stroke-width="0.8"/>
<rect x="201.1" y="143.8" width="5.4" height="4.6" fill="#fde92f" stroke="#000" stroke-width="0.8"/>
<rect x="211.6" y="145.6" width="5.1" height="2.8" fill="#6a2a21" stroke="#000" stroke-width="0.8"/>
<rect x="123.8" y="147.8" width="5.1" height="6.0" fill="#fde92f" stroke="#000" stroke-width="0.8"/>
<rect x="128.9" y="147.8" width="5.3" height="6.0" fill="#6aa519" stroke="#000" stroke-width="0.8"/>
<rect x="143.1" y="151.6" width="5.1" height="3.5" fill="#fde92f" stroke="#000" stroke-width="0.8"/>
<rect x="114.9" y="162.7" width="5.1" height="4.6" fill="#6a2a21" stroke="#000" stroke-width="0.8"/>
<rect x="84.9" y="174.0" width="5.1" height="5.3" fill="#fde92f" stroke="#000" stroke-width="0.8"/>
<rect x="90.0" y="176.0" width="5.3" height="3.3" fill="#6aa519" stroke="#000" stroke-width="0.8"/>
<rect x="178.2" y="158.4" width="5.1" height="3.8" fill="#fde92f" stroke="#000" stroke-width="0.8"/>
<rect x="183.3" y="160.4" width="4.9" height="1.8" fill="#6aa519" stroke="#000" stroke-width="0.8"/>
<rect x="190.9" y="162.7" width="5.1" height="7.7" fill="#fde92f" stroke="#000" stroke-width="0.8"/>
<rect x="196.0" y="162.7" width="5.1" height="7.7" fill="#6aa519" stroke="#000" stroke-width="0.8"/>
<rect x="208.7" y="168.4" width="5.1" height="6.0" fill="#fde92f" stroke="#000" stroke-width="0.8"/>
<rect x="169.8" y="182.2" width="5.1" height="4.9" fill="#fde92f" stroke="#000" stroke-width="0.8"/>
<rect x="174.9" y="182.2" width="5.1" height="4.9" fill="#6aa519" stroke="#000" stroke-width="0.8"/>
<rect x="180.0" y="183.3" width="5.3" height="3.8" fill="#6a2a21" stroke="#000" stroke-width="0.8"/>
<rect x="198.7" y="189.7" width="5.2" height="6.6" fill="#fde92f" stroke="#000" stroke-width="0.8"/>
<rect x="184.2" y="193.3" width="5.0" height="4.7" fill="#fde92f" stroke="#000" stroke-width="0.8"/>
<rect x="189.6" y="196.3" width="5.0" height="1.7" fill="#6aa519" stroke="#000" stroke-width="0.8"/>
<rect x="334.9" y="34.4" width="4.4" height="2.9" fill="#6aa519" stroke="#000" stroke-width="0.8"/>
<rect x="335.6" y="58.9" width="5.3" height="5.5" fill="#6aa519" stroke="#000" stroke-width="0.8"/>
<rect x="299.8" y="67.8" width="4.4" height="2.2" fill="#6aa519" stroke="#000" stroke-width="0.8"/>
<rect x="310.5" y="72.2" width="5.1" height="5.1" fill="#6aa519" stroke="#000" stroke-width="0.8"/>
<rect x="285.6" y="105.6" width="4.9" height="5.5" fill="#fde92f" stroke="#000" stroke-width="0.8"/>
<rect x="290.5" y="106.7" width="4.8" height="4.4" fill="#6aa519" stroke="#000" stroke-width="0.8"/>
<rect x="295.3" y="104.4" width="5.2" height="6.7" fill="#6a2a21" stroke="#000" stroke-width="0.8"/>
<rect x="342.7" y="115.6" width="5.1" height="8.4" fill="#fde92f" stroke="#000" stroke-width="0.8"/>
<rect x="347.8" y="118.2" width="4.9" height="5.8" fill="#6aa519" stroke="#000" stroke-width="0.8"/>
<rect x="352.7" y="120.7" width="5.1" height="3.3" fill="#6a2a21" stroke="#000" stroke-width="0.8"/>
<rect x="267.1" y="168.4" width="5.1" height="3.8" fill="#fde92f" stroke="#000" stroke-width="0.8"/>
<rect x="272.2" y="168.4" width="5.4" height="3.8" fill="#6aa519" stroke="#000" stroke-width="0.8"/>
<rect x="277.6" y="170.7" width="5.1" height="1.5" fill="#6a2a21" stroke="#000" stroke-width="0.8"/>
<rect x="306.0" y="166.2" width="5.1" height="6.0" fill="#fde92f" stroke="#000" stroke-width="0.8"/>
<rect x="311.1" y="169.3" width="5.4" height="2.9" fill="#6aa519" stroke="#000" stroke-width="0.8"/>
<rect x="316.5" y="166.2" width="5.1" height="6.0" fill="#6a2a21" stroke="#000" stroke-width="0.8"/>
<rect x="234.2" y="185.5" width="5.0" height="2.8" fill="#fde92f" stroke="#000" stroke-width="0.8"/>
<rect x="239.2" y="182.7" width="5.4" height="5.6" fill="#6aa519" stroke="#000" stroke-width="0.8"/>
<rect x="244.6" y="181.7" width="5.1" height="6.6" fill="#6a2a21" stroke="#000" stroke-width="0.8"/>
<rect x="40.7" y="215.1" width="5.5" height="8.9" fill="#fde92f" stroke="#000" stroke-width="0.8"/>
<rect x="13.6" y="238.4" width="4.9" height="4.3" fill="#fde92f" stroke="#000" stroke-width="0.8"/>
<rect x="23.6" y="238.4" width="5.1" height="4.3" fill="#6a2a21" stroke="#000" stroke-width="0.8"/>
<rect x="73.6" y="225.1" width="5.1" height="8.9" fill="#fde92f" stroke="#000" stroke-width="0.8"/>
<rect x="78.7" y="226.0" width="5.3" height="8.0" fill="#6aa519" stroke="#000" stroke-width="0.8"/>
<rect x="84.0" y="227.1" width="5.1" height="6.9" fill="#6a2a21" stroke="#000" stroke-width="0.8"/>
<rect x="103.6" y="241.1" width="5.5" height="6.7" fill="#fde92f" stroke="#000" stroke-width="0.8"/>
<rect x="109.1" y="242.2" width="5.1" height="5.6" fill="#6aa519" stroke="#000" stroke-width="0.8"/>
<rect x="114.2" y="243.8" width="5.4" height="4.0" fill="#6a2a21" stroke="#000" stroke-width="0.8"/>
<rect x="130.2" y="227.3" width="5.6" height="7.8" fill="#fde92f" stroke="#000" stroke-width="0.8"/>
<rect x="135.8" y="230.0" width="5.1" height="5.1" fill="#6aa519" stroke="#000" stroke-width="0.8"/>
<rect x="140.9" y="229.6" width="5.3" height="5.5" fill="#6a2a21" stroke="#000" stroke-width="0.8"/>
<rect x="28.0" y="255.1" width="5.6" height="7.1" fill="#fde92f" stroke="#000" stroke-width="0.8"/>
<rect x="33.6" y="257.3" width="5.1" height="4.9" fill="#6aa519" stroke="#000" stroke-width="0.8"/>
<rect x="38.7" y="256.0" width="5.3" height="6.2" fill="#6a2a21" stroke="#000" stroke-width="0.8"/>
<rect x="77.6" y="270.0" width="5.3" height="6.2" fill="#fde92f" stroke="#000" stroke-width="0.8"/>
<rect x="82.9" y="271.6" width="5.1" height="4.6" fill="#6aa519" stroke="#000" stroke-width="0.8"/>
<rect x="88.0" y="269.3" width="5.6" height="6.9" fill="#6a2a21" stroke="#000" stroke-width="0.8"/>
<rect x="111.3" y="262.7" width="5.2" height="4.6" fill="#fde92f" stroke="#000" stroke-width="0.8"/>
<rect x="116.5" y="261.6" width="5.3" height="5.7" fill="#6aa519" stroke="#000" stroke-width="0.8"/>
<rect x="121.8" y="262.7" width="5.1" height="4.6" fill="#6a2a21" stroke="#000" stroke-width="0.8"/>
<rect x="162.6" y="198.0" width="5.0" height="3.7" fill="#fde92f" stroke="#000" stroke-width="0.8"/>
<rect x="167.6" y="200.0" width="5.0" height="1.7" fill="#6aa519" stroke="#000" stroke-width="0.8"/>
<rect x="154.6" y="206.0" width="5.1" height="5.0" fill="#fde92f" stroke="#000" stroke-width="0.8"/>
<rect x="165.1" y="206.0" width="5.3" height="5.0" fill="#6a2a21" stroke="#000" stroke-width="0.8"/>
<rect x="206.2" y="202.2" width="5.0" height="7.0" fill="#fde92f" stroke="#000" stroke-width="0.8"/>
<rect x="216.4" y="204.2" width="5.0" height="5.0" fill="#6a2a21" stroke="#000" stroke-width="0.8"/>
<rect x="183.4" y="212.7" width="5.0" height="1.6" fill="#fde92f" stroke="#000" stroke-width="0.8"/>
<rect x="188.4" y="208.5" width="5.0" height="5.8" fill="#6aa519" stroke="#000" stroke-width="0.8"/>
<rect x="163.9" y="217.7" width="5.0" height="5.0" fill="#fde92f" stroke="#000" stroke-width="0.8"/>
<rect x="168.9" y="220.0" width="5.3" height="2.7" fill="#6aa519" stroke="#000" stroke-width="0.8"/>
<rect x="174.2" y="216.7" width="5.4" height="6.0" fill="#6a2a21" stroke="#000" stroke-width="0.8"/>
<rect x="189.2" y="223.5" width="5.4" height="6.2" fill="#fde92f" stroke="#000" stroke-width="0.8"/>
<rect x="180.1" y="230.5" width="5.0" height="4.2" fill="#fde92f" stroke="#000" stroke-width="0.8"/>
<rect x="192.2" y="235.8" width="5.4" height="9.4" fill="#fde92f" stroke="#000" stroke-width="0.8"/>
<rect x="209.6" y="243.0" width="5.0" height="3.8" fill="#fde92f" stroke="#000" stroke-width="0.8"/>
<rect x="214.6" y="244.3" width="5.0" height="2.5" fill="#6aa519" stroke="#000" stroke-width="0.8"/>
<rect x="219.6" y="243.0" width="5.5" height="3.8" fill="#6a2a21" stroke="#000" stroke-width="0.8"/>
<rect x="145.2" y="248.3" width="5.2" height="5.9" fill="#fde92f" stroke="#000" stroke-width="0.8"/>
<rect x="150.4" y="250.5" width="5.3" height="3.7" fill="#6aa519" stroke="#000" stroke-width="0.8"/>
<rect x="155.7" y="247.0" width="5.0" height="7.2" fill="#6a2a21" stroke="#000" stroke-width="0.8"/>
<rect x="162.9" y="248.7" width="5.0" height="6.3" fill="#fde92f" stroke="#000" stroke-width="0.8"/>
<rect x="173.2" y="250.8" width="5.4" height="4.2" fill="#6a2a21" stroke="#000" stroke-width="0.8"/>
<rect x="183.2" y="251.3" width="5.0" height="6.2" fill="#fde92f" stroke="#000" stroke-width="0.8"/>
<rect x="188.2" y="251.3" width="5.4" height="6.2" fill="#6aa519" stroke="#000" stroke-width="0.8"/>
<rect x="193.6" y="252.5" width="5.1" height="5.0" fill="#6a2a21" stroke="#000" stroke-width="0.8"/>
<rect x="179.4" y="264.5" width="5.0" height="6.3" fill="#fde92f" stroke="#000" stroke-width="0.8"/>
<rect x="184.4" y="266.7" width="5.2" height="4.1" fill="#6aa519" stroke="#000" stroke-width="0.8"/>
<rect x="189.6" y="263.3" width="5.3" height="7.5" fill="#6a2a21" stroke="#000" stroke-width="0.8"/>
<rect x="203.2" y="262.5" width="5.0" height="7.2" fill="#fde92f" stroke="#000" stroke-width="0.8"/>
<rect x="208.2" y="264.7" width="5.0" height="5.0" fill="#6aa519" stroke="#000" stroke-width="0.8"/>
<rect x="213.2" y="263.7" width="5.4" height="6.0" fill="#6a2a21" stroke="#000" stroke-width="0.8"/>
<rect x="177.4" y="273.7" width="5.0" height="6.0" fill="#fde92f" stroke="#000" stroke-width="0.8"/>
<rect x="182.4" y="273.7" width="5.3" height="6.0" fill="#6aa519" stroke="#000" stroke-width="0.8"/>
<rect x="187.7" y="274.7" width="5.5" height="5.0" fill="#6a2a21" stroke="#000" stroke-width="0.8"/>
<rect x="143.6" y="277.5" width="5.0" height="4.2" fill="#fde92f" stroke="#000" stroke-width="0.8"/>
<rect x="153.7" y="275.3" width="5.4" height="6.4" fill="#6a2a21" stroke="#000" stroke-width="0.8"/>
<rect x="224.4" y="273.3" width="5.2" height="6.2" fill="#fde92f" stroke="#000" stroke-width="0.8"/>
<rect x="208.7" y="279.2" width="5.4" height="8.0" fill="#fde92f" stroke="#000" stroke-width="0.8"/>
<rect x="219.1" y="280.8" width="5.3" height="6.4" fill="#6a2a21" stroke="#000" stroke-width="0.8"/>
<rect x="189.1" y="291.3" width="5.0" height="6.2" fill="#fde92f" stroke="#000" stroke-width="0.8"/>
<rect x="194.1" y="291.3" width="5.3" height="6.2" fill="#6aa519" stroke="#000" stroke-width="0.8"/>
<rect x="199.4" y="290.3" width="5.2" height="7.2" fill="#6a2a21" stroke="#000" stroke-width="0.8"/>
<rect x="135.2" y="296.7" width="5.2" height="3.8" fill="#fde92f" stroke="#000" stroke-width="0.8"/>
<rect x="140.4" y="297.8" width="5.3" height="2.7" fill="#6aa519" stroke="#000" stroke-width="0.8"/>
<rect x="145.7" y="295.5" width="5.4" height="5.0" fill="#6a2a21" stroke="#000" stroke-width="0.8"/>
<rect x="54.1" y="286.5" width="5.3" height="4.3" fill="#fde92f" stroke="#000" stroke-width="0.8"/>
<rect x="64.6" y="284.8" width="5.3" height="6.0" fill="#6a2a21" stroke="#000" stroke-width="0.8"/>
<rect x="34.4" y="294.8" width="5.2" height="8.9" fill="#fde92f" stroke="#000" stroke-width="0.8"/>
<rect x="44.4" y="298.2" width="5.2" height="5.5" fill="#6a2a21" stroke="#000" stroke-width="0.8"/>
<rect x="62.4" y="309.8" width="5.3" height="8.4" fill="#fde92f" stroke="#000" stroke-width="0.8"/>
<rect x="72.4" y="311.2" width="5.5" height="7.0" fill="#6a2a21" stroke="#000" stroke-width="0.8"/>
<rect x="97.4" y="325.0" width="5.3" height="10.3" fill="#fde92f" stroke="#000" stroke-width="0.8"/>
<rect x="267.9" y="291.3" width="5.3" height="4.5" fill="#fde92f" stroke="#000" stroke-width="0.8"/>
</g>
<text x="30.3" y="96.6" font-size="21.9" stroke="#111" stroke-width="0.25">El Niño</text>
<text x="379.5" y="96.6" font-size="21.8" stroke="#111" stroke-width="0.25">La Niña</text>
<text x="755.7" y="96.6" font-size="21.9" stroke="#111" stroke-width="0.25">Neutro</text>
<text x="153.8" y="373" font-size="14.45">Municipios de Goiás e Distrtrito Federal</text>
<text x="596" y="374.4" font-size="13" text-anchor="middle">Precipitação Média</text>
<rect x="501.2" y="380.6" width="14.4" height="7.6" fill="#ffffcc" stroke="#b5b5a8" stroke-width="0.5"/>
<text x="520" y="388.6" font-size="11.6">&lt;= 700</text>
<rect x="501.2" y="394.4" width="14.4" height="7.6" fill="#c7e9b4" stroke="#b5b5a8" stroke-width="0.5"/>
<text x="520" y="402.4" font-size="11.6">700 - 900</text>
<rect x="501.2" y="408.0" width="14.4" height="7.6" fill="#7fcdbb" stroke="#b5b5a8" stroke-width="0.5"/>
<text x="520" y="416.0" font-size="11.6">900 - 1100</text>
<rect x="501.2" y="421.4" width="14.4" height="7.6" fill="#3cacc4" stroke="#b5b5a8" stroke-width="0.5"/>
<text x="520" y="429.4" font-size="11.6">1100 - 1300</text>
<rect x="593.3" y="395.1" width="14.4" height="7.6" fill="#2b7bb6"/>
<text x="612.8" y="403.1" font-size="11.6">1300 - 1500</text>
<rect x="593.3" y="408.6" width="14.4" height="7.6" fill="#253494"/>
<text x="612.8" y="416.6" font-size="11.6">1500 - 1700</text>
<rect x="593.3" y="422.2" width="14.4" height="7.6" fill="#253494"/>
<text x="612.8" y="430.2" font-size="11.6">1700 - 1900</text>
<text x="732.3" y="380.6" font-size="11.75">Anomalias de Produtividade</text>
<rect x="732.4" y="386.7" width="8.6" height="8" fill="#fde92f" stroke="#b9a98c" stroke-width="0.5"/>
<text x="749.2" y="394.5" font-size="11.3">Milho</text>
<rect x="732.4" y="399.3" width="8.6" height="8" fill="#128040" stroke="#b9a98c" stroke-width="0.5"/>
<text x="749.2" y="407.8" font-size="11.3">Soja</text>
<rect x="732.4" y="412.9" width="8.6" height="8" fill="#6a2a21" stroke="#b9a98c" stroke-width="0.5"/>
<text x="749.2" y="421.5" font-size="11.3">Feijão</text>
<path d="M812.4,395.6 V386.9 H819.8 V395.6 H834.4 M812,395.6 H820" fill="none" stroke="#222" stroke-width="0.9"/>
<text x="838.9" y="396.2" font-size="11.1">positiva</text>
<path d="M1005.4,378.7 L996.2,390.9 L1005.4,403.1 L993.2,393.9 L981.0,403.1 L990.2,390.9 L981.0,378.7 L993.2,387.9Z" fill="#000"/>
<path d="M993.2,367.9 L996.0,388.1 L1016.2,390.9 L996.0,393.7 L993.2,413.9 L990.4,393.7 L970.2,390.9 L990.4,388.1Z" fill="#000"/>
<rect x="946.3" y="438.3" width="92.5" height="6" fill="#fff" stroke="#555" stroke-width="0.6"/>
<rect x="946" y="438" width="46.9" height="6.6" fill="#000"/>
<text x="946.6" y="431.7" font-size="8.5" text-anchor="middle">0</text>
<text x="993" y="431.7" font-size="8.5" text-anchor="middle">100</text>
<text x="1031" y="431.7" font-size="8.5">200 km</text>
<rect x="5.5" y="354.5" width="94" height="92" fill="#fff"/>
<line x1="5" y1="354.5" x2="99.9" y2="354.5" stroke="#bdbdbd" stroke-width="0.9"/>
<line x1="5.5" y1="354" x2="5.5" y2="447" stroke="#666" stroke-width="1"/>
<line x1="99.4" y1="354" x2="99.4" y2="447" stroke="#9a9a9a" stroke-width="0.9"/>
<line x1="5" y1="446.8" x2="99.9" y2="446.8" stroke="#b5b5b5" stroke-width="1.2"/>
<g fill="none" stroke="#bdbdbd" stroke-width="0.42" stroke-linejoin="round">
<path d="M16.2,366.2 L18.3,365.3 L20.4,364.5 L22.7,364.0 L23.7,365.5 L25.1,366.7 L26.0,368.3 L27.6,367.3 L29.2,366.2 L29.1,364.3 L28.9,362.5 L29.2,360.7 L31.0,360.7 L32.9,360.4 L34.7,360.7 L35.7,359.2 L36.6,357.6 L37.9,356.4 L39.7,356.6 L41.2,357.4 L41.8,359.6 L42.3,361.8 L42.8,363.7 L44.0,365.3 L44.5,367.3 L45.8,366.0 L47.4,365.1 L48.8,364.0 L51.1,363.9 L53.2,363.3 L55.4,362.9 L56.8,361.4 L58.5,360.2 L59.7,358.5 L61.1,360.6 L61.9,362.9 L62.4,364.8 L63.5,366.5 L64.1,368.3 L66.1,368.6 L68.0,369.2 L69.8,369.8 L71.7,370.5 L73.5,371.5 L75.4,371.8 L77.2,372.7 L79.1,373.3 L80.9,373.9 L82.9,374.2 L84.8,374.9 L86.7,375.7 L88.7,376.2 L90.6,377.0 L92.4,378.1 L94.0,379.1 L95.2,380.4 L96.8,381.4 L97.2,383.2 L97.6,385.0 L97.9,386.9 L97.1,389.0 L96.4,391.2 L95.7,393.4 L94.7,395.3 L93.3,396.9 L92.4,398.8 L91.2,400.6 L90.4,402.6 L89.1,404.3 L88.4,406.4 L87.7,408.6 L87.0,410.8 L85.6,412.9 L84.6,415.1 L83.7,417.4 L82.3,418.6 L80.6,419.3 L79.3,420.6 L77.6,421.3 L75.7,421.4 L73.9,421.7 L72.3,422.7 L71.1,424.1 L69.5,425.0 L68.5,426.6 L67.4,428.3 L67.1,430.7 L66.3,433.0 L65.1,434.3 L63.9,435.5 L63.0,437.0 L61.9,438.4 L60.6,439.7 L59.7,441.3 L58.7,442.7 L57.5,443.9 L56.5,445.2 L55.1,443.9 L53.6,442.6 L52.1,441.3 L50.3,440.6 L48.6,439.7 L46.7,439.1 L48.3,437.9 L49.6,436.2 L51.0,434.8 L52.7,433.2 L54.3,431.5 L54.0,429.3 L54.3,427.2 L52.7,426.0 L51.0,425.0 L48.8,425.0 L48.2,423.1 L47.7,421.2 L46.7,419.5 L45.8,417.3 L44.5,415.2 L44.3,413.0 L44.5,410.8 L43.3,408.7 L42.3,406.5 L40.7,405.8 L39.0,405.4 L38.3,403.3 L38.3,401.0 L37.9,398.8 L36.1,398.7 L34.3,398.4 L32.5,397.8 L30.9,396.9 L29.7,395.4 L28.1,394.5 L27.9,392.8 L28.1,391.2 L26.4,391.8 L24.5,392.0 L22.7,392.3 L20.5,392.4 L18.4,393.3 L16.2,393.4 L15.0,392.3 L14.0,391.2 L11.8,390.6 L9.6,390.1 L8.8,388.3 L7.4,386.9 L8.7,385.2 L9.8,383.4 L10.7,381.4 L12.5,380.5 L14.3,379.9 L16.2,379.2 L16.8,377.4 L17.9,375.7 L18.3,373.8 L17.5,371.5 L16.2,369.4Z"/>
<path d="M42.3,361.8 L42.7,363.8 L43.2,365.7 L44.0,367.5 L44.5,369.4 L46.0,370.8 L47.4,372.3 L48.8,373.8 L48.1,375.7 L47.1,377.5 L46.5,379.6 L45.6,381.4 L44.9,383.2 L44.1,385.0 L43.4,386.9 L43.7,388.6 L44.5,390.1"/>
<path d="M44.5,390.1 L46.4,390.2 L48.3,390.9 L50.2,391.1 L52.1,391.2 L54.3,391.3 L56.5,391.8 L58.6,392.0 L60.8,392.3 L62.0,390.9 L63.1,389.5 L64.1,387.9 L64.7,385.9 L65.5,384.0 L66.7,382.3 L67.4,380.3 L68.0,378.1 L69.0,376.0 L69.5,373.8 L71.0,372.4 L72.8,371.6"/>
<path d="M28.1,391.2 L30.4,390.4 L32.5,389.0 L34.6,389.8 L36.9,390.1 L38.2,391.4 L39.2,392.9 L40.1,394.5 L40.3,396.7 L40.7,398.9 L41.2,401.0 L41.5,402.9 L42.1,404.6 L42.3,406.5"/>
<path d="M44.5,390.1 L43.9,392.0 L43.0,393.7 L42.3,395.6 L42.0,397.4 L41.5,399.2 L41.2,401.0"/>
<path d="M41.2,401.0 L43.1,400.3 L45.0,399.7 L46.9,399.3 L48.8,398.8 L50.7,398.6 L52.7,398.6 L54.6,398.8 L56.5,398.8 L58.3,398.7 L60.1,398.3 L61.9,397.8"/>
<path d="M42.3,406.5 L43.9,408.2 L45.6,409.7 L47.8,409.7 L49.9,409.5 L52.1,409.1 L53.7,409.7 L55.4,409.7"/>
<path d="M64.1,387.9 L65.7,388.7 L67.4,389.0 L68.3,391.3 L69.5,393.4 L69.0,395.6 L68.4,397.8 L66.6,397.9 L64.8,398.1 L63.0,397.8"/>
<path d="M69.5,373.8 L70.7,375.4 L71.9,376.9 L72.7,378.7 L73.9,380.3 L73.8,382.5 L73.1,384.7 L72.8,386.9 L74.3,387.9 L75.9,388.8 L77.2,390.1 L77.9,388.3 L78.4,386.4 L79.3,384.7 L80.4,382.5 L81.3,380.2 L82.4,378.0 L83.7,376.0"/>
<path d="M77.2,390.1 L76.8,392.3 L76.1,394.5 L73.8,394.8 L71.7,395.6 L70.2,396.8 L68.4,397.8"/>
<path d="M76.1,394.5 L77.9,393.7 L79.7,393.0 L81.5,392.3 L83.7,392.5 L85.8,393.2 L88.1,393.4 L89.9,394.2 L91.3,395.6"/>
<path d="M71.7,402.1 L73.5,402.5 L75.4,402.8 L77.2,403.2 L79.3,404.3 L81.6,405.2 L83.7,406.5 L84.6,408.7 L85.9,410.8 L85.0,412.6 L84.3,414.4 L83.7,416.3"/>
<path d="M83.7,376.0 L84.5,378.1 L85.1,380.3 L85.9,382.5 L87.4,383.8 L89.1,384.7 L90.8,383.0 L92.4,381.4"/>
<path d="M85.9,382.5 L85.5,384.3 L85.1,386.1 L84.8,387.9 L86.4,389.7 L88.1,391.2 L89.8,390.6 L91.6,390.2 L93.5,390.1 L95.1,389.5 L96.8,389.0"/>
<path d="M89.1,384.7 L91.3,384.5 L93.5,384.8 L95.7,384.7"/>
<path d="M91.3,386.9 L93.1,386.6 L95.0,387.0 L96.8,386.9"/>
<path d="M65.2,414.1 L67.4,414.4 L69.5,413.8 L71.7,414.1 L73.1,415.3 L74.7,416.1 L76.1,417.4 L78.3,417.7 L80.4,417.1 L82.6,417.4 L83.9,415.3 L84.9,413.1 L85.9,410.8"/>
<path d="M54.3,421.7 L56.1,422.4 L57.9,423.2 L59.7,423.9 L61.9,423.5 L64.1,423.1 L66.3,422.8 L68.1,421.7 L69.9,420.7 L71.7,419.5 L72.9,420.5 L73.9,421.7"/>
<path d="M52.1,409.1 L51.7,411.1 L51.2,413.1 L51.0,415.2 L51.9,417.5 L53.3,419.5 L54.3,421.7 L52.4,422.7 L50.6,423.8 L48.8,425.0"/>
<path d="M54.3,427.2 L56.5,427.3 L58.6,428.0 L60.8,428.3 L62.6,427.4 L64.4,426.6 L66.3,426.1"/>
<path d="M55.4,432.6 L57.5,432.9 L59.7,433.1 L61.9,433.0 L63.6,432.3 L65.2,431.5"/>
<path d="M55.4,409.7 L56.2,412.0 L57.6,414.1 L59.5,414.2 L61.4,414.3 L63.3,414.3 L65.2,414.1"/>
<path d="M16.2,379.2 L18.0,379.4 L19.8,380.1 L21.6,380.3 L23.2,381.5 L24.9,382.5 L26.6,383.4 L28.1,384.7 L28.0,386.9 L28.0,389.0 L28.1,391.2"/>
<path d="M26.0,368.3 L27.2,370.0 L29.0,371.1 L30.3,372.7 L32.5,372.8 L34.6,373.7 L36.9,373.8 L38.6,372.9 L40.4,372.1 L42.3,371.6 L43.5,370.6 L44.5,369.4"/>
</g>
<path d="M63.0,397.8 L67.4,398.8 L71.7,398.8 L72.2,402.1 L70.0,405.4 L67.4,407.6 L65.2,411.9 L60.8,413.0 L57.6,411.3 L55.4,409.7 L56.5,406.5 L59.7,403.2 L61.9,399.9Z" fill="none" stroke="#4aa6c0" stroke-width="0.7"/>
<path d="M67.4,403.4 L70.4,403.4 L70.4,405.6 L67.4,405.6Z" fill="none" stroke="#4aa6c0" stroke-width="0.5"/>
</svg>
</body>
</html>
